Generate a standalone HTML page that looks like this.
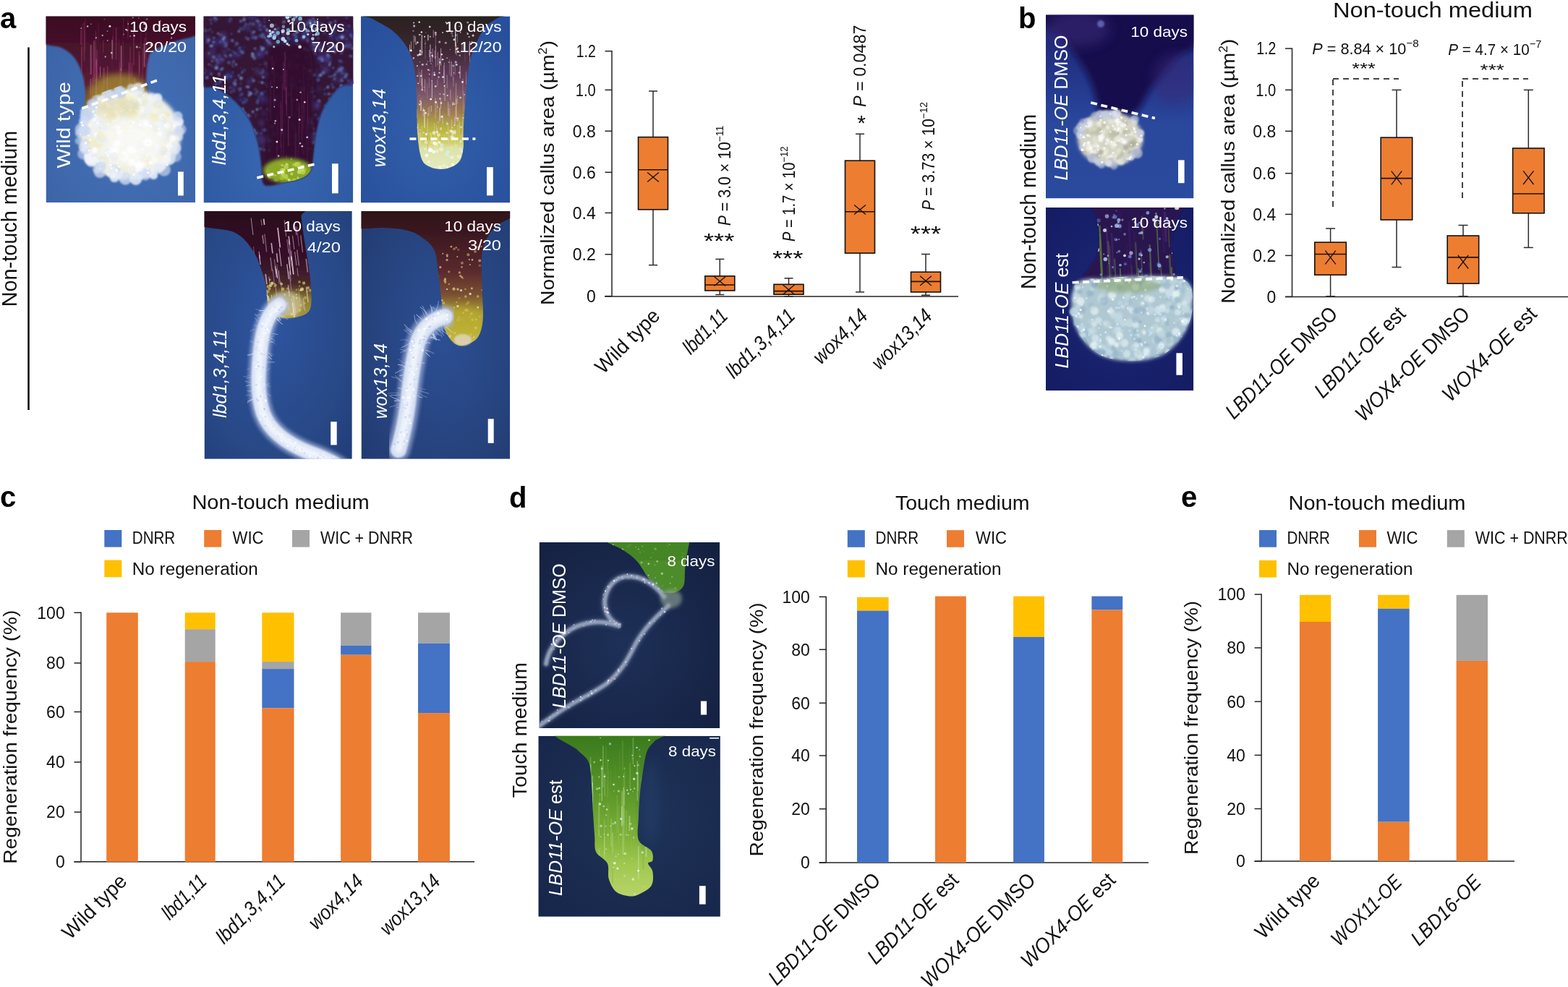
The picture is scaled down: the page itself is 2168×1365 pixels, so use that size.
<!DOCTYPE html><html><head><meta charset="utf-8"><title>Figure</title><style>html,body{margin:0;padding:0;background:#fff;overflow:hidden}svg{display:block}</style></head><body><svg width="2168" height="1365" viewBox="0 0 2168 1365" font-family='"Liberation Sans", Arial, sans-serif'><defs><filter id="b05" x="-20%" y="-20%" width="140%" height="140%"><feGaussianBlur stdDeviation="0.6"/></filter><filter id="b1" x="-20%" y="-20%" width="140%" height="140%"><feGaussianBlur stdDeviation="1.2"/></filter><filter id="b2" x="-20%" y="-20%" width="140%" height="140%"><feGaussianBlur stdDeviation="2.5"/></filter><filter id="b4" x="-30%" y="-30%" width="160%" height="160%"><feGaussianBlur stdDeviation="4"/></filter><filter id="b8" x="-40%" y="-40%" width="180%" height="180%"><feGaussianBlur stdDeviation="8"/></filter><radialGradient id="bgA" cx="55%" cy="60%" r="70%" ><stop offset="0" stop-color="#4672b8"/><stop offset="1" stop-color="#3c64a8"/></radialGradient><linearGradient id="stemA" x1="0" y1="22" x2="0" y2="160" gradientUnits="userSpaceOnUse"><stop offset="0" stop-color="#3a0e22"/><stop offset="0.45" stop-color="#4e1430"/><stop offset="0.7" stop-color="#5a2030"/><stop offset="0.85" stop-color="#7a5a28"/><stop offset="1" stop-color="#8a7a30"/></linearGradient><clipPath id="cpA"><path d="M55.0,15.0 C92.5,8.2 242.5,10.2 280.0,15.0 C317.5,19.8 286.7,36.8 280.0,44.0 C273.3,51.2 251.3,53.7 240.0,58.0 C228.7,62.3 217.8,66.0 212.0,70.0 C206.2,74.0 206.7,75.3 205.0,82.0 C203.3,88.7 202.5,98.7 202.0,110.0 C201.5,121.3 209.0,141.7 202.0,150.0 C195.0,158.3 173.5,158.7 160.0,160.0 C146.5,161.3 128.0,163.8 121.0,158.0 C114.0,152.2 119.2,134.2 118.0,125.0 C116.8,115.8 116.5,110.5 114.0,103.0 C111.5,95.5 107.8,86.2 103.0,80.0 C98.2,73.8 93.0,70.0 85.0,66.0 C77.0,62.0 60.0,64.5 55.0,56.0 C50.0,47.5 17.5,21.8 55.0,15.0 Z"/></clipPath><clipPath id="calA"><path d="M60,158 L280,76 L280,290 L60,290 Z"/></clipPath><clipPath id="cp1"><rect x="63.5" y="22.5" width="206.5" height="257.5"/></clipPath><radialGradient id="bgB" cx="50%" cy="75%" r="70%" ><stop offset="0" stop-color="#3a68b2"/><stop offset="1" stop-color="#2c56a0"/></radialGradient><clipPath id="cpB"><path d="M275.0,15.0 C311.7,-0.8 458.3,-0.2 495.0,15.0 C531.7,30.2 499.2,88.5 495.0,106.0 C490.8,123.5 476.8,114.5 470.0,120.0 C463.2,125.5 458.5,132.3 454.0,139.0 C449.5,145.7 446.0,151.5 443.0,160.0 C440.0,168.5 437.7,180.8 436.0,190.0 C434.3,199.2 434.0,207.5 433.0,215.0 C432.0,222.5 432.5,229.8 430.0,235.0 C427.5,240.2 423.8,243.2 418.0,246.0 C412.2,248.8 403.7,250.3 395.0,252.0 C386.3,253.7 371.5,259.2 366.0,256.0 C360.5,252.8 363.5,242.3 362.0,233.0 C360.5,223.7 359.7,210.8 357.0,200.0 C354.3,189.2 351.3,178.0 346.0,168.0 C340.7,158.0 332.7,147.7 325.0,140.0 C317.3,132.3 308.3,127.0 300.0,122.0 C291.7,117.0 279.2,127.8 275.0,110.0 C270.8,92.2 238.3,30.8 275.0,15.0 Z"/></clipPath><clipPath id="cp2"><rect x="281.5" y="22.5" width="206.8" height="258.0"/></clipPath><radialGradient id="bgC" cx="50%" cy="60%" r="70%" ><stop offset="0" stop-color="#3260aa"/><stop offset="1" stop-color="#284f9c"/></radialGradient><linearGradient id="stemC" x1="0" y1="22" x2="0" y2="235" gradientUnits="userSpaceOnUse"><stop offset="0" stop-color="#2a221e"/><stop offset="0.2" stop-color="#3a2630"/><stop offset="0.38" stop-color="#5e3a56"/><stop offset="0.52" stop-color="#7e5a6a"/><stop offset="0.62" stop-color="#9a7a50"/><stop offset="0.72" stop-color="#b8b040"/><stop offset="0.8" stop-color="#c8c848"/><stop offset="0.86" stop-color="#dde2a8"/><stop offset="1" stop-color="#e6ecc4"/></linearGradient><clipPath id="cpC"><path d="M506.0,20.0 C536.8,19.0 669.3,19.3 700.0,20.0 C730.7,20.7 694.8,21.1 690.0,24.0 C685.2,26.9 676.8,30.4 671.0,37.6 C665.2,44.8 659.3,57.1 655.4,66.9 C651.5,76.7 649.5,84.8 647.6,96.2 C645.7,107.6 644.9,121.4 643.7,135.4 C642.6,149.4 641.2,169.0 640.7,180.4 C640.2,191.8 641.5,196.9 640.7,203.8 C639.9,210.7 638.8,217.5 636.0,222.0 C633.2,226.5 628.3,229.0 624.0,231.0 C619.7,233.0 614.8,234.0 610.0,234.0 C605.2,234.0 599.5,233.3 595.0,231.0 C590.5,228.7 586.0,227.8 583.0,220.0 C580.0,212.2 578.3,198.4 577.2,184.3 C576.1,170.2 576.9,150.1 576.2,135.4 C575.5,120.7 575.3,107.6 573.2,96.2 C571.1,84.8 568.4,75.7 563.5,66.9 C558.6,58.1 552.0,50.2 543.9,43.4 C535.8,36.6 521.3,29.9 515.0,26.0 C508.7,22.1 475.2,21.0 506.0,20.0 Z"/></clipPath><clipPath id="cp3"><rect x="499" y="22.5" width="206.29999999999995" height="258.0"/></clipPath><radialGradient id="bgD" cx="45%" cy="45%" r="75%" ><stop offset="0" stop-color="#2e55a0"/><stop offset="0.7" stop-color="#284886"/><stop offset="1" stop-color="#213e7a"/></radialGradient><linearGradient id="stemD" x1="0" y1="292" x2="0" y2="440" gradientUnits="userSpaceOnUse"><stop offset="0" stop-color="#2a0c1c"/><stop offset="0.5" stop-color="#38122a"/><stop offset="0.68" stop-color="#4a2a2a"/><stop offset="0.82" stop-color="#8a7a30"/><stop offset="1" stop-color="#a89a48"/></linearGradient><clipPath id="cpD"><path d="M275.0,285.0 C298.2,280.7 390.4,282.5 414.0,285.0 C437.6,287.5 415.5,293.1 416.5,300.0 C417.5,306.9 418.4,315.8 420.0,326.7 C421.6,337.6 424.5,353.3 426.2,365.3 C427.9,377.3 429.7,388.6 430.1,398.9 C430.5,409.2 431.4,420.8 428.8,427.2 C426.2,433.6 421.1,435.4 414.6,437.5 C408.1,439.6 397.1,440.9 390.0,440.0 C382.9,439.1 375.6,438.9 372.0,432.0 C368.4,425.1 369.7,407.9 368.2,398.9 C366.7,389.9 366.1,386.8 363.1,378.2 C360.1,369.6 356.6,356.8 350.2,347.3 C343.8,337.9 336.9,327.6 324.4,321.5 C311.9,315.4 283.2,317.1 275.0,311.0 C266.8,304.9 251.8,289.3 275.0,285.0 Z"/></clipPath><clipPath id="cp4"><rect x="282.5" y="292" width="204.3" height="342.79999999999995"/></clipPath><radialGradient id="bgE" cx="55%" cy="50%" r="75%" ><stop offset="0" stop-color="#2c4f94"/><stop offset="0.7" stop-color="#26427c"/><stop offset="1" stop-color="#213a70"/></radialGradient><linearGradient id="stemE" x1="0" y1="292" x2="0" y2="478" gradientUnits="userSpaceOnUse"><stop offset="0" stop-color="#2e1418"/><stop offset="0.2" stop-color="#3e1a22"/><stop offset="0.45" stop-color="#5a2a2e"/><stop offset="0.62" stop-color="#7a5030"/><stop offset="0.75" stop-color="#a89a30"/><stop offset="0.88" stop-color="#b8b030"/><stop offset="1" stop-color="#c8b868"/></linearGradient><clipPath id="cpE"><path d="M490.0,285.0 C527.5,280.2 677.5,283.2 715.0,285.0 C752.5,286.8 719.2,291.8 715.0,296.0 C710.8,300.2 696.6,305.1 690.0,310.0 C683.4,314.9 679.4,318.6 675.5,325.5 C671.6,332.4 667.9,339.7 666.4,351.3 C664.9,362.9 666.2,380.1 666.4,395.1 C666.6,410.1 668.8,429.5 667.7,441.5 C666.6,453.5 664.6,461.2 660.0,467.3 C655.4,473.4 645.8,477.2 640.0,478.0 C634.2,478.8 629.5,476.7 625.0,472.0 C620.5,467.3 615.3,458.5 613.0,450.0 C610.7,441.5 612.2,433.0 611.0,420.9 C609.8,408.8 607.7,389.8 605.9,377.1 C604.1,364.5 604.3,353.5 600.0,345.0 C595.7,336.5 586.7,330.5 580.0,326.0 C573.3,321.5 568.3,319.8 560.0,318.0 C551.7,316.2 541.7,315.7 530.0,315.0 C518.3,314.3 496.7,319.0 490.0,314.0 C483.3,309.0 452.5,289.8 490.0,285.0 Z"/></clipPath><clipPath id="cp5"><rect x="499.5" y="292" width="205.70000000000005" height="342.79999999999995"/></clipPath><linearGradient id="bgF" x1="0" y1="0" x2="0" y2="1"><stop offset="0" stop-color="#1e2470"/><stop offset="0.35" stop-color="#23378a"/><stop offset="0.6" stop-color="#2a489c"/><stop offset="1" stop-color="#2a4a9e"/></linearGradient><clipPath id="cp6"><rect x="1446" y="20.6" width="204.5" height="253.79999999999998"/></clipPath><radialGradient id="bgG" cx="50%" cy="50%" r="70%" ><stop offset="0" stop-color="#1c2878"/><stop offset="1" stop-color="#141c62"/></radialGradient><clipPath id="cpG"><path d="M1516.0,280.0 C1534.7,276.7 1610.0,275.0 1628.0,280.0 C1646.0,285.0 1625.3,300.0 1624.0,310.0 C1622.7,320.0 1620.0,329.7 1620.0,340.0 C1620.0,350.3 1624.0,363.3 1624.0,372.0 C1624.0,380.7 1640.7,388.2 1620.0,392.0 C1599.3,395.8 1519.2,398.3 1500.0,395.0 C1480.8,391.7 1502.3,378.7 1505.0,372.0 C1507.7,365.3 1513.5,362.0 1516.0,355.0 C1518.5,348.0 1520.0,339.2 1520.0,330.0 C1520.0,320.8 1516.7,308.3 1516.0,300.0 C1515.3,291.7 1497.3,283.3 1516.0,280.0 Z"/></clipPath><clipPath id="eggG"><path d="M1484,402 C1484,388 1500,384 1520,386 C1550,382 1600,380 1630,384 C1646,388 1650,400 1649,415 C1650,440 1640,468 1612,488 C1588,503 1540,503 1516,488 C1490,470 1480,440 1482,420 C1480,412 1482,406 1484,402 Z"/></clipPath><clipPath id="cp7"><rect x="1446" y="287" width="204.29999999999995" height="253.29999999999995"/></clipPath><radialGradient id="bgH" cx="45%" cy="55%" r="75%" ><stop offset="0" stop-color="#1e3058"/><stop offset="1" stop-color="#142040"/></radialGradient><clipPath id="cpH"><path d="M828.0,740.0 C847.7,738.3 937.1,738.4 958.0,740.0 C978.9,741.6 955.0,742.5 953.2,749.9 C951.4,757.2 948.7,774.1 947.4,784.1 C946.1,794.1 947.7,803.7 945.4,809.6 C943.1,815.5 937.9,817.6 933.7,819.3 C929.5,821.0 923.6,820.3 920.0,820.0 C916.4,819.7 916.0,820.8 912.1,817.4 C908.2,814.0 901.7,806.6 896.5,799.8 C891.3,792.9 886.7,782.8 880.8,776.3 C874.9,769.8 868.1,765.0 861.3,760.6 C854.5,756.2 845.5,753.4 840.0,750.0 C834.5,746.6 808.3,741.7 828.0,740.0 Z"/></clipPath><clipPath id="cp8"><rect x="745.5" y="750" width="249.79999999999995" height="257"/></clipPath><radialGradient id="bgI" cx="55%" cy="45%" r="75%" ><stop offset="0" stop-color="#1f3358"/><stop offset="1" stop-color="#17264a"/></radialGradient><linearGradient id="stemI" x1="0" y1="1018" x2="0" y2="1240" gradientUnits="userSpaceOnUse"><stop offset="0" stop-color="#3a7a1e"/><stop offset="0.35" stop-color="#5a9628"/><stop offset="0.6" stop-color="#7aae36"/><stop offset="0.8" stop-color="#a0c850"/><stop offset="1" stop-color="#b8d468"/></linearGradient><clipPath id="cpI"><path d="M770.0,1010.0 C789.9,1005.4 895.5,1007.5 918.0,1010.0 C940.5,1012.5 908.9,1020.1 905.0,1025.0 C901.1,1029.9 897.2,1032.0 894.5,1039.3 C891.8,1046.6 890.3,1058.9 888.7,1068.7 C887.1,1078.5 885.8,1087.6 884.8,1098.0 C883.8,1108.4 883.1,1120.6 882.8,1131.3 C882.5,1142.0 880.1,1154.5 883.0,1162.0 C885.9,1169.5 897.2,1171.6 900.4,1176.3 C903.6,1181.0 903.1,1187.0 902.4,1190.0 C901.7,1193.0 896.0,1191.4 896.0,1194.0 C896.0,1196.6 901.7,1200.4 902.4,1205.6 C903.1,1210.8 904.0,1219.8 900.4,1225.2 C896.8,1230.6 886.3,1235.6 880.8,1237.9 C875.3,1240.2 872.1,1239.7 867.2,1238.9 C862.3,1238.1 855.8,1236.9 851.5,1233.0 C847.2,1229.1 843.7,1221.9 841.7,1215.4 C839.8,1208.9 842.7,1200.1 839.8,1193.9 C836.9,1187.7 827.0,1184.4 824.1,1178.2 C821.2,1172.0 822.9,1165.2 822.2,1156.7 C821.6,1148.2 820.9,1138.8 820.2,1127.4 C819.5,1116.0 819.2,1100.3 818.2,1088.2 C817.2,1076.1 817.5,1063.5 814.3,1055.0 C811.0,1046.5 806.1,1044.9 798.7,1037.4 C791.3,1029.9 750.1,1014.6 770.0,1010.0 Z"/></clipPath><clipPath id="cp9"><rect x="744.3" y="1017.8" width="251.60000000000002" height="250.0"/></clipPath></defs><g clip-path="url(#cp1)"><rect x="63.5" y="22.5" width="206.5" height="257.5" fill="url(#bgA)"/><path d="M55.0,15.0 C92.5,8.2 242.5,10.2 280.0,15.0 C317.5,19.8 286.7,36.8 280.0,44.0 C273.3,51.2 251.3,53.7 240.0,58.0 C228.7,62.3 217.8,66.0 212.0,70.0 C206.2,74.0 206.7,75.3 205.0,82.0 C203.3,88.7 202.5,98.7 202.0,110.0 C201.5,121.3 209.0,141.7 202.0,150.0 C195.0,158.3 173.5,158.7 160.0,160.0 C146.5,161.3 128.0,163.8 121.0,158.0 C114.0,152.2 119.2,134.2 118.0,125.0 C116.8,115.8 116.5,110.5 114.0,103.0 C111.5,95.5 107.8,86.2 103.0,80.0 C98.2,73.8 93.0,70.0 85.0,66.0 C77.0,62.0 60.0,64.5 55.0,56.0 C50.0,47.5 17.5,21.8 55.0,15.0 Z" fill="url(#stemA)" filter="url(#b1)"/><g clip-path="url(#cpA)" filter="url(#b05)"><line x1="170.7" y1="25.2" x2="170.7" y2="52.6" stroke="#8a2a5a" stroke-width="1.1" opacity="0.49"/><line x1="194.8" y1="33.1" x2="194.8" y2="67.1" stroke="#a04070" stroke-width="0.8" opacity="0.33"/><line x1="167.2" y1="93.8" x2="167.2" y2="141.1" stroke="#c080b0" stroke-width="1.8" opacity="0.33"/><line x1="166.0" y1="125.6" x2="166.0" y2="140.9" stroke="#c080b0" stroke-width="1.9" opacity="0.37"/><line x1="124.8" y1="144.5" x2="124.8" y2="174.7" stroke="#8a2a5a" stroke-width="0.9" opacity="0.38"/><line x1="142.7" y1="55.9" x2="142.7" y2="72.8" stroke="#8a2a5a" stroke-width="1.4" opacity="0.59"/><line x1="146.0" y1="92.7" x2="146.0" y2="145.0" stroke="#6a1a40" stroke-width="1.7" opacity="0.45"/><line x1="176.9" y1="27.9" x2="176.9" y2="53.1" stroke="#8a2a5a" stroke-width="1.2" opacity="0.55"/><line x1="192.3" y1="70.7" x2="192.3" y2="106.1" stroke="#a04070" stroke-width="2.0" opacity="0.38"/><line x1="129.9" y1="56.2" x2="129.9" y2="113.3" stroke="#a04070" stroke-width="1.7" opacity="0.44"/><line x1="133.3" y1="81.2" x2="133.3" y2="108.3" stroke="#a04070" stroke-width="2.1" opacity="0.49"/><line x1="190.1" y1="121.3" x2="190.1" y2="146.6" stroke="#6a1a40" stroke-width="0.8" opacity="0.39"/><line x1="116.3" y1="138.9" x2="116.3" y2="179.4" stroke="#a04070" stroke-width="1.8" opacity="0.48"/><line x1="147.6" y1="139.1" x2="147.6" y2="174.7" stroke="#a04070" stroke-width="1.2" opacity="0.51"/><line x1="161.2" y1="117.6" x2="161.2" y2="151.9" stroke="#6a1a40" stroke-width="1.6" opacity="0.33"/><line x1="204.8" y1="87.2" x2="204.8" y2="106.3" stroke="#8a2a5a" stroke-width="0.9" opacity="0.30"/><line x1="125.2" y1="109.1" x2="125.2" y2="150.9" stroke="#c080b0" stroke-width="1.3" opacity="0.44"/><line x1="202.3" y1="132.2" x2="202.3" y2="147.7" stroke="#6a1a40" stroke-width="1.8" opacity="0.52"/><line x1="142.3" y1="59.6" x2="142.3" y2="81.7" stroke="#6a1a40" stroke-width="0.8" opacity="0.59"/><line x1="182.4" y1="87.0" x2="182.4" y2="106.8" stroke="#a04070" stroke-width="1.7" opacity="0.30"/><line x1="182.4" y1="91.0" x2="182.4" y2="141.1" stroke="#8a2a5a" stroke-width="1.5" opacity="0.46"/><line x1="156.4" y1="36.3" x2="156.4" y2="67.7" stroke="#6a1a40" stroke-width="2.2" opacity="0.33"/><line x1="132.9" y1="94.6" x2="132.9" y2="113.2" stroke="#8a2a5a" stroke-width="1.8" opacity="0.59"/><line x1="160.6" y1="38.1" x2="160.6" y2="82.8" stroke="#a04070" stroke-width="2.1" opacity="0.34"/><line x1="192.9" y1="76.2" x2="192.9" y2="100.7" stroke="#a04070" stroke-width="1.6" opacity="0.50"/><line x1="147.9" y1="108.0" x2="147.9" y2="139.8" stroke="#c080b0" stroke-width="2.1" opacity="0.29"/><line x1="131.3" y1="65.3" x2="131.3" y2="106.7" stroke="#a04070" stroke-width="1.1" opacity="0.25"/><line x1="177.2" y1="29.5" x2="177.2" y2="47.6" stroke="#6a1a40" stroke-width="0.8" opacity="0.27"/><line x1="132.6" y1="107.6" x2="132.6" y2="132.3" stroke="#c080b0" stroke-width="1.0" opacity="0.34"/><line x1="154.9" y1="74.1" x2="154.9" y2="93.3" stroke="#6a1a40" stroke-width="1.7" opacity="0.40"/><line x1="154.4" y1="115.3" x2="154.4" y2="160.6" stroke="#8a2a5a" stroke-width="2.2" opacity="0.27"/><line x1="179.2" y1="124.5" x2="179.2" y2="144.4" stroke="#c080b0" stroke-width="1.1" opacity="0.30"/><line x1="127.4" y1="81.2" x2="127.4" y2="135.6" stroke="#8a2a5a" stroke-width="0.9" opacity="0.27"/><line x1="204.9" y1="129.0" x2="204.9" y2="187.6" stroke="#a04070" stroke-width="2.1" opacity="0.31"/><line x1="156.1" y1="49.4" x2="156.1" y2="82.4" stroke="#c080b0" stroke-width="0.9" opacity="0.25"/><line x1="147.1" y1="140.6" x2="147.1" y2="190.9" stroke="#c080b0" stroke-width="1.2" opacity="0.30"/><line x1="138.2" y1="146.0" x2="138.2" y2="187.1" stroke="#6a1a40" stroke-width="1.6" opacity="0.27"/><line x1="165.5" y1="86.4" x2="165.5" y2="139.7" stroke="#8a2a5a" stroke-width="1.0" opacity="0.55"/><line x1="116.5" y1="30.7" x2="116.5" y2="84.5" stroke="#a04070" stroke-width="1.4" opacity="0.45"/><line x1="113.8" y1="32.5" x2="113.8" y2="77.1" stroke="#6a1a40" stroke-width="1.6" opacity="0.58"/><line x1="129.4" y1="113.7" x2="129.4" y2="139.4" stroke="#6a1a40" stroke-width="1.4" opacity="0.41"/><line x1="198.3" y1="141.8" x2="198.3" y2="157.2" stroke="#8a2a5a" stroke-width="1.7" opacity="0.28"/><line x1="130.2" y1="55.9" x2="130.2" y2="112.9" stroke="#a04070" stroke-width="2.0" opacity="0.38"/><line x1="125.0" y1="128.7" x2="125.0" y2="175.4" stroke="#8a2a5a" stroke-width="1.7" opacity="0.48"/><line x1="162.7" y1="141.3" x2="162.7" y2="160.9" stroke="#6a1a40" stroke-width="2.0" opacity="0.29"/><line x1="120.2" y1="92.8" x2="120.2" y2="120.1" stroke="#6a1a40" stroke-width="1.6" opacity="0.32"/><line x1="170.3" y1="55.8" x2="170.3" y2="92.8" stroke="#8a2a5a" stroke-width="2.1" opacity="0.28"/><line x1="150.2" y1="57.4" x2="150.2" y2="72.6" stroke="#6a1a40" stroke-width="1.9" opacity="0.31"/><line x1="152.0" y1="112.3" x2="152.0" y2="152.6" stroke="#a04070" stroke-width="1.0" opacity="0.44"/><line x1="189.3" y1="96.6" x2="189.3" y2="118.2" stroke="#6a1a40" stroke-width="1.0" opacity="0.38"/><line x1="198.6" y1="146.4" x2="198.6" y2="163.2" stroke="#a04070" stroke-width="1.3" opacity="0.48"/><line x1="143.6" y1="93.7" x2="143.6" y2="148.0" stroke="#a04070" stroke-width="2.2" opacity="0.57"/><line x1="132.5" y1="42.8" x2="132.5" y2="93.8" stroke="#c080b0" stroke-width="1.0" opacity="0.26"/><line x1="180.0" y1="64.5" x2="180.0" y2="121.4" stroke="#a04070" stroke-width="1.9" opacity="0.34"/><line x1="184.8" y1="35.8" x2="184.8" y2="90.1" stroke="#a04070" stroke-width="2.0" opacity="0.32"/><line x1="197.3" y1="66.8" x2="197.3" y2="118.7" stroke="#a04070" stroke-width="2.0" opacity="0.26"/><line x1="128.3" y1="64.0" x2="128.3" y2="117.9" stroke="#6a1a40" stroke-width="2.2" opacity="0.37"/><line x1="158.4" y1="109.0" x2="158.4" y2="161.9" stroke="#8a2a5a" stroke-width="1.3" opacity="0.29"/><line x1="202.2" y1="44.9" x2="202.2" y2="103.2" stroke="#8a2a5a" stroke-width="1.2" opacity="0.46"/><line x1="142.8" y1="122.7" x2="142.8" y2="157.3" stroke="#8a2a5a" stroke-width="2.2" opacity="0.38"/><line x1="164.8" y1="54.6" x2="164.8" y2="101.5" stroke="#a04070" stroke-width="0.8" opacity="0.38"/><line x1="116.6" y1="107.0" x2="116.6" y2="136.9" stroke="#8a2a5a" stroke-width="1.2" opacity="0.50"/><line x1="138.5" y1="61.6" x2="138.5" y2="95.0" stroke="#6a1a40" stroke-width="1.4" opacity="0.44"/><line x1="128.2" y1="107.1" x2="128.2" y2="139.2" stroke="#a04070" stroke-width="1.8" opacity="0.47"/><line x1="138.6" y1="92.1" x2="138.6" y2="107.2" stroke="#c080b0" stroke-width="1.2" opacity="0.53"/><line x1="167.6" y1="63.2" x2="167.6" y2="98.1" stroke="#c080b0" stroke-width="1.7" opacity="0.53"/><line x1="201.2" y1="116.2" x2="201.2" y2="160.9" stroke="#6a1a40" stroke-width="1.2" opacity="0.28"/><line x1="200.4" y1="52.1" x2="200.4" y2="81.0" stroke="#a04070" stroke-width="1.9" opacity="0.26"/><line x1="133.3" y1="82.8" x2="133.3" y2="136.1" stroke="#c080b0" stroke-width="0.9" opacity="0.56"/><line x1="164.7" y1="113.9" x2="164.7" y2="146.2" stroke="#a04070" stroke-width="1.4" opacity="0.48"/><line x1="110.5" y1="118.1" x2="110.5" y2="167.8" stroke="#c080b0" stroke-width="0.9" opacity="0.33"/><line x1="186.4" y1="111.1" x2="186.4" y2="147.0" stroke="#8a2a5a" stroke-width="1.6" opacity="0.41"/><line x1="186.1" y1="107.4" x2="186.1" y2="166.9" stroke="#c080b0" stroke-width="1.6" opacity="0.46"/><line x1="178.3" y1="86.6" x2="178.3" y2="139.0" stroke="#a04070" stroke-width="1.6" opacity="0.51"/><line x1="155.1" y1="55.2" x2="155.1" y2="81.3" stroke="#c080b0" stroke-width="1.7" opacity="0.47"/><line x1="136.1" y1="31.9" x2="136.1" y2="59.8" stroke="#6a1a40" stroke-width="1.2" opacity="0.56"/><line x1="117.7" y1="41.3" x2="117.7" y2="73.5" stroke="#a04070" stroke-width="1.0" opacity="0.27"/><line x1="148.7" y1="91.5" x2="148.7" y2="125.2" stroke="#c080b0" stroke-width="1.1" opacity="0.39"/><line x1="183.1" y1="143.1" x2="183.1" y2="159.0" stroke="#c080b0" stroke-width="2.0" opacity="0.42"/><line x1="199.6" y1="60.2" x2="199.6" y2="92.8" stroke="#c080b0" stroke-width="2.0" opacity="0.44"/><line x1="179.8" y1="124.4" x2="179.8" y2="179.8" stroke="#6a1a40" stroke-width="1.5" opacity="0.40"/><line x1="112.8" y1="65.0" x2="112.8" y2="110.6" stroke="#a04070" stroke-width="1.4" opacity="0.54"/><line x1="197.4" y1="147.5" x2="197.4" y2="186.6" stroke="#8a2a5a" stroke-width="2.1" opacity="0.28"/><line x1="150.7" y1="133.0" x2="150.7" y2="156.1" stroke="#6a1a40" stroke-width="1.2" opacity="0.32"/><line x1="141.1" y1="119.4" x2="141.1" y2="151.5" stroke="#c080b0" stroke-width="1.9" opacity="0.34"/><line x1="117.8" y1="24.5" x2="117.8" y2="63.8" stroke="#6a1a40" stroke-width="2.2" opacity="0.33"/><line x1="116.5" y1="144.5" x2="116.5" y2="161.3" stroke="#a04070" stroke-width="0.8" opacity="0.32"/><line x1="111.9" y1="41.5" x2="111.9" y2="62.2" stroke="#a04070" stroke-width="1.7" opacity="0.41"/><line x1="134.3" y1="69.2" x2="134.3" y2="111.5" stroke="#8a2a5a" stroke-width="2.1" opacity="0.52"/><line x1="125.6" y1="61.8" x2="125.6" y2="102.9" stroke="#c080b0" stroke-width="2.1" opacity="0.39"/><circle cx="203.0" cy="26.4" r="1.3" fill="#a0a0e0" opacity="0.52"/><circle cx="200.6" cy="39.5" r="1.3" fill="#c8c8f0" opacity="0.80"/><circle cx="183.6" cy="24.4" r="1.2" fill="#a0a0e0" opacity="0.59"/><circle cx="175.8" cy="41.8" r="1.5" fill="#ffffff" opacity="0.45"/><circle cx="234.9" cy="58.9" r="1.4" fill="#a0a0e0" opacity="0.48"/><circle cx="132.9" cy="52.3" r="1.3" fill="#a0a0e0" opacity="0.80"/><circle cx="180.0" cy="50.0" r="1.1" fill="#a0a0e0" opacity="0.70"/><circle cx="151.9" cy="36.2" r="1.5" fill="#ffffff" opacity="0.84"/><circle cx="141.7" cy="49.0" r="1.2" fill="#ffffff" opacity="0.57"/><circle cx="174.3" cy="40.9" r="1.1" fill="#ffffff" opacity="0.80"/><circle cx="154.2" cy="73.1" r="1.3" fill="#ffffff" opacity="0.68"/><circle cx="177.2" cy="33.1" r="0.9" fill="#ffffff" opacity="0.64"/><circle cx="208.6" cy="62.1" r="1.3" fill="#ffffff" opacity="0.62"/><circle cx="112.2" cy="39.1" r="1.1" fill="#c8c8f0" opacity="0.55"/><circle cx="185.6" cy="49.4" r="1.2" fill="#ffffff" opacity="0.90"/><circle cx="181.6" cy="42.4" r="1.1" fill="#ffffff" opacity="0.53"/><circle cx="125.7" cy="33.2" r="0.8" fill="#a0a0e0" opacity="0.88"/><circle cx="199.7" cy="33.1" r="1.4" fill="#ffffff" opacity="0.76"/><circle cx="237.0" cy="52.4" r="1.0" fill="#c8c8f0" opacity="0.82"/><circle cx="148.5" cy="42.9" r="1.0" fill="#a0a0e0" opacity="0.67"/><circle cx="145.7" cy="78.5" r="1.2" fill="#a0a0e0" opacity="0.87"/><circle cx="192.9" cy="65.7" r="0.8" fill="#c8c8f0" opacity="0.69"/><circle cx="171.0" cy="47.5" r="0.9" fill="#c8c8f0" opacity="0.53"/><circle cx="222.0" cy="28.6" r="0.8" fill="#ffffff" opacity="0.44"/><circle cx="191.8" cy="25.1" r="0.8" fill="#a0a0e0" opacity="0.87"/><circle cx="121.1" cy="36.4" r="1.2" fill="#ffffff" opacity="0.70"/><circle cx="212.8" cy="35.1" r="1.2" fill="#ffffff" opacity="0.85"/><circle cx="148.7" cy="56.1" r="1.1" fill="#a0a0e0" opacity="0.71"/><circle cx="189.3" cy="64.9" r="1.6" fill="#c8c8f0" opacity="0.71"/><circle cx="144.4" cy="26.7" r="0.9" fill="#a0a0e0" opacity="0.44"/><ellipse cx="165" cy="128" rx="42" ry="26" fill="#a89030" opacity="0.75" filter="url(#b4)"/></g><g clip-path="url(#calA)"><ellipse cx="180" cy="186" rx="70" ry="62" fill="#eef0e6" filter="url(#b2)"/><g filter="url(#b1)"><circle cx="224.6" cy="186.7" r="5.4" fill="#eef2f8" opacity="0.51"/><circle cx="171.6" cy="216.4" r="6.4" fill="#ffffff" opacity="0.81"/><circle cx="232.4" cy="161.9" r="5.5" fill="#f6f4e0" opacity="0.69"/><circle cx="128.6" cy="172.9" r="6.6" fill="#f6f4e0" opacity="0.53"/><circle cx="198.6" cy="214.2" r="6.0" fill="#e4e8e0" opacity="0.91"/><circle cx="137.8" cy="201.0" r="4.2" fill="#f0ecc8" opacity="0.92"/><circle cx="133.3" cy="185.9" r="3.3" fill="#ffffff" opacity="0.90"/><circle cx="175.0" cy="140.5" r="3.1" fill="#f6f4e0" opacity="0.93"/><circle cx="205.9" cy="147.7" r="6.8" fill="#eef2f8" opacity="0.76"/><circle cx="182.3" cy="161.4" r="5.1" fill="#f0ecc8" opacity="0.91"/><circle cx="201.2" cy="227.0" r="5.5" fill="#f0ecc8" opacity="0.94"/><circle cx="138.3" cy="193.1" r="4.3" fill="#ffffff" opacity="0.89"/><circle cx="153.4" cy="229.0" r="4.2" fill="#f0ecc8" opacity="0.87"/><circle cx="137.4" cy="173.7" r="4.3" fill="#eef2f8" opacity="0.55"/><circle cx="188.7" cy="131.8" r="6.3" fill="#ffffff" opacity="0.80"/><circle cx="138.8" cy="176.0" r="3.8" fill="#eef2f8" opacity="0.78"/><circle cx="135.8" cy="186.4" r="3.2" fill="#eef2f8" opacity="0.75"/><circle cx="219.5" cy="168.9" r="5.8" fill="#ffffff" opacity="0.51"/><circle cx="139.3" cy="147.6" r="5.8" fill="#eef2f8" opacity="0.75"/><circle cx="160.8" cy="180.2" r="7.0" fill="#ffffff" opacity="0.71"/><circle cx="224.9" cy="222.2" r="5.0" fill="#eef2f8" opacity="0.73"/><circle cx="171.1" cy="239.2" r="6.9" fill="#f6f4e0" opacity="0.71"/><circle cx="197.8" cy="206.3" r="5.4" fill="#f6f4e0" opacity="0.89"/><circle cx="170.3" cy="237.6" r="4.7" fill="#e4e8e0" opacity="0.62"/><circle cx="236.7" cy="186.8" r="6.3" fill="#e4e8e0" opacity="0.95"/><circle cx="154.4" cy="187.5" r="5.2" fill="#eef2f8" opacity="0.65"/><circle cx="183.3" cy="149.9" r="6.7" fill="#f6f4e0" opacity="0.94"/><circle cx="182.9" cy="222.4" r="6.4" fill="#f0ecc8" opacity="0.52"/><circle cx="178.1" cy="136.6" r="6.2" fill="#f0ecc8" opacity="0.94"/><circle cx="194.1" cy="140.1" r="3.6" fill="#ffffff" opacity="0.56"/><circle cx="217.4" cy="178.7" r="3.4" fill="#f0ecc8" opacity="0.54"/><circle cx="187.0" cy="182.1" r="3.6" fill="#f6f4e0" opacity="0.53"/><circle cx="186.7" cy="156.3" r="5.5" fill="#f0ecc8" opacity="0.79"/><circle cx="216.6" cy="142.4" r="6.4" fill="#f0ecc8" opacity="0.93"/><circle cx="136.2" cy="146.3" r="5.0" fill="#e4e8e0" opacity="0.52"/><circle cx="228.0" cy="205.5" r="6.7" fill="#f6f4e0" opacity="0.84"/><circle cx="160.9" cy="193.4" r="5.5" fill="#ffffff" opacity="0.70"/><circle cx="158.2" cy="133.4" r="3.2" fill="#ffffff" opacity="0.63"/><circle cx="162.1" cy="201.9" r="5.1" fill="#e4e8e0" opacity="0.81"/><circle cx="191.8" cy="208.3" r="5.4" fill="#f0ecc8" opacity="0.78"/><circle cx="183.7" cy="242.2" r="3.6" fill="#f0ecc8" opacity="0.79"/><circle cx="127.4" cy="198.1" r="6.6" fill="#f0ecc8" opacity="0.91"/><circle cx="168.4" cy="165.0" r="4.8" fill="#eef2f8" opacity="0.94"/><circle cx="160.2" cy="241.0" r="5.8" fill="#f0ecc8" opacity="0.88"/><circle cx="192.9" cy="220.7" r="4.9" fill="#f6f4e0" opacity="0.67"/><circle cx="157.1" cy="210.8" r="5.8" fill="#ffffff" opacity="0.94"/><circle cx="161.0" cy="160.1" r="5.3" fill="#ffffff" opacity="0.91"/><circle cx="178.2" cy="132.3" r="6.6" fill="#f6f4e0" opacity="0.77"/><circle cx="148.2" cy="223.6" r="5.5" fill="#f6f4e0" opacity="0.78"/><circle cx="223.9" cy="159.0" r="4.2" fill="#f0ecc8" opacity="0.52"/><circle cx="164.1" cy="202.0" r="6.6" fill="#eef2f8" opacity="0.84"/><circle cx="190.9" cy="205.1" r="5.2" fill="#eef2f8" opacity="0.74"/><circle cx="231.9" cy="158.2" r="4.0" fill="#f0ecc8" opacity="0.94"/><circle cx="162.6" cy="238.8" r="6.2" fill="#f0ecc8" opacity="0.93"/><circle cx="221.4" cy="230.8" r="6.4" fill="#f0ecc8" opacity="0.94"/><circle cx="193.5" cy="152.5" r="6.2" fill="#ffffff" opacity="0.62"/><circle cx="208.8" cy="211.1" r="6.0" fill="#eef2f8" opacity="0.76"/><circle cx="208.3" cy="134.7" r="3.4" fill="#f6f4e0" opacity="0.71"/><circle cx="132.8" cy="147.0" r="4.3" fill="#e4e8e0" opacity="0.60"/><circle cx="235.7" cy="206.7" r="6.6" fill="#eef2f8" opacity="0.79"/><circle cx="190.5" cy="194.4" r="3.1" fill="#f0ecc8" opacity="0.55"/><circle cx="184.6" cy="229.0" r="4.6" fill="#eef2f8" opacity="0.80"/><circle cx="177.2" cy="128.8" r="4.7" fill="#f6f4e0" opacity="0.90"/><circle cx="145.8" cy="141.5" r="5.5" fill="#eef2f8" opacity="0.51"/><circle cx="149.6" cy="214.5" r="6.8" fill="#eef2f8" opacity="0.54"/><circle cx="160.7" cy="146.0" r="6.9" fill="#eef2f8" opacity="0.53"/><circle cx="169.4" cy="243.2" r="6.8" fill="#f0ecc8" opacity="0.54"/><circle cx="192.5" cy="231.8" r="6.9" fill="#ffffff" opacity="0.85"/><circle cx="181.0" cy="206.9" r="5.3" fill="#ffffff" opacity="0.87"/><circle cx="132.0" cy="170.9" r="6.3" fill="#f6f4e0" opacity="0.65"/><circle cx="217.9" cy="230.7" r="3.0" fill="#f6f4e0" opacity="0.94"/><circle cx="122.5" cy="172.8" r="3.4" fill="#ffffff" opacity="0.56"/><circle cx="142.9" cy="226.7" r="5.4" fill="#ffffff" opacity="0.58"/><circle cx="234.2" cy="202.4" r="5.1" fill="#ffffff" opacity="0.71"/><circle cx="188.3" cy="144.5" r="3.4" fill="#e4e8e0" opacity="0.60"/><circle cx="137.5" cy="152.8" r="6.6" fill="#e4e8e0" opacity="0.64"/><circle cx="172.7" cy="177.9" r="7.0" fill="#f0ecc8" opacity="0.69"/><circle cx="223.7" cy="217.2" r="4.8" fill="#ffffff" opacity="0.64"/><circle cx="194.1" cy="202.8" r="5.5" fill="#e4e8e0" opacity="0.75"/><circle cx="149.8" cy="238.3" r="5.1" fill="#f0ecc8" opacity="0.73"/><circle cx="126.4" cy="208.3" r="3.5" fill="#e4e8e0" opacity="0.82"/><circle cx="189.7" cy="224.6" r="3.9" fill="#eef2f8" opacity="0.87"/><circle cx="134.3" cy="215.9" r="4.3" fill="#eef2f8" opacity="0.80"/><circle cx="161.7" cy="202.3" r="6.7" fill="#ffffff" opacity="0.54"/><circle cx="217.6" cy="205.8" r="6.0" fill="#eef2f8" opacity="0.87"/><circle cx="132.2" cy="170.4" r="5.2" fill="#eef2f8" opacity="0.80"/><circle cx="127.4" cy="215.3" r="6.8" fill="#f0ecc8" opacity="0.89"/><circle cx="168.2" cy="129.0" r="5.4" fill="#eef2f8" opacity="0.55"/><circle cx="153.9" cy="184.9" r="4.9" fill="#ffffff" opacity="0.66"/><circle cx="158.9" cy="179.1" r="4.1" fill="#f6f4e0" opacity="0.86"/><circle cx="217.0" cy="137.9" r="6.3" fill="#e4e8e0" opacity="0.80"/><circle cx="131.4" cy="170.0" r="5.6" fill="#eef2f8" opacity="0.51"/><circle cx="171.5" cy="236.9" r="6.7" fill="#eef2f8" opacity="0.50"/><circle cx="214.2" cy="153.7" r="4.6" fill="#f6f4e0" opacity="0.83"/><circle cx="199.8" cy="182.9" r="5.1" fill="#f0ecc8" opacity="0.69"/><circle cx="158.1" cy="216.1" r="5.9" fill="#e4e8e0" opacity="0.77"/><circle cx="199.5" cy="170.5" r="6.0" fill="#ffffff" opacity="0.80"/><circle cx="172.5" cy="233.5" r="4.9" fill="#f0ecc8" opacity="0.69"/><circle cx="190.2" cy="227.2" r="4.4" fill="#ffffff" opacity="0.63"/><circle cx="159.8" cy="149.0" r="5.7" fill="#ffffff" opacity="0.60"/><circle cx="195.5" cy="184.7" r="3.8" fill="#f6f4e0" opacity="0.85"/><circle cx="183.2" cy="154.4" r="3.5" fill="#f0ecc8" opacity="0.84"/><circle cx="198.5" cy="218.4" r="5.8" fill="#e4e8e0" opacity="0.75"/><circle cx="160.5" cy="155.5" r="4.6" fill="#ffffff" opacity="0.70"/><circle cx="162.0" cy="190.1" r="4.3" fill="#f0ecc8" opacity="0.76"/><circle cx="169.2" cy="149.2" r="3.5" fill="#ffffff" opacity="0.93"/><circle cx="210.5" cy="236.6" r="4.8" fill="#eef2f8" opacity="0.54"/><circle cx="198.3" cy="161.9" r="5.4" fill="#e4e8e0" opacity="0.54"/><circle cx="219.5" cy="149.0" r="3.9" fill="#f6f4e0" opacity="0.53"/><circle cx="147.6" cy="154.1" r="3.8" fill="#eef2f8" opacity="0.66"/><circle cx="231.6" cy="173.7" r="3.6" fill="#ffffff" opacity="0.57"/><circle cx="196.8" cy="229.2" r="6.0" fill="#ffffff" opacity="0.58"/><circle cx="186.7" cy="145.0" r="6.0" fill="#e4e8e0" opacity="0.70"/><circle cx="224.4" cy="165.7" r="5.5" fill="#e4e8e0" opacity="0.65"/><circle cx="216.8" cy="180.0" r="4.8" fill="#f0ecc8" opacity="0.70"/><circle cx="168.6" cy="215.2" r="3.2" fill="#e4e8e0" opacity="0.53"/><circle cx="167.5" cy="188.7" r="4.5" fill="#eef2f8" opacity="0.53"/><circle cx="220.5" cy="145.0" r="5.5" fill="#e4e8e0" opacity="0.67"/><circle cx="123.1" cy="158.2" r="6.0" fill="#ffffff" opacity="0.70"/><circle cx="199.7" cy="141.8" r="4.3" fill="#f0ecc8" opacity="0.73"/><circle cx="223.1" cy="175.6" r="6.2" fill="#eef2f8" opacity="0.94"/><circle cx="226.1" cy="209.9" r="3.2" fill="#f0ecc8" opacity="0.95"/><circle cx="128.7" cy="179.1" r="4.5" fill="#eef2f8" opacity="0.67"/><circle cx="188.4" cy="138.0" r="3.2" fill="#eef2f8" opacity="0.53"/><circle cx="225.4" cy="213.1" r="4.1" fill="#e4e8e0" opacity="0.89"/><circle cx="154.6" cy="224.9" r="3.6" fill="#eef2f8" opacity="0.64"/><circle cx="149.9" cy="146.2" r="3.5" fill="#ffffff" opacity="0.64"/><circle cx="137.7" cy="222.7" r="6.3" fill="#e4e8e0" opacity="0.54"/><circle cx="157.3" cy="149.1" r="3.1" fill="#eef2f8" opacity="0.58"/><circle cx="194.4" cy="241.9" r="4.9" fill="#f6f4e0" opacity="0.95"/><circle cx="200.3" cy="212.5" r="6.2" fill="#e4e8e0" opacity="0.85"/><circle cx="211.9" cy="138.4" r="3.2" fill="#eef2f8" opacity="0.89"/><circle cx="142.1" cy="155.3" r="3.6" fill="#f6f4e0" opacity="0.87"/><circle cx="187.9" cy="133.5" r="3.7" fill="#f0ecc8" opacity="0.52"/><circle cx="142.9" cy="223.6" r="6.9" fill="#e4e8e0" opacity="0.63"/><circle cx="179.6" cy="146.5" r="5.1" fill="#eef2f8" opacity="0.93"/><circle cx="193.5" cy="131.3" r="3.8" fill="#e4e8e0" opacity="0.94"/><circle cx="145.7" cy="193.5" r="4.5" fill="#e4e8e0" opacity="0.69"/><circle cx="195.6" cy="208.4" r="5.4" fill="#eef2f8" opacity="0.52"/><circle cx="139.8" cy="190.4" r="6.7" fill="#e4e8e0" opacity="0.88"/><circle cx="167.3" cy="236.2" r="4.1" fill="#e4e8e0" opacity="0.57"/><circle cx="120.2" cy="207.9" r="3.9" fill="#f0ecc8" opacity="0.90"/><circle cx="218.8" cy="169.9" r="4.6" fill="#eef2f8" opacity="0.61"/><circle cx="220.7" cy="184.8" r="3.1" fill="#ffffff" opacity="0.88"/><circle cx="145.2" cy="143.6" r="3.6" fill="#eef2f8" opacity="0.91"/><circle cx="120.3" cy="195.2" r="6.0" fill="#f0ecc8" opacity="0.70"/><circle cx="198.7" cy="186.5" r="4.0" fill="#f6f4e0" opacity="0.75"/><circle cx="173.1" cy="143.6" r="3.4" fill="#eef2f8" opacity="0.61"/><circle cx="203.4" cy="205.9" r="5.6" fill="#e4e8e0" opacity="0.71"/><circle cx="228.5" cy="222.0" r="5.4" fill="#ffffff" opacity="0.78"/><circle cx="129.8" cy="163.3" r="4.2" fill="#ffffff" opacity="0.78"/><circle cx="182.5" cy="223.9" r="5.7" fill="#ffffff" opacity="0.74"/><circle cx="138.4" cy="230.2" r="5.2" fill="#e4e8e0" opacity="0.75"/><circle cx="144.8" cy="211.7" r="5.5" fill="#eef2f8" opacity="0.61"/><circle cx="238.7" cy="191.3" r="4.4" fill="#ffffff" opacity="0.85"/><circle cx="176.4" cy="152.2" r="3.2" fill="#e4e8e0" opacity="0.65"/><circle cx="142.2" cy="144.0" r="5.7" fill="#f0ecc8" opacity="0.78"/><circle cx="186.3" cy="172.3" r="6.1" fill="#f0ecc8" opacity="0.52"/><circle cx="197.7" cy="236.0" r="6.5" fill="#eef2f8" opacity="0.92"/><circle cx="114.2" cy="180.3" r="5.2" fill="#eef2f8" opacity="0.52"/><circle cx="158.5" cy="160.9" r="6.4" fill="#ffffff" opacity="0.89"/><circle cx="168.4" cy="204.1" r="4.5" fill="#f0ecc8" opacity="0.83"/><circle cx="212.6" cy="163.5" r="6.9" fill="#f0ecc8" opacity="0.81"/><circle cx="140.1" cy="224.9" r="4.1" fill="#ffffff" opacity="0.83"/><circle cx="225.4" cy="207.8" r="6.3" fill="#e4e8e0" opacity="0.63"/><circle cx="210.4" cy="206.3" r="4.2" fill="#f0ecc8" opacity="0.77"/><circle cx="130.6" cy="207.9" r="4.4" fill="#ffffff" opacity="0.83"/><circle cx="224.3" cy="161.6" r="4.7" fill="#ffffff" opacity="0.53"/><circle cx="154.0" cy="159.0" r="6.2" fill="#f6f4e0" opacity="0.93"/><circle cx="212.3" cy="221.9" r="6.1" fill="#ffffff" opacity="0.56"/><circle cx="184.7" cy="233.1" r="4.4" fill="#e4e8e0" opacity="0.51"/><circle cx="205.4" cy="218.5" r="4.5" fill="#f0ecc8" opacity="0.84"/><circle cx="136.7" cy="166.8" r="4.6" fill="#eef2f8" opacity="0.61"/><circle cx="223.2" cy="219.0" r="5.0" fill="#f0ecc8" opacity="0.91"/><circle cx="223.2" cy="221.0" r="5.8" fill="#f6f4e0" opacity="0.95"/><circle cx="165.9" cy="241.0" r="5.0" fill="#ffffff" opacity="0.56"/><circle cx="204.7" cy="197.0" r="5.9" fill="#ffffff" opacity="0.86"/><circle cx="244.7" cy="174.2" r="5.7" fill="#ffffff" opacity="0.75"/><circle cx="170.9" cy="217.2" r="3.6" fill="#f6f4e0" opacity="0.86"/><circle cx="156.9" cy="184.9" r="3.8" fill="#f6f4e0" opacity="0.61"/><circle cx="140.1" cy="187.3" r="5.3" fill="#f0ecc8" opacity="0.86"/><circle cx="130.7" cy="171.3" r="3.3" fill="#eef2f8" opacity="0.68"/><circle cx="170.5" cy="146.1" r="4.6" fill="#f0ecc8" opacity="0.87"/><circle cx="238.7" cy="212.0" r="5.6" fill="#f0ecc8" opacity="0.71"/><circle cx="156.3" cy="183.7" r="6.3" fill="#e4e8e0" opacity="0.79"/><circle cx="207.1" cy="238.7" r="4.7" fill="#ffffff" opacity="0.87"/><circle cx="143.6" cy="182.3" r="3.6" fill="#f6f4e0" opacity="0.66"/><circle cx="238.6" cy="165.8" r="6.4" fill="#eef2f8" opacity="0.59"/><circle cx="213.5" cy="177.6" r="5.5" fill="#e4e8e0" opacity="0.74"/><circle cx="152.7" cy="185.6" r="6.8" fill="#f6f4e0" opacity="0.58"/><circle cx="135.2" cy="146.6" r="4.4" fill="#e4e8e0" opacity="0.52"/><circle cx="192.4" cy="173.3" r="6.8" fill="#e4e8e0" opacity="0.62"/><circle cx="192.3" cy="229.2" r="5.5" fill="#ffffff" opacity="0.72"/><circle cx="155.0" cy="163.3" r="6.8" fill="#f0ecc8" opacity="0.61"/><circle cx="194.9" cy="150.9" r="4.8" fill="#ffffff" opacity="0.57"/><circle cx="140.9" cy="206.3" r="4.4" fill="#f6f4e0" opacity="0.64"/><circle cx="168.7" cy="136.5" r="6.4" fill="#f0ecc8" opacity="0.56"/><circle cx="145.8" cy="218.1" r="4.3" fill="#f0ecc8" opacity="0.56"/><circle cx="156.3" cy="192.9" r="3.2" fill="#f0ecc8" opacity="0.89"/><circle cx="123.2" cy="214.4" r="6.6" fill="#eef2f8" opacity="0.92"/></g><g filter="url(#b1)"><circle cx="168.5" cy="130.5" r="5.6" fill="#c4d4ee" opacity="0.70"/><circle cx="157.8" cy="237.1" r="8.8" fill="#c4d4ee" opacity="0.89"/><circle cx="194.2" cy="242.7" r="5.2" fill="#c4d4ee" opacity="0.74"/><circle cx="218.1" cy="134.9" r="6.1" fill="#e4ecf8" opacity="0.84"/><circle cx="115.1" cy="212.6" r="7.9" fill="#c4d4ee" opacity="0.65"/><circle cx="124.9" cy="221.2" r="5.8" fill="#f2f4fa" opacity="0.53"/><circle cx="109.9" cy="184.3" r="6.1" fill="#e4ecf8" opacity="0.55"/><circle cx="234.0" cy="219.3" r="8.9" fill="#f2f4fa" opacity="0.80"/><circle cx="201.2" cy="242.6" r="7.0" fill="#e4ecf8" opacity="0.52"/><circle cx="164.0" cy="125.1" r="7.1" fill="#d0dcf2" opacity="0.74"/><circle cx="115.0" cy="180.4" r="7.5" fill="#d0dcf2" opacity="0.66"/><circle cx="127.2" cy="143.9" r="7.4" fill="#c4d4ee" opacity="0.78"/><circle cx="158.2" cy="245.6" r="6.5" fill="#e4ecf8" opacity="0.89"/><circle cx="119.0" cy="154.6" r="7.9" fill="#e4ecf8" opacity="0.74"/><circle cx="173.3" cy="246.8" r="8.9" fill="#d0dcf2" opacity="0.79"/><circle cx="125.0" cy="157.8" r="7.5" fill="#c4d4ee" opacity="0.56"/><circle cx="153.9" cy="136.2" r="8.8" fill="#e4ecf8" opacity="0.58"/><circle cx="118.2" cy="207.3" r="6.7" fill="#d0dcf2" opacity="0.66"/><circle cx="191.2" cy="123.1" r="8.5" fill="#e4ecf8" opacity="0.78"/><circle cx="112.6" cy="179.0" r="9.0" fill="#c4d4ee" opacity="0.71"/><circle cx="155.2" cy="237.8" r="8.6" fill="#f2f4fa" opacity="0.72"/><circle cx="148.0" cy="129.6" r="7.7" fill="#f2f4fa" opacity="0.74"/><circle cx="202.8" cy="239.3" r="7.2" fill="#d0dcf2" opacity="0.88"/><circle cx="249.8" cy="179.1" r="7.8" fill="#c4d4ee" opacity="0.63"/><circle cx="138.1" cy="237.9" r="8.2" fill="#f2f4fa" opacity="0.62"/><circle cx="119.4" cy="159.3" r="8.6" fill="#c4d4ee" opacity="0.83"/><circle cx="247.8" cy="168.4" r="6.2" fill="#f2f4fa" opacity="0.88"/><circle cx="243.3" cy="216.4" r="7.6" fill="#c4d4ee" opacity="0.59"/><circle cx="210.4" cy="135.5" r="7.2" fill="#f2f4fa" opacity="0.55"/><circle cx="129.1" cy="145.9" r="6.0" fill="#d0dcf2" opacity="0.76"/><circle cx="242.7" cy="205.0" r="7.9" fill="#e4ecf8" opacity="0.77"/><circle cx="227.0" cy="234.8" r="8.9" fill="#d0dcf2" opacity="0.66"/><circle cx="245.6" cy="160.9" r="6.9" fill="#d0dcf2" opacity="0.80"/><circle cx="165.0" cy="241.8" r="5.2" fill="#e4ecf8" opacity="0.76"/><circle cx="187.8" cy="247.5" r="8.4" fill="#e4ecf8" opacity="0.87"/><circle cx="212.4" cy="242.4" r="5.7" fill="#e4ecf8" opacity="0.90"/><circle cx="126.4" cy="221.9" r="8.7" fill="#f2f4fa" opacity="0.85"/><circle cx="247.8" cy="189.5" r="5.4" fill="#f2f4fa" opacity="0.61"/><circle cx="247.5" cy="181.9" r="7.0" fill="#d0dcf2" opacity="0.84"/><circle cx="117.5" cy="197.3" r="5.5" fill="#d0dcf2" opacity="0.79"/><circle cx="138.5" cy="136.5" r="5.1" fill="#f2f4fa" opacity="0.82"/><circle cx="116.2" cy="160.4" r="5.7" fill="#c4d4ee" opacity="0.83"/><circle cx="117.7" cy="180.7" r="7.7" fill="#d0dcf2" opacity="0.89"/><circle cx="108.6" cy="195.0" r="5.0" fill="#c4d4ee" opacity="0.59"/><circle cx="181.7" cy="122.0" r="6.2" fill="#e4ecf8" opacity="0.60"/><circle cx="139.2" cy="229.9" r="7.7" fill="#c4d4ee" opacity="0.62"/><circle cx="124.3" cy="219.3" r="8.6" fill="#f2f4fa" opacity="0.78"/><circle cx="133.6" cy="137.1" r="6.5" fill="#d0dcf2" opacity="0.59"/><circle cx="222.3" cy="227.7" r="8.0" fill="#f2f4fa" opacity="0.67"/><circle cx="116.3" cy="168.0" r="7.2" fill="#d0dcf2" opacity="0.80"/><circle cx="151.1" cy="131.2" r="8.1" fill="#c4d4ee" opacity="0.71"/><circle cx="133.6" cy="234.6" r="5.4" fill="#d0dcf2" opacity="0.73"/><circle cx="218.4" cy="232.7" r="7.1" fill="#e4ecf8" opacity="0.77"/><circle cx="166.2" cy="127.9" r="8.6" fill="#c4d4ee" opacity="0.82"/><circle cx="115.5" cy="203.2" r="6.8" fill="#e4ecf8" opacity="0.72"/></g><g filter="url(#b05)"><circle cx="161.9" cy="155.6" r="0.8" fill="#ffffff" opacity="0.93"/><circle cx="178.6" cy="138.9" r="0.9" fill="#ffffff" opacity="0.88"/><circle cx="163.4" cy="182.1" r="1.9" fill="#ffffff" opacity="0.61"/><circle cx="128.4" cy="215.5" r="1.7" fill="#dfe8ff" opacity="0.86"/><circle cx="118.8" cy="215.6" r="1.3" fill="#ffffff" opacity="0.75"/><circle cx="156.6" cy="140.0" r="1.4" fill="#dfe8ff" opacity="0.94"/><circle cx="231.3" cy="227.9" r="1.3" fill="#ffffff" opacity="0.89"/><circle cx="180.7" cy="189.6" r="0.8" fill="#ffffff" opacity="0.79"/><circle cx="171.2" cy="146.4" r="1.3" fill="#ffffff" opacity="0.70"/><circle cx="159.1" cy="212.8" r="1.9" fill="#dfe8ff" opacity="0.91"/><circle cx="235.7" cy="196.1" r="1.5" fill="#ffffff" opacity="0.70"/><circle cx="229.2" cy="205.6" r="1.3" fill="#dfe8ff" opacity="0.88"/><circle cx="237.4" cy="202.1" r="1.3" fill="#ffffff" opacity="0.82"/><circle cx="181.7" cy="131.4" r="1.0" fill="#ffffff" opacity="0.69"/><circle cx="226.0" cy="162.4" r="1.5" fill="#dfe8ff" opacity="0.93"/><circle cx="185.4" cy="243.8" r="2.0" fill="#dfe8ff" opacity="0.69"/><circle cx="174.6" cy="200.5" r="1.9" fill="#dfe8ff" opacity="0.96"/><circle cx="147.9" cy="157.2" r="1.4" fill="#ffffff" opacity="0.98"/><circle cx="150.6" cy="137.6" r="1.2" fill="#ffffff" opacity="0.76"/><circle cx="170.7" cy="211.3" r="1.4" fill="#ffffff" opacity="0.94"/><circle cx="161.5" cy="235.5" r="1.8" fill="#ffffff" opacity="0.82"/><circle cx="231.2" cy="176.7" r="1.0" fill="#ffffff" opacity="0.70"/><circle cx="170.5" cy="201.3" r="1.3" fill="#ffffff" opacity="0.64"/><circle cx="175.1" cy="159.3" r="1.1" fill="#dfe8ff" opacity="0.84"/><circle cx="198.3" cy="190.1" r="1.8" fill="#dfe8ff" opacity="0.89"/><circle cx="134.8" cy="170.5" r="1.8" fill="#ffffff" opacity="0.72"/><circle cx="207.1" cy="170.6" r="1.0" fill="#dfe8ff" opacity="0.65"/><circle cx="228.4" cy="185.9" r="1.1" fill="#dfe8ff" opacity="0.88"/><circle cx="152.7" cy="204.3" r="1.2" fill="#ffffff" opacity="0.75"/><circle cx="139.0" cy="178.2" r="1.1" fill="#dfe8ff" opacity="0.95"/><circle cx="118.7" cy="197.8" r="1.7" fill="#ffffff" opacity="0.97"/><circle cx="149.0" cy="215.0" r="1.5" fill="#ffffff" opacity="0.90"/><circle cx="231.8" cy="190.7" r="1.5" fill="#dfe8ff" opacity="0.77"/><circle cx="203.1" cy="215.1" r="1.3" fill="#ffffff" opacity="0.80"/><circle cx="147.3" cy="143.6" r="1.1" fill="#ffffff" opacity="0.99"/><circle cx="149.2" cy="152.2" r="1.0" fill="#ffffff" opacity="0.67"/><circle cx="170.9" cy="143.4" r="1.9" fill="#dfe8ff" opacity="1.00"/><circle cx="228.9" cy="174.1" r="1.8" fill="#ffffff" opacity="0.98"/><circle cx="149.9" cy="138.8" r="1.3" fill="#dfe8ff" opacity="0.69"/><circle cx="178.2" cy="180.3" r="1.4" fill="#ffffff" opacity="0.62"/><circle cx="136.1" cy="140.4" r="1.9" fill="#dfe8ff" opacity="0.80"/><circle cx="231.9" cy="187.9" r="0.8" fill="#dfe8ff" opacity="0.89"/><circle cx="143.5" cy="178.6" r="1.4" fill="#dfe8ff" opacity="0.87"/><circle cx="203.1" cy="130.5" r="0.9" fill="#ffffff" opacity="0.81"/><circle cx="183.1" cy="234.7" r="1.1" fill="#ffffff" opacity="0.71"/><circle cx="145.9" cy="208.9" r="1.3" fill="#dfe8ff" opacity="0.70"/><circle cx="167.5" cy="153.9" r="1.8" fill="#ffffff" opacity="0.86"/><circle cx="218.4" cy="144.0" r="0.9" fill="#ffffff" opacity="0.75"/><circle cx="124.8" cy="193.4" r="1.6" fill="#ffffff" opacity="0.80"/><circle cx="123.3" cy="208.2" r="1.5" fill="#ffffff" opacity="0.96"/><circle cx="209.3" cy="171.5" r="1.9" fill="#dfe8ff" opacity="0.96"/><circle cx="165.1" cy="188.1" r="0.9" fill="#ffffff" opacity="0.96"/><circle cx="168.3" cy="181.6" r="1.9" fill="#ffffff" opacity="0.61"/><circle cx="187.1" cy="208.7" r="1.8" fill="#ffffff" opacity="0.97"/><circle cx="164.0" cy="230.3" r="1.5" fill="#ffffff" opacity="0.87"/><circle cx="138.0" cy="176.3" r="1.7" fill="#dfe8ff" opacity="0.89"/><circle cx="110.9" cy="185.7" r="0.9" fill="#ffffff" opacity="0.69"/><circle cx="228.4" cy="208.2" r="1.5" fill="#dfe8ff" opacity="0.76"/><circle cx="181.8" cy="175.4" r="1.1" fill="#ffffff" opacity="0.80"/><circle cx="138.1" cy="233.3" r="1.3" fill="#dfe8ff" opacity="0.83"/><circle cx="135.1" cy="223.3" r="1.2" fill="#ffffff" opacity="0.89"/><circle cx="203.9" cy="198.0" r="1.7" fill="#dfe8ff" opacity="0.66"/><circle cx="147.7" cy="209.8" r="0.9" fill="#ffffff" opacity="0.78"/><circle cx="181.6" cy="166.2" r="0.9" fill="#ffffff" opacity="0.78"/><circle cx="137.9" cy="172.6" r="0.8" fill="#ffffff" opacity="0.82"/><circle cx="129.1" cy="154.6" r="1.8" fill="#ffffff" opacity="0.72"/><circle cx="164.5" cy="197.7" r="1.9" fill="#ffffff" opacity="0.83"/><circle cx="200.9" cy="219.5" r="1.0" fill="#ffffff" opacity="0.71"/><circle cx="197.4" cy="206.1" r="1.1" fill="#ffffff" opacity="0.79"/><circle cx="211.1" cy="200.5" r="1.1" fill="#dfe8ff" opacity="0.80"/><circle cx="144.8" cy="157.9" r="1.0" fill="#ffffff" opacity="0.98"/><circle cx="152.8" cy="228.5" r="1.8" fill="#ffffff" opacity="0.78"/><circle cx="122.4" cy="209.8" r="1.6" fill="#dfe8ff" opacity="0.65"/><circle cx="150.7" cy="240.5" r="1.0" fill="#ffffff" opacity="0.67"/><circle cx="148.3" cy="206.9" r="1.7" fill="#dfe8ff" opacity="0.80"/><circle cx="149.4" cy="172.0" r="1.3" fill="#ffffff" opacity="0.75"/><circle cx="208.5" cy="174.5" r="2.0" fill="#ffffff" opacity="0.87"/><circle cx="115.0" cy="167.3" r="1.4" fill="#dfe8ff" opacity="0.68"/><circle cx="198.8" cy="132.0" r="0.9" fill="#ffffff" opacity="0.87"/><circle cx="204.7" cy="212.2" r="1.1" fill="#ffffff" opacity="0.89"/><circle cx="184.6" cy="169.6" r="2.0" fill="#ffffff" opacity="0.83"/><circle cx="114.3" cy="173.2" r="1.8" fill="#ffffff" opacity="0.82"/><circle cx="190.6" cy="150.0" r="1.9" fill="#dfe8ff" opacity="0.84"/><circle cx="199.9" cy="175.5" r="1.1" fill="#dfe8ff" opacity="0.74"/><circle cx="171.1" cy="175.6" r="2.0" fill="#dfe8ff" opacity="0.86"/><circle cx="219.4" cy="178.6" r="1.8" fill="#ffffff" opacity="0.60"/><circle cx="177.3" cy="230.2" r="1.4" fill="#dfe8ff" opacity="0.88"/><circle cx="187.8" cy="223.3" r="1.4" fill="#dfe8ff" opacity="0.84"/><circle cx="138.9" cy="185.9" r="0.8" fill="#ffffff" opacity="0.72"/><circle cx="198.0" cy="177.3" r="1.8" fill="#dfe8ff" opacity="0.66"/><circle cx="162.1" cy="224.7" r="1.0" fill="#ffffff" opacity="0.74"/><circle cx="228.6" cy="216.3" r="1.3" fill="#ffffff" opacity="0.72"/><circle cx="188.8" cy="166.5" r="1.8" fill="#dfe8ff" opacity="0.64"/><circle cx="200.9" cy="129.1" r="1.7" fill="#dfe8ff" opacity="0.67"/><circle cx="208.0" cy="225.2" r="2.0" fill="#ffffff" opacity="0.92"/><circle cx="159.3" cy="166.5" r="1.6" fill="#ffffff" opacity="0.61"/><circle cx="156.6" cy="167.9" r="1.5" fill="#ffffff" opacity="0.60"/><circle cx="188.1" cy="217.9" r="1.6" fill="#ffffff" opacity="0.83"/><circle cx="195.7" cy="142.8" r="1.2" fill="#ffffff" opacity="0.78"/><circle cx="175.0" cy="243.4" r="1.4" fill="#dfe8ff" opacity="0.73"/><circle cx="146.4" cy="211.0" r="0.9" fill="#ffffff" opacity="0.94"/><circle cx="133.3" cy="148.4" r="1.6" fill="#ffffff" opacity="0.97"/><circle cx="131.6" cy="158.7" r="1.2" fill="#ffffff" opacity="0.72"/><circle cx="203.8" cy="233.1" r="1.4" fill="#ffffff" opacity="0.84"/><circle cx="139.4" cy="167.7" r="1.4" fill="#dfe8ff" opacity="0.88"/><circle cx="137.2" cy="137.0" r="1.5" fill="#ffffff" opacity="0.72"/><circle cx="204.7" cy="238.5" r="1.5" fill="#ffffff" opacity="0.98"/><circle cx="149.2" cy="188.6" r="1.3" fill="#dfe8ff" opacity="0.80"/><circle cx="122.1" cy="187.6" r="1.3" fill="#ffffff" opacity="0.80"/><circle cx="190.7" cy="191.4" r="1.7" fill="#ffffff" opacity="0.61"/><circle cx="185.9" cy="218.9" r="1.7" fill="#dfe8ff" opacity="0.90"/><circle cx="185.2" cy="140.3" r="0.9" fill="#ffffff" opacity="0.71"/><circle cx="112.9" cy="169.5" r="1.5" fill="#ffffff" opacity="0.90"/><circle cx="149.5" cy="196.4" r="1.3" fill="#dfe8ff" opacity="0.93"/><circle cx="180.3" cy="152.2" r="2.0" fill="#ffffff" opacity="0.71"/><circle cx="193.4" cy="172.1" r="1.8" fill="#ffffff" opacity="0.91"/><circle cx="185.2" cy="241.6" r="1.5" fill="#ffffff" opacity="0.94"/><circle cx="144.8" cy="160.1" r="1.5" fill="#ffffff" opacity="0.93"/><circle cx="198.0" cy="142.0" r="1.4" fill="#dfe8ff" opacity="0.82"/><circle cx="153.8" cy="232.6" r="1.1" fill="#ffffff" opacity="0.98"/></g></g><ellipse cx="165" cy="150" rx="30" ry="14" fill="#d8cc88" opacity="0.45" filter="url(#b4)"/><ellipse cx="185" cy="195" rx="40" ry="34" fill="#ffffff" opacity="0.6" filter="url(#b8)"/><line x1="113.4" y1="150" x2="219.3" y2="110.3" stroke="#fff" stroke-width="3.6" stroke-dasharray="9,5.5"/><rect x="246" y="237.5" width="7.800000000000011" height="33.0" fill="#fff"/><text x="258" y="44.3" font-size="21" fill="#fff" text-anchor="end" textLength="78.7" lengthAdjust="spacingAndGlyphs">10 days</text><text x="258" y="72.4" font-size="21" fill="#fff" text-anchor="end" textLength="58" lengthAdjust="spacingAndGlyphs">20/20</text><text transform="translate(97,172.9) rotate(-90)" x="0" y="0" font-size="25" fill="#fff" text-anchor="middle" textLength="119.5" lengthAdjust="spacingAndGlyphs">Wild type</text></g><g clip-path="url(#cp2)"><rect x="281.5" y="22.5" width="206.8" height="258.0" fill="url(#bgB)"/><path d="M275.0,15.0 C311.7,-0.8 458.3,-0.2 495.0,15.0 C531.7,30.2 499.2,88.5 495.0,106.0 C490.8,123.5 476.8,114.5 470.0,120.0 C463.2,125.5 458.5,132.3 454.0,139.0 C449.5,145.7 446.0,151.5 443.0,160.0 C440.0,168.5 437.7,180.8 436.0,190.0 C434.3,199.2 434.0,207.5 433.0,215.0 C432.0,222.5 432.5,229.8 430.0,235.0 C427.5,240.2 423.8,243.2 418.0,246.0 C412.2,248.8 403.7,250.3 395.0,252.0 C386.3,253.7 371.5,259.2 366.0,256.0 C360.5,252.8 363.5,242.3 362.0,233.0 C360.5,223.7 359.7,210.8 357.0,200.0 C354.3,189.2 351.3,178.0 346.0,168.0 C340.7,158.0 332.7,147.7 325.0,140.0 C317.3,132.3 308.3,127.0 300.0,122.0 C291.7,117.0 279.2,127.8 275.0,110.0 C270.8,92.2 238.3,30.8 275.0,15.0 Z" fill="#341434" filter="url(#b1)"/><g clip-path="url(#cpB)"><g filter="url(#b2)"><circle cx="387.5" cy="182.2" r="6.3" fill="#44408e" opacity="0.69"/><circle cx="443.6" cy="185.5" r="7.0" fill="#44408e" opacity="0.61"/><circle cx="308.5" cy="48.0" r="4.3" fill="#44408e" opacity="0.63"/><circle cx="421.0" cy="109.1" r="5.3" fill="#2e2e78" opacity="0.59"/><circle cx="358.7" cy="35.4" r="6.2" fill="#3a3a88" opacity="0.52"/><circle cx="436.2" cy="145.7" r="6.5" fill="#4a4aa0" opacity="0.69"/><circle cx="348.7" cy="22.4" r="6.1" fill="#3a3a88" opacity="0.62"/><circle cx="375.9" cy="140.2" r="4.4" fill="#3a3a88" opacity="0.64"/><circle cx="363.3" cy="194.3" r="6.3" fill="#4a4aa0" opacity="0.48"/><circle cx="452.5" cy="82.1" r="5.3" fill="#4a4aa0" opacity="0.64"/><circle cx="466.1" cy="157.7" r="3.2" fill="#4a4aa0" opacity="0.40"/><circle cx="473.4" cy="50.1" r="4.8" fill="#4a4aa0" opacity="0.46"/><circle cx="423.5" cy="45.5" r="5.6" fill="#44408e" opacity="0.66"/><circle cx="462.5" cy="38.6" r="4.4" fill="#3a3a88" opacity="0.51"/><circle cx="468.1" cy="51.5" r="4.6" fill="#2e2e78" opacity="0.62"/><circle cx="437.3" cy="98.4" r="3.4" fill="#3a3a88" opacity="0.40"/><circle cx="379.7" cy="45.6" r="3.9" fill="#4a4aa0" opacity="0.40"/><circle cx="425.0" cy="167.4" r="7.0" fill="#4a4aa0" opacity="0.61"/><circle cx="379.9" cy="62.8" r="3.4" fill="#3a3a88" opacity="0.43"/><circle cx="357.1" cy="75.3" r="4.5" fill="#44408e" opacity="0.59"/><circle cx="421.2" cy="34.2" r="5.3" fill="#44408e" opacity="0.53"/><circle cx="430.5" cy="133.8" r="3.6" fill="#4a4aa0" opacity="0.58"/><circle cx="372.6" cy="60.7" r="6.6" fill="#44408e" opacity="0.63"/><circle cx="403.0" cy="90.4" r="6.9" fill="#2e2e78" opacity="0.64"/><circle cx="332.3" cy="136.7" r="4.0" fill="#2e2e78" opacity="0.63"/><circle cx="423.9" cy="172.9" r="5.6" fill="#2e2e78" opacity="0.46"/><circle cx="406.6" cy="55.6" r="4.6" fill="#3a3a88" opacity="0.64"/><circle cx="445.3" cy="64.6" r="4.5" fill="#44408e" opacity="0.55"/><circle cx="403.9" cy="116.0" r="6.9" fill="#2e2e78" opacity="0.68"/><circle cx="308.3" cy="175.2" r="5.3" fill="#2e2e78" opacity="0.56"/><circle cx="316.8" cy="105.8" r="6.9" fill="#3a3a88" opacity="0.41"/><circle cx="295.0" cy="68.7" r="3.2" fill="#3a3a88" opacity="0.68"/><circle cx="363.4" cy="73.0" r="5.9" fill="#4a4aa0" opacity="0.53"/><circle cx="364.3" cy="136.0" r="5.2" fill="#44408e" opacity="0.48"/><circle cx="345.2" cy="113.0" r="3.8" fill="#44408e" opacity="0.56"/><circle cx="361.9" cy="134.9" r="6.3" fill="#3a3a88" opacity="0.49"/><circle cx="371.6" cy="191.7" r="4.0" fill="#44408e" opacity="0.43"/><circle cx="370.9" cy="102.7" r="5.4" fill="#2e2e78" opacity="0.60"/><circle cx="417.2" cy="53.3" r="3.1" fill="#44408e" opacity="0.61"/><circle cx="314.9" cy="191.6" r="5.1" fill="#2e2e78" opacity="0.45"/><circle cx="307.3" cy="161.0" r="4.1" fill="#3a3a88" opacity="0.63"/><circle cx="287.1" cy="165.7" r="4.1" fill="#3a3a88" opacity="0.48"/><circle cx="482.8" cy="133.7" r="5.0" fill="#2e2e78" opacity="0.42"/><circle cx="458.9" cy="51.7" r="3.6" fill="#3a3a88" opacity="0.67"/><circle cx="420.5" cy="42.5" r="6.0" fill="#3a3a88" opacity="0.41"/><circle cx="459.6" cy="65.5" r="4.9" fill="#4a4aa0" opacity="0.68"/><circle cx="318.0" cy="192.9" r="3.1" fill="#4a4aa0" opacity="0.47"/><circle cx="332.4" cy="185.0" r="4.3" fill="#3a3a88" opacity="0.57"/><circle cx="305.7" cy="141.9" r="3.2" fill="#44408e" opacity="0.64"/><circle cx="484.2" cy="191.8" r="3.3" fill="#4a4aa0" opacity="0.66"/><circle cx="441.1" cy="77.3" r="3.3" fill="#4a4aa0" opacity="0.40"/><circle cx="322.5" cy="122.4" r="4.2" fill="#44408e" opacity="0.54"/><circle cx="403.5" cy="109.8" r="6.1" fill="#44408e" opacity="0.62"/><circle cx="394.1" cy="163.7" r="3.6" fill="#4a4aa0" opacity="0.41"/><circle cx="393.1" cy="135.2" r="5.8" fill="#3a3a88" opacity="0.69"/><circle cx="281.3" cy="139.0" r="6.4" fill="#2e2e78" opacity="0.43"/><circle cx="390.7" cy="64.4" r="5.0" fill="#3a3a88" opacity="0.69"/><circle cx="310.5" cy="71.8" r="3.2" fill="#44408e" opacity="0.67"/><circle cx="388.6" cy="146.8" r="4.5" fill="#3a3a88" opacity="0.57"/><circle cx="385.6" cy="135.4" r="4.6" fill="#3a3a88" opacity="0.53"/><circle cx="480.6" cy="64.1" r="4.0" fill="#2e2e78" opacity="0.68"/><circle cx="362.3" cy="170.1" r="4.3" fill="#4a4aa0" opacity="0.48"/><circle cx="296.5" cy="58.1" r="6.1" fill="#3a3a88" opacity="0.45"/><circle cx="315.0" cy="105.0" r="4.6" fill="#2e2e78" opacity="0.69"/><circle cx="324.0" cy="76.9" r="4.1" fill="#3a3a88" opacity="0.43"/><circle cx="448.2" cy="76.2" r="5.8" fill="#3a3a88" opacity="0.46"/><circle cx="458.3" cy="48.4" r="5.8" fill="#2e2e78" opacity="0.52"/><circle cx="291.1" cy="75.2" r="6.3" fill="#44408e" opacity="0.41"/><circle cx="364.7" cy="102.5" r="6.0" fill="#44408e" opacity="0.43"/><circle cx="302.1" cy="163.3" r="3.5" fill="#3a3a88" opacity="0.65"/><circle cx="484.4" cy="45.3" r="6.3" fill="#2e2e78" opacity="0.61"/><circle cx="475.1" cy="37.0" r="5.3" fill="#3a3a88" opacity="0.41"/><circle cx="294.3" cy="182.6" r="4.8" fill="#44408e" opacity="0.43"/><circle cx="456.4" cy="166.0" r="3.5" fill="#4a4aa0" opacity="0.42"/><circle cx="472.3" cy="99.1" r="5.9" fill="#4a4aa0" opacity="0.41"/><circle cx="422.4" cy="52.8" r="3.9" fill="#44408e" opacity="0.48"/><circle cx="373.3" cy="48.5" r="5.5" fill="#44408e" opacity="0.59"/><circle cx="384.3" cy="179.1" r="4.9" fill="#3a3a88" opacity="0.48"/><circle cx="309.4" cy="57.5" r="6.5" fill="#44408e" opacity="0.59"/><circle cx="447.0" cy="163.5" r="7.0" fill="#2e2e78" opacity="0.54"/><circle cx="442.8" cy="83.2" r="5.3" fill="#2e2e78" opacity="0.52"/><circle cx="318.2" cy="78.8" r="3.9" fill="#2e2e78" opacity="0.42"/><circle cx="486.2" cy="116.2" r="6.1" fill="#44408e" opacity="0.69"/><circle cx="301.7" cy="138.9" r="4.1" fill="#3a3a88" opacity="0.63"/><circle cx="477.2" cy="124.5" r="6.9" fill="#4a4aa0" opacity="0.51"/><circle cx="454.7" cy="172.4" r="3.7" fill="#2e2e78" opacity="0.64"/><circle cx="425.4" cy="184.7" r="3.1" fill="#2e2e78" opacity="0.68"/><circle cx="397.7" cy="122.2" r="3.8" fill="#4a4aa0" opacity="0.56"/><circle cx="317.3" cy="28.8" r="3.2" fill="#44408e" opacity="0.41"/><circle cx="379.9" cy="81.0" r="5.5" fill="#44408e" opacity="0.50"/><circle cx="317.7" cy="164.8" r="6.5" fill="#3a3a88" opacity="0.41"/><circle cx="402.4" cy="185.3" r="6.1" fill="#2e2e78" opacity="0.69"/><circle cx="358.3" cy="189.7" r="4.6" fill="#3a3a88" opacity="0.50"/><circle cx="347.8" cy="195.7" r="5.9" fill="#4a4aa0" opacity="0.64"/><circle cx="479.9" cy="137.6" r="3.7" fill="#2e2e78" opacity="0.47"/><circle cx="402.9" cy="53.2" r="4.2" fill="#2e2e78" opacity="0.44"/><circle cx="431.9" cy="190.9" r="6.8" fill="#4a4aa0" opacity="0.66"/><circle cx="440.6" cy="123.0" r="3.7" fill="#2e2e78" opacity="0.68"/><circle cx="481.3" cy="61.3" r="5.3" fill="#4a4aa0" opacity="0.44"/><circle cx="435.3" cy="64.4" r="6.9" fill="#44408e" opacity="0.59"/><circle cx="480.4" cy="168.3" r="5.7" fill="#2e2e78" opacity="0.53"/><circle cx="335.9" cy="66.4" r="3.3" fill="#2e2e78" opacity="0.64"/><circle cx="430.1" cy="30.6" r="4.8" fill="#4a4aa0" opacity="0.69"/><circle cx="464.1" cy="109.8" r="4.5" fill="#4a4aa0" opacity="0.43"/><circle cx="380.3" cy="175.8" r="5.6" fill="#44408e" opacity="0.45"/><circle cx="296.3" cy="172.5" r="4.2" fill="#2e2e78" opacity="0.48"/><circle cx="302.7" cy="82.8" r="6.6" fill="#44408e" opacity="0.62"/><circle cx="394.2" cy="181.9" r="3.4" fill="#4a4aa0" opacity="0.61"/><circle cx="370.3" cy="138.3" r="5.4" fill="#4a4aa0" opacity="0.45"/><circle cx="302.0" cy="58.6" r="3.8" fill="#2e2e78" opacity="0.60"/><circle cx="342.6" cy="39.1" r="4.6" fill="#4a4aa0" opacity="0.45"/><circle cx="355.7" cy="98.1" r="4.2" fill="#4a4aa0" opacity="0.46"/><circle cx="286.3" cy="52.4" r="4.2" fill="#3a3a88" opacity="0.54"/><circle cx="304.9" cy="161.7" r="4.9" fill="#2e2e78" opacity="0.43"/><circle cx="393.6" cy="54.9" r="6.5" fill="#2e2e78" opacity="0.46"/><circle cx="290.2" cy="100.3" r="4.1" fill="#2e2e78" opacity="0.57"/><circle cx="312.3" cy="146.0" r="3.4" fill="#2e2e78" opacity="0.64"/><circle cx="366.7" cy="156.6" r="3.9" fill="#3a3a88" opacity="0.65"/><circle cx="450.4" cy="96.5" r="5.1" fill="#4a4aa0" opacity="0.57"/><circle cx="329.8" cy="75.2" r="4.6" fill="#3a3a88" opacity="0.55"/></g><g filter="url(#b1)"><circle cx="467.4" cy="172.5" r="2.1" fill="#8ab0f0" opacity="0.37"/><circle cx="477.5" cy="106.4" r="2.5" fill="#4a6ac0" opacity="0.74"/><circle cx="448.4" cy="45.7" r="1.7" fill="#6a60b0" opacity="0.50"/><circle cx="487.4" cy="139.9" r="2.3" fill="#7a9ae0" opacity="0.44"/><circle cx="431.5" cy="173.8" r="1.1" fill="#8ab0f0" opacity="0.48"/><circle cx="348.5" cy="73.9" r="1.7" fill="#5a7ed0" opacity="0.65"/><circle cx="410.0" cy="120.2" r="1.7" fill="#3a58a8" opacity="0.37"/><circle cx="398.3" cy="131.5" r="2.5" fill="#5a7ed0" opacity="0.72"/><circle cx="397.5" cy="41.0" r="1.5" fill="#8ab0f0" opacity="0.70"/><circle cx="462.7" cy="71.7" r="2.0" fill="#8ab0f0" opacity="0.57"/><circle cx="288.8" cy="73.8" r="1.2" fill="#8ab0f0" opacity="0.61"/><circle cx="364.2" cy="96.4" r="2.4" fill="#6a60b0" opacity="0.41"/><circle cx="435.4" cy="195.1" r="2.4" fill="#5a7ed0" opacity="0.45"/><circle cx="445.3" cy="80.5" r="2.3" fill="#6a60b0" opacity="0.61"/><circle cx="482.3" cy="64.9" r="1.5" fill="#6a60b0" opacity="0.50"/><circle cx="451.9" cy="72.7" r="1.7" fill="#6a60b0" opacity="0.34"/><circle cx="372.4" cy="193.7" r="1.7" fill="#3a58a8" opacity="0.64"/><circle cx="460.5" cy="176.4" r="1.8" fill="#4a6ac0" opacity="0.33"/><circle cx="427.9" cy="97.8" r="2.2" fill="#8ab0f0" opacity="0.70"/><circle cx="287.0" cy="58.2" r="2.3" fill="#5a7ed0" opacity="0.41"/><circle cx="375.5" cy="194.6" r="2.1" fill="#7a9ae0" opacity="0.47"/><circle cx="377.1" cy="96.6" r="2.5" fill="#6a60b0" opacity="0.31"/><circle cx="358.1" cy="133.7" r="1.3" fill="#3a58a8" opacity="0.56"/><circle cx="353.4" cy="52.7" r="2.4" fill="#6a60b0" opacity="0.67"/><circle cx="299.7" cy="27.2" r="1.1" fill="#8ab0f0" opacity="0.65"/><circle cx="325.4" cy="63.6" r="1.4" fill="#4a6ac0" opacity="0.42"/><circle cx="365.8" cy="25.8" r="2.2" fill="#6a60b0" opacity="0.30"/><circle cx="469.7" cy="143.7" r="2.0" fill="#5a7ed0" opacity="0.40"/><circle cx="406.9" cy="199.3" r="2.1" fill="#6a60b0" opacity="0.59"/><circle cx="368.7" cy="92.8" r="1.6" fill="#7a9ae0" opacity="0.40"/><circle cx="343.5" cy="119.9" r="2.0" fill="#8ab0f0" opacity="0.35"/><circle cx="386.9" cy="146.5" r="2.3" fill="#7a9ae0" opacity="0.55"/><circle cx="403.9" cy="75.1" r="2.1" fill="#3a58a8" opacity="0.33"/><circle cx="485.6" cy="142.4" r="2.4" fill="#7a9ae0" opacity="0.60"/><circle cx="478.1" cy="144.5" r="1.3" fill="#8ab0f0" opacity="0.64"/><circle cx="467.2" cy="173.4" r="2.3" fill="#8ab0f0" opacity="0.48"/><circle cx="347.2" cy="48.3" r="1.0" fill="#3a58a8" opacity="0.75"/><circle cx="334.7" cy="100.7" r="1.6" fill="#5a7ed0" opacity="0.56"/><circle cx="486.9" cy="175.4" r="1.5" fill="#6a60b0" opacity="0.40"/><circle cx="391.7" cy="169.6" r="2.5" fill="#6a60b0" opacity="0.46"/><circle cx="343.1" cy="54.0" r="2.1" fill="#8ab0f0" opacity="0.38"/><circle cx="301.2" cy="46.1" r="1.4" fill="#8ab0f0" opacity="0.64"/><circle cx="318.9" cy="149.8" r="1.5" fill="#5a7ed0" opacity="0.40"/><circle cx="327.2" cy="185.8" r="1.7" fill="#7a9ae0" opacity="0.47"/><circle cx="402.2" cy="109.2" r="1.2" fill="#5a7ed0" opacity="0.69"/><circle cx="401.8" cy="199.5" r="1.1" fill="#4a6ac0" opacity="0.53"/><circle cx="460.6" cy="93.8" r="1.5" fill="#5a7ed0" opacity="0.69"/><circle cx="312.2" cy="208.6" r="1.5" fill="#8ab0f0" opacity="0.70"/><circle cx="485.2" cy="48.9" r="2.4" fill="#4a6ac0" opacity="0.65"/><circle cx="381.9" cy="140.6" r="1.3" fill="#6a60b0" opacity="0.33"/><circle cx="374.6" cy="61.4" r="2.2" fill="#8ab0f0" opacity="0.64"/><circle cx="382.3" cy="165.6" r="1.1" fill="#8ab0f0" opacity="0.50"/><circle cx="369.9" cy="102.7" r="1.8" fill="#5a7ed0" opacity="0.32"/><circle cx="322.3" cy="92.1" r="1.0" fill="#7a9ae0" opacity="0.64"/><circle cx="390.9" cy="25.4" r="1.0" fill="#6a60b0" opacity="0.41"/><circle cx="424.6" cy="86.7" r="1.2" fill="#3a58a8" opacity="0.53"/><circle cx="344.4" cy="34.3" r="1.1" fill="#7a9ae0" opacity="0.51"/><circle cx="388.7" cy="120.5" r="1.7" fill="#6a60b0" opacity="0.75"/><circle cx="351.9" cy="191.5" r="1.6" fill="#4a6ac0" opacity="0.37"/><circle cx="468.7" cy="174.7" r="1.0" fill="#4a6ac0" opacity="0.63"/><circle cx="308.2" cy="160.0" r="1.9" fill="#4a6ac0" opacity="0.36"/><circle cx="428.2" cy="170.9" r="1.6" fill="#6a60b0" opacity="0.42"/><circle cx="391.7" cy="31.1" r="2.6" fill="#6a60b0" opacity="0.35"/><circle cx="454.1" cy="31.1" r="1.2" fill="#3a58a8" opacity="0.47"/><circle cx="394.3" cy="111.2" r="1.2" fill="#6a60b0" opacity="0.61"/><circle cx="282.9" cy="101.1" r="1.2" fill="#8ab0f0" opacity="0.42"/><circle cx="406.4" cy="47.8" r="2.3" fill="#5a7ed0" opacity="0.53"/><circle cx="408.9" cy="75.1" r="2.3" fill="#3a58a8" opacity="0.39"/><circle cx="322.3" cy="71.4" r="1.8" fill="#4a6ac0" opacity="0.46"/><circle cx="365.8" cy="52.2" r="1.9" fill="#4a6ac0" opacity="0.61"/><circle cx="380.5" cy="66.1" r="1.0" fill="#5a7ed0" opacity="0.71"/><circle cx="453.9" cy="147.8" r="1.2" fill="#5a7ed0" opacity="0.65"/><circle cx="296.5" cy="158.0" r="2.4" fill="#6a60b0" opacity="0.40"/><circle cx="485.7" cy="77.7" r="1.7" fill="#5a7ed0" opacity="0.67"/><circle cx="461.9" cy="182.2" r="1.6" fill="#6a60b0" opacity="0.44"/><circle cx="433.9" cy="39.9" r="2.2" fill="#5a7ed0" opacity="0.30"/><circle cx="309.6" cy="143.7" r="1.5" fill="#3a58a8" opacity="0.73"/><circle cx="336.5" cy="159.8" r="1.6" fill="#7a9ae0" opacity="0.38"/><circle cx="364.0" cy="202.9" r="1.4" fill="#3a58a8" opacity="0.61"/><circle cx="380.0" cy="101.3" r="2.4" fill="#4a6ac0" opacity="0.35"/><circle cx="425.1" cy="33.0" r="2.5" fill="#4a6ac0" opacity="0.35"/><circle cx="469.6" cy="112.7" r="1.9" fill="#3a58a8" opacity="0.38"/><circle cx="359.6" cy="89.4" r="1.0" fill="#6a60b0" opacity="0.70"/><circle cx="431.5" cy="189.7" r="1.8" fill="#3a58a8" opacity="0.35"/><circle cx="366.1" cy="30.6" r="1.4" fill="#7a9ae0" opacity="0.31"/><circle cx="460.7" cy="120.7" r="2.2" fill="#6a60b0" opacity="0.55"/><circle cx="483.4" cy="147.9" r="1.5" fill="#8ab0f0" opacity="0.61"/><circle cx="409.0" cy="103.4" r="2.2" fill="#3a58a8" opacity="0.46"/><circle cx="421.0" cy="94.4" r="2.3" fill="#8ab0f0" opacity="0.70"/><circle cx="407.9" cy="24.2" r="2.5" fill="#8ab0f0" opacity="0.68"/><circle cx="457.3" cy="185.5" r="1.1" fill="#3a58a8" opacity="0.44"/><circle cx="349.5" cy="74.3" r="1.8" fill="#8ab0f0" opacity="0.59"/><circle cx="364.5" cy="66.2" r="1.7" fill="#8ab0f0" opacity="0.50"/><circle cx="458.3" cy="106.0" r="1.2" fill="#3a58a8" opacity="0.64"/><circle cx="284.7" cy="97.8" r="1.1" fill="#8ab0f0" opacity="0.30"/><circle cx="299.8" cy="135.6" r="2.0" fill="#7a9ae0" opacity="0.70"/><circle cx="397.4" cy="145.1" r="1.7" fill="#7a9ae0" opacity="0.46"/><circle cx="292.2" cy="63.9" r="1.7" fill="#8ab0f0" opacity="0.65"/><circle cx="405.2" cy="156.7" r="1.6" fill="#3a58a8" opacity="0.35"/><circle cx="438.2" cy="63.7" r="1.5" fill="#6a60b0" opacity="0.73"/><circle cx="341.4" cy="120.1" r="2.1" fill="#5a7ed0" opacity="0.70"/><circle cx="382.9" cy="176.5" r="2.2" fill="#3a58a8" opacity="0.35"/><circle cx="407.4" cy="57.3" r="2.5" fill="#3a58a8" opacity="0.40"/><circle cx="451.7" cy="57.8" r="1.5" fill="#3a58a8" opacity="0.32"/><circle cx="412.1" cy="148.4" r="1.2" fill="#3a58a8" opacity="0.51"/><circle cx="403.0" cy="116.8" r="2.5" fill="#5a7ed0" opacity="0.54"/><circle cx="291.1" cy="197.8" r="2.3" fill="#3a58a8" opacity="0.72"/><circle cx="442.7" cy="193.1" r="2.1" fill="#4a6ac0" opacity="0.63"/><circle cx="307.6" cy="94.8" r="2.0" fill="#7a9ae0" opacity="0.53"/><circle cx="360.6" cy="206.1" r="2.5" fill="#4a6ac0" opacity="0.42"/><circle cx="480.5" cy="204.5" r="1.7" fill="#4a6ac0" opacity="0.36"/><circle cx="405.7" cy="188.7" r="1.8" fill="#6a60b0" opacity="0.55"/><circle cx="346.0" cy="160.5" r="1.9" fill="#4a6ac0" opacity="0.39"/><circle cx="410.2" cy="76.6" r="1.6" fill="#6a60b0" opacity="0.36"/><circle cx="428.1" cy="205.3" r="1.3" fill="#8ab0f0" opacity="0.61"/><circle cx="347.7" cy="43.7" r="1.6" fill="#3a58a8" opacity="0.56"/><circle cx="476.1" cy="155.5" r="2.1" fill="#8ab0f0" opacity="0.43"/><circle cx="456.4" cy="174.0" r="1.8" fill="#5a7ed0" opacity="0.47"/><circle cx="292.0" cy="32.6" r="1.4" fill="#4a6ac0" opacity="0.74"/><circle cx="422.5" cy="49.5" r="1.1" fill="#7a9ae0" opacity="0.39"/><circle cx="393.0" cy="89.4" r="1.7" fill="#8ab0f0" opacity="0.69"/><circle cx="434.1" cy="184.6" r="2.2" fill="#8ab0f0" opacity="0.47"/><circle cx="386.8" cy="171.8" r="2.1" fill="#6a60b0" opacity="0.60"/><circle cx="472.8" cy="94.9" r="2.5" fill="#6a60b0" opacity="0.44"/><circle cx="395.3" cy="24.4" r="1.4" fill="#8ab0f0" opacity="0.69"/><circle cx="459.1" cy="105.3" r="1.4" fill="#6a60b0" opacity="0.62"/><circle cx="415.1" cy="164.0" r="1.9" fill="#8ab0f0" opacity="0.39"/><circle cx="431.1" cy="58.4" r="1.7" fill="#6a60b0" opacity="0.33"/><circle cx="480.2" cy="160.2" r="1.2" fill="#5a7ed0" opacity="0.49"/><circle cx="396.2" cy="46.5" r="1.9" fill="#7a9ae0" opacity="0.30"/><circle cx="377.5" cy="198.2" r="1.1" fill="#7a9ae0" opacity="0.57"/><circle cx="441.1" cy="139.6" r="2.3" fill="#7a9ae0" opacity="0.52"/><circle cx="399.5" cy="89.3" r="2.3" fill="#7a9ae0" opacity="0.54"/><circle cx="479.1" cy="119.9" r="2.3" fill="#4a6ac0" opacity="0.49"/><circle cx="392.2" cy="39.3" r="1.4" fill="#4a6ac0" opacity="0.60"/><circle cx="349.5" cy="77.2" r="2.5" fill="#8ab0f0" opacity="0.54"/><circle cx="487.3" cy="176.9" r="2.6" fill="#5a7ed0" opacity="0.35"/><circle cx="352.6" cy="67.2" r="2.0" fill="#8ab0f0" opacity="0.41"/><circle cx="289.3" cy="188.5" r="1.6" fill="#5a7ed0" opacity="0.47"/><circle cx="392.8" cy="75.2" r="2.5" fill="#7a9ae0" opacity="0.53"/><circle cx="386.3" cy="113.5" r="1.5" fill="#6a60b0" opacity="0.39"/><circle cx="387.4" cy="200.3" r="1.3" fill="#8ab0f0" opacity="0.54"/><circle cx="410.8" cy="61.6" r="2.0" fill="#4a6ac0" opacity="0.69"/><circle cx="368.8" cy="41.5" r="1.9" fill="#6a60b0" opacity="0.70"/><circle cx="434.5" cy="103.8" r="2.3" fill="#5a7ed0" opacity="0.64"/><circle cx="312.8" cy="108.3" r="1.5" fill="#5a7ed0" opacity="0.33"/><circle cx="317.8" cy="69.4" r="1.1" fill="#4a6ac0" opacity="0.71"/><circle cx="365.4" cy="106.8" r="1.6" fill="#7a9ae0" opacity="0.31"/><circle cx="420.4" cy="122.5" r="2.0" fill="#8ab0f0" opacity="0.33"/><circle cx="435.4" cy="30.6" r="2.4" fill="#7a9ae0" opacity="0.72"/><circle cx="303.0" cy="169.9" r="1.5" fill="#5a7ed0" opacity="0.43"/><circle cx="472.8" cy="93.7" r="2.3" fill="#5a7ed0" opacity="0.51"/><circle cx="391.4" cy="47.6" r="1.6" fill="#8ab0f0" opacity="0.43"/><circle cx="412.2" cy="78.0" r="2.4" fill="#6a60b0" opacity="0.59"/><circle cx="479.2" cy="24.1" r="2.4" fill="#4a6ac0" opacity="0.36"/><circle cx="282.0" cy="134.2" r="1.9" fill="#5a7ed0" opacity="0.44"/><circle cx="435.9" cy="191.9" r="1.6" fill="#3a58a8" opacity="0.71"/><circle cx="457.3" cy="48.8" r="1.3" fill="#8ab0f0" opacity="0.68"/><circle cx="321.2" cy="56.1" r="2.3" fill="#5a7ed0" opacity="0.68"/><circle cx="474.0" cy="208.9" r="1.7" fill="#8ab0f0" opacity="0.33"/><circle cx="420.0" cy="69.1" r="1.3" fill="#8ab0f0" opacity="0.52"/><circle cx="349.5" cy="46.1" r="2.0" fill="#5a7ed0" opacity="0.43"/><circle cx="295.5" cy="58.4" r="1.8" fill="#7a9ae0" opacity="0.58"/><circle cx="344.3" cy="131.8" r="1.9" fill="#7a9ae0" opacity="0.66"/><circle cx="479.4" cy="53.7" r="1.5" fill="#4a6ac0" opacity="0.62"/><circle cx="413.7" cy="74.0" r="1.6" fill="#6a60b0" opacity="0.63"/><circle cx="462.7" cy="109.0" r="1.6" fill="#7a9ae0" opacity="0.52"/><circle cx="303.5" cy="143.4" r="1.1" fill="#7a9ae0" opacity="0.69"/><circle cx="310.0" cy="123.3" r="1.4" fill="#6a60b0" opacity="0.33"/><circle cx="296.6" cy="25.5" r="1.8" fill="#5a7ed0" opacity="0.67"/><circle cx="400.8" cy="166.6" r="1.3" fill="#5a7ed0" opacity="0.55"/><circle cx="393.5" cy="209.8" r="1.8" fill="#4a6ac0" opacity="0.46"/><circle cx="327.2" cy="167.2" r="2.2" fill="#7a9ae0" opacity="0.36"/><circle cx="384.7" cy="39.0" r="1.6" fill="#5a7ed0" opacity="0.60"/><circle cx="456.5" cy="173.6" r="2.0" fill="#4a6ac0" opacity="0.64"/><circle cx="310.1" cy="51.9" r="1.9" fill="#8ab0f0" opacity="0.60"/><circle cx="481.3" cy="160.4" r="1.8" fill="#7a9ae0" opacity="0.32"/><circle cx="438.6" cy="65.6" r="1.4" fill="#4a6ac0" opacity="0.32"/><circle cx="323.8" cy="192.7" r="1.6" fill="#3a58a8" opacity="0.71"/><circle cx="463.5" cy="29.5" r="2.0" fill="#5a7ed0" opacity="0.62"/><circle cx="388.9" cy="178.0" r="2.3" fill="#7a9ae0" opacity="0.56"/><circle cx="399.0" cy="92.8" r="1.6" fill="#8ab0f0" opacity="0.59"/><circle cx="453.9" cy="119.1" r="1.6" fill="#4a6ac0" opacity="0.53"/><circle cx="354.0" cy="185.1" r="1.8" fill="#3a58a8" opacity="0.70"/><circle cx="282.4" cy="187.8" r="1.7" fill="#4a6ac0" opacity="0.33"/><circle cx="414.2" cy="61.8" r="1.3" fill="#7a9ae0" opacity="0.57"/><circle cx="450.1" cy="146.3" r="1.7" fill="#7a9ae0" opacity="0.62"/><circle cx="380.7" cy="112.0" r="1.3" fill="#4a6ac0" opacity="0.59"/><circle cx="366.1" cy="67.8" r="1.2" fill="#8ab0f0" opacity="0.37"/><circle cx="411.3" cy="29.4" r="1.9" fill="#5a7ed0" opacity="0.37"/><circle cx="471.9" cy="119.1" r="1.6" fill="#8ab0f0" opacity="0.59"/><circle cx="462.9" cy="158.9" r="2.3" fill="#5a7ed0" opacity="0.40"/><circle cx="406.6" cy="110.6" r="1.8" fill="#4a6ac0" opacity="0.67"/><circle cx="405.4" cy="171.4" r="2.3" fill="#4a6ac0" opacity="0.58"/><circle cx="386.7" cy="53.5" r="2.1" fill="#3a58a8" opacity="0.57"/><circle cx="295.3" cy="93.1" r="1.2" fill="#5a7ed0" opacity="0.39"/><circle cx="458.9" cy="116.8" r="1.7" fill="#4a6ac0" opacity="0.57"/><circle cx="317.7" cy="191.5" r="2.0" fill="#8ab0f0" opacity="0.53"/><circle cx="305.3" cy="112.7" r="1.2" fill="#8ab0f0" opacity="0.54"/><circle cx="281.2" cy="198.3" r="2.1" fill="#3a58a8" opacity="0.53"/><circle cx="357.7" cy="30.2" r="1.8" fill="#4a6ac0" opacity="0.72"/><circle cx="380.8" cy="166.5" r="1.6" fill="#6a60b0" opacity="0.71"/><circle cx="454.3" cy="130.3" r="1.7" fill="#7a9ae0" opacity="0.51"/><circle cx="329.1" cy="183.5" r="1.5" fill="#8ab0f0" opacity="0.48"/><circle cx="320.1" cy="155.3" r="2.3" fill="#8ab0f0" opacity="0.54"/><circle cx="388.6" cy="92.5" r="1.3" fill="#7a9ae0" opacity="0.48"/><circle cx="303.1" cy="102.1" r="1.9" fill="#7a9ae0" opacity="0.68"/><circle cx="368.7" cy="90.7" r="1.4" fill="#6a60b0" opacity="0.48"/><circle cx="323.2" cy="125.8" r="1.9" fill="#4a6ac0" opacity="0.47"/><circle cx="395.9" cy="69.7" r="1.5" fill="#7a9ae0" opacity="0.65"/><circle cx="363.4" cy="48.0" r="2.4" fill="#5a7ed0" opacity="0.64"/><circle cx="373.4" cy="153.5" r="1.3" fill="#4a6ac0" opacity="0.53"/><circle cx="443.7" cy="172.6" r="2.0" fill="#6a60b0" opacity="0.62"/><circle cx="314.3" cy="203.3" r="1.0" fill="#5a7ed0" opacity="0.67"/><circle cx="378.6" cy="134.8" r="1.1" fill="#7a9ae0" opacity="0.40"/><circle cx="297.6" cy="29.1" r="1.6" fill="#3a58a8" opacity="0.58"/><circle cx="388.8" cy="155.8" r="2.0" fill="#4a6ac0" opacity="0.59"/><circle cx="371.9" cy="59.9" r="2.1" fill="#8ab0f0" opacity="0.43"/><circle cx="288.0" cy="134.7" r="1.8" fill="#4a6ac0" opacity="0.58"/><circle cx="420.5" cy="89.6" r="2.0" fill="#4a6ac0" opacity="0.34"/><circle cx="338.1" cy="97.1" r="2.1" fill="#3a58a8" opacity="0.56"/><circle cx="388.2" cy="160.5" r="1.1" fill="#5a7ed0" opacity="0.55"/><circle cx="431.3" cy="127.1" r="1.9" fill="#7a9ae0" opacity="0.73"/><circle cx="338.2" cy="136.0" r="1.3" fill="#3a58a8" opacity="0.56"/><circle cx="335.0" cy="98.5" r="1.2" fill="#5a7ed0" opacity="0.53"/><circle cx="351.4" cy="44.0" r="1.8" fill="#7a9ae0" opacity="0.69"/><circle cx="449.3" cy="130.1" r="2.1" fill="#3a58a8" opacity="0.55"/><circle cx="440.4" cy="164.4" r="2.5" fill="#3a58a8" opacity="0.61"/><circle cx="466.6" cy="184.1" r="1.8" fill="#7a9ae0" opacity="0.33"/><circle cx="412.2" cy="208.9" r="2.1" fill="#4a6ac0" opacity="0.66"/><circle cx="366.4" cy="88.4" r="1.9" fill="#6a60b0" opacity="0.67"/><circle cx="332.4" cy="39.5" r="2.1" fill="#7a9ae0" opacity="0.33"/><circle cx="473.8" cy="111.6" r="1.6" fill="#8ab0f0" opacity="0.42"/><circle cx="477.1" cy="150.4" r="2.5" fill="#3a58a8" opacity="0.63"/><circle cx="329.6" cy="67.5" r="1.4" fill="#4a6ac0" opacity="0.39"/><circle cx="332.7" cy="138.3" r="1.2" fill="#5a7ed0" opacity="0.35"/><circle cx="297.2" cy="201.7" r="1.8" fill="#5a7ed0" opacity="0.64"/><circle cx="393.1" cy="29.9" r="1.8" fill="#8ab0f0" opacity="0.44"/><circle cx="466.9" cy="187.6" r="1.9" fill="#7a9ae0" opacity="0.52"/><circle cx="484.8" cy="194.2" r="1.4" fill="#4a6ac0" opacity="0.64"/><circle cx="307.5" cy="120.8" r="1.7" fill="#8ab0f0" opacity="0.31"/><circle cx="352.9" cy="183.8" r="2.2" fill="#3a58a8" opacity="0.74"/><circle cx="425.5" cy="108.5" r="2.1" fill="#5a7ed0" opacity="0.60"/><circle cx="359.5" cy="40.9" r="1.6" fill="#7a9ae0" opacity="0.38"/><circle cx="335.4" cy="72.6" r="2.5" fill="#7a9ae0" opacity="0.46"/><circle cx="384.2" cy="61.6" r="2.1" fill="#7a9ae0" opacity="0.46"/><circle cx="363.9" cy="106.7" r="1.9" fill="#8ab0f0" opacity="0.61"/><circle cx="449.5" cy="157.5" r="2.3" fill="#8ab0f0" opacity="0.49"/><circle cx="359.8" cy="49.4" r="2.5" fill="#4a6ac0" opacity="0.51"/><circle cx="283.0" cy="101.2" r="1.2" fill="#6a60b0" opacity="0.53"/><circle cx="430.2" cy="169.6" r="1.5" fill="#8ab0f0" opacity="0.69"/><circle cx="290.9" cy="40.6" r="1.3" fill="#4a6ac0" opacity="0.67"/><circle cx="379.6" cy="140.4" r="1.7" fill="#7a9ae0" opacity="0.42"/><circle cx="355.6" cy="126.8" r="2.3" fill="#7a9ae0" opacity="0.31"/><circle cx="306.1" cy="185.1" r="2.5" fill="#4a6ac0" opacity="0.56"/><circle cx="415.5" cy="123.2" r="2.6" fill="#7a9ae0" opacity="0.46"/><circle cx="420.4" cy="113.6" r="2.2" fill="#5a7ed0" opacity="0.47"/><circle cx="340.3" cy="140.8" r="1.2" fill="#4a6ac0" opacity="0.59"/><circle cx="473.2" cy="101.3" r="2.0" fill="#3a58a8" opacity="0.68"/><circle cx="295.8" cy="52.5" r="1.4" fill="#7a9ae0" opacity="0.59"/><circle cx="428.1" cy="135.8" r="1.6" fill="#3a58a8" opacity="0.65"/><circle cx="475.3" cy="162.6" r="1.8" fill="#3a58a8" opacity="0.49"/><circle cx="319.1" cy="26.3" r="2.2" fill="#6a60b0" opacity="0.41"/><circle cx="435.0" cy="163.0" r="1.3" fill="#3a58a8" opacity="0.35"/><circle cx="294.2" cy="187.2" r="1.9" fill="#5a7ed0" opacity="0.65"/><circle cx="389.5" cy="209.3" r="1.2" fill="#8ab0f0" opacity="0.37"/><circle cx="416.6" cy="188.5" r="1.5" fill="#4a6ac0" opacity="0.63"/><circle cx="372.7" cy="45.8" r="1.8" fill="#4a6ac0" opacity="0.31"/><circle cx="418.4" cy="183.7" r="1.5" fill="#3a58a8" opacity="0.51"/><circle cx="461.3" cy="197.8" r="1.9" fill="#4a6ac0" opacity="0.74"/><circle cx="425.4" cy="55.3" r="2.0" fill="#6a60b0" opacity="0.64"/><circle cx="462.6" cy="103.8" r="2.0" fill="#8ab0f0" opacity="0.44"/><circle cx="352.9" cy="123.5" r="2.3" fill="#3a58a8" opacity="0.44"/><circle cx="366.3" cy="51.3" r="1.0" fill="#8ab0f0" opacity="0.67"/><circle cx="456.5" cy="86.7" r="1.8" fill="#5a7ed0" opacity="0.61"/><circle cx="382.8" cy="164.0" r="1.5" fill="#3a58a8" opacity="0.66"/><circle cx="404.6" cy="171.8" r="1.9" fill="#4a6ac0" opacity="0.49"/><circle cx="397.0" cy="96.2" r="1.3" fill="#6a60b0" opacity="0.59"/><circle cx="452.5" cy="63.5" r="1.1" fill="#6a60b0" opacity="0.41"/><circle cx="439.3" cy="193.1" r="2.3" fill="#6a60b0" opacity="0.42"/><circle cx="415.2" cy="122.0" r="1.4" fill="#4a6ac0" opacity="0.68"/><circle cx="318.8" cy="76.4" r="2.0" fill="#8ab0f0" opacity="0.50"/><circle cx="426.0" cy="114.5" r="1.5" fill="#4a6ac0" opacity="0.32"/><circle cx="391.7" cy="57.0" r="1.2" fill="#7a9ae0" opacity="0.36"/><circle cx="371.8" cy="23.5" r="1.1" fill="#5a7ed0" opacity="0.52"/><circle cx="351.8" cy="80.6" r="2.3" fill="#7a9ae0" opacity="0.51"/><circle cx="444.8" cy="84.1" r="2.3" fill="#4a6ac0" opacity="0.33"/><circle cx="441.6" cy="35.4" r="1.8" fill="#4a6ac0" opacity="0.70"/><circle cx="332.8" cy="93.7" r="1.0" fill="#6a60b0" opacity="0.41"/><circle cx="440.6" cy="105.3" r="2.2" fill="#5a7ed0" opacity="0.39"/><circle cx="433.2" cy="39.7" r="2.1" fill="#4a6ac0" opacity="0.51"/><circle cx="422.1" cy="80.7" r="1.5" fill="#6a60b0" opacity="0.63"/><circle cx="435.2" cy="125.3" r="1.2" fill="#3a58a8" opacity="0.59"/><circle cx="322.1" cy="188.9" r="2.4" fill="#4a6ac0" opacity="0.74"/><circle cx="329.8" cy="103.6" r="1.0" fill="#7a9ae0" opacity="0.56"/><circle cx="362.9" cy="67.7" r="2.6" fill="#8ab0f0" opacity="0.65"/><circle cx="379.4" cy="134.1" r="1.6" fill="#5a7ed0" opacity="0.41"/><circle cx="384.5" cy="151.0" r="1.5" fill="#6a60b0" opacity="0.33"/><circle cx="354.6" cy="50.9" r="1.9" fill="#5a7ed0" opacity="0.36"/><circle cx="329.2" cy="206.6" r="2.3" fill="#7a9ae0" opacity="0.66"/><circle cx="371.8" cy="58.3" r="2.1" fill="#7a9ae0" opacity="0.63"/><circle cx="332.9" cy="29.4" r="2.1" fill="#8ab0f0" opacity="0.43"/><circle cx="425.3" cy="57.7" r="1.3" fill="#7a9ae0" opacity="0.45"/><circle cx="378.0" cy="185.1" r="2.0" fill="#8ab0f0" opacity="0.37"/><circle cx="390.9" cy="106.5" r="2.3" fill="#8ab0f0" opacity="0.47"/><circle cx="281.1" cy="141.9" r="1.6" fill="#4a6ac0" opacity="0.70"/><circle cx="409.3" cy="90.4" r="2.0" fill="#7a9ae0" opacity="0.62"/><circle cx="417.3" cy="123.3" r="1.6" fill="#8ab0f0" opacity="0.61"/><circle cx="439.5" cy="51.0" r="1.5" fill="#3a58a8" opacity="0.59"/><circle cx="303.9" cy="120.4" r="1.1" fill="#4a6ac0" opacity="0.38"/><circle cx="287.5" cy="42.1" r="1.3" fill="#5a7ed0" opacity="0.56"/><circle cx="454.1" cy="145.7" r="1.8" fill="#6a60b0" opacity="0.57"/><circle cx="291.2" cy="63.5" r="2.1" fill="#5a7ed0" opacity="0.72"/><circle cx="324.2" cy="114.4" r="2.4" fill="#5a7ed0" opacity="0.51"/><circle cx="413.3" cy="89.9" r="2.2" fill="#3a58a8" opacity="0.67"/><circle cx="445.4" cy="33.0" r="2.0" fill="#8ab0f0" opacity="0.32"/><circle cx="295.6" cy="79.1" r="2.5" fill="#8ab0f0" opacity="0.34"/><circle cx="431.1" cy="122.0" r="1.3" fill="#8ab0f0" opacity="0.60"/><circle cx="399.0" cy="200.1" r="1.9" fill="#8ab0f0" opacity="0.49"/><circle cx="302.8" cy="142.1" r="1.6" fill="#3a58a8" opacity="0.62"/><circle cx="369.4" cy="41.6" r="2.3" fill="#8ab0f0" opacity="0.48"/><circle cx="350.9" cy="51.7" r="2.6" fill="#3a58a8" opacity="0.72"/><circle cx="467.8" cy="125.4" r="2.6" fill="#7a9ae0" opacity="0.49"/><circle cx="412.1" cy="177.3" r="1.5" fill="#4a6ac0" opacity="0.55"/><circle cx="325.3" cy="166.0" r="2.5" fill="#7a9ae0" opacity="0.46"/><circle cx="374.6" cy="202.4" r="1.0" fill="#5a7ed0" opacity="0.74"/><circle cx="404.3" cy="119.3" r="2.6" fill="#7a9ae0" opacity="0.30"/><circle cx="484.8" cy="62.4" r="1.5" fill="#6a60b0" opacity="0.67"/><circle cx="471.3" cy="118.1" r="1.9" fill="#8ab0f0" opacity="0.37"/><circle cx="288.8" cy="88.9" r="1.2" fill="#7a9ae0" opacity="0.70"/><circle cx="332.7" cy="70.2" r="1.5" fill="#8ab0f0" opacity="0.48"/><circle cx="471.0" cy="160.0" r="2.2" fill="#3a58a8" opacity="0.38"/><circle cx="451.9" cy="151.6" r="1.9" fill="#5a7ed0" opacity="0.57"/><circle cx="343.2" cy="159.4" r="1.9" fill="#5a7ed0" opacity="0.65"/><circle cx="471.8" cy="84.9" r="2.4" fill="#3a58a8" opacity="0.49"/><circle cx="460.6" cy="185.5" r="1.4" fill="#6a60b0" opacity="0.68"/><circle cx="473.2" cy="141.2" r="2.0" fill="#5a7ed0" opacity="0.44"/><circle cx="289.5" cy="123.5" r="1.2" fill="#8ab0f0" opacity="0.61"/><circle cx="312.7" cy="148.6" r="2.6" fill="#3a58a8" opacity="0.64"/><circle cx="400.1" cy="38.9" r="1.7" fill="#3a58a8" opacity="0.37"/><circle cx="350.6" cy="111.5" r="2.2" fill="#8ab0f0" opacity="0.48"/><circle cx="298.6" cy="116.3" r="2.2" fill="#4a6ac0" opacity="0.64"/><circle cx="380.6" cy="59.2" r="1.6" fill="#8ab0f0" opacity="0.39"/><circle cx="408.5" cy="160.3" r="1.4" fill="#5a7ed0" opacity="0.42"/><circle cx="370.0" cy="150.7" r="1.9" fill="#5a7ed0" opacity="0.60"/><circle cx="368.7" cy="87.5" r="1.5" fill="#8ab0f0" opacity="0.59"/><circle cx="440.3" cy="53.8" r="1.6" fill="#3a58a8" opacity="0.58"/><circle cx="372.2" cy="195.8" r="1.4" fill="#6a60b0" opacity="0.47"/><circle cx="437.9" cy="182.3" r="1.2" fill="#5a7ed0" opacity="0.41"/><circle cx="409.5" cy="49.8" r="2.3" fill="#7a9ae0" opacity="0.31"/><circle cx="424.6" cy="42.9" r="1.7" fill="#5a7ed0" opacity="0.45"/><circle cx="434.2" cy="61.8" r="1.9" fill="#7a9ae0" opacity="0.55"/><circle cx="410.0" cy="208.6" r="2.1" fill="#6a60b0" opacity="0.31"/><circle cx="401.7" cy="146.7" r="1.1" fill="#4a6ac0" opacity="0.33"/><circle cx="322.5" cy="152.9" r="1.4" fill="#3a58a8" opacity="0.59"/><circle cx="282.7" cy="95.1" r="1.4" fill="#6a60b0" opacity="0.46"/><circle cx="303.3" cy="77.0" r="2.4" fill="#3a58a8" opacity="0.40"/><circle cx="359.8" cy="205.6" r="1.2" fill="#7a9ae0" opacity="0.52"/><circle cx="404.6" cy="38.5" r="1.3" fill="#3a58a8" opacity="0.55"/><circle cx="428.5" cy="29.5" r="2.5" fill="#7a9ae0" opacity="0.45"/><circle cx="362.4" cy="51.5" r="1.6" fill="#7a9ae0" opacity="0.46"/><circle cx="343.6" cy="209.2" r="2.6" fill="#7a9ae0" opacity="0.67"/><circle cx="410.5" cy="187.2" r="2.4" fill="#5a7ed0" opacity="0.72"/><circle cx="477.5" cy="64.4" r="1.5" fill="#3a58a8" opacity="0.60"/><circle cx="299.2" cy="93.9" r="2.5" fill="#8ab0f0" opacity="0.69"/><circle cx="423.1" cy="100.5" r="1.9" fill="#3a58a8" opacity="0.74"/><circle cx="469.3" cy="83.9" r="1.9" fill="#4a6ac0" opacity="0.59"/><circle cx="401.3" cy="150.6" r="1.3" fill="#4a6ac0" opacity="0.44"/><circle cx="427.0" cy="120.5" r="1.2" fill="#4a6ac0" opacity="0.60"/><circle cx="397.9" cy="51.7" r="1.1" fill="#8ab0f0" opacity="0.73"/><circle cx="305.5" cy="81.7" r="2.4" fill="#6a60b0" opacity="0.31"/><circle cx="347.0" cy="204.9" r="2.5" fill="#7a9ae0" opacity="0.50"/><circle cx="474.3" cy="190.1" r="2.5" fill="#7a9ae0" opacity="0.37"/><circle cx="319.9" cy="46.7" r="1.0" fill="#8ab0f0" opacity="0.58"/><circle cx="406.4" cy="137.1" r="2.0" fill="#4a6ac0" opacity="0.61"/><circle cx="355.4" cy="151.4" r="1.8" fill="#8ab0f0" opacity="0.68"/><circle cx="378.0" cy="144.1" r="1.3" fill="#3a58a8" opacity="0.52"/><circle cx="309.5" cy="58.3" r="1.1" fill="#5a7ed0" opacity="0.72"/><circle cx="477.7" cy="63.8" r="2.1" fill="#4a6ac0" opacity="0.64"/><circle cx="294.7" cy="196.3" r="2.6" fill="#8ab0f0" opacity="0.52"/><circle cx="348.3" cy="108.0" r="1.4" fill="#3a58a8" opacity="0.65"/><circle cx="406.8" cy="177.0" r="2.2" fill="#3a58a8" opacity="0.58"/><circle cx="434.7" cy="133.6" r="1.8" fill="#6a60b0" opacity="0.65"/><circle cx="388.8" cy="106.9" r="2.3" fill="#5a7ed0" opacity="0.70"/><circle cx="331.9" cy="123.1" r="2.6" fill="#5a7ed0" opacity="0.55"/><circle cx="387.8" cy="140.6" r="1.1" fill="#7a9ae0" opacity="0.50"/><circle cx="464.1" cy="167.5" r="1.5" fill="#4a6ac0" opacity="0.49"/><circle cx="407.9" cy="32.3" r="1.8" fill="#4a6ac0" opacity="0.51"/><circle cx="414.7" cy="39.0" r="1.8" fill="#4a6ac0" opacity="0.65"/><circle cx="475.1" cy="152.9" r="1.2" fill="#3a58a8" opacity="0.45"/><circle cx="286.2" cy="107.3" r="2.4" fill="#4a6ac0" opacity="0.70"/><circle cx="299.7" cy="82.9" r="2.0" fill="#6a60b0" opacity="0.66"/><circle cx="429.7" cy="45.2" r="1.2" fill="#3a58a8" opacity="0.59"/><circle cx="298.7" cy="155.0" r="2.2" fill="#8ab0f0" opacity="0.58"/><circle cx="314.1" cy="125.5" r="1.1" fill="#4a6ac0" opacity="0.71"/><circle cx="398.1" cy="146.0" r="1.2" fill="#4a6ac0" opacity="0.38"/><circle cx="428.4" cy="100.9" r="1.5" fill="#3a58a8" opacity="0.43"/><circle cx="318.4" cy="190.9" r="2.5" fill="#5a7ed0" opacity="0.58"/><circle cx="333.4" cy="108.2" r="2.4" fill="#8ab0f0" opacity="0.66"/><circle cx="406.9" cy="114.8" r="1.3" fill="#6a60b0" opacity="0.51"/><circle cx="365.9" cy="36.9" r="2.0" fill="#4a6ac0" opacity="0.70"/><circle cx="338.6" cy="140.2" r="2.3" fill="#4a6ac0" opacity="0.32"/><circle cx="311.7" cy="144.8" r="1.1" fill="#5a7ed0" opacity="0.60"/><circle cx="454.5" cy="78.1" r="2.5" fill="#5a7ed0" opacity="0.35"/><circle cx="486.7" cy="52.3" r="1.5" fill="#6a60b0" opacity="0.61"/><circle cx="404.2" cy="170.0" r="1.3" fill="#3a58a8" opacity="0.64"/><circle cx="355.6" cy="28.7" r="2.2" fill="#7a9ae0" opacity="0.47"/><circle cx="359.4" cy="34.7" r="1.7" fill="#8ab0f0" opacity="0.33"/><circle cx="378.5" cy="44.9" r="2.4" fill="#7a9ae0" opacity="0.54"/><circle cx="389.6" cy="152.8" r="2.0" fill="#5a7ed0" opacity="0.56"/><circle cx="483.7" cy="121.4" r="1.1" fill="#6a60b0" opacity="0.61"/><circle cx="474.3" cy="207.4" r="1.5" fill="#8ab0f0" opacity="0.68"/><circle cx="334.7" cy="130.1" r="2.0" fill="#4a6ac0" opacity="0.58"/><circle cx="383.8" cy="159.1" r="1.8" fill="#4a6ac0" opacity="0.70"/><circle cx="329.2" cy="76.6" r="1.3" fill="#5a7ed0" opacity="0.31"/><circle cx="410.5" cy="44.2" r="2.4" fill="#8ab0f0" opacity="0.75"/><circle cx="366.7" cy="84.8" r="1.9" fill="#6a60b0" opacity="0.40"/><circle cx="413.6" cy="151.7" r="1.4" fill="#5a7ed0" opacity="0.44"/><circle cx="385.9" cy="82.9" r="1.0" fill="#6a60b0" opacity="0.45"/><circle cx="363.0" cy="129.0" r="2.5" fill="#4a6ac0" opacity="0.39"/><circle cx="453.6" cy="195.4" r="1.8" fill="#3a58a8" opacity="0.66"/><circle cx="414.7" cy="112.5" r="2.0" fill="#8ab0f0" opacity="0.70"/><circle cx="376.7" cy="175.1" r="2.5" fill="#5a7ed0" opacity="0.68"/><circle cx="343.0" cy="158.3" r="1.5" fill="#8ab0f0" opacity="0.31"/><circle cx="400.5" cy="84.4" r="2.5" fill="#7a9ae0" opacity="0.33"/><circle cx="311.9" cy="180.1" r="1.5" fill="#3a58a8" opacity="0.58"/><circle cx="455.4" cy="129.3" r="1.6" fill="#8ab0f0" opacity="0.35"/><circle cx="442.9" cy="80.0" r="2.4" fill="#6a60b0" opacity="0.31"/><circle cx="366.7" cy="115.4" r="1.4" fill="#3a58a8" opacity="0.67"/><circle cx="343.6" cy="120.7" r="1.3" fill="#7a9ae0" opacity="0.65"/><circle cx="442.0" cy="193.7" r="1.7" fill="#5a7ed0" opacity="0.66"/><circle cx="468.3" cy="51.0" r="1.5" fill="#3a58a8" opacity="0.63"/><circle cx="389.4" cy="167.8" r="1.2" fill="#5a7ed0" opacity="0.67"/><circle cx="475.2" cy="149.2" r="1.2" fill="#6a60b0" opacity="0.32"/><circle cx="361.2" cy="184.6" r="1.2" fill="#7a9ae0" opacity="0.72"/><circle cx="423.2" cy="133.7" r="1.1" fill="#3a58a8" opacity="0.70"/><circle cx="302.3" cy="166.0" r="2.2" fill="#5a7ed0" opacity="0.56"/><circle cx="345.6" cy="189.7" r="1.5" fill="#4a6ac0" opacity="0.43"/><circle cx="391.2" cy="167.3" r="2.1" fill="#7a9ae0" opacity="0.37"/><circle cx="337.6" cy="24.9" r="2.0" fill="#8ab0f0" opacity="0.35"/><circle cx="393.3" cy="125.3" r="1.4" fill="#6a60b0" opacity="0.66"/><circle cx="399.8" cy="54.2" r="1.5" fill="#7a9ae0" opacity="0.54"/><circle cx="291.5" cy="27.5" r="2.4" fill="#5a7ed0" opacity="0.35"/><circle cx="292.1" cy="102.2" r="1.3" fill="#8ab0f0" opacity="0.70"/><circle cx="411.3" cy="151.7" r="1.7" fill="#7a9ae0" opacity="0.44"/><circle cx="450.2" cy="156.0" r="2.1" fill="#8ab0f0" opacity="0.34"/><circle cx="472.0" cy="165.7" r="1.9" fill="#5a7ed0" opacity="0.67"/><circle cx="471.4" cy="110.0" r="1.7" fill="#6a60b0" opacity="0.59"/><circle cx="439.7" cy="110.5" r="2.5" fill="#4a6ac0" opacity="0.69"/><circle cx="408.7" cy="193.6" r="1.6" fill="#6a60b0" opacity="0.71"/><circle cx="349.4" cy="183.8" r="1.5" fill="#3a58a8" opacity="0.31"/><circle cx="379.4" cy="88.1" r="1.7" fill="#4a6ac0" opacity="0.43"/><circle cx="353.2" cy="130.0" r="1.8" fill="#3a58a8" opacity="0.67"/><circle cx="445.9" cy="83.3" r="2.0" fill="#7a9ae0" opacity="0.54"/><circle cx="364.0" cy="99.7" r="2.0" fill="#8ab0f0" opacity="0.37"/><circle cx="380.9" cy="34.4" r="1.3" fill="#6a60b0" opacity="0.57"/><circle cx="443.4" cy="103.8" r="2.3" fill="#8ab0f0" opacity="0.61"/><circle cx="316.8" cy="147.9" r="2.2" fill="#6a60b0" opacity="0.56"/><circle cx="381.7" cy="133.3" r="1.7" fill="#8ab0f0" opacity="0.34"/><circle cx="373.2" cy="79.9" r="1.6" fill="#8ab0f0" opacity="0.35"/><circle cx="449.5" cy="167.0" r="1.6" fill="#3a58a8" opacity="0.59"/><circle cx="293.7" cy="62.9" r="1.2" fill="#8ab0f0" opacity="0.71"/><circle cx="412.7" cy="22.0" r="1.2" fill="#4a6ac0" opacity="0.50"/><circle cx="341.3" cy="137.7" r="1.7" fill="#4a6ac0" opacity="0.61"/><circle cx="346.5" cy="129.2" r="2.5" fill="#7a9ae0" opacity="0.71"/><circle cx="474.9" cy="156.9" r="2.5" fill="#5a7ed0" opacity="0.56"/><circle cx="407.6" cy="118.0" r="2.4" fill="#7a9ae0" opacity="0.33"/><circle cx="467.5" cy="204.0" r="1.0" fill="#8ab0f0" opacity="0.67"/><circle cx="355.4" cy="183.9" r="2.4" fill="#4a6ac0" opacity="0.49"/><circle cx="403.2" cy="139.5" r="2.1" fill="#3a58a8" opacity="0.47"/><circle cx="393.8" cy="146.5" r="1.8" fill="#4a6ac0" opacity="0.55"/><circle cx="455.6" cy="89.7" r="1.7" fill="#7a9ae0" opacity="0.75"/><circle cx="419.7" cy="47.2" r="1.1" fill="#5a7ed0" opacity="0.36"/><circle cx="464.2" cy="145.7" r="2.6" fill="#4a6ac0" opacity="0.34"/><circle cx="413.9" cy="100.2" r="1.7" fill="#6a60b0" opacity="0.57"/><circle cx="369.1" cy="55.8" r="1.8" fill="#8ab0f0" opacity="0.67"/><circle cx="360.6" cy="64.4" r="1.7" fill="#5a7ed0" opacity="0.56"/><circle cx="456.3" cy="66.5" r="1.8" fill="#3a58a8" opacity="0.72"/><circle cx="400.3" cy="28.3" r="1.1" fill="#3a58a8" opacity="0.62"/><circle cx="304.4" cy="112.5" r="2.1" fill="#4a6ac0" opacity="0.63"/><circle cx="390.0" cy="183.6" r="2.2" fill="#7a9ae0" opacity="0.51"/><circle cx="297.2" cy="189.3" r="1.1" fill="#3a58a8" opacity="0.58"/><circle cx="418.4" cy="147.7" r="2.1" fill="#8ab0f0" opacity="0.66"/><circle cx="345.7" cy="31.9" r="1.5" fill="#5a7ed0" opacity="0.51"/><circle cx="387.1" cy="110.2" r="2.2" fill="#3a58a8" opacity="0.46"/><circle cx="483.4" cy="77.4" r="1.3" fill="#6a60b0" opacity="0.72"/><circle cx="436.1" cy="158.7" r="1.9" fill="#5a7ed0" opacity="0.58"/><circle cx="400.7" cy="129.7" r="2.1" fill="#7a9ae0" opacity="0.66"/><circle cx="410.2" cy="75.9" r="1.1" fill="#8ab0f0" opacity="0.33"/><circle cx="443.2" cy="69.4" r="2.0" fill="#7a9ae0" opacity="0.69"/><circle cx="283.9" cy="43.0" r="1.3" fill="#8ab0f0" opacity="0.63"/><circle cx="417.4" cy="91.5" r="1.3" fill="#6a60b0" opacity="0.41"/><circle cx="318.4" cy="121.1" r="1.1" fill="#5a7ed0" opacity="0.74"/><circle cx="404.3" cy="176.5" r="2.3" fill="#3a58a8" opacity="0.65"/><circle cx="330.3" cy="104.8" r="2.0" fill="#4a6ac0" opacity="0.56"/><circle cx="455.3" cy="32.2" r="1.4" fill="#5a7ed0" opacity="0.32"/><circle cx="377.1" cy="111.5" r="1.8" fill="#8ab0f0" opacity="0.41"/><circle cx="422.5" cy="95.3" r="1.4" fill="#8ab0f0" opacity="0.69"/><circle cx="283.5" cy="196.3" r="1.7" fill="#6a60b0" opacity="0.44"/><circle cx="390.8" cy="201.7" r="1.2" fill="#8ab0f0" opacity="0.59"/><circle cx="478.9" cy="103.2" r="2.5" fill="#7a9ae0" opacity="0.45"/><circle cx="336.3" cy="40.5" r="2.0" fill="#3a58a8" opacity="0.51"/><circle cx="420.8" cy="67.5" r="2.1" fill="#4a6ac0" opacity="0.53"/><circle cx="421.3" cy="208.7" r="1.5" fill="#5a7ed0" opacity="0.60"/><circle cx="453.2" cy="24.2" r="1.2" fill="#5a7ed0" opacity="0.61"/><circle cx="353.8" cy="158.3" r="1.4" fill="#5a7ed0" opacity="0.31"/><circle cx="300.0" cy="198.4" r="2.1" fill="#4a6ac0" opacity="0.73"/><circle cx="413.1" cy="155.1" r="1.2" fill="#8ab0f0" opacity="0.36"/><circle cx="416.9" cy="191.2" r="1.9" fill="#4a6ac0" opacity="0.70"/><circle cx="425.0" cy="69.6" r="1.7" fill="#5a7ed0" opacity="0.59"/><circle cx="472.0" cy="74.0" r="1.7" fill="#6a60b0" opacity="0.65"/><circle cx="347.9" cy="52.4" r="1.1" fill="#5a7ed0" opacity="0.47"/><circle cx="349.9" cy="33.3" r="2.5" fill="#7a9ae0" opacity="0.38"/><circle cx="295.4" cy="206.1" r="1.3" fill="#3a58a8" opacity="0.38"/><circle cx="382.9" cy="49.0" r="2.2" fill="#4a6ac0" opacity="0.58"/><circle cx="303.0" cy="105.0" r="1.4" fill="#5a7ed0" opacity="0.33"/><circle cx="399.3" cy="69.1" r="1.7" fill="#3a58a8" opacity="0.37"/><circle cx="413.5" cy="197.4" r="2.1" fill="#7a9ae0" opacity="0.37"/><circle cx="349.3" cy="95.6" r="1.0" fill="#6a60b0" opacity="0.72"/><circle cx="382.6" cy="104.0" r="2.4" fill="#5a7ed0" opacity="0.54"/><circle cx="281.7" cy="201.4" r="2.3" fill="#3a58a8" opacity="0.35"/><circle cx="391.8" cy="208.4" r="1.5" fill="#7a9ae0" opacity="0.48"/><circle cx="411.9" cy="202.3" r="1.1" fill="#8ab0f0" opacity="0.68"/><circle cx="351.4" cy="180.1" r="2.2" fill="#7a9ae0" opacity="0.59"/><circle cx="317.6" cy="29.4" r="1.6" fill="#4a6ac0" opacity="0.43"/><circle cx="361.8" cy="42.1" r="2.1" fill="#3a58a8" opacity="0.34"/><circle cx="412.0" cy="160.2" r="1.2" fill="#4a6ac0" opacity="0.31"/><circle cx="487.3" cy="66.8" r="1.6" fill="#8ab0f0" opacity="0.59"/><circle cx="384.4" cy="203.4" r="2.3" fill="#5a7ed0" opacity="0.32"/><circle cx="292.6" cy="170.1" r="1.1" fill="#5a7ed0" opacity="0.40"/><circle cx="416.3" cy="120.3" r="2.5" fill="#8ab0f0" opacity="0.37"/><circle cx="400.9" cy="195.9" r="1.1" fill="#4a6ac0" opacity="0.52"/><circle cx="284.9" cy="192.5" r="2.0" fill="#4a6ac0" opacity="0.62"/><circle cx="308.0" cy="54.4" r="1.1" fill="#7a9ae0" opacity="0.67"/><circle cx="301.1" cy="136.9" r="2.3" fill="#5a7ed0" opacity="0.67"/><circle cx="303.0" cy="115.5" r="2.3" fill="#4a6ac0" opacity="0.33"/><circle cx="322.9" cy="85.4" r="2.3" fill="#6a60b0" opacity="0.61"/><circle cx="348.1" cy="205.5" r="1.9" fill="#4a6ac0" opacity="0.44"/><circle cx="480.7" cy="62.1" r="1.1" fill="#4a6ac0" opacity="0.45"/><circle cx="306.0" cy="48.6" r="1.7" fill="#6a60b0" opacity="0.47"/><circle cx="315.2" cy="67.8" r="1.9" fill="#4a6ac0" opacity="0.34"/><circle cx="456.4" cy="137.1" r="2.2" fill="#5a7ed0" opacity="0.70"/><circle cx="297.7" cy="23.4" r="2.5" fill="#6a60b0" opacity="0.59"/><circle cx="464.6" cy="100.2" r="2.3" fill="#3a58a8" opacity="0.61"/><circle cx="323.7" cy="142.3" r="1.8" fill="#3a58a8" opacity="0.41"/><circle cx="317.1" cy="152.0" r="2.0" fill="#6a60b0" opacity="0.52"/><circle cx="477.7" cy="139.9" r="2.3" fill="#7a9ae0" opacity="0.49"/><circle cx="396.4" cy="58.1" r="2.6" fill="#5a7ed0" opacity="0.58"/><circle cx="459.6" cy="207.5" r="1.8" fill="#3a58a8" opacity="0.65"/><circle cx="417.5" cy="74.0" r="1.3" fill="#4a6ac0" opacity="0.61"/><circle cx="481.5" cy="111.2" r="1.3" fill="#6a60b0" opacity="0.72"/><circle cx="292.2" cy="90.5" r="1.3" fill="#7a9ae0" opacity="0.45"/><circle cx="447.7" cy="164.6" r="1.1" fill="#6a60b0" opacity="0.32"/><circle cx="392.2" cy="51.7" r="1.0" fill="#8ab0f0" opacity="0.35"/><circle cx="466.3" cy="157.6" r="1.9" fill="#7a9ae0" opacity="0.49"/><circle cx="435.6" cy="190.9" r="1.4" fill="#5a7ed0" opacity="0.45"/><circle cx="301.3" cy="160.7" r="2.4" fill="#3a58a8" opacity="0.70"/><circle cx="296.2" cy="132.0" r="1.1" fill="#3a58a8" opacity="0.37"/><circle cx="473.1" cy="107.5" r="1.6" fill="#4a6ac0" opacity="0.51"/><circle cx="321.2" cy="89.4" r="1.4" fill="#7a9ae0" opacity="0.36"/><circle cx="424.3" cy="33.2" r="1.2" fill="#3a58a8" opacity="0.51"/><circle cx="316.4" cy="86.6" r="2.4" fill="#8ab0f0" opacity="0.37"/><circle cx="445.5" cy="201.1" r="2.4" fill="#8ab0f0" opacity="0.74"/><circle cx="458.0" cy="38.3" r="2.4" fill="#3a58a8" opacity="0.69"/><circle cx="325.8" cy="111.0" r="1.7" fill="#5a7ed0" opacity="0.63"/><circle cx="433.4" cy="68.4" r="1.5" fill="#8ab0f0" opacity="0.40"/><circle cx="473.0" cy="199.9" r="2.5" fill="#5a7ed0" opacity="0.49"/><circle cx="290.2" cy="208.4" r="2.2" fill="#8ab0f0" opacity="0.32"/><circle cx="390.9" cy="112.1" r="2.3" fill="#5a7ed0" opacity="0.50"/><circle cx="330.8" cy="127.0" r="1.0" fill="#6a60b0" opacity="0.48"/><circle cx="326.1" cy="89.4" r="1.4" fill="#5a7ed0" opacity="0.31"/><circle cx="419.5" cy="52.4" r="1.7" fill="#8ab0f0" opacity="0.64"/><circle cx="286.1" cy="107.5" r="2.2" fill="#6a60b0" opacity="0.48"/><circle cx="444.5" cy="91.6" r="1.7" fill="#6a60b0" opacity="0.30"/><circle cx="410.9" cy="94.4" r="2.1" fill="#8ab0f0" opacity="0.31"/><circle cx="369.2" cy="72.7" r="2.5" fill="#8ab0f0" opacity="0.56"/><circle cx="323.9" cy="150.7" r="2.0" fill="#7a9ae0" opacity="0.63"/><circle cx="292.3" cy="199.7" r="2.1" fill="#5a7ed0" opacity="0.35"/><circle cx="356.7" cy="138.4" r="1.6" fill="#4a6ac0" opacity="0.59"/><circle cx="426.9" cy="127.4" r="2.2" fill="#4a6ac0" opacity="0.74"/><circle cx="330.4" cy="43.3" r="1.8" fill="#8ab0f0" opacity="0.69"/><circle cx="426.5" cy="163.6" r="2.2" fill="#7a9ae0" opacity="0.46"/><circle cx="336.3" cy="149.9" r="1.4" fill="#5a7ed0" opacity="0.47"/><circle cx="374.6" cy="116.3" r="2.3" fill="#3a58a8" opacity="0.62"/><circle cx="421.4" cy="122.2" r="1.5" fill="#8ab0f0" opacity="0.47"/><circle cx="420.4" cy="152.3" r="2.6" fill="#5a7ed0" opacity="0.38"/><circle cx="464.0" cy="38.4" r="1.6" fill="#4a6ac0" opacity="0.43"/><circle cx="479.0" cy="42.6" r="1.4" fill="#6a60b0" opacity="0.37"/><circle cx="312.2" cy="60.4" r="2.5" fill="#5a7ed0" opacity="0.43"/><circle cx="481.7" cy="123.8" r="1.2" fill="#7a9ae0" opacity="0.49"/><circle cx="433.7" cy="26.0" r="1.3" fill="#5a7ed0" opacity="0.69"/><circle cx="329.1" cy="200.1" r="2.0" fill="#3a58a8" opacity="0.56"/><circle cx="416.7" cy="169.9" r="1.8" fill="#6a60b0" opacity="0.61"/><circle cx="455.3" cy="105.7" r="1.5" fill="#4a6ac0" opacity="0.70"/><circle cx="344.4" cy="170.4" r="1.4" fill="#7a9ae0" opacity="0.74"/><circle cx="440.3" cy="30.9" r="1.6" fill="#3a58a8" opacity="0.73"/><circle cx="409.1" cy="52.2" r="1.9" fill="#4a6ac0" opacity="0.74"/><circle cx="454.7" cy="152.3" r="2.1" fill="#4a6ac0" opacity="0.37"/><circle cx="305.2" cy="208.8" r="1.9" fill="#3a58a8" opacity="0.42"/><circle cx="319.2" cy="127.7" r="1.1" fill="#7a9ae0" opacity="0.74"/><circle cx="311.6" cy="106.3" r="2.6" fill="#8ab0f0" opacity="0.44"/><circle cx="471.5" cy="98.1" r="1.8" fill="#4a6ac0" opacity="0.73"/><circle cx="473.1" cy="51.3" r="2.6" fill="#8ab0f0" opacity="0.74"/><circle cx="349.6" cy="154.6" r="1.8" fill="#7a9ae0" opacity="0.74"/><circle cx="437.1" cy="208.9" r="2.1" fill="#8ab0f0" opacity="0.63"/><circle cx="471.9" cy="85.7" r="1.2" fill="#3a58a8" opacity="0.71"/><circle cx="309.9" cy="125.6" r="1.5" fill="#3a58a8" opacity="0.58"/><circle cx="326.6" cy="89.2" r="1.5" fill="#8ab0f0" opacity="0.59"/><circle cx="401.8" cy="63.8" r="2.5" fill="#7a9ae0" opacity="0.39"/><circle cx="298.3" cy="181.7" r="2.1" fill="#5a7ed0" opacity="0.74"/><circle cx="362.6" cy="114.2" r="2.0" fill="#8ab0f0" opacity="0.72"/><circle cx="469.0" cy="89.9" r="1.2" fill="#3a58a8" opacity="0.47"/><circle cx="358.2" cy="75.5" r="1.6" fill="#3a58a8" opacity="0.69"/><circle cx="299.1" cy="158.8" r="1.7" fill="#3a58a8" opacity="0.66"/><circle cx="340.7" cy="173.5" r="2.6" fill="#3a58a8" opacity="0.63"/><circle cx="366.7" cy="179.1" r="2.0" fill="#4a6ac0" opacity="0.39"/><circle cx="379.2" cy="185.1" r="2.6" fill="#5a7ed0" opacity="0.72"/><circle cx="403.3" cy="92.6" r="1.0" fill="#6a60b0" opacity="0.71"/><circle cx="366.8" cy="126.5" r="2.1" fill="#4a6ac0" opacity="0.39"/><circle cx="453.3" cy="76.4" r="1.8" fill="#7a9ae0" opacity="0.68"/><circle cx="343.9" cy="127.1" r="1.7" fill="#5a7ed0" opacity="0.66"/><circle cx="312.9" cy="78.4" r="2.0" fill="#6a60b0" opacity="0.51"/><circle cx="416.3" cy="189.8" r="1.7" fill="#3a58a8" opacity="0.71"/><circle cx="414.5" cy="27.3" r="2.2" fill="#3a58a8" opacity="0.75"/><circle cx="294.8" cy="162.2" r="1.9" fill="#8ab0f0" opacity="0.50"/><circle cx="334.4" cy="151.0" r="2.6" fill="#5a7ed0" opacity="0.47"/><circle cx="432.7" cy="25.3" r="1.4" fill="#8ab0f0" opacity="0.33"/><circle cx="347.2" cy="187.1" r="1.2" fill="#4a6ac0" opacity="0.32"/><circle cx="355.8" cy="141.6" r="2.5" fill="#5a7ed0" opacity="0.43"/><circle cx="390.6" cy="198.0" r="1.8" fill="#6a60b0" opacity="0.38"/><circle cx="300.6" cy="163.5" r="1.9" fill="#7a9ae0" opacity="0.67"/><circle cx="422.8" cy="78.6" r="2.1" fill="#6a60b0" opacity="0.46"/><circle cx="391.6" cy="88.1" r="1.2" fill="#4a6ac0" opacity="0.53"/><circle cx="358.2" cy="113.2" r="1.5" fill="#4a6ac0" opacity="0.35"/><circle cx="313.0" cy="63.6" r="1.3" fill="#8ab0f0" opacity="0.58"/><circle cx="453.1" cy="120.8" r="1.9" fill="#8ab0f0" opacity="0.62"/><circle cx="447.1" cy="100.5" r="2.5" fill="#5a7ed0" opacity="0.67"/><circle cx="472.1" cy="112.1" r="1.5" fill="#7a9ae0" opacity="0.36"/><circle cx="372.5" cy="207.7" r="1.8" fill="#7a9ae0" opacity="0.38"/><circle cx="344.1" cy="162.0" r="1.2" fill="#4a6ac0" opacity="0.69"/><circle cx="310.5" cy="64.6" r="1.2" fill="#4a6ac0" opacity="0.74"/><circle cx="368.9" cy="165.4" r="1.2" fill="#5a7ed0" opacity="0.65"/><circle cx="437.8" cy="30.0" r="1.2" fill="#6a60b0" opacity="0.53"/><circle cx="293.3" cy="44.4" r="1.4" fill="#5a7ed0" opacity="0.44"/><circle cx="283.1" cy="40.1" r="1.2" fill="#8ab0f0" opacity="0.39"/><circle cx="467.5" cy="56.7" r="1.6" fill="#5a7ed0" opacity="0.37"/><circle cx="435.5" cy="74.1" r="1.9" fill="#7a9ae0" opacity="0.37"/><circle cx="384.6" cy="159.0" r="1.4" fill="#8ab0f0" opacity="0.33"/><circle cx="450.7" cy="165.5" r="1.8" fill="#6a60b0" opacity="0.39"/><circle cx="339.3" cy="191.5" r="1.9" fill="#6a60b0" opacity="0.34"/><circle cx="325.3" cy="116.8" r="2.1" fill="#7a9ae0" opacity="0.61"/><circle cx="319.3" cy="148.6" r="1.2" fill="#7a9ae0" opacity="0.74"/><circle cx="368.8" cy="118.7" r="1.7" fill="#7a9ae0" opacity="0.36"/><circle cx="303.8" cy="47.6" r="2.2" fill="#6a60b0" opacity="0.43"/><circle cx="430.5" cy="37.5" r="1.8" fill="#3a58a8" opacity="0.43"/><circle cx="405.3" cy="80.7" r="2.6" fill="#3a58a8" opacity="0.40"/><circle cx="365.3" cy="207.2" r="1.7" fill="#5a7ed0" opacity="0.70"/><circle cx="447.1" cy="198.5" r="1.6" fill="#5a7ed0" opacity="0.75"/><circle cx="382.8" cy="41.8" r="1.7" fill="#6a60b0" opacity="0.60"/><circle cx="305.7" cy="96.2" r="2.1" fill="#5a7ed0" opacity="0.63"/><circle cx="465.7" cy="53.7" r="1.6" fill="#4a6ac0" opacity="0.45"/><circle cx="404.2" cy="208.2" r="1.2" fill="#3a58a8" opacity="0.63"/><circle cx="338.7" cy="156.1" r="1.9" fill="#7a9ae0" opacity="0.64"/><circle cx="446.8" cy="199.3" r="1.6" fill="#6a60b0" opacity="0.57"/><circle cx="364.7" cy="113.1" r="1.4" fill="#3a58a8" opacity="0.35"/><circle cx="332.9" cy="115.5" r="2.0" fill="#4a6ac0" opacity="0.31"/><circle cx="433.7" cy="178.1" r="1.8" fill="#5a7ed0" opacity="0.74"/><circle cx="360.2" cy="149.7" r="1.2" fill="#8ab0f0" opacity="0.58"/><circle cx="438.4" cy="146.3" r="1.8" fill="#3a58a8" opacity="0.66"/><circle cx="322.8" cy="146.5" r="1.8" fill="#7a9ae0" opacity="0.54"/><circle cx="448.6" cy="123.6" r="1.0" fill="#5a7ed0" opacity="0.75"/><circle cx="463.2" cy="44.4" r="1.7" fill="#3a58a8" opacity="0.50"/><circle cx="288.4" cy="55.3" r="2.1" fill="#7a9ae0" opacity="0.70"/><circle cx="315.0" cy="103.0" r="1.5" fill="#3a58a8" opacity="0.52"/><circle cx="303.6" cy="148.9" r="2.1" fill="#6a60b0" opacity="0.54"/><circle cx="378.3" cy="127.7" r="1.3" fill="#5a7ed0" opacity="0.48"/><circle cx="383.4" cy="204.5" r="2.0" fill="#7a9ae0" opacity="0.64"/><circle cx="339.9" cy="33.5" r="1.9" fill="#4a6ac0" opacity="0.68"/><circle cx="353.2" cy="161.5" r="1.0" fill="#6a60b0" opacity="0.45"/><circle cx="301.2" cy="86.9" r="1.6" fill="#7a9ae0" opacity="0.33"/><circle cx="331.6" cy="66.1" r="1.5" fill="#5a7ed0" opacity="0.71"/><circle cx="294.6" cy="79.3" r="1.5" fill="#5a7ed0" opacity="0.54"/><circle cx="288.7" cy="145.7" r="1.7" fill="#8ab0f0" opacity="0.71"/><circle cx="336.2" cy="152.8" r="1.9" fill="#7a9ae0" opacity="0.47"/><circle cx="361.8" cy="129.6" r="2.3" fill="#5a7ed0" opacity="0.61"/><circle cx="323.6" cy="115.4" r="2.3" fill="#6a60b0" opacity="0.45"/><circle cx="408.3" cy="90.3" r="1.7" fill="#3a58a8" opacity="0.59"/><circle cx="482.6" cy="36.2" r="2.4" fill="#4a6ac0" opacity="0.43"/><circle cx="290.8" cy="209.3" r="1.6" fill="#4a6ac0" opacity="0.58"/><circle cx="479.3" cy="156.9" r="1.9" fill="#8ab0f0" opacity="0.45"/><circle cx="294.9" cy="172.6" r="1.8" fill="#4a6ac0" opacity="0.46"/><circle cx="296.9" cy="176.9" r="1.8" fill="#7a9ae0" opacity="0.49"/><circle cx="392.8" cy="59.6" r="1.6" fill="#8ab0f0" opacity="0.53"/><circle cx="420.0" cy="124.9" r="2.4" fill="#6a60b0" opacity="0.62"/><circle cx="459.6" cy="130.4" r="1.3" fill="#6a60b0" opacity="0.72"/><circle cx="336.5" cy="141.9" r="2.3" fill="#3a58a8" opacity="0.72"/><circle cx="431.4" cy="33.3" r="1.3" fill="#3a58a8" opacity="0.37"/><circle cx="312.1" cy="150.8" r="1.5" fill="#3a58a8" opacity="0.48"/><circle cx="459.1" cy="193.3" r="2.0" fill="#3a58a8" opacity="0.42"/><circle cx="340.4" cy="52.2" r="2.1" fill="#4a6ac0" opacity="0.48"/><circle cx="304.5" cy="58.1" r="1.4" fill="#7a9ae0" opacity="0.51"/><circle cx="396.9" cy="104.0" r="2.0" fill="#5a7ed0" opacity="0.39"/><circle cx="337.5" cy="27.5" r="2.3" fill="#7a9ae0" opacity="0.60"/><circle cx="317.4" cy="182.3" r="2.5" fill="#3a58a8" opacity="0.65"/><circle cx="292.5" cy="190.5" r="1.5" fill="#7a9ae0" opacity="0.69"/><circle cx="467.4" cy="98.5" r="1.6" fill="#6a60b0" opacity="0.70"/><circle cx="363.2" cy="179.9" r="2.3" fill="#4a6ac0" opacity="0.35"/><circle cx="433.0" cy="197.4" r="1.8" fill="#8ab0f0" opacity="0.73"/><circle cx="473.8" cy="69.3" r="2.4" fill="#4a6ac0" opacity="0.57"/><circle cx="441.1" cy="80.9" r="2.3" fill="#6a60b0" opacity="0.48"/><circle cx="435.9" cy="66.4" r="1.7" fill="#4a6ac0" opacity="0.35"/><circle cx="325.3" cy="73.6" r="1.7" fill="#8ab0f0" opacity="0.33"/><circle cx="391.4" cy="153.5" r="1.2" fill="#8ab0f0" opacity="0.49"/><circle cx="422.3" cy="203.1" r="2.4" fill="#4a6ac0" opacity="0.46"/><circle cx="429.1" cy="176.4" r="1.0" fill="#8ab0f0" opacity="0.32"/><circle cx="434.1" cy="172.2" r="1.1" fill="#6a60b0" opacity="0.41"/><circle cx="395.4" cy="80.1" r="2.5" fill="#7a9ae0" opacity="0.71"/><circle cx="422.8" cy="122.6" r="1.4" fill="#3a58a8" opacity="0.47"/><circle cx="469.3" cy="95.9" r="2.6" fill="#7a9ae0" opacity="0.44"/><circle cx="474.8" cy="164.3" r="1.5" fill="#4a6ac0" opacity="0.71"/><circle cx="411.7" cy="187.3" r="2.2" fill="#3a58a8" opacity="0.66"/><circle cx="337.7" cy="37.1" r="2.2" fill="#3a58a8" opacity="0.51"/><circle cx="366.5" cy="180.1" r="2.1" fill="#5a7ed0" opacity="0.67"/><circle cx="425.6" cy="117.2" r="1.6" fill="#8ab0f0" opacity="0.63"/><circle cx="394.4" cy="83.4" r="2.1" fill="#5a7ed0" opacity="0.59"/><circle cx="319.0" cy="105.4" r="2.0" fill="#5a7ed0" opacity="0.48"/><circle cx="411.1" cy="81.0" r="1.1" fill="#4a6ac0" opacity="0.41"/><circle cx="428.7" cy="166.3" r="2.0" fill="#4a6ac0" opacity="0.68"/><circle cx="423.0" cy="171.0" r="1.5" fill="#3a58a8" opacity="0.69"/><circle cx="308.6" cy="54.6" r="1.9" fill="#7a9ae0" opacity="0.66"/><circle cx="322.1" cy="99.9" r="1.3" fill="#3a58a8" opacity="0.73"/><circle cx="464.1" cy="64.2" r="2.5" fill="#8ab0f0" opacity="0.59"/><circle cx="410.7" cy="192.5" r="2.6" fill="#4a6ac0" opacity="0.42"/><circle cx="457.3" cy="31.4" r="2.0" fill="#8ab0f0" opacity="0.42"/><circle cx="299.4" cy="91.2" r="2.5" fill="#5a7ed0" opacity="0.31"/><circle cx="389.8" cy="167.4" r="2.5" fill="#6a60b0" opacity="0.52"/><circle cx="327.5" cy="60.2" r="2.5" fill="#7a9ae0" opacity="0.43"/><circle cx="383.3" cy="46.5" r="2.4" fill="#8ab0f0" opacity="0.40"/><circle cx="451.6" cy="158.6" r="1.3" fill="#4a6ac0" opacity="0.48"/><circle cx="311.2" cy="76.6" r="1.4" fill="#8ab0f0" opacity="0.50"/><circle cx="332.4" cy="131.6" r="2.0" fill="#5a7ed0" opacity="0.30"/><circle cx="308.6" cy="82.8" r="2.1" fill="#6a60b0" opacity="0.40"/><circle cx="360.4" cy="101.6" r="2.0" fill="#5a7ed0" opacity="0.34"/><circle cx="293.2" cy="84.6" r="1.4" fill="#7a9ae0" opacity="0.75"/><circle cx="475.4" cy="203.8" r="2.0" fill="#6a60b0" opacity="0.66"/><circle cx="282.1" cy="116.9" r="1.6" fill="#3a58a8" opacity="0.60"/><circle cx="308.4" cy="189.7" r="1.1" fill="#4a6ac0" opacity="0.42"/><circle cx="385.3" cy="196.9" r="2.4" fill="#4a6ac0" opacity="0.34"/><circle cx="428.0" cy="103.4" r="1.4" fill="#7a9ae0" opacity="0.32"/><circle cx="307.5" cy="185.9" r="2.3" fill="#6a60b0" opacity="0.46"/></g><path d="M368,62 C385,55 415,55 430,70 C436,110 436,170 432,230 L372,240 C368,180 366,110 368,62 Z" fill="#330a2e" opacity="0.92" filter="url(#b4)"/><line x1="396.1" y1="214.4" x2="396.1" y2="247.6" stroke="#80306a" stroke-width="1.6" opacity="0.46"/><line x1="396.4" y1="96.4" x2="396.4" y2="153.2" stroke="#6a2050" stroke-width="1.3" opacity="0.47"/><line x1="423.7" y1="171.9" x2="423.7" y2="213.9" stroke="#6a2050" stroke-width="1.0" opacity="0.37"/><line x1="374.0" y1="111.6" x2="374.0" y2="166.9" stroke="#80306a" stroke-width="1.2" opacity="0.31"/><line x1="392.0" y1="183.4" x2="392.0" y2="227.7" stroke="#502048" stroke-width="1.3" opacity="0.56"/><line x1="378.9" y1="85.0" x2="378.9" y2="148.4" stroke="#6a2050" stroke-width="1.0" opacity="0.52"/><line x1="418.1" y1="160.1" x2="418.1" y2="213.3" stroke="#6a2050" stroke-width="1.0" opacity="0.46"/><line x1="404.0" y1="136.6" x2="404.0" y2="160.5" stroke="#502048" stroke-width="1.6" opacity="0.33"/><line x1="390.4" y1="115.5" x2="390.4" y2="184.6" stroke="#80306a" stroke-width="0.9" opacity="0.48"/><line x1="425.3" y1="203.9" x2="425.3" y2="231.6" stroke="#502048" stroke-width="0.9" opacity="0.50"/><line x1="397.4" y1="222.8" x2="397.4" y2="272.5" stroke="#6a2050" stroke-width="0.8" opacity="0.50"/><line x1="425.3" y1="122.0" x2="425.3" y2="178.6" stroke="#502048" stroke-width="1.5" opacity="0.34"/><line x1="420.3" y1="198.2" x2="420.3" y2="232.4" stroke="#502048" stroke-width="1.6" opacity="0.32"/><line x1="425.3" y1="131.0" x2="425.3" y2="171.0" stroke="#80306a" stroke-width="1.0" opacity="0.33"/><line x1="419.7" y1="96.1" x2="419.7" y2="155.0" stroke="#502048" stroke-width="1.1" opacity="0.35"/><line x1="388.7" y1="198.2" x2="388.7" y2="255.0" stroke="#502048" stroke-width="1.7" opacity="0.48"/><line x1="392.1" y1="85.4" x2="392.1" y2="123.8" stroke="#80306a" stroke-width="1.0" opacity="0.57"/><line x1="398.7" y1="160.1" x2="398.7" y2="201.2" stroke="#80306a" stroke-width="1.6" opacity="0.48"/><line x1="396.3" y1="138.2" x2="396.3" y2="160.2" stroke="#80306a" stroke-width="1.1" opacity="0.50"/><line x1="408.3" y1="184.2" x2="408.3" y2="250.7" stroke="#502048" stroke-width="1.3" opacity="0.46"/><line x1="388.3" y1="140.0" x2="388.3" y2="205.3" stroke="#6a2050" stroke-width="1.3" opacity="0.60"/><line x1="410.3" y1="118.1" x2="410.3" y2="150.5" stroke="#502048" stroke-width="1.2" opacity="0.31"/><line x1="376.3" y1="77.2" x2="376.3" y2="102.6" stroke="#6a2050" stroke-width="1.2" opacity="0.44"/><line x1="412.3" y1="200.1" x2="412.3" y2="237.8" stroke="#502048" stroke-width="1.4" opacity="0.30"/><line x1="413.5" y1="144.1" x2="413.5" y2="203.4" stroke="#6a2050" stroke-width="1.6" opacity="0.32"/><line x1="421.1" y1="117.6" x2="421.1" y2="167.0" stroke="#502048" stroke-width="1.3" opacity="0.43"/><line x1="417.2" y1="124.6" x2="417.2" y2="190.5" stroke="#6a2050" stroke-width="1.6" opacity="0.36"/><line x1="413.8" y1="166.6" x2="413.8" y2="230.2" stroke="#502048" stroke-width="0.9" opacity="0.31"/><line x1="394.1" y1="72.1" x2="394.1" y2="124.9" stroke="#80306a" stroke-width="1.3" opacity="0.56"/><line x1="426.1" y1="166.3" x2="426.1" y2="210.6" stroke="#502048" stroke-width="1.4" opacity="0.41"/><line x1="409.7" y1="180.4" x2="409.7" y2="220.2" stroke="#6a2050" stroke-width="1.1" opacity="0.34"/><line x1="382.7" y1="200.6" x2="382.7" y2="255.4" stroke="#6a2050" stroke-width="1.0" opacity="0.36"/><line x1="408.3" y1="174.0" x2="408.3" y2="215.7" stroke="#502048" stroke-width="1.4" opacity="0.36"/><line x1="388.9" y1="144.1" x2="388.9" y2="187.8" stroke="#6a2050" stroke-width="0.8" opacity="0.57"/><line x1="413.4" y1="141.2" x2="413.4" y2="185.5" stroke="#80306a" stroke-width="0.8" opacity="0.48"/><line x1="383.3" y1="161.1" x2="383.3" y2="222.8" stroke="#6a2050" stroke-width="0.9" opacity="0.33"/><line x1="419.5" y1="139.1" x2="419.5" y2="179.9" stroke="#502048" stroke-width="1.3" opacity="0.48"/><line x1="403.0" y1="116.5" x2="403.0" y2="160.9" stroke="#502048" stroke-width="1.3" opacity="0.52"/><line x1="424.4" y1="214.8" x2="424.4" y2="278.2" stroke="#6a2050" stroke-width="1.0" opacity="0.46"/><line x1="395.6" y1="120.5" x2="395.6" y2="143.7" stroke="#80306a" stroke-width="1.7" opacity="0.57"/><circle cx="380.8" cy="167.2" r="1.3" fill="#d0d8ff" opacity="0.78"/><circle cx="376.0" cy="120.3" r="1.0" fill="#d0d8ff" opacity="0.68"/><circle cx="400.4" cy="162.3" r="1.3" fill="#d0d8ff" opacity="0.55"/><circle cx="389.7" cy="179.6" r="1.6" fill="#d0d8ff" opacity="0.82"/><circle cx="415.0" cy="198.2" r="1.3" fill="#d0d8ff" opacity="0.78"/><circle cx="379.3" cy="147.6" r="0.9" fill="#ffffff" opacity="0.74"/><circle cx="380.0" cy="138.2" r="1.6" fill="#d0d8ff" opacity="0.59"/><circle cx="402.8" cy="219.9" r="1.1" fill="#d0d8ff" opacity="0.64"/><circle cx="382.9" cy="195.9" r="1.5" fill="#ffffff" opacity="0.82"/><circle cx="391.9" cy="96.0" r="1.0" fill="#ffffff" opacity="0.69"/><circle cx="424.7" cy="189.9" r="1.4" fill="#d0d8ff" opacity="0.86"/><circle cx="417.7" cy="202.3" r="1.3" fill="#ffffff" opacity="0.78"/><circle cx="421.3" cy="141.3" r="1.2" fill="#ffffff" opacity="0.89"/><circle cx="414.1" cy="165.4" r="1.5" fill="#ffffff" opacity="0.83"/><circle cx="377.1" cy="94.8" r="1.3" fill="#ffffff" opacity="0.86"/><circle cx="382.9" cy="120.9" r="1.2" fill="#d0d8ff" opacity="0.79"/><circle cx="380.0" cy="170.6" r="1.1" fill="#ffffff" opacity="0.55"/><circle cx="385.1" cy="215.7" r="1.4" fill="#ffffff" opacity="0.60"/><circle cx="415.5" cy="127.8" r="1.2" fill="#ffffff" opacity="0.61"/><circle cx="410.8" cy="138.1" r="1.3" fill="#ffffff" opacity="0.56"/><g filter="url(#b05)"><circle cx="422.7" cy="40.1" r="1.5" fill="#ffffff" opacity="0.69"/><circle cx="398.7" cy="41.7" r="2.7" fill="#90d0f0" opacity="0.66"/><circle cx="372.1" cy="28.3" r="1.0" fill="#90d0f0" opacity="0.92"/><circle cx="375.9" cy="35.5" r="3.0" fill="#c8f0ff" opacity="0.70"/><circle cx="397.5" cy="23.6" r="2.8" fill="#c8f0ff" opacity="0.91"/><circle cx="374.0" cy="49.2" r="2.4" fill="#90d0f0" opacity="0.89"/><circle cx="438.1" cy="40.0" r="2.8" fill="#90d0f0" opacity="0.75"/><circle cx="391.3" cy="53.9" r="2.8" fill="#c8f0ff" opacity="0.87"/><circle cx="433.0" cy="48.2" r="1.3" fill="#ffffff" opacity="0.70"/><circle cx="384.4" cy="45.4" r="2.6" fill="#90d0f0" opacity="0.70"/><circle cx="394.2" cy="56.9" r="2.3" fill="#c8f0ff" opacity="0.90"/><circle cx="375.9" cy="45.1" r="1.8" fill="#90d0f0" opacity="0.83"/><circle cx="378.8" cy="64.7" r="1.6" fill="#c8f0ff" opacity="0.73"/><circle cx="391.9" cy="36.7" r="2.3" fill="#c8f0ff" opacity="0.51"/><circle cx="425.8" cy="47.5" r="1.5" fill="#ffffff" opacity="0.83"/><circle cx="439.1" cy="26.7" r="1.1" fill="#ffffff" opacity="0.62"/><circle cx="405.5" cy="27.3" r="2.5" fill="#c8f0ff" opacity="0.70"/><circle cx="410.1" cy="22.2" r="1.7" fill="#c8f0ff" opacity="0.86"/><circle cx="439.2" cy="46.3" r="2.8" fill="#90d0f0" opacity="0.80"/><circle cx="429.1" cy="32.1" r="1.6" fill="#90d0f0" opacity="0.85"/><circle cx="420.0" cy="50.9" r="2.4" fill="#90d0f0" opacity="0.83"/><circle cx="377.4" cy="44.2" r="1.4" fill="#ffffff" opacity="0.70"/><circle cx="380.3" cy="40.3" r="1.8" fill="#c8f0ff" opacity="0.53"/><circle cx="432.2" cy="42.5" r="1.9" fill="#ffffff" opacity="0.80"/><circle cx="398.2" cy="46.0" r="2.6" fill="#ffffff" opacity="0.76"/><circle cx="414.6" cy="64.9" r="2.4" fill="#ffffff" opacity="0.83"/><circle cx="399.2" cy="29.0" r="2.0" fill="#ffffff" opacity="0.82"/><circle cx="379.1" cy="52.3" r="2.7" fill="#c8f0ff" opacity="0.81"/><circle cx="401.9" cy="23.4" r="1.3" fill="#90d0f0" opacity="0.67"/><circle cx="436.6" cy="47.9" r="1.8" fill="#c8f0ff" opacity="0.67"/><circle cx="390.3" cy="44.5" r="1.2" fill="#ffffff" opacity="0.95"/><circle cx="391.2" cy="42.9" r="2.6" fill="#c8f0ff" opacity="0.85"/><circle cx="399.5" cy="62.3" r="1.6" fill="#ffffff" opacity="0.60"/><circle cx="427.3" cy="43.0" r="1.2" fill="#ffffff" opacity="0.53"/><circle cx="373.1" cy="42.7" r="1.6" fill="#ffffff" opacity="0.91"/><circle cx="424.7" cy="42.4" r="2.4" fill="#90d0f0" opacity="0.56"/><circle cx="379.7" cy="49.4" r="2.5" fill="#90d0f0" opacity="0.70"/><circle cx="430.6" cy="36.0" r="2.6" fill="#90d0f0" opacity="0.78"/><circle cx="397.1" cy="60.7" r="1.7" fill="#c8f0ff" opacity="0.93"/><circle cx="432.3" cy="53.6" r="2.3" fill="#c8f0ff" opacity="0.82"/><circle cx="410.0" cy="56.2" r="2.4" fill="#90d0f0" opacity="0.79"/><circle cx="415.1" cy="25.7" r="2.9" fill="#90d0f0" opacity="0.76"/><circle cx="373.7" cy="46.5" r="1.4" fill="#ffffff" opacity="0.73"/><circle cx="371.3" cy="50.3" r="2.1" fill="#c8f0ff" opacity="0.62"/><circle cx="384.4" cy="57.7" r="2.7" fill="#90d0f0" opacity="0.70"/></g><ellipse cx="398" cy="236" rx="34" ry="17" fill="#8aa828" filter="url(#b2)"/><g filter="url(#b05)"><circle cx="406.2" cy="227.8" r="2.3" fill="#b8d040" opacity="0.70"/><circle cx="414.0" cy="234.7" r="1.9" fill="#b8d040" opacity="0.84"/><circle cx="391.7" cy="244.5" r="1.7" fill="#b8d040" opacity="0.72"/><circle cx="395.2" cy="243.8" r="3.0" fill="#c8e060" opacity="0.62"/><circle cx="387.7" cy="241.2" r="2.7" fill="#90b030" opacity="0.57"/><circle cx="394.3" cy="230.6" r="1.7" fill="#c8e060" opacity="0.67"/><circle cx="389.7" cy="245.7" r="3.2" fill="#b8d040" opacity="0.52"/><circle cx="399.5" cy="248.8" r="2.0" fill="#d8e880" opacity="0.88"/><circle cx="396.0" cy="245.8" r="2.6" fill="#b8d040" opacity="0.69"/><circle cx="385.9" cy="241.7" r="3.3" fill="#90b030" opacity="0.72"/><circle cx="389.8" cy="235.7" r="3.0" fill="#c8e060" opacity="0.62"/><circle cx="390.8" cy="240.2" r="2.8" fill="#c8e060" opacity="0.81"/><circle cx="411.8" cy="246.0" r="1.8" fill="#c8e060" opacity="0.72"/><circle cx="372.6" cy="244.2" r="2.4" fill="#b8d040" opacity="0.83"/><circle cx="420.9" cy="235.3" r="2.8" fill="#c8e060" opacity="0.50"/><circle cx="417.0" cy="234.1" r="2.7" fill="#d8e880" opacity="0.90"/><circle cx="405.6" cy="232.6" r="3.2" fill="#90b030" opacity="0.52"/><circle cx="396.5" cy="227.5" r="2.1" fill="#d8e880" opacity="0.78"/><circle cx="410.4" cy="227.6" r="3.5" fill="#d8e880" opacity="0.58"/><circle cx="371.1" cy="237.6" r="3.3" fill="#90b030" opacity="0.75"/><circle cx="423.0" cy="236.5" r="2.0" fill="#90b030" opacity="0.64"/><circle cx="375.5" cy="240.7" r="1.5" fill="#c8e060" opacity="0.76"/><circle cx="418.7" cy="238.1" r="3.3" fill="#c8e060" opacity="0.67"/><circle cx="417.9" cy="230.8" r="3.0" fill="#b8d040" opacity="0.81"/><circle cx="393.1" cy="234.9" r="1.6" fill="#d8e880" opacity="0.77"/><circle cx="381.7" cy="248.1" r="3.2" fill="#90b030" opacity="0.65"/><circle cx="412.4" cy="227.3" r="3.5" fill="#b8d040" opacity="0.69"/><circle cx="416.4" cy="234.4" r="1.9" fill="#b8d040" opacity="0.80"/><circle cx="387.3" cy="227.3" r="1.9" fill="#90b030" opacity="0.82"/><circle cx="403.4" cy="251.6" r="3.4" fill="#b8d040" opacity="0.61"/><circle cx="418.8" cy="231.4" r="1.9" fill="#c8e060" opacity="0.89"/><circle cx="391.6" cy="234.4" r="2.1" fill="#d8e880" opacity="0.57"/><circle cx="406.9" cy="249.3" r="2.8" fill="#c8e060" opacity="0.53"/><circle cx="403.3" cy="240.6" r="2.0" fill="#c8e060" opacity="0.85"/><circle cx="395.9" cy="230.7" r="3.2" fill="#b8d040" opacity="0.90"/><circle cx="390.3" cy="228.4" r="2.0" fill="#d8e880" opacity="0.50"/><circle cx="375.9" cy="243.1" r="2.8" fill="#90b030" opacity="0.67"/><circle cx="413.7" cy="237.8" r="2.9" fill="#d8e880" opacity="0.70"/><circle cx="391.8" cy="237.7" r="2.9" fill="#b8d040" opacity="0.61"/><circle cx="380.4" cy="242.5" r="1.5" fill="#c8e060" opacity="0.63"/></g></g><line x1="355.3" y1="245.9" x2="434.5" y2="227.3" stroke="#fff" stroke-width="3.6" stroke-dasharray="9,5.5"/><rect x="459" y="226.3" width="8.699999999999989" height="41.099999999999966" fill="#fff"/><text x="476.6" y="44.4" font-size="21" fill="#fff" text-anchor="end" textLength="78.7" lengthAdjust="spacingAndGlyphs">10 days</text><text x="476.6" y="71.8" font-size="21" fill="#fff" text-anchor="end" textLength="46" lengthAdjust="spacingAndGlyphs">7/20</text><text transform="translate(312,165.6) rotate(-90)" x="0" y="0" font-size="25" fill="#fff" text-anchor="middle" textLength="125.3" lengthAdjust="spacingAndGlyphs" style="font-style:italic">lbd1,3,4,11</text></g><g clip-path="url(#cp3)"><rect x="499" y="22.5" width="206.29999999999995" height="258.0" fill="url(#bgC)"/><path d="M506.0,20.0 C536.8,19.0 669.3,19.3 700.0,20.0 C730.7,20.7 694.8,21.1 690.0,24.0 C685.2,26.9 676.8,30.4 671.0,37.6 C665.2,44.8 659.3,57.1 655.4,66.9 C651.5,76.7 649.5,84.8 647.6,96.2 C645.7,107.6 644.9,121.4 643.7,135.4 C642.6,149.4 641.2,169.0 640.7,180.4 C640.2,191.8 641.5,196.9 640.7,203.8 C639.9,210.7 638.8,217.5 636.0,222.0 C633.2,226.5 628.3,229.0 624.0,231.0 C619.7,233.0 614.8,234.0 610.0,234.0 C605.2,234.0 599.5,233.3 595.0,231.0 C590.5,228.7 586.0,227.8 583.0,220.0 C580.0,212.2 578.3,198.4 577.2,184.3 C576.1,170.2 576.9,150.1 576.2,135.4 C575.5,120.7 575.3,107.6 573.2,96.2 C571.1,84.8 568.4,75.7 563.5,66.9 C558.6,58.1 552.0,50.2 543.9,43.4 C535.8,36.6 521.3,29.9 515.0,26.0 C508.7,22.1 475.2,21.0 506.0,20.0 Z" fill="url(#stemC)" filter="url(#b05)"/><g clip-path="url(#cpC)"><line x1="639.9" y1="161.2" x2="639.9" y2="190.9" stroke="#e0d0f0" stroke-width="0.8" opacity="0.68"/><line x1="643.0" y1="69.5" x2="643.0" y2="84.8" stroke="#f0c0e0" stroke-width="0.7" opacity="0.26"/><line x1="602.3" y1="43.6" x2="602.3" y2="69.1" stroke="#c080b0" stroke-width="1.4" opacity="0.36"/><line x1="605.8" y1="183.8" x2="605.8" y2="210.1" stroke="#ffe0a0" stroke-width="1.3" opacity="0.61"/><line x1="645.3" y1="156.4" x2="645.3" y2="178.0" stroke="#e0d0f0" stroke-width="1.3" opacity="0.51"/><line x1="573.2" y1="49.1" x2="573.2" y2="57.8" stroke="#f0c0e0" stroke-width="0.9" opacity="0.60"/><line x1="571.2" y1="160.4" x2="571.2" y2="169.6" stroke="#e0d0f0" stroke-width="1.1" opacity="0.28"/><line x1="622.9" y1="123.9" x2="622.9" y2="138.4" stroke="#f0c0e0" stroke-width="0.9" opacity="0.53"/><line x1="600.5" y1="169.7" x2="600.5" y2="195.0" stroke="#e0d0f0" stroke-width="1.2" opacity="0.42"/><line x1="632.8" y1="172.0" x2="632.8" y2="193.6" stroke="#f0c0e0" stroke-width="0.9" opacity="0.45"/><line x1="593.6" y1="68.9" x2="593.6" y2="79.1" stroke="#f0c0e0" stroke-width="1.1" opacity="0.52"/><line x1="636.6" y1="175.7" x2="636.6" y2="186.4" stroke="#c080b0" stroke-width="1.1" opacity="0.44"/><line x1="626.9" y1="106.7" x2="626.9" y2="120.0" stroke="#f0c0e0" stroke-width="1.3" opacity="0.31"/><line x1="615.1" y1="117.0" x2="615.1" y2="139.3" stroke="#ffe0a0" stroke-width="0.9" opacity="0.65"/><line x1="631.1" y1="62.1" x2="631.1" y2="76.9" stroke="#c080b0" stroke-width="0.9" opacity="0.69"/><line x1="609.5" y1="138.7" x2="609.5" y2="149.8" stroke="#ffe0a0" stroke-width="0.8" opacity="0.64"/><line x1="601.5" y1="69.3" x2="601.5" y2="81.7" stroke="#f0c0e0" stroke-width="1.4" opacity="0.40"/><line x1="622.1" y1="144.2" x2="622.1" y2="173.8" stroke="#c080b0" stroke-width="1.1" opacity="0.63"/><line x1="613.6" y1="90.3" x2="613.6" y2="104.9" stroke="#f0c0e0" stroke-width="0.9" opacity="0.45"/><line x1="632.3" y1="46.3" x2="632.3" y2="59.2" stroke="#ffffff" stroke-width="0.6" opacity="0.56"/><line x1="605.2" y1="72.0" x2="605.2" y2="90.5" stroke="#c080b0" stroke-width="1.3" opacity="0.61"/><line x1="597.6" y1="100.0" x2="597.6" y2="126.2" stroke="#f0c0e0" stroke-width="0.6" opacity="0.28"/><line x1="568.5" y1="57.3" x2="568.5" y2="71.7" stroke="#ffe0a0" stroke-width="0.8" opacity="0.66"/><line x1="596.2" y1="186.3" x2="596.2" y2="198.7" stroke="#ffffff" stroke-width="0.9" opacity="0.65"/><line x1="626.4" y1="91.0" x2="626.4" y2="111.2" stroke="#f0c0e0" stroke-width="0.8" opacity="0.33"/><line x1="588.0" y1="55.2" x2="588.0" y2="81.5" stroke="#f0c0e0" stroke-width="0.7" opacity="0.40"/><line x1="583.7" y1="108.4" x2="583.7" y2="124.6" stroke="#ffffff" stroke-width="0.9" opacity="0.67"/><line x1="648.1" y1="189.7" x2="648.1" y2="217.1" stroke="#f0c0e0" stroke-width="1.4" opacity="0.30"/><line x1="640.1" y1="59.6" x2="640.1" y2="71.8" stroke="#c080b0" stroke-width="1.1" opacity="0.39"/><line x1="602.1" y1="135.4" x2="602.1" y2="163.7" stroke="#ffe0a0" stroke-width="1.3" opacity="0.34"/><line x1="611.0" y1="158.4" x2="611.0" y2="173.6" stroke="#c080b0" stroke-width="0.6" opacity="0.64"/><line x1="637.5" y1="185.3" x2="637.5" y2="212.7" stroke="#f0c0e0" stroke-width="0.8" opacity="0.60"/><line x1="632.4" y1="132.2" x2="632.4" y2="143.9" stroke="#ffe0a0" stroke-width="0.9" opacity="0.42"/><line x1="609.6" y1="66.8" x2="609.6" y2="90.5" stroke="#e0d0f0" stroke-width="1.1" opacity="0.57"/><line x1="607.6" y1="80.3" x2="607.6" y2="97.1" stroke="#ffe0a0" stroke-width="1.4" opacity="0.54"/><line x1="583.4" y1="174.2" x2="583.4" y2="192.2" stroke="#ffffff" stroke-width="0.8" opacity="0.39"/><line x1="640.7" y1="125.7" x2="640.7" y2="154.3" stroke="#ffe0a0" stroke-width="0.9" opacity="0.29"/><line x1="629.1" y1="84.3" x2="629.1" y2="103.7" stroke="#f0c0e0" stroke-width="0.8" opacity="0.46"/><line x1="618.2" y1="103.9" x2="618.2" y2="122.2" stroke="#e0d0f0" stroke-width="1.0" opacity="0.39"/><line x1="598.1" y1="66.9" x2="598.1" y2="80.1" stroke="#c080b0" stroke-width="1.2" opacity="0.66"/><line x1="590.7" y1="115.3" x2="590.7" y2="135.3" stroke="#c080b0" stroke-width="0.7" opacity="0.67"/><line x1="574.3" y1="50.7" x2="574.3" y2="59.5" stroke="#ffffff" stroke-width="0.8" opacity="0.55"/><line x1="587.0" y1="151.8" x2="587.0" y2="176.7" stroke="#ffffff" stroke-width="1.4" opacity="0.57"/><line x1="649.8" y1="189.8" x2="649.8" y2="214.3" stroke="#c080b0" stroke-width="1.3" opacity="0.25"/><line x1="591.2" y1="163.3" x2="591.2" y2="188.6" stroke="#e0d0f0" stroke-width="1.0" opacity="0.62"/><line x1="629.7" y1="41.8" x2="629.7" y2="64.2" stroke="#ffffff" stroke-width="1.5" opacity="0.64"/><line x1="585.1" y1="148.5" x2="585.1" y2="161.1" stroke="#ffe0a0" stroke-width="0.8" opacity="0.60"/><line x1="629.6" y1="148.4" x2="629.6" y2="166.5" stroke="#c080b0" stroke-width="1.3" opacity="0.63"/><line x1="602.0" y1="181.3" x2="602.0" y2="198.5" stroke="#ffe0a0" stroke-width="1.0" opacity="0.26"/><line x1="577.7" y1="171.1" x2="577.7" y2="185.8" stroke="#e0d0f0" stroke-width="1.3" opacity="0.61"/><line x1="636.1" y1="91.0" x2="636.1" y2="108.2" stroke="#e0d0f0" stroke-width="1.2" opacity="0.59"/><line x1="624.0" y1="84.9" x2="624.0" y2="105.9" stroke="#f0c0e0" stroke-width="1.1" opacity="0.66"/><line x1="578.9" y1="182.9" x2="578.9" y2="198.2" stroke="#ffe0a0" stroke-width="1.2" opacity="0.66"/><line x1="614.2" y1="98.6" x2="614.2" y2="115.0" stroke="#f0c0e0" stroke-width="1.5" opacity="0.49"/><line x1="581.8" y1="56.3" x2="581.8" y2="76.8" stroke="#c080b0" stroke-width="1.0" opacity="0.29"/><line x1="574.8" y1="122.9" x2="574.8" y2="131.6" stroke="#e0d0f0" stroke-width="1.2" opacity="0.26"/><line x1="582.7" y1="176.7" x2="582.7" y2="193.2" stroke="#c080b0" stroke-width="0.8" opacity="0.55"/><line x1="571.9" y1="48.6" x2="571.9" y2="68.0" stroke="#e0d0f0" stroke-width="0.8" opacity="0.43"/><line x1="649.1" y1="59.4" x2="649.1" y2="76.6" stroke="#e0d0f0" stroke-width="1.3" opacity="0.68"/><line x1="638.7" y1="59.5" x2="638.7" y2="72.0" stroke="#e0d0f0" stroke-width="1.0" opacity="0.32"/><line x1="614.3" y1="86.5" x2="614.3" y2="99.0" stroke="#e0d0f0" stroke-width="1.2" opacity="0.37"/><line x1="566.6" y1="61.4" x2="566.6" y2="70.8" stroke="#ffffff" stroke-width="1.0" opacity="0.49"/><line x1="642.5" y1="171.9" x2="642.5" y2="190.0" stroke="#f0c0e0" stroke-width="1.1" opacity="0.38"/><line x1="640.0" y1="108.4" x2="640.0" y2="131.9" stroke="#c080b0" stroke-width="1.2" opacity="0.43"/><line x1="635.2" y1="167.5" x2="635.2" y2="184.6" stroke="#ffe0a0" stroke-width="0.8" opacity="0.58"/><line x1="604.5" y1="176.6" x2="604.5" y2="188.7" stroke="#e0d0f0" stroke-width="1.1" opacity="0.56"/><line x1="569.7" y1="172.8" x2="569.7" y2="184.3" stroke="#ffe0a0" stroke-width="1.4" opacity="0.38"/><line x1="643.0" y1="144.7" x2="643.0" y2="168.6" stroke="#e0d0f0" stroke-width="0.8" opacity="0.44"/><line x1="630.0" y1="58.2" x2="630.0" y2="74.3" stroke="#ffe0a0" stroke-width="1.3" opacity="0.59"/><line x1="593.4" y1="107.6" x2="593.4" y2="121.2" stroke="#e0d0f0" stroke-width="1.1" opacity="0.26"/><line x1="619.7" y1="141.3" x2="619.7" y2="159.5" stroke="#e0d0f0" stroke-width="0.9" opacity="0.64"/><line x1="599.3" y1="41.6" x2="599.3" y2="52.1" stroke="#c080b0" stroke-width="1.4" opacity="0.55"/><line x1="605.0" y1="109.2" x2="605.0" y2="119.0" stroke="#e0d0f0" stroke-width="1.2" opacity="0.31"/><line x1="634.9" y1="166.2" x2="634.9" y2="178.0" stroke="#f0c0e0" stroke-width="0.6" opacity="0.33"/><line x1="576.4" y1="151.2" x2="576.4" y2="162.9" stroke="#f0c0e0" stroke-width="1.2" opacity="0.55"/><line x1="578.9" y1="93.7" x2="578.9" y2="106.5" stroke="#ffe0a0" stroke-width="0.6" opacity="0.35"/><line x1="624.5" y1="165.5" x2="624.5" y2="191.3" stroke="#f0c0e0" stroke-width="1.2" opacity="0.43"/><line x1="591.9" y1="47.9" x2="591.9" y2="56.0" stroke="#ffffff" stroke-width="1.3" opacity="0.67"/><line x1="597.5" y1="75.8" x2="597.5" y2="85.8" stroke="#f0c0e0" stroke-width="1.0" opacity="0.40"/><line x1="582.1" y1="140.3" x2="582.1" y2="153.2" stroke="#ffffff" stroke-width="1.4" opacity="0.58"/><line x1="569.7" y1="116.9" x2="569.7" y2="142.8" stroke="#ffffff" stroke-width="0.9" opacity="0.53"/><line x1="644.5" y1="99.3" x2="644.5" y2="116.7" stroke="#f0c0e0" stroke-width="0.8" opacity="0.41"/><line x1="580.6" y1="100.3" x2="580.6" y2="115.3" stroke="#e0d0f0" stroke-width="1.0" opacity="0.35"/><line x1="621.3" y1="81.8" x2="621.3" y2="103.5" stroke="#ffffff" stroke-width="0.6" opacity="0.43"/><line x1="630.5" y1="114.9" x2="630.5" y2="144.7" stroke="#ffe0a0" stroke-width="1.2" opacity="0.33"/><line x1="646.6" y1="130.0" x2="646.6" y2="159.6" stroke="#ffffff" stroke-width="1.2" opacity="0.40"/><line x1="619.4" y1="172.6" x2="619.4" y2="187.6" stroke="#e0d0f0" stroke-width="1.4" opacity="0.28"/><line x1="567.5" y1="176.8" x2="567.5" y2="194.7" stroke="#ffffff" stroke-width="1.1" opacity="0.48"/><line x1="625.2" y1="42.0" x2="625.2" y2="50.5" stroke="#f0c0e0" stroke-width="1.3" opacity="0.39"/><line x1="628.0" y1="153.6" x2="628.0" y2="175.2" stroke="#c080b0" stroke-width="0.7" opacity="0.47"/><line x1="583.0" y1="96.4" x2="583.0" y2="118.5" stroke="#ffe0a0" stroke-width="0.8" opacity="0.69"/><line x1="603.3" y1="171.6" x2="603.3" y2="182.6" stroke="#f0c0e0" stroke-width="0.9" opacity="0.48"/><line x1="648.1" y1="137.2" x2="648.1" y2="151.6" stroke="#c080b0" stroke-width="0.6" opacity="0.40"/><line x1="583.3" y1="48.1" x2="583.3" y2="76.3" stroke="#ffffff" stroke-width="1.5" opacity="0.52"/><line x1="598.0" y1="88.2" x2="598.0" y2="106.0" stroke="#e0d0f0" stroke-width="0.6" opacity="0.28"/><line x1="582.2" y1="135.2" x2="582.2" y2="146.3" stroke="#f0c0e0" stroke-width="0.8" opacity="0.33"/><line x1="612.1" y1="159.3" x2="612.1" y2="171.8" stroke="#e0d0f0" stroke-width="1.1" opacity="0.58"/><line x1="592.2" y1="148.3" x2="592.2" y2="161.6" stroke="#ffffff" stroke-width="0.8" opacity="0.39"/><line x1="614.4" y1="185.2" x2="614.4" y2="197.6" stroke="#e0d0f0" stroke-width="1.4" opacity="0.29"/><line x1="647.7" y1="99.7" x2="647.7" y2="111.4" stroke="#ffe0a0" stroke-width="1.0" opacity="0.52"/><line x1="602.4" y1="63.4" x2="602.4" y2="92.4" stroke="#e0d0f0" stroke-width="1.0" opacity="0.44"/><line x1="573.0" y1="176.0" x2="573.0" y2="190.6" stroke="#ffe0a0" stroke-width="1.1" opacity="0.58"/><line x1="587.6" y1="109.5" x2="587.6" y2="127.5" stroke="#ffe0a0" stroke-width="0.9" opacity="0.47"/><line x1="594.0" y1="147.2" x2="594.0" y2="159.5" stroke="#f0c0e0" stroke-width="1.4" opacity="0.26"/><line x1="608.1" y1="148.8" x2="608.1" y2="167.6" stroke="#e0d0f0" stroke-width="1.4" opacity="0.69"/><line x1="597.3" y1="113.4" x2="597.3" y2="135.5" stroke="#e0d0f0" stroke-width="1.1" opacity="0.65"/><line x1="649.4" y1="58.7" x2="649.4" y2="87.2" stroke="#e0d0f0" stroke-width="0.7" opacity="0.68"/><line x1="630.8" y1="152.7" x2="630.8" y2="168.4" stroke="#c080b0" stroke-width="1.2" opacity="0.56"/><line x1="620.7" y1="179.0" x2="620.7" y2="203.2" stroke="#f0c0e0" stroke-width="0.8" opacity="0.66"/><line x1="596.4" y1="146.0" x2="596.4" y2="154.6" stroke="#ffffff" stroke-width="1.2" opacity="0.37"/><line x1="604.3" y1="142.2" x2="604.3" y2="155.8" stroke="#ffffff" stroke-width="1.1" opacity="0.26"/><line x1="630.8" y1="136.7" x2="630.8" y2="164.8" stroke="#ffe0a0" stroke-width="1.0" opacity="0.69"/><line x1="572.7" y1="176.5" x2="572.7" y2="203.8" stroke="#e0d0f0" stroke-width="0.7" opacity="0.36"/><line x1="591.4" y1="185.2" x2="591.4" y2="207.6" stroke="#c080b0" stroke-width="0.9" opacity="0.58"/><line x1="629.2" y1="178.6" x2="629.2" y2="205.8" stroke="#ffe0a0" stroke-width="0.7" opacity="0.60"/><line x1="594.9" y1="61.4" x2="594.9" y2="85.9" stroke="#e0d0f0" stroke-width="1.4" opacity="0.56"/><line x1="566.5" y1="65.3" x2="566.5" y2="84.1" stroke="#e0d0f0" stroke-width="0.7" opacity="0.49"/><line x1="621.0" y1="150.0" x2="621.0" y2="161.7" stroke="#ffffff" stroke-width="0.9" opacity="0.34"/><line x1="581.3" y1="182.3" x2="581.3" y2="200.2" stroke="#ffffff" stroke-width="1.3" opacity="0.34"/><line x1="629.0" y1="161.4" x2="629.0" y2="173.6" stroke="#e0d0f0" stroke-width="1.5" opacity="0.45"/><circle cx="646.7" cy="46.9" r="1.2" fill="#ffffff" opacity="0.65"/><circle cx="595.9" cy="72.9" r="0.9" fill="#f0d0ff" opacity="0.74"/><circle cx="623.9" cy="45.6" r="0.7" fill="#ffffff" opacity="0.83"/><circle cx="635.0" cy="36.5" r="0.8" fill="#ffffff" opacity="0.69"/><circle cx="609.4" cy="179.1" r="0.9" fill="#d0f0ff" opacity="0.74"/><circle cx="592.0" cy="96.6" r="1.0" fill="#ffe0f0" opacity="1.00"/><circle cx="637.6" cy="175.9" r="1.3" fill="#d0f0ff" opacity="0.81"/><circle cx="652.7" cy="165.3" r="1.4" fill="#ffffff" opacity="0.73"/><circle cx="626.3" cy="142.4" r="1.5" fill="#f0d0ff" opacity="0.51"/><circle cx="571.7" cy="112.2" r="1.6" fill="#f0d0ff" opacity="0.68"/><circle cx="618.7" cy="132.1" r="1.1" fill="#d0f0ff" opacity="0.83"/><circle cx="560.3" cy="128.9" r="1.5" fill="#ffe0f0" opacity="0.51"/><circle cx="594.2" cy="37.1" r="1.4" fill="#ffe0f0" opacity="0.84"/><circle cx="582.2" cy="105.1" r="1.3" fill="#ffffff" opacity="0.67"/><circle cx="649.2" cy="175.9" r="1.1" fill="#ffffff" opacity="0.87"/><circle cx="587.9" cy="60.2" r="0.7" fill="#ffffff" opacity="0.56"/><circle cx="635.7" cy="76.7" r="1.3" fill="#d0f0ff" opacity="0.58"/><circle cx="602.4" cy="47.9" r="1.3" fill="#f0d0ff" opacity="0.62"/><circle cx="576.2" cy="176.4" r="1.3" fill="#ffffff" opacity="0.72"/><circle cx="628.0" cy="54.8" r="1.5" fill="#d0f0ff" opacity="0.88"/><circle cx="580.9" cy="69.9" r="1.1" fill="#ffffff" opacity="0.83"/><circle cx="647.7" cy="128.2" r="1.1" fill="#ffe0f0" opacity="0.94"/><circle cx="648.5" cy="148.8" r="1.2" fill="#ffe0f0" opacity="0.69"/><circle cx="628.2" cy="144.1" r="1.0" fill="#d0f0ff" opacity="0.90"/><circle cx="581.2" cy="47.9" r="0.7" fill="#ffffff" opacity="0.67"/><circle cx="616.3" cy="59.2" r="1.5" fill="#ffe0f0" opacity="0.56"/><circle cx="589.8" cy="88.9" r="1.3" fill="#ffe0f0" opacity="0.53"/><circle cx="610.9" cy="161.3" r="1.6" fill="#ffe0f0" opacity="0.89"/><circle cx="635.8" cy="174.8" r="0.7" fill="#f0d0ff" opacity="0.55"/><circle cx="560.9" cy="162.1" r="0.9" fill="#ffe0f0" opacity="0.92"/><circle cx="607.5" cy="100.6" r="1.2" fill="#f0d0ff" opacity="0.87"/><circle cx="640.7" cy="158.3" r="0.6" fill="#ffe0f0" opacity="0.65"/><circle cx="654.1" cy="49.1" r="1.6" fill="#d0f0ff" opacity="0.82"/><circle cx="580.5" cy="75.2" r="1.6" fill="#ffffff" opacity="0.99"/><circle cx="591.6" cy="158.3" r="0.8" fill="#f0d0ff" opacity="0.85"/><circle cx="565.0" cy="164.1" r="0.8" fill="#d0f0ff" opacity="0.86"/><circle cx="588.4" cy="156.3" r="1.5" fill="#f0d0ff" opacity="1.00"/><circle cx="612.1" cy="82.3" r="1.3" fill="#ffe0f0" opacity="0.88"/><circle cx="597.2" cy="111.8" r="0.9" fill="#f0d0ff" opacity="0.85"/><circle cx="612.1" cy="45.1" r="0.9" fill="#ffffff" opacity="0.92"/><circle cx="627.4" cy="100.9" r="0.8" fill="#f0d0ff" opacity="0.72"/><circle cx="605.8" cy="169.1" r="0.8" fill="#f0d0ff" opacity="0.87"/><circle cx="560.9" cy="142.5" r="1.2" fill="#f0d0ff" opacity="0.69"/><circle cx="653.4" cy="135.3" r="0.8" fill="#ffffff" opacity="0.55"/><circle cx="652.5" cy="57.8" r="0.7" fill="#ffe0f0" opacity="0.80"/><circle cx="652.1" cy="127.2" r="1.0" fill="#ffffff" opacity="0.56"/><circle cx="597.7" cy="76.9" r="1.2" fill="#f0d0ff" opacity="0.83"/><circle cx="595.7" cy="137.2" r="1.4" fill="#ffffff" opacity="0.89"/><circle cx="642.2" cy="130.8" r="0.9" fill="#d0f0ff" opacity="0.68"/><circle cx="571.4" cy="42.8" r="1.1" fill="#f0d0ff" opacity="0.51"/><circle cx="614.4" cy="118.8" r="0.9" fill="#ffffff" opacity="0.90"/><circle cx="577.2" cy="105.0" r="1.2" fill="#d0f0ff" opacity="0.65"/><circle cx="571.9" cy="80.4" r="1.3" fill="#f0d0ff" opacity="0.70"/><circle cx="626.6" cy="91.0" r="1.4" fill="#d0f0ff" opacity="0.53"/><circle cx="639.5" cy="113.5" r="1.4" fill="#ffffff" opacity="0.88"/><circle cx="579.7" cy="132.1" r="0.7" fill="#f0d0ff" opacity="0.50"/><circle cx="602.5" cy="78.7" r="0.6" fill="#f0d0ff" opacity="0.83"/><circle cx="568.3" cy="69.8" r="1.4" fill="#ffffff" opacity="0.99"/><circle cx="608.1" cy="86.4" r="1.1" fill="#d0f0ff" opacity="0.99"/><circle cx="622.5" cy="68.5" r="0.6" fill="#ffe0f0" opacity="0.83"/><circle cx="602.3" cy="119.4" r="1.3" fill="#ffe0f0" opacity="0.80"/><circle cx="608.5" cy="136.6" r="1.3" fill="#ffffff" opacity="0.62"/><circle cx="577.9" cy="76.5" r="1.4" fill="#f0d0ff" opacity="0.80"/><circle cx="580.5" cy="85.7" r="0.7" fill="#d0f0ff" opacity="0.54"/><circle cx="584.2" cy="89.2" r="1.5" fill="#d0f0ff" opacity="0.73"/><circle cx="649.8" cy="134.9" r="1.5" fill="#f0d0ff" opacity="0.77"/><circle cx="566.7" cy="143.6" r="1.6" fill="#f0d0ff" opacity="0.86"/><circle cx="613.5" cy="130.4" r="1.1" fill="#f0d0ff" opacity="0.71"/><circle cx="574.6" cy="183.8" r="1.0" fill="#ffffff" opacity="0.98"/><circle cx="583.5" cy="71.9" r="1.1" fill="#d0f0ff" opacity="0.53"/><circle cx="620.8" cy="86.2" r="0.9" fill="#ffe0f0" opacity="0.57"/><circle cx="635.8" cy="72.4" r="0.7" fill="#f0d0ff" opacity="0.69"/><circle cx="570.0" cy="173.5" r="0.8" fill="#ffe0f0" opacity="0.79"/><circle cx="636.6" cy="44.8" r="0.9" fill="#ffe0f0" opacity="0.78"/><circle cx="617.7" cy="169.0" r="0.8" fill="#d0f0ff" opacity="0.59"/><circle cx="636.6" cy="135.1" r="1.4" fill="#d0f0ff" opacity="0.74"/><circle cx="572.1" cy="31.5" r="1.1" fill="#f0d0ff" opacity="0.83"/><circle cx="573.6" cy="118.0" r="0.9" fill="#ffe0f0" opacity="0.85"/><circle cx="583.7" cy="124.3" r="1.3" fill="#f0d0ff" opacity="0.72"/><circle cx="593.6" cy="102.6" r="0.9" fill="#d0f0ff" opacity="0.76"/><circle cx="628.3" cy="173.2" r="0.8" fill="#ffffff" opacity="0.97"/><circle cx="598.6" cy="78.5" r="0.7" fill="#ffffff" opacity="0.54"/><circle cx="582.8" cy="44.5" r="1.2" fill="#ffffff" opacity="0.87"/><circle cx="612.6" cy="106.4" r="1.5" fill="#d0f0ff" opacity="0.84"/><circle cx="648.6" cy="51.1" r="1.1" fill="#ffffff" opacity="0.70"/><circle cx="618.5" cy="171.2" r="1.3" fill="#d0f0ff" opacity="0.85"/><circle cx="631.2" cy="67.9" r="1.3" fill="#ffffff" opacity="0.80"/><circle cx="651.6" cy="134.6" r="1.5" fill="#f0d0ff" opacity="0.59"/><circle cx="594.9" cy="50.7" r="1.0" fill="#ffffff" opacity="0.71"/><circle cx="596.0" cy="87.9" r="0.7" fill="#f0d0ff" opacity="0.92"/><circle cx="640.8" cy="163.0" r="0.9" fill="#d0f0ff" opacity="0.65"/><circle cx="580.2" cy="144.4" r="1.2" fill="#f0d0ff" opacity="0.96"/><circle cx="648.3" cy="178.7" r="1.1" fill="#ffffff" opacity="0.97"/><circle cx="644.8" cy="161.5" r="0.7" fill="#ffffff" opacity="0.81"/><circle cx="591.2" cy="84.9" r="0.6" fill="#f0d0ff" opacity="0.70"/><circle cx="560.8" cy="96.8" r="0.8" fill="#f0d0ff" opacity="0.71"/><circle cx="646.7" cy="31.1" r="1.4" fill="#ffe0f0" opacity="0.61"/><circle cx="597.6" cy="76.4" r="1.0" fill="#f0d0ff" opacity="0.77"/><circle cx="585.6" cy="183.4" r="1.3" fill="#d0f0ff" opacity="0.58"/><circle cx="593.6" cy="97.3" r="1.0" fill="#f0d0ff" opacity="0.56"/><circle cx="587.1" cy="50.7" r="1.0" fill="#ffe0f0" opacity="0.95"/><circle cx="575.2" cy="60.8" r="1.1" fill="#ffe0f0" opacity="0.56"/><circle cx="606.5" cy="106.8" r="1.3" fill="#f0d0ff" opacity="0.66"/><circle cx="632.6" cy="166.7" r="1.1" fill="#d0f0ff" opacity="0.57"/><circle cx="651.0" cy="152.9" r="0.7" fill="#ffe0f0" opacity="0.75"/><circle cx="632.9" cy="66.7" r="1.3" fill="#ffe0f0" opacity="0.71"/><circle cx="616.7" cy="31.2" r="1.1" fill="#ffe0f0" opacity="0.74"/><circle cx="632.3" cy="68.4" r="0.8" fill="#f0d0ff" opacity="0.62"/><circle cx="632.8" cy="163.9" r="1.6" fill="#f0d0ff" opacity="0.83"/><circle cx="600.8" cy="103.5" r="1.4" fill="#ffffff" opacity="0.85"/><circle cx="607.7" cy="58.1" r="1.6" fill="#f0d0ff" opacity="0.61"/><circle cx="572.6" cy="35.9" r="1.6" fill="#f0d0ff" opacity="0.71"/><circle cx="618.6" cy="44.1" r="0.7" fill="#d0f0ff" opacity="0.76"/><circle cx="626.5" cy="181.9" r="0.8" fill="#d0f0ff" opacity="0.74"/><circle cx="608.4" cy="129.8" r="0.9" fill="#ffe0f0" opacity="0.68"/><circle cx="649.6" cy="140.3" r="0.8" fill="#ffffff" opacity="0.59"/><circle cx="560.1" cy="132.4" r="0.9" fill="#ffe0f0" opacity="0.74"/><circle cx="646.3" cy="45.6" r="0.8" fill="#d0f0ff" opacity="0.68"/><circle cx="588.9" cy="45.0" r="0.6" fill="#f0d0ff" opacity="0.67"/><circle cx="630.4" cy="86.0" r="1.4" fill="#ffe0f0" opacity="0.62"/><circle cx="586.2" cy="120.6" r="0.7" fill="#ffffff" opacity="0.57"/><circle cx="630.5" cy="48.7" r="1.2" fill="#f0d0ff" opacity="0.60"/><circle cx="602.3" cy="45.3" r="1.5" fill="#ffe0f0" opacity="0.65"/><circle cx="605.0" cy="148.0" r="1.1" fill="#f0d0ff" opacity="0.52"/><circle cx="578.2" cy="115.3" r="0.9" fill="#ffe0f0" opacity="0.95"/><circle cx="602.6" cy="141.2" r="1.5" fill="#ffffff" opacity="0.74"/><circle cx="609.8" cy="177.6" r="1.4" fill="#f0d0ff" opacity="0.80"/><circle cx="626.2" cy="50.0" r="0.6" fill="#ffffff" opacity="0.90"/><circle cx="625.9" cy="144.8" r="1.0" fill="#ffffff" opacity="0.58"/><circle cx="631.3" cy="89.5" r="1.4" fill="#d0f0ff" opacity="0.80"/><circle cx="579.7" cy="30.6" r="1.2" fill="#ffffff" opacity="0.94"/><circle cx="635.1" cy="100.6" r="1.3" fill="#ffe0f0" opacity="0.65"/><circle cx="580.9" cy="139.8" r="1.2" fill="#f0d0ff" opacity="0.61"/><circle cx="610.7" cy="75.2" r="1.2" fill="#ffe0f0" opacity="0.96"/><circle cx="585.7" cy="152.5" r="1.2" fill="#f0d0ff" opacity="0.99"/><circle cx="579.9" cy="48.0" r="1.2" fill="#ffe0f0" opacity="0.66"/><circle cx="649.9" cy="167.0" r="0.9" fill="#f0d0ff" opacity="0.70"/><circle cx="618.1" cy="80.3" r="0.7" fill="#ffffff" opacity="0.91"/><circle cx="580.8" cy="179.6" r="0.8" fill="#ffffff" opacity="0.77"/><circle cx="653.0" cy="150.6" r="1.4" fill="#ffffff" opacity="0.86"/><circle cx="625.4" cy="176.6" r="0.9" fill="#f0d0ff" opacity="0.91"/><circle cx="581.0" cy="71.7" r="1.2" fill="#d0f0ff" opacity="0.58"/><circle cx="582.0" cy="142.6" r="1.0" fill="#d0f0ff" opacity="0.55"/><circle cx="577.2" cy="58.7" r="1.5" fill="#f0d0ff" opacity="0.78"/><circle cx="649.6" cy="58.0" r="0.9" fill="#ffe0f0" opacity="0.58"/><circle cx="576.9" cy="91.1" r="1.2" fill="#ffffff" opacity="0.57"/><circle cx="600.5" cy="100.5" r="1.2" fill="#d0f0ff" opacity="0.55"/><circle cx="610.0" cy="142.6" r="1.4" fill="#ffffff" opacity="0.69"/><circle cx="562.0" cy="158.1" r="1.4" fill="#ffffff" opacity="0.57"/><circle cx="633.2" cy="71.5" r="1.5" fill="#ffffff" opacity="0.90"/><g filter="url(#b05)"><circle cx="636.6" cy="206.5" r="2.2" fill="#e0e8a0" opacity="0.84"/><circle cx="619.6" cy="210.3" r="2.6" fill="#d0f0f0" opacity="0.83"/><circle cx="602.7" cy="223.1" r="1.6" fill="#e0e8a0" opacity="0.75"/><circle cx="629.5" cy="222.8" r="1.4" fill="#e0e8a0" opacity="0.54"/><circle cx="624.6" cy="193.2" r="1.2" fill="#ffffff" opacity="0.51"/><circle cx="599.7" cy="209.8" r="2.4" fill="#ffffff" opacity="0.87"/><circle cx="600.0" cy="183.7" r="2.5" fill="#f4f8d8" opacity="0.70"/><circle cx="624.2" cy="204.2" r="2.9" fill="#e0e8a0" opacity="0.64"/><circle cx="602.3" cy="198.6" r="2.9" fill="#f4f8d8" opacity="0.86"/><circle cx="600.0" cy="197.8" r="2.2" fill="#ffffff" opacity="0.77"/><circle cx="624.4" cy="223.5" r="1.7" fill="#e0e8a0" opacity="0.64"/><circle cx="632.8" cy="221.3" r="2.4" fill="#e0e8a0" opacity="0.82"/><circle cx="608.0" cy="197.5" r="1.2" fill="#ffffff" opacity="0.81"/><circle cx="617.0" cy="213.6" r="2.0" fill="#d0f0f0" opacity="0.83"/><circle cx="624.9" cy="216.9" r="2.5" fill="#ffffff" opacity="0.54"/><circle cx="622.8" cy="204.6" r="1.9" fill="#e0e8a0" opacity="0.70"/><circle cx="580.6" cy="208.2" r="2.3" fill="#e0e8a0" opacity="0.56"/><circle cx="637.0" cy="195.7" r="1.9" fill="#d0f0f0" opacity="0.72"/><circle cx="588.1" cy="206.0" r="1.6" fill="#f4f8d8" opacity="0.73"/><circle cx="589.9" cy="215.0" r="2.4" fill="#ffffff" opacity="0.78"/><circle cx="610.1" cy="206.5" r="3.0" fill="#f4f8d8" opacity="0.64"/><circle cx="599.2" cy="206.7" r="1.4" fill="#e0e8a0" opacity="0.64"/><circle cx="625.5" cy="185.0" r="1.5" fill="#d0f0f0" opacity="0.56"/><circle cx="627.9" cy="183.0" r="2.8" fill="#ffffff" opacity="0.58"/><circle cx="614.1" cy="228.9" r="1.4" fill="#ffffff" opacity="0.65"/><circle cx="639.1" cy="209.5" r="1.9" fill="#f4f8d8" opacity="0.77"/><circle cx="634.6" cy="216.5" r="2.8" fill="#f4f8d8" opacity="0.56"/><circle cx="619.4" cy="215.8" r="1.2" fill="#d0f0f0" opacity="0.56"/><circle cx="620.7" cy="227.0" r="2.5" fill="#e0e8a0" opacity="0.69"/><circle cx="606.6" cy="186.6" r="2.4" fill="#f4f8d8" opacity="0.61"/><circle cx="625.7" cy="226.8" r="1.3" fill="#ffffff" opacity="0.70"/><circle cx="637.3" cy="206.7" r="2.4" fill="#d0f0f0" opacity="0.72"/><circle cx="623.8" cy="181.4" r="2.1" fill="#ffffff" opacity="0.67"/><circle cx="626.4" cy="228.0" r="2.1" fill="#ffffff" opacity="0.80"/><circle cx="604.2" cy="208.9" r="1.9" fill="#f4f8d8" opacity="0.83"/><circle cx="593.5" cy="208.1" r="2.4" fill="#d0f0f0" opacity="0.57"/><circle cx="617.9" cy="183.7" r="1.6" fill="#f4f8d8" opacity="0.54"/><circle cx="592.8" cy="223.8" r="1.8" fill="#ffffff" opacity="0.61"/><circle cx="602.6" cy="203.2" r="2.3" fill="#e0e8a0" opacity="0.58"/><circle cx="618.6" cy="230.8" r="1.6" fill="#f4f8d8" opacity="0.89"/><circle cx="589.3" cy="196.7" r="2.6" fill="#f4f8d8" opacity="0.52"/><circle cx="623.9" cy="213.6" r="3.0" fill="#e0e8a0" opacity="0.88"/><circle cx="593.2" cy="205.0" r="1.9" fill="#e0e8a0" opacity="0.89"/><circle cx="607.3" cy="196.6" r="1.9" fill="#f4f8d8" opacity="0.70"/><circle cx="610.7" cy="200.7" r="2.6" fill="#d0f0f0" opacity="0.73"/><circle cx="619.7" cy="192.9" r="1.5" fill="#d0f0f0" opacity="0.53"/><circle cx="589.4" cy="185.6" r="1.6" fill="#ffffff" opacity="0.82"/><circle cx="595.1" cy="184.8" r="1.5" fill="#e0e8a0" opacity="0.68"/><circle cx="621.0" cy="216.1" r="2.3" fill="#d0f0f0" opacity="0.52"/><circle cx="604.3" cy="182.5" r="1.6" fill="#f4f8d8" opacity="0.88"/><circle cx="582.7" cy="193.6" r="1.4" fill="#f4f8d8" opacity="0.56"/><circle cx="625.2" cy="189.9" r="2.9" fill="#f4f8d8" opacity="0.70"/><circle cx="598.1" cy="208.2" r="1.7" fill="#f4f8d8" opacity="0.61"/><circle cx="604.1" cy="211.3" r="1.5" fill="#d0f0f0" opacity="0.60"/><circle cx="595.0" cy="207.4" r="2.8" fill="#ffffff" opacity="0.88"/><circle cx="630.6" cy="201.5" r="1.9" fill="#e0e8a0" opacity="0.66"/><circle cx="627.9" cy="184.0" r="1.4" fill="#e0e8a0" opacity="0.70"/><circle cx="598.1" cy="193.9" r="1.4" fill="#d0f0f0" opacity="0.70"/><circle cx="607.7" cy="231.1" r="2.4" fill="#f4f8d8" opacity="0.80"/><circle cx="610.9" cy="230.4" r="1.2" fill="#f4f8d8" opacity="0.62"/></g></g><line x1="566.4" y1="192" x2="657.4" y2="192" stroke="#fff" stroke-width="3.6" stroke-dasharray="9,5.5"/><rect x="673" y="231.2" width="8.799999999999955" height="39.19999999999999" fill="#fff"/><text x="693.6" y="44.4" font-size="21" fill="#fff" text-anchor="end" textLength="78.7" lengthAdjust="spacingAndGlyphs">10 days</text><text x="693.6" y="71.8" font-size="21" fill="#fff" text-anchor="end" textLength="58" lengthAdjust="spacingAndGlyphs">12/20</text><text transform="translate(533,177) rotate(-90)" x="0" y="0" font-size="25" fill="#fff" text-anchor="middle" textLength="108.5" lengthAdjust="spacingAndGlyphs" style="font-style:italic">wox13,14</text></g><g clip-path="url(#cp4)"><rect x="282.5" y="292" width="204.3" height="342.79999999999995" fill="url(#bgD)"/><path d="M275.0,285.0 C298.2,280.7 390.4,282.5 414.0,285.0 C437.6,287.5 415.5,293.1 416.5,300.0 C417.5,306.9 418.4,315.8 420.0,326.7 C421.6,337.6 424.5,353.3 426.2,365.3 C427.9,377.3 429.7,388.6 430.1,398.9 C430.5,409.2 431.4,420.8 428.8,427.2 C426.2,433.6 421.1,435.4 414.6,437.5 C408.1,439.6 397.1,440.9 390.0,440.0 C382.9,439.1 375.6,438.9 372.0,432.0 C368.4,425.1 369.7,407.9 368.2,398.9 C366.7,389.9 366.1,386.8 363.1,378.2 C360.1,369.6 356.6,356.8 350.2,347.3 C343.8,337.9 336.9,327.6 324.4,321.5 C311.9,315.4 283.2,317.1 275.0,311.0 C266.8,304.9 251.8,289.3 275.0,285.0 Z" fill="url(#stemD)" filter="url(#b05)"/><g clip-path="url(#cpD)"><line x1="358.1" y1="347.9" x2="359.3" y2="357.4" stroke="#ffe0f0" stroke-width="1.1" opacity="0.63"/><line x1="374.0" y1="356.2" x2="376.2" y2="374.9" stroke="#ffffff" stroke-width="1.6" opacity="0.34"/><line x1="405.7" y1="410.1" x2="408.9" y2="436.5" stroke="#f0c0f0" stroke-width="1.5" opacity="0.50"/><line x1="350.4" y1="341.1" x2="352.8" y2="361.2" stroke="#ffe0f0" stroke-width="0.9" opacity="0.36"/><line x1="382.7" y1="365.4" x2="386.0" y2="392.4" stroke="#f0c0f0" stroke-width="0.9" opacity="0.46"/><line x1="347.6" y1="372.1" x2="349.5" y2="387.7" stroke="#d0a0e0" stroke-width="1.7" opacity="0.69"/><line x1="426.2" y1="325.6" x2="427.7" y2="337.8" stroke="#ffe0f0" stroke-width="0.7" opacity="0.43"/><line x1="397.8" y1="310.0" x2="398.9" y2="319.4" stroke="#d0a0e0" stroke-width="1.1" opacity="0.74"/><line x1="382.5" y1="350.4" x2="383.9" y2="362.6" stroke="#f0c0f0" stroke-width="1.7" opacity="0.72"/><line x1="352.7" y1="408.2" x2="354.5" y2="423.0" stroke="#f0c0f0" stroke-width="1.5" opacity="0.40"/><line x1="423.2" y1="357.8" x2="425.4" y2="376.5" stroke="#ffe0f0" stroke-width="1.6" opacity="0.48"/><line x1="402.5" y1="346.7" x2="403.5" y2="354.9" stroke="#f0c0f0" stroke-width="1.6" opacity="0.34"/><line x1="400.4" y1="374.0" x2="402.2" y2="388.5" stroke="#d0a0e0" stroke-width="1.8" opacity="0.31"/><line x1="419.4" y1="412.1" x2="421.6" y2="430.0" stroke="#ffe0f0" stroke-width="1.0" opacity="0.43"/><line x1="404.9" y1="418.6" x2="408.2" y2="445.5" stroke="#ffe0f0" stroke-width="1.6" opacity="0.62"/><line x1="393.0" y1="304.4" x2="395.8" y2="327.3" stroke="#f0c0f0" stroke-width="0.9" opacity="0.60"/><line x1="362.9" y1="325.2" x2="364.4" y2="337.0" stroke="#ffffff" stroke-width="1.4" opacity="0.49"/><line x1="375.2" y1="336.2" x2="376.9" y2="350.4" stroke="#ffffff" stroke-width="1.6" opacity="0.65"/><line x1="398.9" y1="354.7" x2="400.8" y2="370.9" stroke="#ffe0f0" stroke-width="1.1" opacity="0.56"/><line x1="408.5" y1="313.6" x2="409.9" y2="325.1" stroke="#f0c0f0" stroke-width="1.2" opacity="0.58"/><line x1="358.5" y1="352.3" x2="360.1" y2="366.0" stroke="#ffe0f0" stroke-width="1.4" opacity="0.62"/><line x1="403.3" y1="412.5" x2="406.4" y2="438.7" stroke="#ffffff" stroke-width="0.8" opacity="0.70"/><line x1="353.6" y1="378.0" x2="356.1" y2="398.3" stroke="#ffe0f0" stroke-width="1.2" opacity="0.67"/><line x1="396.8" y1="365.4" x2="399.3" y2="386.0" stroke="#ffffff" stroke-width="1.3" opacity="0.63"/><line x1="415.7" y1="325.4" x2="418.5" y2="349.0" stroke="#ffffff" stroke-width="1.3" opacity="0.40"/><line x1="384.0" y1="314.9" x2="387.3" y2="342.3" stroke="#ffe0f0" stroke-width="1.7" opacity="0.75"/><line x1="398.5" y1="394.2" x2="400.4" y2="410.1" stroke="#f0c0f0" stroke-width="1.7" opacity="0.55"/><line x1="367.2" y1="379.0" x2="368.9" y2="393.2" stroke="#ffe0f0" stroke-width="1.7" opacity="0.64"/><line x1="345.3" y1="409.1" x2="346.4" y2="417.7" stroke="#d0a0e0" stroke-width="0.7" opacity="0.72"/><line x1="388.1" y1="388.9" x2="389.8" y2="403.3" stroke="#ffe0f0" stroke-width="0.9" opacity="0.42"/><line x1="425.8" y1="323.1" x2="428.3" y2="344.0" stroke="#ffe0f0" stroke-width="1.6" opacity="0.36"/><line x1="397.8" y1="417.3" x2="399.2" y2="428.8" stroke="#f0c0f0" stroke-width="1.7" opacity="0.52"/><line x1="353.3" y1="396.1" x2="355.4" y2="414.2" stroke="#ffe0f0" stroke-width="1.4" opacity="0.72"/><line x1="397.1" y1="331.2" x2="399.4" y2="350.3" stroke="#f0c0f0" stroke-width="1.7" opacity="0.35"/><line x1="347.1" y1="301.4" x2="349.9" y2="324.8" stroke="#ffffff" stroke-width="0.9" opacity="0.59"/><line x1="347.1" y1="388.1" x2="350.4" y2="415.8" stroke="#d0a0e0" stroke-width="1.4" opacity="0.39"/><line x1="399.2" y1="326.6" x2="400.6" y2="338.5" stroke="#ffe0f0" stroke-width="1.6" opacity="0.69"/><line x1="399.7" y1="333.0" x2="402.9" y2="359.7" stroke="#ffffff" stroke-width="1.4" opacity="0.36"/><line x1="422.0" y1="314.7" x2="423.3" y2="325.6" stroke="#f0c0f0" stroke-width="1.0" opacity="0.35"/><line x1="386.0" y1="343.4" x2="389.0" y2="368.1" stroke="#ffe0f0" stroke-width="1.1" opacity="0.70"/><line x1="379.3" y1="358.4" x2="381.8" y2="378.9" stroke="#ffe0f0" stroke-width="0.9" opacity="0.49"/><line x1="371.0" y1="409.0" x2="373.9" y2="433.2" stroke="#ffffff" stroke-width="0.9" opacity="0.75"/><line x1="399.8" y1="375.7" x2="402.8" y2="400.8" stroke="#d0a0e0" stroke-width="0.8" opacity="0.80"/><line x1="385.2" y1="373.7" x2="387.4" y2="392.6" stroke="#d0a0e0" stroke-width="0.9" opacity="0.76"/><line x1="361.0" y1="303.5" x2="362.0" y2="312.0" stroke="#f0c0f0" stroke-width="1.3" opacity="0.41"/><line x1="375.3" y1="407.8" x2="376.3" y2="416.4" stroke="#ffffff" stroke-width="0.9" opacity="0.66"/><line x1="423.0" y1="332.1" x2="425.1" y2="349.7" stroke="#d0a0e0" stroke-width="1.7" opacity="0.65"/><line x1="399.1" y1="356.0" x2="402.0" y2="380.2" stroke="#ffe0f0" stroke-width="1.2" opacity="0.76"/><line x1="365.8" y1="323.7" x2="368.7" y2="348.7" stroke="#ffe0f0" stroke-width="1.5" opacity="0.35"/><line x1="410.8" y1="370.5" x2="412.2" y2="381.8" stroke="#ffe0f0" stroke-width="0.9" opacity="0.52"/><line x1="382.0" y1="371.6" x2="383.6" y2="385.0" stroke="#ffffff" stroke-width="1.1" opacity="0.60"/><line x1="380.6" y1="368.1" x2="382.5" y2="383.5" stroke="#ffffff" stroke-width="1.4" opacity="0.52"/><line x1="418.8" y1="415.0" x2="420.4" y2="428.0" stroke="#d0a0e0" stroke-width="1.2" opacity="0.50"/><line x1="354.5" y1="397.1" x2="356.5" y2="413.7" stroke="#f0c0f0" stroke-width="0.9" opacity="0.34"/><line x1="399.5" y1="344.6" x2="402.4" y2="368.2" stroke="#d0a0e0" stroke-width="0.8" opacity="0.64"/><line x1="404.5" y1="325.7" x2="406.8" y2="345.0" stroke="#f0c0f0" stroke-width="1.1" opacity="0.58"/><line x1="377.0" y1="372.2" x2="379.2" y2="390.8" stroke="#d0a0e0" stroke-width="0.8" opacity="0.66"/><line x1="423.5" y1="396.9" x2="426.1" y2="418.3" stroke="#ffe0f0" stroke-width="1.3" opacity="0.64"/><line x1="381.1" y1="397.6" x2="382.6" y2="409.6" stroke="#ffe0f0" stroke-width="0.8" opacity="0.55"/><line x1="427.2" y1="350.5" x2="428.4" y2="361.0" stroke="#d0a0e0" stroke-width="0.9" opacity="0.60"/><line x1="364.6" y1="302.6" x2="365.6" y2="310.9" stroke="#ffffff" stroke-width="1.6" opacity="0.76"/><line x1="368.6" y1="401.0" x2="370.5" y2="417.1" stroke="#ffffff" stroke-width="1.7" opacity="0.47"/><line x1="346.4" y1="356.4" x2="349.3" y2="381.0" stroke="#d0a0e0" stroke-width="1.2" opacity="0.44"/><line x1="407.6" y1="348.0" x2="409.9" y2="367.2" stroke="#ffffff" stroke-width="1.0" opacity="0.50"/><line x1="402.8" y1="354.5" x2="405.8" y2="379.5" stroke="#ffffff" stroke-width="1.8" opacity="0.72"/><line x1="422.8" y1="312.3" x2="424.3" y2="324.8" stroke="#f0c0f0" stroke-width="1.6" opacity="0.35"/><line x1="371.8" y1="382.5" x2="373.8" y2="399.2" stroke="#f0c0f0" stroke-width="0.9" opacity="0.66"/><line x1="412.4" y1="397.9" x2="414.7" y2="416.7" stroke="#ffffff" stroke-width="0.7" opacity="0.43"/><line x1="410.2" y1="313.3" x2="413.4" y2="340.2" stroke="#d0a0e0" stroke-width="0.8" opacity="0.64"/><line x1="410.7" y1="345.5" x2="413.3" y2="367.5" stroke="#ffe0f0" stroke-width="1.7" opacity="0.36"/><g filter="url(#b05)"><circle cx="389.2" cy="392.7" r="1.9" fill="#f0e090" opacity="0.65"/><circle cx="410.1" cy="412.1" r="1.4" fill="#f0e090" opacity="0.66"/><circle cx="428.6" cy="401.7" r="2.1" fill="#e0d070" opacity="0.44"/><circle cx="416.0" cy="422.0" r="1.5" fill="#e0d070" opacity="0.66"/><circle cx="414.1" cy="395.7" r="1.1" fill="#f0e090" opacity="0.42"/><circle cx="370.8" cy="396.2" r="2.2" fill="#e0d070" opacity="0.60"/><circle cx="390.4" cy="427.3" r="2.1" fill="#c8b850" opacity="0.74"/><circle cx="415.6" cy="401.2" r="1.7" fill="#e0d070" opacity="0.74"/><circle cx="376.3" cy="391.8" r="2.4" fill="#f0e090" opacity="0.79"/><circle cx="422.1" cy="411.7" r="2.2" fill="#e0d070" opacity="0.43"/><circle cx="395.4" cy="420.7" r="2.4" fill="#c8b850" opacity="0.66"/><circle cx="378.8" cy="430.6" r="2.1" fill="#e0d070" opacity="0.41"/><circle cx="397.7" cy="398.9" r="1.7" fill="#c8b850" opacity="0.58"/><circle cx="385.9" cy="433.2" r="1.1" fill="#f0e090" opacity="0.48"/><circle cx="393.8" cy="407.4" r="1.5" fill="#f0e090" opacity="0.51"/><circle cx="375.9" cy="418.7" r="2.1" fill="#f0e090" opacity="0.48"/><circle cx="381.4" cy="394.2" r="1.4" fill="#c8b850" opacity="0.60"/><circle cx="396.0" cy="420.4" r="2.0" fill="#e0d070" opacity="0.49"/><circle cx="373.2" cy="386.9" r="1.4" fill="#e0d070" opacity="0.61"/><circle cx="386.5" cy="430.9" r="2.0" fill="#f0e090" opacity="0.56"/><circle cx="376.1" cy="423.2" r="2.3" fill="#f0e090" opacity="0.60"/><circle cx="380.3" cy="395.6" r="2.0" fill="#c8b850" opacity="0.64"/><circle cx="414.0" cy="389.9" r="1.8" fill="#c8b850" opacity="0.65"/><circle cx="414.3" cy="429.3" r="2.0" fill="#e0d070" opacity="0.53"/><circle cx="374.2" cy="394.7" r="2.3" fill="#e0d070" opacity="0.78"/><circle cx="410.0" cy="407.3" r="1.0" fill="#f0e090" opacity="0.75"/><circle cx="380.2" cy="424.5" r="1.0" fill="#f0e090" opacity="0.79"/><circle cx="405.0" cy="410.4" r="1.4" fill="#e0d070" opacity="0.42"/><circle cx="371.0" cy="420.4" r="1.4" fill="#e0d070" opacity="0.61"/><circle cx="380.0" cy="392.6" r="1.1" fill="#f0e090" opacity="0.72"/><circle cx="390.1" cy="410.5" r="1.5" fill="#c8b850" opacity="0.50"/><circle cx="399.2" cy="403.9" r="1.0" fill="#f0e090" opacity="0.52"/><circle cx="390.0" cy="411.9" r="2.0" fill="#c8b850" opacity="0.59"/><circle cx="386.2" cy="412.0" r="2.0" fill="#e0d070" opacity="0.79"/><circle cx="421.4" cy="419.3" r="1.2" fill="#f0e090" opacity="0.41"/><circle cx="404.7" cy="421.2" r="1.6" fill="#e0d070" opacity="0.70"/><circle cx="381.6" cy="434.7" r="2.0" fill="#f0e090" opacity="0.75"/><circle cx="410.7" cy="431.8" r="1.7" fill="#c8b850" opacity="0.47"/><circle cx="424.6" cy="403.1" r="1.5" fill="#c8b850" opacity="0.57"/><circle cx="429.6" cy="401.1" r="1.1" fill="#c8b850" opacity="0.68"/><circle cx="420.1" cy="391.4" r="2.2" fill="#c8b850" opacity="0.79"/><circle cx="417.5" cy="400.0" r="2.5" fill="#f0e090" opacity="0.77"/><circle cx="378.8" cy="420.4" r="1.8" fill="#f0e090" opacity="0.65"/><circle cx="409.9" cy="400.8" r="1.4" fill="#f0e090" opacity="0.41"/><circle cx="372.5" cy="399.7" r="1.9" fill="#e0d070" opacity="0.60"/><circle cx="370.3" cy="403.3" r="2.3" fill="#e0d070" opacity="0.50"/><circle cx="391.0" cy="399.7" r="2.3" fill="#c8b850" opacity="0.78"/><circle cx="403.6" cy="434.6" r="2.1" fill="#e0d070" opacity="0.80"/><circle cx="381.8" cy="415.4" r="1.1" fill="#e0d070" opacity="0.41"/><circle cx="426.0" cy="397.9" r="2.0" fill="#f0e090" opacity="0.57"/></g></g><ellipse cx="396" cy="420" rx="22" ry="18" fill="#e0dcb8" opacity="0.55" filter="url(#b2)"/><path d="M386,422 C370,432 363,455 360,485 C357,515 355,545 364,572 C374,598 400,615 428,626 C445,632 458,638 470,646" stroke="#aebce0" stroke-width="28" fill="none" stroke-linecap="round" opacity="0.7" filter="url(#b2)"/><path d="M386,422 C370,432 363,455 360,485 C357,515 355,545 364,572 C374,598 400,615 428,626 C445,632 458,638 470,646" stroke="#d8e2f4" stroke-width="20" fill="none" stroke-linecap="round" filter="url(#b1)"/><path d="M386,422 C370,432 363,455 360,485 C357,515 355,545 364,572 C374,598 400,615 428,626 C445,632 458,638 470,646" stroke="#f2f6fc" stroke-width="9" fill="none" stroke-linecap="round" filter="url(#b2)"/><g filter="url(#b05)"><path d="M363.1,432.1 Q359.3,428.3 353.2,427.3" stroke="#c8d8f8" stroke-width="0.6" fill="none" opacity="0.59"/><path d="M356.2,450.5 Q354.7,451.3 350.9,449.3" stroke="#c8d8f8" stroke-width="0.6" fill="none" opacity="0.60"/><path d="M360.0,485.0 Q358.1,487.1 355.8,485.5" stroke="#e8eeff" stroke-width="0.5" fill="none" opacity="0.46"/><path d="M370.1,484.3 Q372.7,489.1 378.8,491.1" stroke="#c8d8f8" stroke-width="0.7" fill="none" opacity="0.40"/><path d="M349.4,542.7 Q347.8,542.6 345.4,539.9" stroke="#a8c0f0" stroke-width="0.7" fill="none" opacity="0.55"/><path d="M386.3,436.7 Q387.7,437.9 391.9,437.3" stroke="#e8eeff" stroke-width="0.6" fill="none" opacity="0.80"/><path d="M358.0,440.2 Q353.8,435.2 351.9,433.6" stroke="#c8d8f8" stroke-width="0.8" fill="none" opacity="0.45"/><path d="M382.5,441.0 Q383.0,441.6 386.5,443.0" stroke="#c8d8f8" stroke-width="0.9" fill="none" opacity="0.78"/><path d="M347.3,547.4 Q344.1,545.9 339.9,547.0" stroke="#a8c0f0" stroke-width="0.8" fill="none" opacity="0.48"/><path d="M367.9,543.6 Q372.0,545.2 374.7,547.7" stroke="#a8c0f0" stroke-width="0.9" fill="none" opacity="0.61"/><path d="M368.1,512.5 Q371.3,512.2 373.3,508.7" stroke="#a8c0f0" stroke-width="0.7" fill="none" opacity="0.81"/><path d="M370.8,492.5 Q374.6,494.9 375.7,497.3" stroke="#e8eeff" stroke-width="1.0" fill="none" opacity="0.64"/><path d="M366.7,534.2 Q372.0,532.9 374.4,534.5" stroke="#a8c0f0" stroke-width="0.7" fill="none" opacity="0.58"/><path d="M346.6,529.5 Q343.3,527.4 338.8,527.3" stroke="#a8c0f0" stroke-width="0.7" fill="none" opacity="0.83"/><path d="M351.0,488.7 Q346.6,490.8 342.1,491.3" stroke="#e8eeff" stroke-width="0.9" fill="none" opacity="0.84"/><path d="M371.4,469.8 Q372.8,472.1 377.7,473.6" stroke="#c8d8f8" stroke-width="0.5" fill="none" opacity="0.74"/><path d="M345.6,518.7 Q340.5,521.7 336.3,520.8" stroke="#a8c0f0" stroke-width="0.8" fill="none" opacity="0.49"/><path d="M348.2,532.9 Q345.3,531.8 340.1,533.9" stroke="#c8d8f8" stroke-width="0.8" fill="none" opacity="0.70"/><path d="M375.9,461.7 Q378.3,460.9 384.2,462.7" stroke="#a8c0f0" stroke-width="1.0" fill="none" opacity="0.73"/><path d="M348.7,540.1 Q346.8,541.7 341.8,540.6" stroke="#c8d8f8" stroke-width="0.7" fill="none" opacity="0.68"/><path d="M385.5,435.3 Q387.4,434.7 389.0,438.0" stroke="#e8eeff" stroke-width="1.0" fill="none" opacity="0.51"/><path d="M368.2,494.3 Q371.2,495.2 374.1,495.1" stroke="#e8eeff" stroke-width="0.7" fill="none" opacity="0.43"/><path d="M359.8,434.5 Q355.0,436.7 352.5,435.7" stroke="#c8d8f8" stroke-width="0.6" fill="none" opacity="0.65"/><path d="M368.6,487.3 Q373.4,488.4 376.1,493.2" stroke="#c8d8f8" stroke-width="1.0" fill="none" opacity="0.67"/><path d="M366.1,429.4 Q362.7,429.3 358.1,429.8" stroke="#e8eeff" stroke-width="0.9" fill="none" opacity="0.79"/><path d="M371.5,466.1 Q375.3,465.9 380.1,464.3" stroke="#c8d8f8" stroke-width="0.8" fill="none" opacity="0.42"/><path d="M368.8,501.1 Q376.3,500.5 379.9,501.0" stroke="#c8d8f8" stroke-width="0.7" fill="none" opacity="0.81"/><path d="M371.3,466.2 Q375.9,467.0 380.3,471.6" stroke="#c8d8f8" stroke-width="0.9" fill="none" opacity="0.51"/><path d="M386.9,433.9 Q392.4,437.9 394.7,438.0" stroke="#c8d8f8" stroke-width="0.8" fill="none" opacity="0.62"/><path d="M383.1,441.6 Q388.5,446.7 390.6,448.9" stroke="#e8eeff" stroke-width="0.9" fill="none" opacity="0.82"/><path d="M349.7,552.2 Q344.3,553.2 342.0,555.4" stroke="#e8eeff" stroke-width="0.9" fill="none" opacity="0.68"/><path d="M370.4,474.6 Q374.1,473.0 380.1,472.3" stroke="#c8d8f8" stroke-width="0.5" fill="none" opacity="0.51"/><path d="M349.0,520.3 Q344.1,523.4 340.7,522.8" stroke="#c8d8f8" stroke-width="0.6" fill="none" opacity="0.67"/><path d="M367.6,533.2 Q369.8,530.2 372.6,530.8" stroke="#e8eeff" stroke-width="0.5" fill="none" opacity="0.74"/><path d="M373.9,416.1 Q370.7,413.1 368.6,407.5" stroke="#e8eeff" stroke-width="0.9" fill="none" opacity="0.75"/><path d="M387.5,436.8 Q393.0,439.0 398.3,441.9" stroke="#a8c0f0" stroke-width="0.8" fill="none" opacity="0.63"/><path d="M355.7,444.4 Q354.6,441.0 351.9,439.4" stroke="#c8d8f8" stroke-width="0.9" fill="none" opacity="0.53"/><path d="M349.8,552.9 Q346.8,553.2 341.7,557.4" stroke="#e8eeff" stroke-width="0.8" fill="none" opacity="0.54"/><path d="M370.4,471.1 Q374.0,469.7 376.5,467.9" stroke="#e8eeff" stroke-width="0.5" fill="none" opacity="0.82"/><path d="M350.9,474.7 Q348.3,472.0 345.7,471.5" stroke="#c8d8f8" stroke-width="0.6" fill="none" opacity="0.68"/><path d="M385.5,435.2 Q385.1,440.1 388.3,443.3" stroke="#c8d8f8" stroke-width="1.0" fill="none" opacity="0.85"/><path d="M373.7,472.3 Q377.0,472.6 381.5,476.3" stroke="#e8eeff" stroke-width="0.6" fill="none" opacity="0.43"/><path d="M352.8,455.8 Q348.4,455.1 345.8,458.3" stroke="#a8c0f0" stroke-width="0.9" fill="none" opacity="0.55"/><path d="M345.5,508.9 Q345.2,511.5 341.5,510.7" stroke="#c8d8f8" stroke-width="0.6" fill="none" opacity="0.50"/><path d="M360.0,485.0 Q358.5,485.0 354.9,483.9" stroke="#c8d8f8" stroke-width="1.0" fill="none" opacity="0.85"/></g><g filter="url(#b05)"><circle cx="442.0" cy="634.1" r="1.1" fill="#e8f0ff" opacity="0.77"/><circle cx="366.8" cy="458.6" r="0.7" fill="#e8f0ff" opacity="0.83"/><circle cx="431.0" cy="630.4" r="1.4" fill="#e8f0ff" opacity="0.96"/><circle cx="364.3" cy="579.9" r="1.0" fill="#e8f0ff" opacity="0.66"/><circle cx="361.8" cy="454.4" r="1.6" fill="#e8f0ff" opacity="0.68"/><circle cx="367.2" cy="582.2" r="1.0" fill="#e8f0ff" opacity="0.80"/><circle cx="408.6" cy="612.4" r="1.4" fill="#ffffff" opacity="0.96"/><circle cx="358.5" cy="524.0" r="1.2" fill="#ffffff" opacity="0.80"/><circle cx="357.5" cy="553.8" r="1.0" fill="#c0d0f0" opacity="0.99"/><circle cx="442.4" cy="635.6" r="0.8" fill="#ffffff" opacity="0.94"/><circle cx="386.6" cy="428.6" r="1.4" fill="#c0d0f0" opacity="0.97"/><circle cx="367.0" cy="453.9" r="1.0" fill="#c0d0f0" opacity="0.58"/><circle cx="375.1" cy="449.0" r="1.5" fill="#e8f0ff" opacity="0.68"/><circle cx="384.5" cy="597.7" r="0.9" fill="#e8f0ff" opacity="0.95"/><circle cx="359.7" cy="572.0" r="1.6" fill="#ffffff" opacity="0.54"/><circle cx="377.7" cy="580.4" r="1.2" fill="#c0d0f0" opacity="0.92"/><circle cx="360.2" cy="547.9" r="1.3" fill="#c0d0f0" opacity="0.88"/><circle cx="440.3" cy="632.1" r="1.2" fill="#e8f0ff" opacity="0.84"/><circle cx="407.2" cy="622.8" r="1.1" fill="#c0d0f0" opacity="0.64"/><circle cx="366.5" cy="459.0" r="0.6" fill="#c0d0f0" opacity="0.95"/><circle cx="444.3" cy="635.8" r="0.9" fill="#e8f0ff" opacity="0.66"/><circle cx="361.3" cy="489.0" r="1.5" fill="#c0d0f0" opacity="0.61"/><circle cx="433.9" cy="637.0" r="0.9" fill="#e8f0ff" opacity="0.64"/><circle cx="361.6" cy="470.0" r="0.8" fill="#ffffff" opacity="0.64"/><circle cx="365.6" cy="537.8" r="1.5" fill="#c0d0f0" opacity="0.64"/><circle cx="368.0" cy="460.7" r="1.4" fill="#ffffff" opacity="0.80"/><circle cx="382.0" cy="430.2" r="1.4" fill="#ffffff" opacity="0.74"/><circle cx="376.1" cy="430.8" r="1.5" fill="#e8f0ff" opacity="0.87"/><circle cx="439.6" cy="633.0" r="1.5" fill="#c0d0f0" opacity="0.85"/><circle cx="357.5" cy="465.9" r="0.9" fill="#ffffff" opacity="1.00"/><circle cx="371.8" cy="458.5" r="1.3" fill="#ffffff" opacity="0.86"/><circle cx="366.9" cy="576.3" r="1.1" fill="#c0d0f0" opacity="0.76"/><circle cx="368.1" cy="438.0" r="1.5" fill="#e8f0ff" opacity="0.55"/><circle cx="432.0" cy="636.2" r="1.3" fill="#c0d0f0" opacity="0.52"/><circle cx="463.3" cy="640.5" r="1.2" fill="#ffffff" opacity="0.84"/><circle cx="351.7" cy="539.5" r="0.8" fill="#e8f0ff" opacity="0.64"/><circle cx="356.6" cy="501.0" r="1.1" fill="#c0d0f0" opacity="0.87"/><circle cx="380.2" cy="424.5" r="1.2" fill="#c0d0f0" opacity="0.59"/><circle cx="390.0" cy="600.7" r="1.2" fill="#ffffff" opacity="0.82"/><circle cx="415.2" cy="622.6" r="1.5" fill="#ffffff" opacity="0.94"/><circle cx="420.9" cy="626.4" r="1.2" fill="#c0d0f0" opacity="0.74"/><circle cx="367.6" cy="461.4" r="1.5" fill="#e8f0ff" opacity="0.71"/><circle cx="404.3" cy="623.1" r="0.7" fill="#e8f0ff" opacity="0.98"/><circle cx="360.6" cy="464.7" r="0.7" fill="#e8f0ff" opacity="0.92"/><circle cx="422.0" cy="621.6" r="0.6" fill="#e8f0ff" opacity="0.75"/><circle cx="396.6" cy="607.6" r="0.9" fill="#e8f0ff" opacity="0.71"/><circle cx="399.6" cy="616.5" r="0.7" fill="#e8f0ff" opacity="0.86"/><circle cx="364.4" cy="574.4" r="1.0" fill="#ffffff" opacity="0.79"/><circle cx="352.3" cy="483.2" r="0.7" fill="#c0d0f0" opacity="0.81"/><circle cx="361.3" cy="467.1" r="1.3" fill="#e8f0ff" opacity="0.55"/><circle cx="370.7" cy="567.9" r="1.2" fill="#c0d0f0" opacity="0.52"/><circle cx="355.5" cy="510.5" r="0.8" fill="#c0d0f0" opacity="0.70"/><circle cx="356.6" cy="524.3" r="1.0" fill="#e8f0ff" opacity="0.61"/><circle cx="359.1" cy="529.0" r="0.6" fill="#c0d0f0" opacity="0.55"/><circle cx="383.3" cy="597.3" r="0.9" fill="#ffffff" opacity="0.62"/><circle cx="365.1" cy="531.3" r="1.4" fill="#e8f0ff" opacity="0.83"/><circle cx="365.8" cy="460.2" r="1.5" fill="#ffffff" opacity="0.54"/><circle cx="400.4" cy="608.2" r="1.1" fill="#ffffff" opacity="0.55"/><circle cx="456.0" cy="633.4" r="1.2" fill="#e8f0ff" opacity="0.89"/><circle cx="394.9" cy="609.6" r="0.9" fill="#ffffff" opacity="0.55"/><circle cx="465.1" cy="643.5" r="1.0" fill="#ffffff" opacity="0.98"/><circle cx="445.8" cy="638.1" r="1.3" fill="#c0d0f0" opacity="0.62"/><circle cx="389.1" cy="425.1" r="1.6" fill="#c0d0f0" opacity="0.86"/><circle cx="409.0" cy="625.3" r="1.0" fill="#ffffff" opacity="0.72"/><circle cx="417.2" cy="621.5" r="0.9" fill="#c0d0f0" opacity="0.99"/><circle cx="362.0" cy="451.2" r="1.5" fill="#c0d0f0" opacity="0.62"/><circle cx="354.3" cy="480.9" r="1.1" fill="#c0d0f0" opacity="0.88"/><circle cx="372.8" cy="432.5" r="0.9" fill="#e8f0ff" opacity="0.92"/><circle cx="374.5" cy="435.6" r="1.0" fill="#ffffff" opacity="0.63"/><circle cx="358.3" cy="499.4" r="1.1" fill="#e8f0ff" opacity="0.98"/><circle cx="354.2" cy="532.0" r="1.1" fill="#c0d0f0" opacity="1.00"/><circle cx="373.3" cy="443.2" r="0.7" fill="#ffffff" opacity="0.88"/><circle cx="356.9" cy="484.6" r="0.8" fill="#ffffff" opacity="0.52"/><circle cx="389.1" cy="609.9" r="1.1" fill="#ffffff" opacity="0.87"/><circle cx="443.8" cy="632.8" r="0.7" fill="#e8f0ff" opacity="0.86"/><circle cx="351.2" cy="541.7" r="1.0" fill="#c0d0f0" opacity="0.58"/><circle cx="355.8" cy="554.9" r="1.2" fill="#c0d0f0" opacity="0.69"/><circle cx="458.8" cy="645.4" r="1.5" fill="#c0d0f0" opacity="0.86"/><circle cx="365.5" cy="478.5" r="1.1" fill="#e8f0ff" opacity="0.71"/><circle cx="351.7" cy="482.2" r="0.6" fill="#c0d0f0" opacity="0.59"/><circle cx="360.8" cy="451.5" r="0.7" fill="#e8f0ff" opacity="0.80"/><circle cx="366.8" cy="445.3" r="0.8" fill="#c0d0f0" opacity="0.51"/><circle cx="357.5" cy="506.5" r="1.5" fill="#c0d0f0" opacity="0.86"/><circle cx="370.2" cy="585.8" r="0.9" fill="#c0d0f0" opacity="0.82"/><circle cx="361.5" cy="504.6" r="1.3" fill="#e8f0ff" opacity="0.59"/><circle cx="455.2" cy="639.1" r="1.2" fill="#e8f0ff" opacity="0.67"/><circle cx="447.9" cy="631.8" r="1.3" fill="#c0d0f0" opacity="0.83"/><circle cx="419.8" cy="623.0" r="0.8" fill="#ffffff" opacity="0.55"/><circle cx="463.0" cy="643.3" r="1.5" fill="#e8f0ff" opacity="0.54"/><circle cx="379.2" cy="440.5" r="1.0" fill="#e8f0ff" opacity="0.66"/><circle cx="430.8" cy="622.5" r="1.0" fill="#e8f0ff" opacity="0.85"/><circle cx="367.1" cy="589.1" r="1.1" fill="#c0d0f0" opacity="0.92"/><circle cx="367.7" cy="482.2" r="1.3" fill="#e8f0ff" opacity="0.78"/><circle cx="426.5" cy="621.8" r="0.7" fill="#e8f0ff" opacity="0.83"/><circle cx="364.9" cy="490.4" r="1.1" fill="#c0d0f0" opacity="0.67"/><circle cx="397.8" cy="616.3" r="1.6" fill="#ffffff" opacity="0.69"/><circle cx="367.8" cy="485.8" r="0.8" fill="#e8f0ff" opacity="0.76"/><circle cx="381.6" cy="419.3" r="1.5" fill="#e8f0ff" opacity="0.75"/><circle cx="382.4" cy="422.6" r="0.9" fill="#e8f0ff" opacity="0.70"/><circle cx="357.3" cy="536.1" r="1.2" fill="#ffffff" opacity="0.93"/><circle cx="426.8" cy="622.4" r="1.1" fill="#e8f0ff" opacity="0.87"/><circle cx="468.2" cy="636.7" r="0.6" fill="#ffffff" opacity="0.81"/><circle cx="359.4" cy="476.9" r="1.5" fill="#ffffff" opacity="0.71"/><circle cx="369.8" cy="466.4" r="0.7" fill="#ffffff" opacity="0.93"/><circle cx="362.5" cy="546.6" r="1.2" fill="#ffffff" opacity="0.67"/><circle cx="365.7" cy="565.7" r="1.6" fill="#c0d0f0" opacity="0.97"/><circle cx="442.7" cy="629.4" r="1.0" fill="#c0d0f0" opacity="0.83"/><circle cx="373.6" cy="447.2" r="0.7" fill="#e8f0ff" opacity="0.54"/><circle cx="410.5" cy="616.3" r="1.3" fill="#e8f0ff" opacity="0.59"/><circle cx="383.5" cy="428.2" r="0.7" fill="#e8f0ff" opacity="0.78"/><circle cx="361.3" cy="446.8" r="0.7" fill="#ffffff" opacity="0.59"/><circle cx="369.7" cy="455.7" r="1.6" fill="#ffffff" opacity="0.89"/><circle cx="353.9" cy="507.3" r="1.5" fill="#ffffff" opacity="0.65"/><circle cx="476.0" cy="641.9" r="1.3" fill="#c0d0f0" opacity="0.57"/><circle cx="370.4" cy="437.7" r="0.9" fill="#c0d0f0" opacity="0.66"/><circle cx="360.0" cy="512.3" r="0.8" fill="#e8f0ff" opacity="0.63"/><circle cx="403.1" cy="620.7" r="1.2" fill="#e8f0ff" opacity="0.89"/><circle cx="428.6" cy="630.9" r="1.4" fill="#ffffff" opacity="0.97"/><circle cx="447.9" cy="640.6" r="0.8" fill="#c0d0f0" opacity="0.72"/><circle cx="471.2" cy="637.4" r="0.8" fill="#c0d0f0" opacity="0.98"/><circle cx="448.4" cy="625.4" r="0.7" fill="#ffffff" opacity="0.63"/><circle cx="415.0" cy="629.3" r="1.1" fill="#c0d0f0" opacity="0.59"/><circle cx="356.6" cy="473.0" r="1.2" fill="#c0d0f0" opacity="0.79"/><circle cx="376.2" cy="432.1" r="1.0" fill="#ffffff" opacity="0.58"/><circle cx="416.0" cy="628.8" r="0.7" fill="#e8f0ff" opacity="0.65"/><circle cx="408.1" cy="618.4" r="1.0" fill="#c0d0f0" opacity="0.73"/><circle cx="448.2" cy="628.0" r="1.1" fill="#ffffff" opacity="0.63"/><circle cx="369.2" cy="586.2" r="1.0" fill="#ffffff" opacity="0.99"/><circle cx="358.2" cy="512.3" r="1.1" fill="#e8f0ff" opacity="0.71"/><circle cx="363.6" cy="541.1" r="0.6" fill="#c0d0f0" opacity="0.58"/><circle cx="367.3" cy="553.9" r="1.5" fill="#ffffff" opacity="0.98"/><circle cx="448.8" cy="631.0" r="0.9" fill="#ffffff" opacity="0.99"/><circle cx="362.5" cy="560.6" r="0.9" fill="#e8f0ff" opacity="0.58"/><circle cx="383.8" cy="418.6" r="0.8" fill="#e8f0ff" opacity="0.54"/><circle cx="361.2" cy="520.6" r="1.3" fill="#ffffff" opacity="0.84"/><circle cx="377.9" cy="590.0" r="0.7" fill="#c0d0f0" opacity="0.84"/><circle cx="364.1" cy="508.1" r="1.4" fill="#c0d0f0" opacity="0.62"/><circle cx="362.0" cy="456.0" r="1.5" fill="#e8f0ff" opacity="0.89"/><circle cx="362.4" cy="544.3" r="1.0" fill="#e8f0ff" opacity="0.77"/><circle cx="359.7" cy="580.1" r="1.2" fill="#ffffff" opacity="0.94"/><circle cx="360.2" cy="484.1" r="0.9" fill="#ffffff" opacity="0.81"/><circle cx="389.0" cy="595.4" r="0.7" fill="#ffffff" opacity="0.52"/><circle cx="355.8" cy="561.7" r="1.3" fill="#e8f0ff" opacity="0.58"/><circle cx="355.4" cy="569.1" r="0.6" fill="#e8f0ff" opacity="0.59"/><circle cx="379.4" cy="591.6" r="1.1" fill="#ffffff" opacity="0.67"/><circle cx="362.6" cy="448.0" r="1.4" fill="#ffffff" opacity="0.66"/><circle cx="443.4" cy="634.9" r="0.6" fill="#c0d0f0" opacity="0.98"/><circle cx="384.1" cy="602.9" r="1.0" fill="#c0d0f0" opacity="0.82"/><circle cx="461.9" cy="631.3" r="1.1" fill="#e8f0ff" opacity="0.86"/><circle cx="443.0" cy="630.0" r="0.8" fill="#e8f0ff" opacity="0.77"/><circle cx="381.5" cy="594.3" r="0.6" fill="#c0d0f0" opacity="0.80"/><circle cx="351.4" cy="502.3" r="1.5" fill="#e8f0ff" opacity="0.52"/><circle cx="367.3" cy="553.3" r="1.1" fill="#ffffff" opacity="0.94"/><circle cx="374.2" cy="595.1" r="0.9" fill="#ffffff" opacity="0.77"/><circle cx="358.0" cy="495.1" r="1.0" fill="#e8f0ff" opacity="0.82"/><circle cx="462.8" cy="643.2" r="1.1" fill="#e8f0ff" opacity="0.62"/><circle cx="365.0" cy="445.3" r="0.7" fill="#e8f0ff" opacity="0.72"/><circle cx="355.2" cy="552.0" r="1.2" fill="#c0d0f0" opacity="0.91"/><circle cx="446.4" cy="634.9" r="1.0" fill="#ffffff" opacity="0.80"/><circle cx="467.5" cy="641.0" r="1.1" fill="#c0d0f0" opacity="0.54"/></g><rect x="457.2" y="583.2" width="8.5" height="32.19999999999993" fill="#fff"/><text x="470.8" y="320.2" font-size="21" fill="#fff" text-anchor="end" textLength="78.7" lengthAdjust="spacingAndGlyphs">10 days</text><text x="470.8" y="348.6" font-size="21" fill="#fff" text-anchor="end" textLength="46" lengthAdjust="spacingAndGlyphs">4/20</text><text transform="translate(313,516.8) rotate(-90)" x="0" y="0" font-size="25" fill="#fff" text-anchor="middle" textLength="122.4" lengthAdjust="spacingAndGlyphs" style="font-style:italic">lbd1,3,4,11</text></g><g clip-path="url(#cp5)"><rect x="499.5" y="292" width="205.70000000000005" height="342.79999999999995" fill="url(#bgE)"/><path d="M490.0,285.0 C527.5,280.2 677.5,283.2 715.0,285.0 C752.5,286.8 719.2,291.8 715.0,296.0 C710.8,300.2 696.6,305.1 690.0,310.0 C683.4,314.9 679.4,318.6 675.5,325.5 C671.6,332.4 667.9,339.7 666.4,351.3 C664.9,362.9 666.2,380.1 666.4,395.1 C666.6,410.1 668.8,429.5 667.7,441.5 C666.6,453.5 664.6,461.2 660.0,467.3 C655.4,473.4 645.8,477.2 640.0,478.0 C634.2,478.8 629.5,476.7 625.0,472.0 C620.5,467.3 615.3,458.5 613.0,450.0 C610.7,441.5 612.2,433.0 611.0,420.9 C609.8,408.8 607.7,389.8 605.9,377.1 C604.1,364.5 604.3,353.5 600.0,345.0 C595.7,336.5 586.7,330.5 580.0,326.0 C573.3,321.5 568.3,319.8 560.0,318.0 C551.7,316.2 541.7,315.7 530.0,315.0 C518.3,314.3 496.7,319.0 490.0,314.0 C483.3,309.0 452.5,289.8 490.0,285.0 Z" fill="url(#stemE)" filter="url(#b05)"/><g clip-path="url(#cpE)"><g filter="url(#b05)"><circle cx="663.4" cy="437.4" r="1.4" fill="#f0d080" opacity="0.39"/><circle cx="652.0" cy="433.8" r="1.8" fill="#f0d080" opacity="0.72"/><circle cx="632.3" cy="355.1" r="1.1" fill="#e0b060" opacity="0.80"/><circle cx="643.8" cy="410.1" r="1.9" fill="#f0d080" opacity="0.49"/><circle cx="634.8" cy="438.9" r="1.4" fill="#ffe8a0" opacity="0.44"/><circle cx="647.3" cy="418.6" r="2.1" fill="#e0b060" opacity="0.44"/><circle cx="630.7" cy="342.4" r="1.4" fill="#ffe8a0" opacity="0.44"/><circle cx="634.1" cy="442.7" r="1.7" fill="#f0d080" opacity="0.41"/><circle cx="606.1" cy="382.2" r="0.9" fill="#e0b060" opacity="0.66"/><circle cx="643.4" cy="399.9" r="1.4" fill="#e0b060" opacity="0.57"/><circle cx="635.0" cy="412.5" r="1.3" fill="#e0b060" opacity="0.47"/><circle cx="633.0" cy="400.1" r="1.8" fill="#ffe8a0" opacity="0.57"/><circle cx="615.7" cy="390.7" r="1.4" fill="#f0d080" opacity="0.62"/><circle cx="640.4" cy="384.9" r="1.1" fill="#e0b060" opacity="0.45"/><circle cx="652.3" cy="398.7" r="1.5" fill="#ffe8a0" opacity="0.61"/><circle cx="615.5" cy="385.7" r="1.4" fill="#f0d080" opacity="0.68"/><circle cx="622.9" cy="436.7" r="2.2" fill="#ffffff" opacity="0.76"/><circle cx="613.3" cy="418.9" r="2.0" fill="#f0d080" opacity="0.50"/><circle cx="618.3" cy="354.4" r="1.2" fill="#ffe8a0" opacity="0.68"/><circle cx="667.0" cy="467.3" r="1.6" fill="#e0b060" opacity="0.68"/><circle cx="631.3" cy="417.9" r="1.2" fill="#e0b060" opacity="0.62"/><circle cx="646.8" cy="429.3" r="1.7" fill="#e0b060" opacity="0.55"/><circle cx="638.5" cy="369.3" r="1.4" fill="#ffffff" opacity="0.44"/><circle cx="663.2" cy="360.4" r="2.0" fill="#ffffff" opacity="0.44"/><circle cx="638.6" cy="383.4" r="1.4" fill="#ffe8a0" opacity="0.64"/><circle cx="611.2" cy="415.4" r="1.4" fill="#ffffff" opacity="0.51"/><circle cx="645.1" cy="420.5" r="1.0" fill="#f0d080" opacity="0.60"/><circle cx="651.1" cy="462.9" r="1.3" fill="#ffe8a0" opacity="0.38"/><circle cx="644.4" cy="429.0" r="2.1" fill="#f0d080" opacity="0.67"/><circle cx="660.7" cy="425.0" r="1.6" fill="#ffe8a0" opacity="0.73"/><circle cx="615.2" cy="388.0" r="2.0" fill="#ffe8a0" opacity="0.54"/><circle cx="649.9" cy="366.0" r="1.0" fill="#f0d080" opacity="0.75"/><circle cx="618.0" cy="400.0" r="1.1" fill="#ffffff" opacity="0.79"/><circle cx="655.2" cy="466.5" r="1.5" fill="#f0d080" opacity="0.70"/><circle cx="657.8" cy="453.4" r="2.1" fill="#ffe8a0" opacity="0.53"/><circle cx="665.6" cy="340.9" r="0.8" fill="#ffffff" opacity="0.73"/><circle cx="667.7" cy="452.1" r="0.9" fill="#ffffff" opacity="0.78"/><circle cx="660.7" cy="409.9" r="1.8" fill="#f0d080" opacity="0.52"/><circle cx="657.1" cy="347.8" r="1.9" fill="#f0d080" opacity="0.48"/><circle cx="650.1" cy="406.5" r="1.7" fill="#ffffff" opacity="0.69"/><circle cx="611.5" cy="450.1" r="1.9" fill="#f0d080" opacity="0.66"/><circle cx="628.1" cy="425.3" r="1.0" fill="#ffe8a0" opacity="0.70"/><circle cx="618.2" cy="352.6" r="1.7" fill="#f0d080" opacity="0.53"/><circle cx="649.7" cy="437.8" r="1.9" fill="#e0b060" opacity="0.45"/><circle cx="633.0" cy="442.4" r="1.8" fill="#e0b060" opacity="0.60"/><circle cx="653.0" cy="359.2" r="1.2" fill="#ffe8a0" opacity="0.74"/><circle cx="640.5" cy="432.8" r="1.2" fill="#ffe8a0" opacity="0.58"/><circle cx="624.2" cy="432.7" r="1.7" fill="#ffe8a0" opacity="0.67"/><circle cx="648.8" cy="359.0" r="1.2" fill="#ffffff" opacity="0.43"/><circle cx="619.4" cy="450.6" r="1.6" fill="#ffe8a0" opacity="0.59"/><circle cx="621.3" cy="433.7" r="1.8" fill="#ffffff" opacity="0.54"/><circle cx="661.7" cy="466.4" r="1.7" fill="#e0b060" opacity="0.56"/><circle cx="628.8" cy="460.4" r="1.7" fill="#ffffff" opacity="0.39"/><circle cx="661.5" cy="341.9" r="2.1" fill="#e0b060" opacity="0.41"/><circle cx="618.0" cy="359.5" r="1.7" fill="#f0d080" opacity="0.62"/><circle cx="627.5" cy="399.7" r="2.1" fill="#f0d080" opacity="0.72"/><circle cx="658.3" cy="441.8" r="1.5" fill="#ffe8a0" opacity="0.67"/><circle cx="627.9" cy="344.3" r="1.7" fill="#e0b060" opacity="0.55"/><circle cx="622.1" cy="465.0" r="2.0" fill="#f0d080" opacity="0.79"/><circle cx="608.5" cy="413.7" r="1.1" fill="#e0b060" opacity="0.70"/><circle cx="616.5" cy="461.7" r="2.0" fill="#ffe8a0" opacity="0.64"/><circle cx="633.7" cy="345.2" r="1.7" fill="#e0b060" opacity="0.35"/><circle cx="617.0" cy="448.0" r="0.9" fill="#ffe8a0" opacity="0.56"/><circle cx="608.8" cy="369.6" r="1.6" fill="#ffffff" opacity="0.53"/><circle cx="638.8" cy="441.6" r="1.2" fill="#f0d080" opacity="0.40"/><circle cx="612.3" cy="350.8" r="1.1" fill="#ffe8a0" opacity="0.60"/><circle cx="623.9" cy="341.2" r="1.4" fill="#f0d080" opacity="0.66"/><circle cx="632.9" cy="423.5" r="1.6" fill="#ffffff" opacity="0.80"/><circle cx="620.9" cy="392.9" r="1.2" fill="#ffe8a0" opacity="0.46"/><circle cx="635.4" cy="376.9" r="1.7" fill="#e0b060" opacity="0.73"/><circle cx="620.7" cy="375.8" r="1.6" fill="#e0b060" opacity="0.61"/><circle cx="612.0" cy="438.4" r="1.1" fill="#f0d080" opacity="0.46"/><circle cx="666.4" cy="401.2" r="1.0" fill="#f0d080" opacity="0.68"/><circle cx="647.4" cy="352.3" r="2.0" fill="#e0b060" opacity="0.62"/><circle cx="638.9" cy="363.7" r="1.9" fill="#ffe8a0" opacity="0.41"/><circle cx="636.6" cy="381.6" r="1.5" fill="#f0d080" opacity="0.64"/><circle cx="663.4" cy="367.3" r="1.7" fill="#e0b060" opacity="0.38"/><circle cx="653.3" cy="442.2" r="2.0" fill="#ffe8a0" opacity="0.46"/><circle cx="637.5" cy="401.6" r="1.6" fill="#ffffff" opacity="0.69"/><circle cx="622.0" cy="461.3" r="1.5" fill="#e0b060" opacity="0.49"/></g><ellipse cx="640" cy="445" rx="28" ry="22" fill="#c0b030" opacity="0.5" filter="url(#b4)"/></g><path d="M615,438 C597,442 583,455 577,475 C571,500 567,530 564,558 C561,582 556,604 551,622" stroke="#a8b8e0" stroke-width="32" fill="none" stroke-linecap="round" opacity="0.65" filter="url(#b2)"/><path d="M615,438 C597,442 583,455 577,475 C571,500 567,530 564,558 C561,582 556,604 551,622" stroke="#d4def2" stroke-width="22" fill="none" stroke-linecap="round" filter="url(#b1)"/><path d="M615,438 C597,442 583,455 577,475 C571,500 567,530 564,558 C561,582 556,604 551,622" stroke="#f0f4fb" stroke-width="10" fill="none" stroke-linecap="round" filter="url(#b2)"/><ellipse cx="640" cy="470" rx="12" ry="8" fill="#e0d8c0" opacity="0.8" filter="url(#b1)"/><g filter="url(#b05)"><path d="M565.0,470.9 Q560.5,468.7 553.8,470.4" stroke="#e8eeff" stroke-width="0.5" fill="none" opacity="0.58"/><path d="M564.0,558.0 Q568.4,558.2 571.0,560.1" stroke="#e8eeff" stroke-width="0.5" fill="none" opacity="0.59"/><path d="M561.8,486.3 Q556.3,482.8 552.6,482.8" stroke="#c8d8f8" stroke-width="0.7" fill="none" opacity="0.62"/><path d="M552.1,543.6 Q545.2,542.9 536.6,544.1" stroke="#a8c0f0" stroke-width="0.9" fill="none" opacity="0.43"/><path d="M602.2,428.5 Q600.6,425.9 597.0,424.7" stroke="#a8c0f0" stroke-width="0.7" fill="none" opacity="0.47"/><path d="M584.5,441.5 Q580.6,438.7 575.4,435.4" stroke="#e8eeff" stroke-width="0.9" fill="none" opacity="0.46"/><path d="M597.6,431.3 Q596.5,426.6 596.8,424.0" stroke="#e8eeff" stroke-width="0.7" fill="none" opacity="0.70"/><path d="M568.8,461.1 Q566.2,459.3 561.1,455.2" stroke="#a8c0f0" stroke-width="0.5" fill="none" opacity="0.85"/><path d="M588.1,487.6 Q591.5,489.6 594.5,493.4" stroke="#e8eeff" stroke-width="0.9" fill="none" opacity="0.73"/><path d="M578.5,542.3 Q583.0,547.7 590.8,549.7" stroke="#a8c0f0" stroke-width="0.9" fill="none" opacity="0.49"/><path d="M597.8,430.7 Q597.8,426.1 599.3,424.2" stroke="#a8c0f0" stroke-width="0.7" fill="none" opacity="0.64"/><path d="M582.1,502.4 Q583.9,501.0 587.2,502.5" stroke="#c8d8f8" stroke-width="0.9" fill="none" opacity="0.75"/><path d="M557.3,529.3 Q552.6,524.7 546.2,519.4" stroke="#c8d8f8" stroke-width="1.0" fill="none" opacity="0.49"/><path d="M598.4,461.1 Q602.7,465.3 603.2,470.9" stroke="#e8eeff" stroke-width="1.1" fill="none" opacity="0.70"/><path d="M576.8,448.5 Q572.9,443.6 572.7,435.7" stroke="#e8eeff" stroke-width="0.6" fill="none" opacity="0.83"/><path d="M606.3,429.8 Q601.1,427.9 598.4,423.9" stroke="#a8c0f0" stroke-width="1.0" fill="none" opacity="0.44"/><path d="M596.8,461.6 Q601.0,465.2 601.2,469.4" stroke="#c8d8f8" stroke-width="1.1" fill="none" opacity="0.76"/><path d="M565.6,481.3 Q559.1,486.0 553.4,487.7" stroke="#e8eeff" stroke-width="0.7" fill="none" opacity="0.54"/><path d="M597.1,433.5 Q597.2,429.0 594.9,421.5" stroke="#c8d8f8" stroke-width="1.1" fill="none" opacity="0.52"/><path d="M564.0,558.0 Q558.4,561.3 555.7,564.8" stroke="#c8d8f8" stroke-width="0.5" fill="none" opacity="0.76"/><path d="M552.9,558.1 Q547.6,561.5 538.5,563.0" stroke="#a8c0f0" stroke-width="0.6" fill="none" opacity="0.80"/><path d="M603.6,454.3 Q609.2,457.4 613.8,464.2" stroke="#c8d8f8" stroke-width="0.7" fill="none" opacity="0.80"/><path d="M610.6,450.5 Q610.4,453.8 612.9,461.0" stroke="#c8d8f8" stroke-width="0.6" fill="none" opacity="0.84"/><path d="M590.3,435.5 Q586.8,428.0 580.9,424.5" stroke="#e8eeff" stroke-width="0.8" fill="none" opacity="0.81"/><path d="M587.4,438.9 Q586.5,435.5 583.6,429.4" stroke="#c8d8f8" stroke-width="0.6" fill="none" opacity="0.63"/><path d="M600.6,459.0 Q604.7,461.0 610.7,465.0" stroke="#a8c0f0" stroke-width="0.9" fill="none" opacity="0.55"/><path d="M560.6,508.4 Q557.1,504.4 550.1,504.1" stroke="#e8eeff" stroke-width="0.9" fill="none" opacity="0.76"/><path d="M596.3,461.1 Q600.7,462.1 604.6,463.3" stroke="#e8eeff" stroke-width="0.6" fill="none" opacity="0.79"/><path d="M556.2,537.2 Q552.2,537.7 550.0,536.1" stroke="#e8eeff" stroke-width="0.7" fill="none" opacity="0.80"/><path d="M570.3,460.8 Q564.9,457.0 560.8,453.0" stroke="#c8d8f8" stroke-width="1.0" fill="none" opacity="0.59"/><path d="M616.1,451.1 Q619.3,454.8 625.5,459.7" stroke="#e8eeff" stroke-width="0.8" fill="none" opacity="0.84"/><path d="M608.0,455.0 Q612.6,457.3 619.5,463.4" stroke="#a8c0f0" stroke-width="0.9" fill="none" opacity="0.64"/><path d="M599.1,457.6 Q599.2,461.4 600.3,468.4" stroke="#c8d8f8" stroke-width="0.9" fill="none" opacity="0.79"/><path d="M595.0,466.1 Q599.6,466.1 600.5,466.9" stroke="#e8eeff" stroke-width="1.0" fill="none" opacity="0.84"/><path d="M557.6,510.9 Q552.5,512.5 546.0,516.4" stroke="#a8c0f0" stroke-width="0.9" fill="none" opacity="0.83"/><path d="M602.4,431.5 Q606.3,423.5 606.3,416.3" stroke="#c8d8f8" stroke-width="0.9" fill="none" opacity="0.58"/><path d="M593.7,464.7 Q599.2,468.2 607.6,469.8" stroke="#a8c0f0" stroke-width="0.6" fill="none" opacity="0.60"/><path d="M554.1,563.0 Q551.6,563.2 548.0,563.7" stroke="#a8c0f0" stroke-width="0.8" fill="none" opacity="0.77"/><path d="M554.5,527.2 Q549.7,522.2 541.2,521.0" stroke="#e8eeff" stroke-width="0.6" fill="none" opacity="0.61"/><path d="M577.6,546.3 Q579.4,550.0 584.3,549.7" stroke="#a8c0f0" stroke-width="1.1" fill="none" opacity="0.79"/><path d="M570.0,458.1 Q563.6,454.2 558.9,448.7" stroke="#e8eeff" stroke-width="1.0" fill="none" opacity="0.69"/><path d="M566.4,475.1 Q560.6,478.2 554.9,480.7" stroke="#c8d8f8" stroke-width="0.9" fill="none" opacity="0.70"/><path d="M591.7,435.7 Q587.3,429.6 583.9,422.7" stroke="#a8c0f0" stroke-width="1.0" fill="none" opacity="0.69"/><path d="M606.5,453.2 Q608.6,459.8 611.4,467.3" stroke="#a8c0f0" stroke-width="0.5" fill="none" opacity="0.69"/><path d="M559.7,503.0 Q555.9,500.3 549.9,496.2" stroke="#c8d8f8" stroke-width="0.6" fill="none" opacity="0.48"/><path d="M551.2,552.8 Q543.7,551.1 538.2,546.9" stroke="#e8eeff" stroke-width="0.7" fill="none" opacity="0.83"/><path d="M569.6,463.7 Q562.7,460.2 558.5,456.1" stroke="#a8c0f0" stroke-width="0.9" fill="none" opacity="0.73"/><path d="M588.1,484.3 Q595.5,485.7 600.3,489.2" stroke="#e8eeff" stroke-width="0.6" fill="none" opacity="0.72"/><path d="M553.0,554.0 Q549.9,553.7 545.1,554.5" stroke="#e8eeff" stroke-width="1.0" fill="none" opacity="0.74"/><path d="M584.4,443.2 Q579.3,439.1 575.8,434.6" stroke="#c8d8f8" stroke-width="0.7" fill="none" opacity="0.71"/><path d="M596.9,462.8 Q601.2,464.9 603.7,466.8" stroke="#e8eeff" stroke-width="0.6" fill="none" opacity="0.57"/><path d="M588.2,474.7 Q593.5,472.8 594.9,474.7" stroke="#c8d8f8" stroke-width="1.0" fill="none" opacity="0.84"/><path d="M593.5,467.2 Q602.5,468.9 608.7,470.7" stroke="#e8eeff" stroke-width="0.7" fill="none" opacity="0.65"/><path d="M579.1,539.9 Q588.1,543.1 593.2,544.3" stroke="#a8c0f0" stroke-width="1.0" fill="none" opacity="0.56"/><path d="M569.2,458.9 Q566.7,456.5 560.5,457.0" stroke="#a8c0f0" stroke-width="0.6" fill="none" opacity="0.64"/><path d="M601.5,457.5 Q605.5,461.1 607.1,463.9" stroke="#a8c0f0" stroke-width="0.7" fill="none" opacity="0.72"/><path d="M578.4,535.6 Q583.1,538.9 588.4,538.6" stroke="#c8d8f8" stroke-width="0.5" fill="none" opacity="0.60"/><path d="M564.0,558.0 Q569.5,554.6 571.3,552.9" stroke="#e8eeff" stroke-width="1.1" fill="none" opacity="0.73"/><path d="M552.7,546.0 Q545.8,547.0 540.4,546.4" stroke="#e8eeff" stroke-width="0.7" fill="none" opacity="0.66"/><path d="M557.2,518.5 Q555.1,519.7 552.2,519.1" stroke="#e8eeff" stroke-width="0.9" fill="none" opacity="0.75"/></g><g filter="url(#b05)"><circle cx="599.2" cy="436.7" r="1.3" fill="#c0d0f0" opacity="0.60"/><circle cx="544.0" cy="616.8" r="0.8" fill="#ffffff" opacity="0.51"/><circle cx="549.8" cy="613.7" r="0.7" fill="#e8f0ff" opacity="0.79"/><circle cx="549.0" cy="608.2" r="1.0" fill="#e8f0ff" opacity="0.57"/><circle cx="579.3" cy="480.1" r="0.8" fill="#e8f0ff" opacity="0.94"/><circle cx="573.7" cy="518.1" r="0.8" fill="#e8f0ff" opacity="0.99"/><circle cx="570.3" cy="557.1" r="0.7" fill="#e8f0ff" opacity="0.51"/><circle cx="572.3" cy="548.1" r="1.3" fill="#ffffff" opacity="0.58"/><circle cx="552.9" cy="619.2" r="0.9" fill="#e8f0ff" opacity="0.51"/><circle cx="549.1" cy="605.2" r="0.7" fill="#ffffff" opacity="0.59"/><circle cx="557.6" cy="549.6" r="1.6" fill="#ffffff" opacity="0.94"/><circle cx="557.4" cy="615.8" r="0.8" fill="#e8f0ff" opacity="0.85"/><circle cx="556.4" cy="597.7" r="1.4" fill="#e8f0ff" opacity="0.52"/><circle cx="618.4" cy="435.7" r="1.4" fill="#ffffff" opacity="0.90"/><circle cx="581.0" cy="470.7" r="1.3" fill="#c0d0f0" opacity="0.76"/><circle cx="558.3" cy="610.4" r="0.8" fill="#c0d0f0" opacity="0.96"/><circle cx="544.7" cy="618.8" r="1.4" fill="#e8f0ff" opacity="0.97"/><circle cx="558.5" cy="556.0" r="1.0" fill="#ffffff" opacity="0.98"/><circle cx="571.8" cy="521.3" r="1.0" fill="#e8f0ff" opacity="0.91"/><circle cx="549.3" cy="603.4" r="1.2" fill="#c0d0f0" opacity="0.55"/><circle cx="560.9" cy="564.6" r="1.2" fill="#c0d0f0" opacity="0.76"/><circle cx="556.5" cy="577.7" r="0.9" fill="#e8f0ff" opacity="0.88"/><circle cx="585.2" cy="467.0" r="1.0" fill="#ffffff" opacity="0.75"/><circle cx="575.3" cy="519.9" r="1.2" fill="#e8f0ff" opacity="0.75"/><circle cx="560.7" cy="577.0" r="1.3" fill="#c0d0f0" opacity="0.92"/><circle cx="593.0" cy="452.7" r="1.2" fill="#c0d0f0" opacity="0.77"/><circle cx="563.1" cy="560.0" r="0.6" fill="#e8f0ff" opacity="0.69"/><circle cx="578.3" cy="478.3" r="1.4" fill="#e8f0ff" opacity="0.87"/><circle cx="572.3" cy="518.1" r="1.3" fill="#ffffff" opacity="0.96"/><circle cx="595.8" cy="445.1" r="0.8" fill="#e8f0ff" opacity="0.54"/><circle cx="578.5" cy="456.9" r="1.2" fill="#ffffff" opacity="0.96"/><circle cx="588.8" cy="454.7" r="0.9" fill="#ffffff" opacity="0.83"/><circle cx="558.8" cy="602.1" r="1.6" fill="#ffffff" opacity="0.69"/><circle cx="554.3" cy="597.7" r="1.2" fill="#c0d0f0" opacity="0.83"/><circle cx="562.7" cy="600.9" r="1.3" fill="#c0d0f0" opacity="0.65"/><circle cx="558.7" cy="610.6" r="0.9" fill="#c0d0f0" opacity="0.51"/><circle cx="553.7" cy="595.0" r="1.5" fill="#e8f0ff" opacity="0.63"/><circle cx="610.6" cy="433.5" r="1.3" fill="#e8f0ff" opacity="0.56"/><circle cx="564.4" cy="573.0" r="0.7" fill="#e8f0ff" opacity="0.53"/><circle cx="563.0" cy="536.8" r="0.9" fill="#c0d0f0" opacity="0.86"/><circle cx="557.2" cy="569.5" r="0.9" fill="#c0d0f0" opacity="0.63"/><circle cx="567.4" cy="585.2" r="1.5" fill="#ffffff" opacity="0.78"/><circle cx="571.6" cy="522.2" r="0.6" fill="#e8f0ff" opacity="0.55"/><circle cx="590.5" cy="460.4" r="0.7" fill="#c0d0f0" opacity="0.90"/><circle cx="577.3" cy="463.7" r="1.3" fill="#e8f0ff" opacity="0.80"/><circle cx="606.0" cy="433.4" r="1.6" fill="#ffffff" opacity="0.86"/><circle cx="600.9" cy="435.4" r="0.9" fill="#e8f0ff" opacity="0.96"/><circle cx="566.9" cy="481.0" r="0.7" fill="#e8f0ff" opacity="0.58"/><circle cx="574.3" cy="469.0" r="1.2" fill="#e8f0ff" opacity="0.83"/><circle cx="577.9" cy="503.8" r="1.4" fill="#c0d0f0" opacity="0.76"/><circle cx="570.9" cy="538.7" r="0.9" fill="#ffffff" opacity="0.84"/><circle cx="571.5" cy="494.4" r="1.3" fill="#c0d0f0" opacity="0.97"/><circle cx="584.5" cy="484.9" r="1.3" fill="#ffffff" opacity="0.69"/><circle cx="572.3" cy="539.0" r="1.2" fill="#ffffff" opacity="0.88"/><circle cx="607.2" cy="438.4" r="1.2" fill="#e8f0ff" opacity="0.97"/><circle cx="557.8" cy="563.4" r="1.0" fill="#c0d0f0" opacity="0.62"/><circle cx="564.9" cy="511.6" r="1.6" fill="#e8f0ff" opacity="0.74"/><circle cx="558.9" cy="613.8" r="1.0" fill="#ffffff" opacity="0.64"/><circle cx="566.5" cy="580.9" r="1.6" fill="#ffffff" opacity="0.68"/><circle cx="607.4" cy="440.9" r="0.6" fill="#e8f0ff" opacity="0.86"/><circle cx="573.5" cy="520.2" r="0.7" fill="#c0d0f0" opacity="0.68"/><circle cx="544.7" cy="621.7" r="1.1" fill="#e8f0ff" opacity="0.72"/><circle cx="568.8" cy="487.9" r="1.3" fill="#ffffff" opacity="0.86"/><circle cx="586.3" cy="465.1" r="1.2" fill="#c0d0f0" opacity="0.83"/><circle cx="560.5" cy="554.7" r="1.5" fill="#e8f0ff" opacity="0.69"/><circle cx="578.8" cy="475.7" r="0.7" fill="#c0d0f0" opacity="0.73"/><circle cx="559.1" cy="600.1" r="1.2" fill="#ffffff" opacity="0.60"/><circle cx="573.2" cy="473.7" r="1.0" fill="#c0d0f0" opacity="0.72"/><circle cx="544.7" cy="619.4" r="1.0" fill="#c0d0f0" opacity="0.59"/><circle cx="550.8" cy="614.5" r="0.8" fill="#e8f0ff" opacity="0.79"/><circle cx="561.0" cy="595.1" r="1.1" fill="#c0d0f0" opacity="0.57"/><circle cx="545.5" cy="614.3" r="1.4" fill="#c0d0f0" opacity="0.87"/><circle cx="558.5" cy="605.5" r="0.7" fill="#ffffff" opacity="0.50"/><circle cx="560.1" cy="597.5" r="0.7" fill="#e8f0ff" opacity="0.60"/><circle cx="598.8" cy="447.2" r="0.7" fill="#c0d0f0" opacity="0.95"/><circle cx="571.4" cy="537.2" r="0.9" fill="#ffffff" opacity="0.64"/><circle cx="601.3" cy="440.2" r="1.5" fill="#ffffff" opacity="0.71"/><circle cx="573.0" cy="524.7" r="1.2" fill="#c0d0f0" opacity="0.73"/><circle cx="549.2" cy="631.0" r="0.8" fill="#ffffff" opacity="0.83"/><circle cx="596.1" cy="447.0" r="0.6" fill="#e8f0ff" opacity="0.74"/><circle cx="570.7" cy="512.4" r="1.3" fill="#e8f0ff" opacity="0.97"/><circle cx="559.9" cy="538.1" r="0.6" fill="#e8f0ff" opacity="0.97"/><circle cx="563.2" cy="541.6" r="0.7" fill="#e8f0ff" opacity="0.53"/><circle cx="589.7" cy="441.2" r="1.5" fill="#ffffff" opacity="1.00"/><circle cx="563.9" cy="584.6" r="1.2" fill="#e8f0ff" opacity="0.86"/><circle cx="553.9" cy="610.7" r="1.6" fill="#e8f0ff" opacity="0.51"/><circle cx="546.3" cy="602.4" r="1.0" fill="#e8f0ff" opacity="0.60"/><circle cx="589.7" cy="465.4" r="0.6" fill="#e8f0ff" opacity="0.95"/><circle cx="602.2" cy="433.6" r="0.9" fill="#e8f0ff" opacity="0.67"/><circle cx="580.2" cy="457.8" r="1.1" fill="#ffffff" opacity="0.67"/><circle cx="616.5" cy="446.7" r="1.2" fill="#c0d0f0" opacity="0.79"/><circle cx="571.0" cy="478.5" r="1.0" fill="#ffffff" opacity="0.85"/><circle cx="578.3" cy="461.0" r="1.4" fill="#e8f0ff" opacity="0.70"/><circle cx="581.0" cy="479.3" r="0.9" fill="#ffffff" opacity="0.74"/><circle cx="586.0" cy="469.8" r="1.3" fill="#c0d0f0" opacity="0.96"/><circle cx="552.8" cy="601.5" r="1.4" fill="#ffffff" opacity="0.62"/><circle cx="586.8" cy="455.2" r="1.4" fill="#ffffff" opacity="0.93"/><circle cx="613.6" cy="429.5" r="0.9" fill="#c0d0f0" opacity="0.54"/><circle cx="559.4" cy="534.4" r="1.1" fill="#e8f0ff" opacity="0.89"/><circle cx="598.2" cy="442.4" r="0.7" fill="#c0d0f0" opacity="0.96"/><circle cx="597.8" cy="457.7" r="0.6" fill="#c0d0f0" opacity="0.62"/><circle cx="605.9" cy="434.3" r="1.2" fill="#ffffff" opacity="0.74"/><circle cx="586.0" cy="447.7" r="1.3" fill="#e8f0ff" opacity="0.64"/><circle cx="555.8" cy="556.5" r="1.0" fill="#c0d0f0" opacity="0.50"/><circle cx="594.7" cy="451.6" r="1.5" fill="#c0d0f0" opacity="0.99"/><circle cx="569.3" cy="571.3" r="0.8" fill="#e8f0ff" opacity="0.88"/><circle cx="588.6" cy="465.7" r="1.2" fill="#c0d0f0" opacity="0.71"/><circle cx="563.0" cy="560.2" r="1.4" fill="#c0d0f0" opacity="0.62"/><circle cx="609.5" cy="429.9" r="0.9" fill="#ffffff" opacity="0.53"/><circle cx="595.2" cy="441.8" r="0.7" fill="#e8f0ff" opacity="0.54"/><circle cx="566.2" cy="575.0" r="1.6" fill="#c0d0f0" opacity="0.54"/><circle cx="567.2" cy="531.5" r="1.3" fill="#c0d0f0" opacity="0.84"/><circle cx="597.0" cy="437.9" r="0.9" fill="#e8f0ff" opacity="0.87"/><circle cx="566.3" cy="515.1" r="1.1" fill="#c0d0f0" opacity="1.00"/><circle cx="588.4" cy="458.6" r="1.3" fill="#e8f0ff" opacity="0.73"/><circle cx="566.7" cy="514.9" r="1.5" fill="#e8f0ff" opacity="0.73"/><circle cx="550.9" cy="608.6" r="1.3" fill="#e8f0ff" opacity="0.71"/><circle cx="618.5" cy="432.3" r="1.0" fill="#c0d0f0" opacity="0.57"/><circle cx="584.1" cy="483.4" r="1.3" fill="#ffffff" opacity="0.58"/><circle cx="553.7" cy="619.3" r="1.0" fill="#ffffff" opacity="0.64"/><circle cx="594.0" cy="455.3" r="0.9" fill="#c0d0f0" opacity="0.64"/><circle cx="579.3" cy="455.2" r="1.0" fill="#ffffff" opacity="0.74"/><circle cx="573.1" cy="561.6" r="0.7" fill="#e8f0ff" opacity="0.85"/><circle cx="564.2" cy="550.0" r="1.5" fill="#ffffff" opacity="0.71"/><circle cx="622.7" cy="435.9" r="0.9" fill="#e8f0ff" opacity="0.84"/><circle cx="566.2" cy="493.7" r="1.1" fill="#e8f0ff" opacity="0.86"/><circle cx="557.6" cy="585.7" r="1.2" fill="#e8f0ff" opacity="0.53"/><circle cx="568.0" cy="506.4" r="1.5" fill="#c0d0f0" opacity="0.62"/><circle cx="562.7" cy="597.1" r="1.5" fill="#e8f0ff" opacity="0.89"/><circle cx="562.2" cy="539.9" r="1.3" fill="#ffffff" opacity="0.98"/><circle cx="552.9" cy="578.4" r="0.8" fill="#c0d0f0" opacity="0.80"/><circle cx="561.2" cy="585.9" r="1.1" fill="#ffffff" opacity="0.66"/><circle cx="562.6" cy="609.7" r="1.2" fill="#ffffff" opacity="0.76"/><circle cx="563.2" cy="501.3" r="1.6" fill="#e8f0ff" opacity="0.53"/><circle cx="576.0" cy="477.8" r="0.9" fill="#ffffff" opacity="0.68"/><circle cx="564.8" cy="584.2" r="1.2" fill="#e8f0ff" opacity="0.68"/><circle cx="561.1" cy="550.0" r="0.9" fill="#e8f0ff" opacity="0.74"/><circle cx="571.2" cy="470.5" r="1.4" fill="#c0d0f0" opacity="0.59"/><circle cx="550.4" cy="611.6" r="1.3" fill="#c0d0f0" opacity="0.94"/><circle cx="569.7" cy="518.8" r="1.4" fill="#e8f0ff" opacity="0.85"/><circle cx="562.0" cy="599.0" r="0.7" fill="#ffffff" opacity="0.51"/><circle cx="564.2" cy="555.2" r="1.1" fill="#ffffff" opacity="0.72"/><circle cx="567.2" cy="483.9" r="1.4" fill="#ffffff" opacity="0.97"/><circle cx="569.3" cy="515.2" r="1.1" fill="#ffffff" opacity="0.79"/><circle cx="580.4" cy="474.0" r="1.5" fill="#c0d0f0" opacity="0.74"/><circle cx="590.1" cy="456.5" r="1.2" fill="#c0d0f0" opacity="0.72"/><circle cx="572.5" cy="478.5" r="1.4" fill="#ffffff" opacity="0.82"/><circle cx="570.1" cy="472.0" r="1.5" fill="#ffffff" opacity="0.86"/><circle cx="564.2" cy="570.5" r="0.7" fill="#ffffff" opacity="0.55"/><circle cx="596.0" cy="448.7" r="1.4" fill="#e8f0ff" opacity="0.67"/><circle cx="571.4" cy="496.8" r="1.0" fill="#ffffff" opacity="0.76"/><circle cx="566.1" cy="549.9" r="1.1" fill="#ffffff" opacity="0.91"/><circle cx="576.1" cy="510.1" r="1.5" fill="#ffffff" opacity="0.62"/><circle cx="563.4" cy="556.6" r="1.2" fill="#c0d0f0" opacity="0.61"/><circle cx="618.1" cy="441.7" r="1.5" fill="#ffffff" opacity="0.75"/><circle cx="570.9" cy="480.2" r="1.0" fill="#c0d0f0" opacity="0.88"/><circle cx="577.7" cy="516.6" r="1.0" fill="#ffffff" opacity="0.52"/><circle cx="570.6" cy="542.1" r="1.1" fill="#e8f0ff" opacity="0.85"/><circle cx="571.2" cy="536.2" r="1.4" fill="#e8f0ff" opacity="0.61"/><circle cx="575.5" cy="528.5" r="1.2" fill="#e8f0ff" opacity="0.78"/></g><rect x="674.7" y="579.3" width="8.0" height="33.5" fill="#fff"/><text x="693" y="320.2" font-size="21" fill="#fff" text-anchor="end" textLength="78.7" lengthAdjust="spacingAndGlyphs">10 days</text><text x="693" y="346" font-size="21" fill="#fff" text-anchor="end" textLength="46" lengthAdjust="spacingAndGlyphs">3/20</text><text transform="translate(535,527) rotate(-90)" x="0" y="0" font-size="25" fill="#fff" text-anchor="middle" textLength="104.3" lengthAdjust="spacingAndGlyphs" style="font-style:italic">wox13,14</text></g><g clip-path="url(#cp6)"><rect x="1446" y="20.6" width="204.5" height="253.79999999999998" fill="url(#bgF)"/><path d="M1440.0,15.0 C1475.8,11.7 1619.2,7.5 1655.0,15.0 C1690.8,22.5 1659.2,49.5 1655.0,60.0 C1650.8,70.5 1637.8,70.5 1630.0,78.0 C1622.2,85.5 1614.7,96.9 1608.0,104.7 C1601.3,112.5 1595.3,117.5 1590.0,125.0 C1584.7,132.6 1581.0,144.2 1576.0,150.0 C1571.0,155.8 1567.7,158.3 1560.0,160.0 C1552.3,161.7 1537.0,161.7 1530.0,160.0 C1523.0,158.3 1520.8,155.3 1518.0,150.0 C1515.2,144.7 1515.8,136.5 1513.0,128.0 C1510.2,119.5 1506.5,109.3 1501.0,99.0 C1495.5,88.7 1486.8,75.0 1480.0,66.0 C1473.2,57.0 1466.7,50.2 1460.0,45.0 C1453.3,39.8 1443.3,40.0 1440.0,35.0 C1436.7,30.0 1404.2,18.3 1440.0,15.0 Z" fill="#18104e" filter="url(#b4)"/><ellipse cx="1490" cy="40" rx="45" ry="25" fill="#3a2c78" opacity="0.6" filter="url(#b8)"/><ellipse cx="1625" cy="110" rx="30" ry="35" fill="#3a2c78" opacity="0.55" filter="url(#b8)"/><circle cx="1522" cy="33" r="5" fill="#6a70c0" opacity="0.8" filter="url(#b1)"/><ellipse cx="1535" cy="192" rx="45" ry="37" fill="#d4d4c4" filter="url(#b2)"/><g filter="url(#b1)"><circle cx="1517.9" cy="191.0" r="2.6" fill="#b0b0a0" opacity="0.62"/><circle cx="1548.5" cy="223.4" r="3.2" fill="#ffffff" opacity="0.63"/><circle cx="1567.7" cy="196.9" r="4.0" fill="#b0b0a0" opacity="0.85"/><circle cx="1539.0" cy="203.3" r="3.2" fill="#e8e8d8" opacity="0.83"/><circle cx="1548.5" cy="180.8" r="3.7" fill="#ffffff" opacity="0.63"/><circle cx="1527.7" cy="176.9" r="3.8" fill="#c0c0a8" opacity="0.66"/><circle cx="1566.9" cy="201.3" r="3.7" fill="#c0c0a8" opacity="0.60"/><circle cx="1539.7" cy="192.6" r="4.5" fill="#c0c0a8" opacity="0.59"/><circle cx="1560.2" cy="184.8" r="3.0" fill="#e0e0d0" opacity="0.77"/><circle cx="1550.2" cy="213.2" r="3.7" fill="#c0c0a8" opacity="0.86"/><circle cx="1514.4" cy="162.5" r="2.2" fill="#e8e8d8" opacity="0.90"/><circle cx="1555.2" cy="169.9" r="4.6" fill="#c0c0a8" opacity="0.92"/><circle cx="1526.3" cy="212.5" r="3.7" fill="#f4f4e8" opacity="0.54"/><circle cx="1511.8" cy="212.8" r="4.9" fill="#ffffff" opacity="0.89"/><circle cx="1559.5" cy="202.5" r="2.1" fill="#e8e8d8" opacity="0.90"/><circle cx="1528.0" cy="209.1" r="4.8" fill="#f4f4e8" opacity="0.55"/><circle cx="1507.7" cy="166.0" r="4.4" fill="#e0e0d0" opacity="0.58"/><circle cx="1562.7" cy="211.4" r="3.4" fill="#b0b0a0" opacity="0.81"/><circle cx="1534.1" cy="197.2" r="3.7" fill="#e8e8d8" opacity="0.83"/><circle cx="1541.2" cy="199.4" r="4.0" fill="#e8e8d8" opacity="0.52"/><circle cx="1508.4" cy="201.9" r="2.5" fill="#e8e8d8" opacity="0.76"/><circle cx="1545.3" cy="194.4" r="4.3" fill="#c0c0a8" opacity="0.82"/><circle cx="1531.3" cy="176.5" r="2.8" fill="#ffffff" opacity="0.62"/><circle cx="1549.4" cy="179.7" r="3.3" fill="#e8e8d8" opacity="0.95"/><circle cx="1565.9" cy="199.2" r="4.6" fill="#b0b0a0" opacity="0.93"/><circle cx="1514.5" cy="193.2" r="4.5" fill="#e8e8d8" opacity="0.63"/><circle cx="1557.0" cy="203.2" r="4.5" fill="#b0b0a0" opacity="0.57"/><circle cx="1520.8" cy="174.0" r="3.7" fill="#f4f4e8" opacity="0.64"/><circle cx="1517.5" cy="174.8" r="3.7" fill="#c0c0a8" opacity="0.71"/><circle cx="1521.7" cy="207.6" r="4.4" fill="#e0e0d0" opacity="0.80"/><circle cx="1499.9" cy="210.9" r="2.3" fill="#c0c0a8" opacity="0.90"/><circle cx="1522.3" cy="210.3" r="3.4" fill="#b0b0a0" opacity="0.89"/><circle cx="1539.5" cy="198.2" r="3.5" fill="#ffffff" opacity="0.57"/><circle cx="1516.5" cy="215.5" r="4.2" fill="#b0b0a0" opacity="0.56"/><circle cx="1542.8" cy="177.4" r="4.1" fill="#e8e8d8" opacity="0.87"/><circle cx="1566.1" cy="168.2" r="3.6" fill="#b0b0a0" opacity="0.55"/><circle cx="1576.3" cy="192.9" r="4.0" fill="#f4f4e8" opacity="0.83"/><circle cx="1519.7" cy="163.4" r="3.5" fill="#c0c0a8" opacity="0.83"/><circle cx="1544.2" cy="167.1" r="3.2" fill="#ffffff" opacity="0.87"/><circle cx="1539.9" cy="212.4" r="3.2" fill="#e8e8d8" opacity="0.60"/><circle cx="1524.6" cy="181.1" r="4.1" fill="#f4f4e8" opacity="0.82"/><circle cx="1568.0" cy="170.5" r="4.4" fill="#e0e0d0" opacity="0.56"/><circle cx="1572.5" cy="207.0" r="2.7" fill="#e0e0d0" opacity="0.64"/><circle cx="1543.7" cy="219.2" r="4.9" fill="#f4f4e8" opacity="0.51"/><circle cx="1549.6" cy="194.4" r="2.6" fill="#ffffff" opacity="0.53"/><circle cx="1534.1" cy="226.3" r="3.3" fill="#c0c0a8" opacity="0.80"/><circle cx="1568.0" cy="193.8" r="3.0" fill="#c0c0a8" opacity="0.59"/><circle cx="1505.4" cy="203.7" r="3.4" fill="#b0b0a0" opacity="0.77"/><circle cx="1516.8" cy="160.6" r="3.5" fill="#c0c0a8" opacity="0.51"/><circle cx="1522.9" cy="160.9" r="3.2" fill="#b0b0a0" opacity="0.85"/><circle cx="1506.0" cy="204.6" r="4.6" fill="#ffffff" opacity="0.72"/><circle cx="1543.3" cy="193.2" r="3.5" fill="#e8e8d8" opacity="0.71"/><circle cx="1523.1" cy="189.3" r="4.2" fill="#ffffff" opacity="0.78"/><circle cx="1556.9" cy="204.1" r="3.0" fill="#b0b0a0" opacity="0.94"/><circle cx="1558.2" cy="196.2" r="4.3" fill="#e0e0d0" opacity="0.60"/><circle cx="1531.3" cy="193.9" r="2.4" fill="#ffffff" opacity="0.85"/><circle cx="1561.2" cy="182.8" r="3.5" fill="#e0e0d0" opacity="0.62"/><circle cx="1499.9" cy="179.5" r="3.6" fill="#ffffff" opacity="0.52"/><circle cx="1504.3" cy="176.9" r="3.5" fill="#e0e0d0" opacity="0.63"/><circle cx="1547.0" cy="208.2" r="3.0" fill="#e8e8d8" opacity="0.81"/><circle cx="1546.6" cy="190.1" r="3.4" fill="#f4f4e8" opacity="0.50"/><circle cx="1541.2" cy="160.8" r="4.7" fill="#e0e0d0" opacity="0.52"/><circle cx="1545.2" cy="210.7" r="4.0" fill="#e0e0d0" opacity="0.60"/><circle cx="1501.4" cy="202.0" r="4.7" fill="#e8e8d8" opacity="0.57"/><circle cx="1563.6" cy="217.6" r="3.8" fill="#e8e8d8" opacity="0.70"/><circle cx="1511.1" cy="213.8" r="2.1" fill="#b0b0a0" opacity="0.90"/><circle cx="1513.7" cy="211.1" r="3.3" fill="#e8e8d8" opacity="0.63"/><circle cx="1509.0" cy="184.0" r="2.2" fill="#c0c0a8" opacity="0.90"/><circle cx="1520.0" cy="171.2" r="3.5" fill="#f4f4e8" opacity="0.91"/><circle cx="1545.6" cy="183.4" r="2.5" fill="#b0b0a0" opacity="0.58"/><circle cx="1546.5" cy="219.0" r="3.6" fill="#b0b0a0" opacity="0.62"/><circle cx="1569.7" cy="204.7" r="2.6" fill="#e0e0d0" opacity="0.55"/><circle cx="1553.6" cy="195.9" r="2.9" fill="#ffffff" opacity="0.82"/><circle cx="1545.4" cy="192.6" r="4.4" fill="#e8e8d8" opacity="0.74"/><circle cx="1531.9" cy="217.5" r="2.9" fill="#f4f4e8" opacity="0.64"/><circle cx="1536.2" cy="216.3" r="2.6" fill="#ffffff" opacity="0.71"/><circle cx="1521.7" cy="193.5" r="3.2" fill="#ffffff" opacity="0.78"/><circle cx="1542.2" cy="184.7" r="4.0" fill="#b0b0a0" opacity="0.57"/><circle cx="1537.0" cy="167.8" r="5.0" fill="#e8e8d8" opacity="0.75"/><circle cx="1535.7" cy="222.5" r="4.5" fill="#c0c0a8" opacity="0.92"/><circle cx="1547.8" cy="172.2" r="4.3" fill="#e8e8d8" opacity="0.89"/><circle cx="1536.4" cy="186.3" r="4.0" fill="#c0c0a8" opacity="0.68"/><circle cx="1503.8" cy="171.7" r="4.2" fill="#f4f4e8" opacity="0.72"/><circle cx="1564.0" cy="184.2" r="3.2" fill="#ffffff" opacity="0.57"/><circle cx="1516.4" cy="181.0" r="4.3" fill="#e0e0d0" opacity="0.77"/><circle cx="1507.2" cy="205.1" r="4.1" fill="#f4f4e8" opacity="0.85"/><circle cx="1556.8" cy="196.6" r="2.8" fill="#ffffff" opacity="0.86"/><circle cx="1555.4" cy="182.4" r="3.6" fill="#c0c0a8" opacity="0.91"/><circle cx="1553.0" cy="173.0" r="3.5" fill="#ffffff" opacity="0.77"/><circle cx="1502.2" cy="181.3" r="3.8" fill="#b0b0a0" opacity="0.56"/><circle cx="1516.5" cy="217.0" r="4.9" fill="#b0b0a0" opacity="0.73"/><circle cx="1520.5" cy="179.0" r="2.8" fill="#c0c0a8" opacity="0.89"/><circle cx="1518.1" cy="182.6" r="4.8" fill="#c0c0a8" opacity="0.91"/><circle cx="1511.9" cy="183.6" r="2.9" fill="#c0c0a8" opacity="0.73"/><circle cx="1516.3" cy="201.5" r="3.3" fill="#ffffff" opacity="0.58"/><circle cx="1506.2" cy="171.7" r="4.4" fill="#ffffff" opacity="0.63"/><circle cx="1525.1" cy="172.5" r="3.6" fill="#c0c0a8" opacity="0.59"/><circle cx="1505.0" cy="197.9" r="2.4" fill="#ffffff" opacity="0.89"/><circle cx="1522.5" cy="179.8" r="4.4" fill="#c0c0a8" opacity="0.58"/><circle cx="1516.9" cy="172.2" r="2.7" fill="#e0e0d0" opacity="0.82"/><circle cx="1561.4" cy="182.2" r="3.0" fill="#c0c0a8" opacity="0.77"/><circle cx="1534.3" cy="226.6" r="4.4" fill="#e0e0d0" opacity="0.50"/><circle cx="1550.5" cy="223.5" r="4.8" fill="#e0e0d0" opacity="0.92"/><circle cx="1498.2" cy="182.0" r="3.5" fill="#e0e0d0" opacity="0.59"/><circle cx="1561.5" cy="199.2" r="4.9" fill="#b0b0a0" opacity="0.55"/><circle cx="1512.9" cy="199.6" r="2.4" fill="#e8e8d8" opacity="0.66"/><circle cx="1538.2" cy="184.2" r="4.5" fill="#c0c0a8" opacity="0.55"/><circle cx="1520.1" cy="189.2" r="2.3" fill="#ffffff" opacity="0.81"/><circle cx="1546.3" cy="223.9" r="3.7" fill="#e8e8d8" opacity="0.55"/><circle cx="1570.9" cy="187.7" r="2.9" fill="#f4f4e8" opacity="0.60"/></g><g filter="url(#b1)"><circle cx="1502.8" cy="167.7" r="4.8" fill="#e0e4f0" opacity="0.64"/><circle cx="1538.4" cy="224.6" r="5.8" fill="#c8d0e0" opacity="0.57"/><circle cx="1576.4" cy="184.7" r="5.6" fill="#c8d0e0" opacity="0.88"/><circle cx="1572.8" cy="212.0" r="6.9" fill="#b0b8d0" opacity="0.82"/><circle cx="1564.3" cy="216.0" r="5.2" fill="#c8d0e0" opacity="0.68"/><circle cx="1555.7" cy="221.0" r="4.7" fill="#c8d0e0" opacity="0.50"/><circle cx="1514.7" cy="161.1" r="6.6" fill="#b0b8d0" opacity="0.68"/><circle cx="1540.1" cy="229.3" r="5.2" fill="#b0b8d0" opacity="0.68"/><circle cx="1532.1" cy="157.2" r="5.8" fill="#b0b8d0" opacity="0.51"/><circle cx="1538.9" cy="158.4" r="6.0" fill="#b0b8d0" opacity="0.82"/><circle cx="1493.6" cy="186.8" r="5.5" fill="#e0e4f0" opacity="0.66"/><circle cx="1496.6" cy="204.0" r="4.4" fill="#c8d0e0" opacity="0.74"/><circle cx="1521.7" cy="159.0" r="6.4" fill="#c8d0e0" opacity="0.59"/><circle cx="1509.9" cy="219.2" r="6.1" fill="#c8d0e0" opacity="0.65"/><circle cx="1568.5" cy="165.4" r="6.1" fill="#e0e4f0" opacity="0.60"/><circle cx="1521.1" cy="158.7" r="6.4" fill="#b0b8d0" opacity="0.73"/><circle cx="1509.8" cy="217.2" r="5.3" fill="#b0b8d0" opacity="0.86"/><circle cx="1570.1" cy="210.2" r="4.7" fill="#b0b8d0" opacity="0.86"/><circle cx="1532.5" cy="225.4" r="4.7" fill="#e0e4f0" opacity="0.76"/><circle cx="1498.1" cy="170.2" r="6.5" fill="#b0b8d0" opacity="0.65"/><circle cx="1537.7" cy="159.0" r="6.7" fill="#c8d0e0" opacity="0.75"/><circle cx="1495.9" cy="180.9" r="5.6" fill="#b0b8d0" opacity="0.68"/><circle cx="1522.7" cy="228.3" r="4.8" fill="#c8d0e0" opacity="0.59"/><circle cx="1518.6" cy="225.0" r="4.7" fill="#c8d0e0" opacity="0.75"/><circle cx="1494.4" cy="175.6" r="6.6" fill="#e0e4f0" opacity="0.57"/><circle cx="1490.7" cy="180.7" r="6.7" fill="#c8d0e0" opacity="0.51"/><circle cx="1577.6" cy="183.3" r="4.2" fill="#c8d0e0" opacity="0.61"/><circle cx="1544.0" cy="157.1" r="6.3" fill="#e0e4f0" opacity="0.80"/><circle cx="1528.2" cy="159.0" r="6.8" fill="#c8d0e0" opacity="0.81"/><circle cx="1516.4" cy="221.9" r="4.8" fill="#c8d0e0" opacity="0.70"/></g><g filter="url(#b05)"><circle cx="1557.3" cy="177.8" r="1.0" fill="#f8f8ff" opacity="0.66"/><circle cx="1563.2" cy="217.4" r="1.8" fill="#f8f8ff" opacity="0.78"/><circle cx="1498.6" cy="200.7" r="1.7" fill="#ffffff" opacity="0.86"/><circle cx="1535.3" cy="182.4" r="1.3" fill="#ffffff" opacity="0.71"/><circle cx="1504.0" cy="187.3" r="1.7" fill="#f8f8ff" opacity="0.96"/><circle cx="1499.6" cy="198.2" r="1.4" fill="#f8f8ff" opacity="0.90"/><circle cx="1506.6" cy="188.5" r="1.4" fill="#f8f8ff" opacity="0.65"/><circle cx="1546.9" cy="194.3" r="2.0" fill="#f8f8ff" opacity="0.65"/><circle cx="1557.9" cy="179.0" r="1.2" fill="#ffffff" opacity="0.73"/><circle cx="1536.8" cy="196.4" r="1.3" fill="#ffffff" opacity="0.78"/><circle cx="1502.0" cy="174.7" r="1.0" fill="#f8f8ff" opacity="0.76"/><circle cx="1561.7" cy="219.4" r="1.9" fill="#f8f8ff" opacity="0.79"/><circle cx="1505.0" cy="197.3" r="1.9" fill="#f8f8ff" opacity="0.65"/><circle cx="1556.6" cy="187.4" r="1.0" fill="#ffffff" opacity="0.72"/><circle cx="1564.0" cy="200.3" r="1.3" fill="#f8f8ff" opacity="0.63"/><circle cx="1523.9" cy="224.3" r="1.5" fill="#ffffff" opacity="0.97"/><circle cx="1556.1" cy="173.2" r="1.2" fill="#ffffff" opacity="0.72"/><circle cx="1530.3" cy="191.8" r="0.9" fill="#f8f8ff" opacity="0.62"/><circle cx="1499.3" cy="190.2" r="1.2" fill="#f8f8ff" opacity="0.76"/><circle cx="1544.2" cy="168.1" r="1.5" fill="#f8f8ff" opacity="0.75"/><circle cx="1545.9" cy="165.1" r="1.9" fill="#f8f8ff" opacity="0.77"/><circle cx="1498.4" cy="189.4" r="1.5" fill="#ffffff" opacity="1.00"/><circle cx="1558.3" cy="219.6" r="1.2" fill="#f8f8ff" opacity="0.89"/><circle cx="1523.7" cy="181.5" r="1.7" fill="#ffffff" opacity="0.64"/><circle cx="1513.9" cy="207.5" r="0.9" fill="#f8f8ff" opacity="0.60"/><circle cx="1554.5" cy="209.7" r="1.0" fill="#ffffff" opacity="0.77"/><circle cx="1494.3" cy="176.7" r="1.1" fill="#ffffff" opacity="0.67"/><circle cx="1572.3" cy="199.4" r="1.7" fill="#ffffff" opacity="0.79"/><circle cx="1578.0" cy="187.8" r="1.4" fill="#ffffff" opacity="0.87"/><circle cx="1545.0" cy="171.9" r="1.7" fill="#f8f8ff" opacity="0.94"/><circle cx="1557.0" cy="186.8" r="1.5" fill="#f8f8ff" opacity="0.85"/><circle cx="1526.8" cy="204.9" r="1.6" fill="#f8f8ff" opacity="0.92"/><circle cx="1538.9" cy="174.0" r="1.8" fill="#f8f8ff" opacity="0.79"/><circle cx="1519.9" cy="215.3" r="1.4" fill="#f8f8ff" opacity="0.62"/><circle cx="1501.2" cy="174.0" r="1.1" fill="#ffffff" opacity="0.82"/><circle cx="1546.8" cy="177.6" r="1.9" fill="#f8f8ff" opacity="0.96"/><circle cx="1568.6" cy="178.2" r="1.4" fill="#f8f8ff" opacity="0.90"/><circle cx="1512.4" cy="202.3" r="0.9" fill="#ffffff" opacity="0.85"/><circle cx="1569.7" cy="182.4" r="1.7" fill="#ffffff" opacity="0.77"/><circle cx="1542.0" cy="178.7" r="1.4" fill="#ffffff" opacity="0.73"/><circle cx="1517.9" cy="206.9" r="1.4" fill="#f8f8ff" opacity="0.97"/><circle cx="1518.4" cy="202.4" r="1.3" fill="#ffffff" opacity="0.71"/><circle cx="1521.0" cy="182.4" r="1.0" fill="#f8f8ff" opacity="0.84"/><circle cx="1543.6" cy="182.6" r="0.9" fill="#ffffff" opacity="0.66"/><circle cx="1496.6" cy="207.2" r="1.9" fill="#ffffff" opacity="1.00"/><circle cx="1554.0" cy="192.2" r="1.0" fill="#f8f8ff" opacity="0.87"/><circle cx="1567.8" cy="176.8" r="1.6" fill="#ffffff" opacity="0.62"/><circle cx="1555.2" cy="178.7" r="0.8" fill="#ffffff" opacity="1.00"/><circle cx="1504.3" cy="169.9" r="1.0" fill="#ffffff" opacity="0.96"/><circle cx="1549.2" cy="168.9" r="1.1" fill="#f8f8ff" opacity="0.85"/><circle cx="1494.5" cy="186.5" r="1.1" fill="#ffffff" opacity="0.78"/><circle cx="1545.7" cy="180.3" r="1.7" fill="#ffffff" opacity="0.80"/><circle cx="1538.9" cy="211.4" r="1.3" fill="#f8f8ff" opacity="0.87"/><circle cx="1521.3" cy="160.7" r="1.2" fill="#f8f8ff" opacity="0.72"/><circle cx="1527.2" cy="169.5" r="1.8" fill="#ffffff" opacity="0.92"/><circle cx="1556.0" cy="167.2" r="1.1" fill="#f8f8ff" opacity="0.66"/><circle cx="1542.1" cy="200.6" r="1.5" fill="#ffffff" opacity="0.66"/><circle cx="1551.0" cy="191.9" r="1.7" fill="#f8f8ff" opacity="0.91"/><circle cx="1521.9" cy="166.0" r="1.7" fill="#f8f8ff" opacity="0.76"/><circle cx="1568.3" cy="179.1" r="1.6" fill="#f8f8ff" opacity="0.97"/><circle cx="1542.7" cy="216.6" r="0.8" fill="#ffffff" opacity="0.76"/><circle cx="1529.4" cy="198.8" r="1.8" fill="#f8f8ff" opacity="0.76"/><circle cx="1546.7" cy="168.7" r="2.0" fill="#f8f8ff" opacity="0.78"/><circle cx="1550.6" cy="162.7" r="1.6" fill="#f8f8ff" opacity="0.98"/><circle cx="1535.4" cy="157.5" r="1.0" fill="#ffffff" opacity="0.98"/><circle cx="1507.9" cy="205.0" r="2.0" fill="#ffffff" opacity="0.62"/></g><line x1="1508.2" y1="142" x2="1596.9" y2="163.5" stroke="#fff" stroke-width="3.6" stroke-dasharray="9,5.5"/><rect x="1629" y="221.4" width="8.599999999999909" height="31.799999999999983" fill="#fff"/><text x="1642" y="51.4" font-size="21" fill="#fff" text-anchor="end" textLength="78.7" lengthAdjust="spacingAndGlyphs">10 days</text><text transform="translate(1476,149) rotate(-90)" x="0" y="0" font-size="25" fill="#fff" text-anchor="middle" textLength="200.9" lengthAdjust="spacingAndGlyphs"><tspan style="font-style:italic">LBD11-OE</tspan> DMSO</text></g><g clip-path="url(#cp7)"><rect x="1446" y="287" width="204.29999999999995" height="253.29999999999995" fill="url(#bgG)"/><path d="M1516.0,280.0 C1534.7,276.7 1610.0,275.0 1628.0,280.0 C1646.0,285.0 1625.3,300.0 1624.0,310.0 C1622.7,320.0 1620.0,329.7 1620.0,340.0 C1620.0,350.3 1624.0,363.3 1624.0,372.0 C1624.0,380.7 1640.7,388.2 1620.0,392.0 C1599.3,395.8 1519.2,398.3 1500.0,395.0 C1480.8,391.7 1502.3,378.7 1505.0,372.0 C1507.7,365.3 1513.5,362.0 1516.0,355.0 C1518.5,348.0 1520.0,339.2 1520.0,330.0 C1520.0,320.8 1516.7,308.3 1516.0,300.0 C1515.3,291.7 1497.3,283.3 1516.0,280.0 Z" fill="#2a1250" filter="url(#b1)"/><g clip-path="url(#cpG)"><line x1="1534.7" y1="339.8" x2="1537.3" y2="392.1" stroke="#4a2a70" stroke-width="1.7" opacity="0.69"/><line x1="1563.9" y1="366.4" x2="1566.9" y2="426.1" stroke="#5a7a40" stroke-width="2.5" opacity="0.53"/><line x1="1531.0" y1="366.5" x2="1534.9" y2="444.8" stroke="#4a2a70" stroke-width="1.6" opacity="0.53"/><line x1="1589.2" y1="362.9" x2="1591.8" y2="415.6" stroke="#4a2a70" stroke-width="2.2" opacity="0.57"/><line x1="1619.7" y1="369.4" x2="1622.2" y2="419.5" stroke="#5a7a40" stroke-width="2.5" opacity="0.62"/><line x1="1599.4" y1="291.6" x2="1601.5" y2="334.9" stroke="#3a1a60" stroke-width="1.9" opacity="0.59"/><line x1="1612.2" y1="382.7" x2="1616.0" y2="458.0" stroke="#4a2a70" stroke-width="2.3" opacity="0.77"/><line x1="1607.7" y1="310.0" x2="1609.6" y2="349.5" stroke="#3a1a60" stroke-width="2.8" opacity="0.73"/><line x1="1590.2" y1="346.7" x2="1592.5" y2="393.4" stroke="#4a2a70" stroke-width="1.2" opacity="0.42"/><line x1="1620.0" y1="333.3" x2="1622.3" y2="380.1" stroke="#3a1a60" stroke-width="2.0" opacity="0.72"/><line x1="1548.7" y1="370.9" x2="1551.5" y2="425.9" stroke="#5a7a40" stroke-width="2.0" opacity="0.71"/><line x1="1589.6" y1="338.2" x2="1592.5" y2="395.1" stroke="#5a7a40" stroke-width="2.2" opacity="0.71"/><line x1="1609.8" y1="382.3" x2="1612.1" y2="428.7" stroke="#4a2a70" stroke-width="2.5" opacity="0.62"/><line x1="1541.0" y1="357.6" x2="1542.5" y2="386.9" stroke="#6a8a48" stroke-width="2.4" opacity="0.41"/><line x1="1533.6" y1="364.2" x2="1535.6" y2="403.4" stroke="#5a7a40" stroke-width="2.4" opacity="0.57"/><line x1="1615.1" y1="308.0" x2="1616.8" y2="342.0" stroke="#5a7a40" stroke-width="1.4" opacity="0.52"/><line x1="1576.9" y1="343.5" x2="1578.4" y2="372.3" stroke="#3a1a60" stroke-width="3.0" opacity="0.74"/><line x1="1520.3" y1="311.7" x2="1523.7" y2="379.5" stroke="#5a7a40" stroke-width="2.6" opacity="0.79"/><line x1="1531.9" y1="333.5" x2="1533.5" y2="365.2" stroke="#6a8a48" stroke-width="2.6" opacity="0.60"/><line x1="1570.5" y1="350.3" x2="1573.9" y2="418.5" stroke="#3a1a60" stroke-width="1.8" opacity="0.54"/><line x1="1560.7" y1="306.5" x2="1564.6" y2="383.5" stroke="#3a1a60" stroke-width="2.5" opacity="0.80"/><line x1="1537.0" y1="322.2" x2="1539.7" y2="376.0" stroke="#4a2a70" stroke-width="2.4" opacity="0.59"/><line x1="1617.1" y1="352.1" x2="1618.4" y2="378.7" stroke="#6a8a48" stroke-width="2.7" opacity="0.44"/><line x1="1573.8" y1="370.6" x2="1575.6" y2="407.3" stroke="#6a8a48" stroke-width="1.5" opacity="0.71"/><line x1="1598.5" y1="293.9" x2="1602.5" y2="373.5" stroke="#6a8a48" stroke-width="1.6" opacity="0.62"/><line x1="1568.1" y1="320.2" x2="1570.3" y2="365.5" stroke="#3a1a60" stroke-width="2.8" opacity="0.58"/><line x1="1520.4" y1="323.6" x2="1524.4" y2="402.9" stroke="#5a7a40" stroke-width="2.9" opacity="0.57"/><line x1="1607.9" y1="386.9" x2="1611.6" y2="459.3" stroke="#3a1a60" stroke-width="1.4" opacity="0.64"/><line x1="1578.9" y1="299.0" x2="1580.6" y2="331.5" stroke="#5a7a40" stroke-width="2.1" opacity="0.45"/><line x1="1605.1" y1="368.0" x2="1608.1" y2="428.1" stroke="#6a8a48" stroke-width="1.6" opacity="0.52"/><line x1="1610.2" y1="292.7" x2="1612.2" y2="334.2" stroke="#4a2a70" stroke-width="2.9" opacity="0.68"/><line x1="1605.6" y1="389.9" x2="1607.7" y2="430.4" stroke="#3a1a60" stroke-width="2.7" opacity="0.79"/><line x1="1558.2" y1="338.3" x2="1561.5" y2="403.9" stroke="#3a1a60" stroke-width="1.9" opacity="0.79"/><line x1="1554.4" y1="360.3" x2="1558.1" y2="433.1" stroke="#3a1a60" stroke-width="2.9" opacity="0.55"/><line x1="1530.0" y1="314.2" x2="1532.2" y2="357.6" stroke="#4a2a70" stroke-width="2.8" opacity="0.63"/><line x1="1581.1" y1="295.1" x2="1582.5" y2="322.8" stroke="#3a1a60" stroke-width="1.8" opacity="0.72"/><line x1="1577.6" y1="346.5" x2="1580.8" y2="409.4" stroke="#5a7a40" stroke-width="1.7" opacity="0.44"/><line x1="1562.4" y1="382.9" x2="1564.5" y2="425.0" stroke="#3a1a60" stroke-width="2.8" opacity="0.66"/><line x1="1548.3" y1="292.4" x2="1549.7" y2="321.1" stroke="#3a1a60" stroke-width="2.9" opacity="0.44"/><line x1="1570.1" y1="335.3" x2="1572.3" y2="380.2" stroke="#5a7a40" stroke-width="2.2" opacity="0.46"/><g filter="url(#b05)"><circle cx="1623.1" cy="379.2" r="1.5" fill="#ffffff" opacity="0.48"/><circle cx="1589.6" cy="345.6" r="2.7" fill="#8ab0f0" opacity="0.64"/><circle cx="1598.8" cy="300.0" r="2.5" fill="#c0e0ff" opacity="0.89"/><circle cx="1515.6" cy="340.9" r="1.5" fill="#c0e0ff" opacity="0.65"/><circle cx="1542.4" cy="331.3" r="2.2" fill="#6a90e0" opacity="0.50"/><circle cx="1575.7" cy="322.5" r="1.8" fill="#6a90e0" opacity="0.86"/><circle cx="1548.1" cy="312.7" r="2.7" fill="#8ab0f0" opacity="0.75"/><circle cx="1544.3" cy="349.3" r="1.0" fill="#8ab0f0" opacity="0.60"/><circle cx="1537.0" cy="313.1" r="1.3" fill="#c0e0ff" opacity="0.81"/><circle cx="1581.7" cy="386.6" r="1.5" fill="#8ab0f0" opacity="0.52"/><circle cx="1543.7" cy="291.8" r="1.1" fill="#6a90e0" opacity="0.47"/><circle cx="1540.1" cy="385.8" r="2.1" fill="#c0e0ff" opacity="0.76"/><circle cx="1610.4" cy="288.4" r="1.2" fill="#c0e0ff" opacity="0.62"/><circle cx="1531.9" cy="353.7" r="1.2" fill="#ffffff" opacity="0.56"/><circle cx="1562.3" cy="354.9" r="2.4" fill="#6a90e0" opacity="0.73"/><circle cx="1613.6" cy="302.0" r="1.8" fill="#c0e0ff" opacity="0.83"/><circle cx="1613.7" cy="355.2" r="2.0" fill="#ffffff" opacity="0.62"/><circle cx="1544.0" cy="331.6" r="1.3" fill="#8ab0f0" opacity="0.77"/><circle cx="1575.3" cy="308.0" r="1.2" fill="#ffffff" opacity="0.47"/><circle cx="1547.1" cy="330.9" r="1.0" fill="#8ab0f0" opacity="0.69"/><circle cx="1555.0" cy="353.4" r="1.9" fill="#ffffff" opacity="0.82"/><circle cx="1625.8" cy="314.8" r="2.0" fill="#6a90e0" opacity="0.85"/><circle cx="1517.0" cy="311.1" r="2.0" fill="#c0e0ff" opacity="0.89"/><circle cx="1578.5" cy="353.1" r="1.3" fill="#ffffff" opacity="0.76"/><circle cx="1575.0" cy="358.1" r="1.5" fill="#ffffff" opacity="0.77"/><circle cx="1517.3" cy="345.4" r="2.8" fill="#c0e0ff" opacity="0.85"/><circle cx="1544.0" cy="312.2" r="2.9" fill="#c0e0ff" opacity="0.71"/><circle cx="1627.4" cy="287.3" r="2.9" fill="#ffffff" opacity="0.78"/><circle cx="1603.5" cy="330.2" r="1.7" fill="#6a90e0" opacity="0.50"/><circle cx="1527.5" cy="318.6" r="2.5" fill="#ffffff" opacity="0.75"/><circle cx="1546.3" cy="307.5" r="1.8" fill="#ffffff" opacity="0.45"/><circle cx="1569.3" cy="307.2" r="1.5" fill="#8ab0f0" opacity="0.83"/><circle cx="1556.0" cy="365.2" r="2.1" fill="#6a90e0" opacity="0.51"/><circle cx="1625.1" cy="288.7" r="1.2" fill="#c0e0ff" opacity="0.52"/><circle cx="1614.7" cy="308.1" r="1.8" fill="#8ab0f0" opacity="0.45"/><circle cx="1628.8" cy="343.5" r="2.4" fill="#c0e0ff" opacity="0.77"/><circle cx="1540.1" cy="297.0" r="1.5" fill="#6a90e0" opacity="0.46"/><circle cx="1547.2" cy="347.6" r="1.9" fill="#c0e0ff" opacity="0.45"/><circle cx="1621.2" cy="350.0" r="1.2" fill="#ffffff" opacity="0.80"/><circle cx="1576.7" cy="351.8" r="2.5" fill="#8ab0f0" opacity="0.64"/><circle cx="1546.9" cy="304.2" r="2.5" fill="#8ab0f0" opacity="0.86"/><circle cx="1571.3" cy="389.2" r="2.6" fill="#ffffff" opacity="0.45"/><circle cx="1572.9" cy="310.6" r="2.2" fill="#8ab0f0" opacity="0.61"/><circle cx="1555.1" cy="323.8" r="1.9" fill="#c0e0ff" opacity="0.41"/><circle cx="1526.2" cy="351.6" r="1.0" fill="#ffffff" opacity="0.50"/><circle cx="1609.6" cy="311.1" r="1.1" fill="#c0e0ff" opacity="0.50"/><circle cx="1539.0" cy="300.7" r="1.9" fill="#6a90e0" opacity="0.51"/><circle cx="1530.5" cy="299.1" r="2.8" fill="#c0e0ff" opacity="0.58"/><circle cx="1602.0" cy="365.4" r="2.7" fill="#6a90e0" opacity="0.48"/><circle cx="1522.3" cy="379.8" r="1.9" fill="#8ab0f0" opacity="0.49"/><circle cx="1519.0" cy="305.0" r="2.7" fill="#6a90e0" opacity="0.45"/><circle cx="1602.9" cy="308.8" r="1.3" fill="#8ab0f0" opacity="0.62"/><circle cx="1595.5" cy="304.1" r="2.4" fill="#ffffff" opacity="0.84"/><circle cx="1533.1" cy="389.7" r="2.1" fill="#c0e0ff" opacity="0.88"/><circle cx="1563.9" cy="349.9" r="2.6" fill="#ffffff" opacity="0.56"/><circle cx="1584.7" cy="382.4" r="2.6" fill="#8ab0f0" opacity="0.50"/><circle cx="1549.0" cy="366.6" r="1.9" fill="#8ab0f0" opacity="0.84"/><circle cx="1528.3" cy="358.5" r="2.8" fill="#c0e0ff" opacity="0.77"/><circle cx="1576.4" cy="375.3" r="2.1" fill="#6a90e0" opacity="0.85"/><circle cx="1581.8" cy="363.0" r="1.3" fill="#c0e0ff" opacity="0.67"/><circle cx="1541.7" cy="300.0" r="2.8" fill="#8ab0f0" opacity="0.52"/><circle cx="1578.5" cy="321.9" r="2.1" fill="#ffffff" opacity="0.53"/><circle cx="1578.1" cy="372.3" r="1.1" fill="#6a90e0" opacity="0.83"/><circle cx="1538.6" cy="369.7" r="1.4" fill="#8ab0f0" opacity="0.66"/><circle cx="1586.9" cy="294.4" r="2.4" fill="#8ab0f0" opacity="0.77"/><circle cx="1552.0" cy="304.0" r="1.6" fill="#ffffff" opacity="0.41"/><circle cx="1603.0" cy="367.3" r="2.6" fill="#8ab0f0" opacity="0.83"/><circle cx="1598.2" cy="295.6" r="1.3" fill="#8ab0f0" opacity="0.44"/><circle cx="1536.9" cy="385.2" r="1.2" fill="#ffffff" opacity="0.43"/><circle cx="1587.5" cy="386.8" r="1.1" fill="#c0e0ff" opacity="0.89"/></g></g><path d="M1484,402 C1484,388 1500,384 1520,386 C1550,382 1600,380 1630,384 C1646,388 1650,400 1649,415 C1650,440 1640,468 1612,488 C1588,503 1540,503 1516,488 C1490,470 1480,440 1482,420 C1480,412 1482,406 1484,402 Z" fill="#b0c8d2" filter="url(#b2)"/><g filter="url(#b1)"><circle cx="1640.6" cy="431.3" r="4.9" fill="#98b8cc" opacity="0.85"/><circle cx="1641.1" cy="439.2" r="4.3" fill="#98b8cc" opacity="0.85"/><circle cx="1636.0" cy="446.9" r="5.9" fill="#c0d8e4" opacity="0.85"/><circle cx="1634.3" cy="454.3" r="4.8" fill="#a8c4d4" opacity="0.85"/><circle cx="1627.6" cy="461.2" r="5.6" fill="#a8c4d4" opacity="0.85"/><circle cx="1624.0" cy="467.6" r="5.8" fill="#98b8cc" opacity="0.85"/><circle cx="1616.0" cy="473.4" r="5.6" fill="#c0d8e4" opacity="0.85"/><circle cx="1610.6" cy="478.5" r="5.5" fill="#a8c4d4" opacity="0.85"/><circle cx="1601.8" cy="482.9" r="4.5" fill="#c0d8e4" opacity="0.85"/><circle cx="1594.8" cy="486.4" r="5.5" fill="#a8c4d4" opacity="0.85"/><circle cx="1585.6" cy="489.1" r="4.9" fill="#c0d8e4" opacity="0.85"/><circle cx="1577.5" cy="491.0" r="4.1" fill="#c0d8e4" opacity="0.85"/><circle cx="1568.4" cy="491.9" r="5.4" fill="#a8c4d4" opacity="0.85"/><circle cx="1559.5" cy="491.9" r="5.8" fill="#a8c4d4" opacity="0.85"/><circle cx="1550.9" cy="491.0" r="6.0" fill="#a8c4d4" opacity="0.85"/><circle cx="1541.7" cy="489.1" r="5.1" fill="#98b8cc" opacity="0.85"/><circle cx="1534.1" cy="486.4" r="5.0" fill="#c0d8e4" opacity="0.85"/><circle cx="1525.0" cy="482.9" r="6.2" fill="#c0d8e4" opacity="0.85"/><circle cx="1518.8" cy="478.5" r="5.6" fill="#c0d8e4" opacity="0.85"/><circle cx="1510.3" cy="473.4" r="5.1" fill="#a8c4d4" opacity="0.85"/><circle cx="1505.8" cy="467.6" r="4.7" fill="#a8c4d4" opacity="0.85"/><circle cx="1498.4" cy="461.2" r="6.4" fill="#98b8cc" opacity="0.85"/><circle cx="1495.8" cy="454.3" r="4.7" fill="#c0d8e4" opacity="0.85"/><circle cx="1489.8" cy="446.9" r="5.1" fill="#a8c4d4" opacity="0.85"/><circle cx="1489.2" cy="439.2" r="5.1" fill="#a8c4d4" opacity="0.85"/><circle cx="1485.0" cy="431.3" r="6.4" fill="#c0d8e4" opacity="0.85"/></g><g clip-path="url(#eggG)"><g filter="url(#b1)"><circle cx="1607.3" cy="448.2" r="2.6" fill="#c0d6dc" opacity="0.52"/><circle cx="1513.4" cy="430.1" r="5.5" fill="#e8f4f4" opacity="0.68"/><circle cx="1539.9" cy="504.8" r="5.2" fill="#90b0c6" opacity="0.88"/><circle cx="1630.1" cy="444.8" r="2.9" fill="#c8dce4" opacity="0.61"/><circle cx="1484.5" cy="393.5" r="3.9" fill="#e8f4f4" opacity="0.55"/><circle cx="1576.0" cy="445.2" r="2.5" fill="#90b0c6" opacity="0.79"/><circle cx="1649.2" cy="459.8" r="4.4" fill="#c0d6dc" opacity="0.70"/><circle cx="1643.6" cy="443.5" r="3.8" fill="#d8e8ee" opacity="0.71"/><circle cx="1487.5" cy="412.0" r="3.0" fill="#c8dce4" opacity="0.56"/><circle cx="1548.0" cy="464.1" r="5.0" fill="#e8f4f4" opacity="0.73"/><circle cx="1596.5" cy="470.8" r="3.9" fill="#d8e8ee" opacity="0.51"/><circle cx="1634.3" cy="474.1" r="3.0" fill="#90b0c6" opacity="0.79"/><circle cx="1571.1" cy="405.2" r="3.6" fill="#a0bece" opacity="0.53"/><circle cx="1633.2" cy="482.4" r="3.5" fill="#90b0c6" opacity="0.66"/><circle cx="1539.8" cy="473.3" r="5.2" fill="#c8dce4" opacity="0.57"/><circle cx="1618.0" cy="469.6" r="3.8" fill="#e8f4f4" opacity="0.77"/><circle cx="1528.9" cy="499.8" r="5.7" fill="#c8dce4" opacity="0.77"/><circle cx="1560.6" cy="417.1" r="5.3" fill="#a0bece" opacity="0.71"/><circle cx="1648.8" cy="445.4" r="5.7" fill="#c8dce4" opacity="0.81"/><circle cx="1607.5" cy="424.8" r="4.4" fill="#e8f4f4" opacity="0.71"/><circle cx="1625.5" cy="413.0" r="5.0" fill="#d8e8ee" opacity="0.69"/><circle cx="1625.7" cy="385.8" r="4.9" fill="#c8dce4" opacity="0.62"/><circle cx="1591.0" cy="504.1" r="3.5" fill="#d8e8ee" opacity="0.87"/><circle cx="1513.6" cy="475.2" r="3.7" fill="#e8f4f4" opacity="0.60"/><circle cx="1532.7" cy="468.0" r="3.9" fill="#d8e8ee" opacity="0.82"/><circle cx="1621.1" cy="389.4" r="5.0" fill="#c0d6dc" opacity="0.71"/><circle cx="1605.8" cy="478.0" r="4.4" fill="#e8f4f4" opacity="0.89"/><circle cx="1519.4" cy="389.6" r="4.9" fill="#c0d6dc" opacity="0.59"/><circle cx="1548.9" cy="419.0" r="3.3" fill="#c0d6dc" opacity="0.84"/><circle cx="1606.2" cy="499.4" r="5.7" fill="#e8f4f4" opacity="0.80"/><circle cx="1565.4" cy="500.1" r="6.0" fill="#c8dce4" opacity="0.68"/><circle cx="1566.1" cy="429.7" r="4.4" fill="#e8f4f4" opacity="0.86"/><circle cx="1477.9" cy="401.5" r="5.4" fill="#c8dce4" opacity="0.73"/><circle cx="1536.2" cy="430.7" r="4.4" fill="#e8f4f4" opacity="0.71"/><circle cx="1478.4" cy="465.4" r="3.7" fill="#90b0c6" opacity="0.78"/><circle cx="1523.5" cy="414.0" r="5.9" fill="#c8dce4" opacity="0.88"/><circle cx="1639.4" cy="494.4" r="5.6" fill="#90b0c6" opacity="0.59"/><circle cx="1542.2" cy="478.6" r="3.0" fill="#c8dce4" opacity="0.53"/><circle cx="1584.7" cy="480.7" r="5.5" fill="#90b0c6" opacity="0.81"/><circle cx="1527.6" cy="446.5" r="3.3" fill="#c0d6dc" opacity="0.71"/><circle cx="1537.7" cy="381.3" r="3.0" fill="#c0d6dc" opacity="0.58"/><circle cx="1622.7" cy="398.0" r="3.3" fill="#e8f4f4" opacity="0.70"/><circle cx="1489.2" cy="435.3" r="3.7" fill="#c0d6dc" opacity="0.53"/><circle cx="1521.9" cy="382.6" r="5.1" fill="#90b0c6" opacity="0.62"/><circle cx="1569.5" cy="429.7" r="5.1" fill="#a0bece" opacity="0.75"/><circle cx="1616.0" cy="420.9" r="4.2" fill="#c0d6dc" opacity="0.67"/><circle cx="1649.9" cy="472.5" r="4.3" fill="#c8dce4" opacity="0.55"/><circle cx="1499.2" cy="477.1" r="2.6" fill="#c8dce4" opacity="0.88"/><circle cx="1633.5" cy="385.0" r="5.6" fill="#a0bece" opacity="0.66"/><circle cx="1635.2" cy="389.2" r="5.5" fill="#c8dce4" opacity="0.65"/><circle cx="1599.3" cy="387.2" r="5.8" fill="#d8e8ee" opacity="0.54"/><circle cx="1507.6" cy="405.8" r="5.6" fill="#a0bece" opacity="0.52"/><circle cx="1553.4" cy="447.9" r="4.0" fill="#c8dce4" opacity="0.69"/><circle cx="1628.5" cy="431.9" r="4.5" fill="#d8e8ee" opacity="0.75"/><circle cx="1653.1" cy="483.6" r="3.5" fill="#c8dce4" opacity="0.55"/><circle cx="1530.7" cy="448.4" r="5.3" fill="#c0d6dc" opacity="0.81"/><circle cx="1537.7" cy="408.2" r="5.5" fill="#e8f4f4" opacity="0.79"/><circle cx="1571.1" cy="429.7" r="3.2" fill="#90b0c6" opacity="0.65"/><circle cx="1606.3" cy="384.8" r="4.8" fill="#c0d6dc" opacity="0.78"/><circle cx="1479.2" cy="482.4" r="4.3" fill="#e8f4f4" opacity="0.73"/><circle cx="1487.7" cy="414.7" r="4.5" fill="#c8dce4" opacity="0.79"/><circle cx="1557.6" cy="410.4" r="5.3" fill="#c0d6dc" opacity="0.80"/><circle cx="1603.1" cy="457.2" r="4.7" fill="#e8f4f4" opacity="0.73"/><circle cx="1543.7" cy="477.1" r="3.5" fill="#e8f4f4" opacity="0.76"/><circle cx="1612.7" cy="472.7" r="4.9" fill="#c0d6dc" opacity="0.54"/><circle cx="1570.0" cy="396.4" r="5.2" fill="#e8f4f4" opacity="0.65"/><circle cx="1647.3" cy="409.5" r="3.7" fill="#c8dce4" opacity="0.62"/><circle cx="1615.0" cy="490.7" r="4.5" fill="#d8e8ee" opacity="0.88"/><circle cx="1636.3" cy="391.8" r="5.4" fill="#d8e8ee" opacity="0.62"/><circle cx="1501.4" cy="501.1" r="3.9" fill="#e8f4f4" opacity="0.88"/><circle cx="1485.9" cy="457.0" r="2.6" fill="#e8f4f4" opacity="0.69"/><circle cx="1547.6" cy="393.0" r="5.2" fill="#c8dce4" opacity="0.76"/><circle cx="1507.3" cy="405.4" r="4.5" fill="#90b0c6" opacity="0.59"/><circle cx="1585.2" cy="419.4" r="4.8" fill="#a0bece" opacity="0.76"/><circle cx="1637.7" cy="444.1" r="4.8" fill="#e8f4f4" opacity="0.80"/><circle cx="1626.5" cy="502.6" r="5.4" fill="#a0bece" opacity="0.88"/><circle cx="1635.7" cy="393.0" r="3.0" fill="#90b0c6" opacity="0.73"/><circle cx="1554.1" cy="381.8" r="5.3" fill="#d8e8ee" opacity="0.66"/><circle cx="1613.4" cy="447.2" r="3.0" fill="#90b0c6" opacity="0.61"/><circle cx="1617.0" cy="426.6" r="3.8" fill="#c0d6dc" opacity="0.75"/><circle cx="1642.2" cy="405.5" r="4.5" fill="#c0d6dc" opacity="0.54"/><circle cx="1625.5" cy="490.1" r="5.2" fill="#e8f4f4" opacity="0.63"/><circle cx="1536.6" cy="495.3" r="2.9" fill="#d8e8ee" opacity="0.81"/><circle cx="1547.8" cy="396.9" r="4.6" fill="#a0bece" opacity="0.84"/><circle cx="1524.9" cy="492.2" r="5.5" fill="#d8e8ee" opacity="0.69"/><circle cx="1516.3" cy="378.8" r="5.5" fill="#c0d6dc" opacity="0.74"/><circle cx="1639.3" cy="427.4" r="6.0" fill="#c8dce4" opacity="0.83"/><circle cx="1613.4" cy="442.0" r="2.8" fill="#90b0c6" opacity="0.58"/><circle cx="1586.1" cy="482.6" r="5.4" fill="#c8dce4" opacity="0.52"/><circle cx="1487.9" cy="445.0" r="4.6" fill="#a0bece" opacity="0.53"/><circle cx="1589.4" cy="387.3" r="5.1" fill="#c8dce4" opacity="0.68"/><circle cx="1615.3" cy="487.6" r="4.3" fill="#e8f4f4" opacity="0.88"/><circle cx="1591.6" cy="457.6" r="2.7" fill="#a0bece" opacity="0.59"/><circle cx="1526.4" cy="380.1" r="4.2" fill="#c0d6dc" opacity="0.74"/><circle cx="1546.3" cy="385.4" r="5.8" fill="#d8e8ee" opacity="0.79"/><circle cx="1613.3" cy="430.3" r="3.0" fill="#d8e8ee" opacity="0.64"/><circle cx="1576.0" cy="389.7" r="5.6" fill="#90b0c6" opacity="0.75"/><circle cx="1561.3" cy="426.8" r="2.7" fill="#d8e8ee" opacity="0.73"/><circle cx="1643.8" cy="386.5" r="5.2" fill="#c8dce4" opacity="0.66"/><circle cx="1570.3" cy="445.8" r="2.7" fill="#d8e8ee" opacity="0.58"/><circle cx="1557.7" cy="389.3" r="3.0" fill="#a0bece" opacity="0.64"/><circle cx="1643.5" cy="403.7" r="5.7" fill="#c0d6dc" opacity="0.54"/><circle cx="1574.0" cy="388.1" r="2.5" fill="#d8e8ee" opacity="0.77"/><circle cx="1490.1" cy="398.7" r="3.8" fill="#d8e8ee" opacity="0.80"/><circle cx="1518.8" cy="443.2" r="4.8" fill="#d8e8ee" opacity="0.69"/><circle cx="1574.3" cy="502.0" r="3.8" fill="#d8e8ee" opacity="0.59"/><circle cx="1489.4" cy="462.8" r="3.5" fill="#a0bece" opacity="0.74"/><circle cx="1606.7" cy="399.4" r="4.5" fill="#c8dce4" opacity="0.56"/><circle cx="1547.2" cy="442.8" r="5.9" fill="#c8dce4" opacity="0.67"/><circle cx="1527.3" cy="384.7" r="4.1" fill="#90b0c6" opacity="0.60"/><circle cx="1494.3" cy="437.7" r="2.9" fill="#d8e8ee" opacity="0.86"/><circle cx="1609.4" cy="441.5" r="4.3" fill="#d8e8ee" opacity="0.53"/><circle cx="1626.1" cy="459.2" r="5.6" fill="#e8f4f4" opacity="0.71"/><circle cx="1508.8" cy="457.8" r="3.4" fill="#c0d6dc" opacity="0.57"/><circle cx="1574.3" cy="471.3" r="4.2" fill="#90b0c6" opacity="0.77"/><circle cx="1554.8" cy="474.3" r="5.5" fill="#d8e8ee" opacity="0.85"/><circle cx="1573.1" cy="489.3" r="5.5" fill="#d8e8ee" opacity="0.72"/><circle cx="1655.3" cy="429.9" r="3.7" fill="#e8f4f4" opacity="0.80"/><circle cx="1648.8" cy="380.9" r="5.2" fill="#e8f4f4" opacity="0.72"/><circle cx="1590.6" cy="429.2" r="5.7" fill="#c8dce4" opacity="0.68"/><circle cx="1602.0" cy="429.1" r="5.8" fill="#d8e8ee" opacity="0.86"/><circle cx="1569.3" cy="480.6" r="5.5" fill="#c8dce4" opacity="0.65"/><circle cx="1476.4" cy="446.7" r="2.8" fill="#d8e8ee" opacity="0.57"/><circle cx="1589.3" cy="419.6" r="3.1" fill="#c0d6dc" opacity="0.77"/><circle cx="1594.7" cy="379.9" r="3.7" fill="#c0d6dc" opacity="0.87"/><circle cx="1599.6" cy="429.4" r="3.0" fill="#c8dce4" opacity="0.71"/><circle cx="1614.6" cy="400.1" r="5.9" fill="#d8e8ee" opacity="0.63"/><circle cx="1547.6" cy="436.0" r="4.6" fill="#c8dce4" opacity="0.72"/><circle cx="1572.2" cy="464.6" r="3.3" fill="#e8f4f4" opacity="0.74"/><circle cx="1528.0" cy="447.4" r="2.6" fill="#d8e8ee" opacity="0.55"/><circle cx="1641.3" cy="486.1" r="5.3" fill="#e8f4f4" opacity="0.78"/><circle cx="1517.4" cy="484.9" r="4.0" fill="#90b0c6" opacity="0.74"/><circle cx="1600.5" cy="442.4" r="3.5" fill="#d8e8ee" opacity="0.62"/><circle cx="1585.0" cy="485.5" r="4.6" fill="#e8f4f4" opacity="0.75"/><circle cx="1592.5" cy="414.0" r="4.1" fill="#e8f4f4" opacity="0.70"/><circle cx="1649.2" cy="473.4" r="2.6" fill="#90b0c6" opacity="0.68"/><circle cx="1540.2" cy="400.7" r="5.6" fill="#c0d6dc" opacity="0.68"/><circle cx="1562.0" cy="446.5" r="5.9" fill="#d8e8ee" opacity="0.51"/><circle cx="1586.8" cy="412.9" r="5.2" fill="#e8f4f4" opacity="0.53"/><circle cx="1589.0" cy="501.6" r="4.2" fill="#e8f4f4" opacity="0.70"/><circle cx="1573.6" cy="486.8" r="4.5" fill="#c0d6dc" opacity="0.70"/><circle cx="1605.3" cy="397.5" r="5.4" fill="#a0bece" opacity="0.71"/><circle cx="1511.3" cy="504.3" r="2.6" fill="#90b0c6" opacity="0.71"/><circle cx="1598.7" cy="378.1" r="4.8" fill="#90b0c6" opacity="0.75"/><circle cx="1518.7" cy="384.6" r="3.4" fill="#c8dce4" opacity="0.77"/><circle cx="1632.2" cy="474.0" r="3.9" fill="#90b0c6" opacity="0.75"/><circle cx="1599.4" cy="450.3" r="2.6" fill="#c8dce4" opacity="0.57"/><circle cx="1638.0" cy="400.3" r="5.1" fill="#a0bece" opacity="0.61"/><circle cx="1508.9" cy="444.5" r="4.1" fill="#c0d6dc" opacity="0.58"/><circle cx="1539.5" cy="481.5" r="3.5" fill="#90b0c6" opacity="0.60"/><circle cx="1647.3" cy="464.8" r="5.1" fill="#a0bece" opacity="0.82"/><circle cx="1625.5" cy="406.2" r="5.8" fill="#e8f4f4" opacity="0.88"/><circle cx="1642.3" cy="496.7" r="3.7" fill="#d8e8ee" opacity="0.60"/><circle cx="1599.2" cy="494.3" r="3.2" fill="#a0bece" opacity="0.79"/><circle cx="1643.8" cy="400.6" r="5.8" fill="#c0d6dc" opacity="0.57"/><circle cx="1579.6" cy="429.3" r="4.6" fill="#90b0c6" opacity="0.59"/><circle cx="1571.4" cy="477.3" r="3.8" fill="#d8e8ee" opacity="0.84"/><circle cx="1645.1" cy="391.5" r="5.0" fill="#a0bece" opacity="0.65"/><circle cx="1647.3" cy="440.2" r="3.4" fill="#c0d6dc" opacity="0.88"/><circle cx="1576.6" cy="380.0" r="3.6" fill="#c0d6dc" opacity="0.81"/><circle cx="1527.7" cy="411.2" r="2.5" fill="#a0bece" opacity="0.75"/><circle cx="1497.6" cy="463.8" r="4.3" fill="#e8f4f4" opacity="0.53"/><circle cx="1625.8" cy="494.1" r="4.6" fill="#d8e8ee" opacity="0.52"/><circle cx="1569.9" cy="467.5" r="4.5" fill="#a0bece" opacity="0.82"/><circle cx="1491.5" cy="424.3" r="3.9" fill="#c8dce4" opacity="0.63"/><circle cx="1557.7" cy="419.5" r="3.6" fill="#c8dce4" opacity="0.59"/><circle cx="1507.2" cy="456.7" r="3.3" fill="#c0d6dc" opacity="0.69"/><circle cx="1628.3" cy="444.6" r="3.3" fill="#c0d6dc" opacity="0.68"/><circle cx="1533.1" cy="380.0" r="4.7" fill="#d8e8ee" opacity="0.78"/><circle cx="1591.8" cy="391.9" r="5.8" fill="#c8dce4" opacity="0.51"/><circle cx="1539.7" cy="436.0" r="4.7" fill="#c8dce4" opacity="0.78"/><circle cx="1570.3" cy="449.3" r="4.6" fill="#d8e8ee" opacity="0.80"/><circle cx="1477.2" cy="423.8" r="3.3" fill="#e8f4f4" opacity="0.71"/><circle cx="1630.2" cy="422.2" r="3.1" fill="#d8e8ee" opacity="0.87"/><circle cx="1576.3" cy="493.9" r="5.2" fill="#c0d6dc" opacity="0.52"/><circle cx="1534.4" cy="476.2" r="4.3" fill="#c0d6dc" opacity="0.72"/><circle cx="1526.3" cy="487.5" r="3.0" fill="#90b0c6" opacity="0.64"/><circle cx="1536.7" cy="472.1" r="4.8" fill="#e8f4f4" opacity="0.75"/><circle cx="1607.9" cy="431.6" r="3.8" fill="#a0bece" opacity="0.82"/><circle cx="1627.5" cy="414.6" r="4.3" fill="#a0bece" opacity="0.88"/><circle cx="1639.9" cy="500.9" r="5.3" fill="#c0d6dc" opacity="0.89"/><circle cx="1480.6" cy="496.4" r="2.5" fill="#c8dce4" opacity="0.52"/><circle cx="1620.3" cy="425.3" r="3.3" fill="#90b0c6" opacity="0.85"/><circle cx="1489.1" cy="408.0" r="4.7" fill="#c8dce4" opacity="0.82"/><circle cx="1632.3" cy="386.8" r="2.5" fill="#a0bece" opacity="0.69"/><circle cx="1569.9" cy="458.4" r="4.0" fill="#90b0c6" opacity="0.57"/><circle cx="1494.1" cy="416.5" r="5.5" fill="#e8f4f4" opacity="0.75"/><circle cx="1545.4" cy="456.7" r="5.0" fill="#d8e8ee" opacity="0.70"/><circle cx="1629.1" cy="503.8" r="3.3" fill="#c0d6dc" opacity="0.86"/><circle cx="1618.0" cy="469.4" r="3.5" fill="#c0d6dc" opacity="0.56"/><circle cx="1477.1" cy="424.5" r="4.3" fill="#90b0c6" opacity="0.78"/><circle cx="1641.5" cy="414.6" r="5.8" fill="#c8dce4" opacity="0.71"/><circle cx="1621.0" cy="400.0" r="4.4" fill="#c8dce4" opacity="0.79"/><circle cx="1510.3" cy="386.0" r="3.2" fill="#d8e8ee" opacity="0.85"/><circle cx="1592.1" cy="457.6" r="4.7" fill="#c8dce4" opacity="0.65"/><circle cx="1477.5" cy="389.4" r="3.4" fill="#a0bece" opacity="0.70"/><circle cx="1512.7" cy="448.2" r="3.7" fill="#e8f4f4" opacity="0.57"/><circle cx="1560.9" cy="443.9" r="2.8" fill="#c0d6dc" opacity="0.57"/><circle cx="1508.5" cy="422.5" r="4.1" fill="#a0bece" opacity="0.80"/><circle cx="1541.4" cy="457.7" r="4.2" fill="#c0d6dc" opacity="0.56"/><circle cx="1578.8" cy="382.2" r="3.0" fill="#c8dce4" opacity="0.70"/><circle cx="1615.6" cy="463.1" r="4.1" fill="#90b0c6" opacity="0.72"/><circle cx="1607.3" cy="427.8" r="4.4" fill="#d8e8ee" opacity="0.79"/><circle cx="1648.9" cy="460.0" r="3.1" fill="#c0d6dc" opacity="0.77"/><circle cx="1511.7" cy="478.0" r="5.0" fill="#e8f4f4" opacity="0.76"/><circle cx="1650.0" cy="499.5" r="5.7" fill="#a0bece" opacity="0.57"/><circle cx="1503.9" cy="499.3" r="5.7" fill="#d8e8ee" opacity="0.80"/><circle cx="1634.7" cy="499.3" r="5.1" fill="#a0bece" opacity="0.76"/><circle cx="1581.3" cy="459.3" r="3.3" fill="#e8f4f4" opacity="0.56"/><circle cx="1637.4" cy="419.3" r="3.8" fill="#d8e8ee" opacity="0.82"/><circle cx="1630.0" cy="446.6" r="3.6" fill="#a0bece" opacity="0.61"/><circle cx="1498.0" cy="470.0" r="4.1" fill="#90b0c6" opacity="0.85"/><circle cx="1515.4" cy="480.6" r="3.5" fill="#c8dce4" opacity="0.73"/><circle cx="1523.0" cy="410.2" r="5.3" fill="#c0d6dc" opacity="0.74"/><circle cx="1606.5" cy="400.9" r="4.1" fill="#e8f4f4" opacity="0.68"/><circle cx="1509.6" cy="400.1" r="2.7" fill="#c8dce4" opacity="0.63"/><circle cx="1596.0" cy="453.7" r="5.2" fill="#c0d6dc" opacity="0.79"/><circle cx="1514.6" cy="467.9" r="5.4" fill="#d8e8ee" opacity="0.73"/><circle cx="1576.5" cy="494.2" r="3.4" fill="#d8e8ee" opacity="0.51"/><circle cx="1597.5" cy="501.5" r="3.0" fill="#a0bece" opacity="0.66"/><circle cx="1618.3" cy="487.6" r="4.4" fill="#d8e8ee" opacity="0.52"/><circle cx="1484.0" cy="474.6" r="4.2" fill="#90b0c6" opacity="0.85"/><circle cx="1569.4" cy="442.3" r="4.5" fill="#a0bece" opacity="0.77"/><circle cx="1600.8" cy="469.7" r="5.6" fill="#90b0c6" opacity="0.71"/><circle cx="1509.2" cy="459.0" r="3.9" fill="#c8dce4" opacity="0.82"/><circle cx="1642.1" cy="478.4" r="5.3" fill="#c8dce4" opacity="0.58"/><circle cx="1526.1" cy="416.4" r="5.7" fill="#90b0c6" opacity="0.53"/><circle cx="1579.1" cy="478.9" r="3.6" fill="#c0d6dc" opacity="0.53"/><circle cx="1626.3" cy="398.7" r="3.2" fill="#90b0c6" opacity="0.73"/><circle cx="1643.1" cy="389.9" r="5.2" fill="#90b0c6" opacity="0.73"/><circle cx="1616.3" cy="470.7" r="4.6" fill="#a0bece" opacity="0.77"/><circle cx="1492.6" cy="403.3" r="3.5" fill="#90b0c6" opacity="0.70"/><circle cx="1486.2" cy="482.6" r="5.7" fill="#e8f4f4" opacity="0.67"/><circle cx="1560.6" cy="404.7" r="4.6" fill="#c8dce4" opacity="0.74"/><circle cx="1496.7" cy="428.5" r="4.7" fill="#90b0c6" opacity="0.56"/><circle cx="1513.3" cy="393.0" r="4.9" fill="#90b0c6" opacity="0.88"/><circle cx="1549.8" cy="473.6" r="3.0" fill="#c8dce4" opacity="0.74"/><circle cx="1610.3" cy="389.3" r="2.9" fill="#c0d6dc" opacity="0.54"/><circle cx="1640.4" cy="383.3" r="4.7" fill="#c8dce4" opacity="0.68"/><circle cx="1606.1" cy="462.0" r="5.7" fill="#c0d6dc" opacity="0.87"/><circle cx="1511.6" cy="457.1" r="5.1" fill="#c8dce4" opacity="0.62"/><circle cx="1510.6" cy="426.3" r="3.2" fill="#c8dce4" opacity="0.76"/><circle cx="1558.0" cy="489.4" r="5.3" fill="#e8f4f4" opacity="0.54"/><circle cx="1613.6" cy="413.8" r="2.9" fill="#a0bece" opacity="0.51"/><circle cx="1576.5" cy="428.1" r="4.3" fill="#a0bece" opacity="0.84"/><circle cx="1579.8" cy="419.5" r="3.0" fill="#e8f4f4" opacity="0.61"/><circle cx="1499.2" cy="484.7" r="4.6" fill="#90b0c6" opacity="0.84"/><circle cx="1655.0" cy="422.4" r="3.8" fill="#c8dce4" opacity="0.82"/><circle cx="1608.5" cy="378.2" r="5.8" fill="#90b0c6" opacity="0.77"/><circle cx="1583.3" cy="394.3" r="4.9" fill="#c0d6dc" opacity="0.83"/><circle cx="1615.7" cy="407.1" r="4.1" fill="#d8e8ee" opacity="0.61"/><circle cx="1552.3" cy="423.6" r="3.6" fill="#a0bece" opacity="0.65"/><circle cx="1613.3" cy="394.6" r="5.5" fill="#a0bece" opacity="0.88"/><circle cx="1635.9" cy="476.9" r="2.6" fill="#c0d6dc" opacity="0.87"/><circle cx="1552.0" cy="424.0" r="3.1" fill="#d8e8ee" opacity="0.72"/><circle cx="1526.0" cy="399.1" r="4.7" fill="#c0d6dc" opacity="0.79"/><circle cx="1649.5" cy="432.8" r="5.5" fill="#c8dce4" opacity="0.66"/><circle cx="1499.4" cy="487.2" r="4.4" fill="#c8dce4" opacity="0.64"/><circle cx="1523.0" cy="487.7" r="5.4" fill="#90b0c6" opacity="0.75"/><circle cx="1477.4" cy="467.1" r="5.5" fill="#c8dce4" opacity="0.60"/></g><g filter="url(#b05)"><circle cx="1498.4" cy="456.2" r="1.9" fill="#e0f0ff" opacity="0.98"/><circle cx="1577.6" cy="475.6" r="1.3" fill="#e0f0ff" opacity="0.96"/><circle cx="1531.5" cy="386.2" r="1.3" fill="#c0e0ff" opacity="0.91"/><circle cx="1538.6" cy="414.2" r="1.8" fill="#ffffff" opacity="0.70"/><circle cx="1627.5" cy="395.4" r="1.8" fill="#e0f0ff" opacity="0.77"/><circle cx="1495.9" cy="448.5" r="1.7" fill="#c0e0ff" opacity="0.65"/><circle cx="1513.3" cy="480.4" r="1.7" fill="#e0f0ff" opacity="0.82"/><circle cx="1494.1" cy="428.6" r="1.7" fill="#ffffff" opacity="0.80"/><circle cx="1552.3" cy="383.4" r="0.8" fill="#ffffff" opacity="0.92"/><circle cx="1596.6" cy="434.9" r="1.0" fill="#ffffff" opacity="0.95"/><circle cx="1495.5" cy="421.5" r="0.9" fill="#ffffff" opacity="0.68"/><circle cx="1483.6" cy="435.5" r="1.1" fill="#e0f0ff" opacity="0.89"/><circle cx="1535.8" cy="501.0" r="1.8" fill="#e0f0ff" opacity="0.74"/><circle cx="1571.5" cy="413.0" r="1.2" fill="#e0f0ff" opacity="0.67"/><circle cx="1602.7" cy="381.1" r="1.5" fill="#ffffff" opacity="0.74"/><circle cx="1630.7" cy="463.9" r="1.3" fill="#c0e0ff" opacity="0.77"/><circle cx="1521.7" cy="381.8" r="0.9" fill="#ffffff" opacity="0.73"/><circle cx="1656.0" cy="480.1" r="1.7" fill="#c0e0ff" opacity="0.76"/><circle cx="1624.1" cy="494.8" r="1.3" fill="#e0f0ff" opacity="0.94"/><circle cx="1636.1" cy="433.5" r="1.0" fill="#e0f0ff" opacity="0.83"/><circle cx="1570.4" cy="483.5" r="1.6" fill="#e0f0ff" opacity="0.61"/><circle cx="1486.4" cy="411.8" r="1.3" fill="#ffffff" opacity="0.72"/><circle cx="1535.5" cy="452.8" r="1.7" fill="#ffffff" opacity="0.62"/><circle cx="1581.9" cy="462.7" r="0.9" fill="#e0f0ff" opacity="0.61"/><circle cx="1610.8" cy="411.4" r="1.1" fill="#c0e0ff" opacity="0.63"/><circle cx="1604.7" cy="474.2" r="1.8" fill="#c0e0ff" opacity="0.88"/><circle cx="1579.4" cy="418.0" r="1.6" fill="#c0e0ff" opacity="0.63"/><circle cx="1617.2" cy="383.4" r="1.5" fill="#c0e0ff" opacity="0.62"/><circle cx="1582.1" cy="460.1" r="1.5" fill="#e0f0ff" opacity="0.97"/><circle cx="1547.1" cy="455.0" r="2.0" fill="#c0e0ff" opacity="0.69"/><circle cx="1487.7" cy="436.8" r="1.3" fill="#ffffff" opacity="0.93"/><circle cx="1544.8" cy="448.7" r="1.2" fill="#e0f0ff" opacity="0.96"/><circle cx="1648.0" cy="396.9" r="1.4" fill="#ffffff" opacity="0.79"/><circle cx="1578.8" cy="409.5" r="1.8" fill="#e0f0ff" opacity="0.77"/><circle cx="1514.0" cy="465.5" r="1.4" fill="#c0e0ff" opacity="0.84"/><circle cx="1580.9" cy="493.8" r="2.0" fill="#e0f0ff" opacity="0.92"/><circle cx="1488.1" cy="482.5" r="1.1" fill="#e0f0ff" opacity="0.94"/><circle cx="1648.0" cy="395.7" r="1.1" fill="#ffffff" opacity="0.81"/><circle cx="1623.6" cy="446.6" r="1.0" fill="#ffffff" opacity="0.76"/><circle cx="1627.4" cy="461.9" r="1.6" fill="#c0e0ff" opacity="0.92"/><circle cx="1589.0" cy="390.1" r="1.9" fill="#c0e0ff" opacity="0.98"/><circle cx="1619.9" cy="407.9" r="1.6" fill="#c0e0ff" opacity="0.83"/><circle cx="1583.2" cy="490.4" r="1.7" fill="#e0f0ff" opacity="0.96"/><circle cx="1637.5" cy="388.6" r="1.3" fill="#ffffff" opacity="0.89"/><circle cx="1572.8" cy="457.5" r="2.0" fill="#c0e0ff" opacity="0.80"/><circle cx="1622.8" cy="486.1" r="2.0" fill="#e0f0ff" opacity="0.96"/><circle cx="1530.7" cy="395.6" r="1.7" fill="#e0f0ff" opacity="0.98"/><circle cx="1635.0" cy="444.3" r="1.7" fill="#ffffff" opacity="0.83"/><circle cx="1555.3" cy="442.4" r="1.3" fill="#ffffff" opacity="0.82"/><circle cx="1487.1" cy="381.3" r="1.4" fill="#e0f0ff" opacity="0.79"/><circle cx="1561.2" cy="389.9" r="1.8" fill="#ffffff" opacity="0.75"/><circle cx="1491.3" cy="453.7" r="0.9" fill="#c0e0ff" opacity="0.87"/><circle cx="1644.1" cy="442.9" r="1.4" fill="#c0e0ff" opacity="0.71"/><circle cx="1505.8" cy="463.1" r="1.5" fill="#c0e0ff" opacity="0.66"/><circle cx="1606.7" cy="427.8" r="1.9" fill="#c0e0ff" opacity="0.97"/><circle cx="1561.9" cy="458.7" r="1.1" fill="#c0e0ff" opacity="0.74"/><circle cx="1604.4" cy="410.8" r="1.7" fill="#c0e0ff" opacity="0.77"/><circle cx="1539.8" cy="383.6" r="1.9" fill="#c0e0ff" opacity="0.70"/><circle cx="1563.8" cy="463.6" r="1.8" fill="#c0e0ff" opacity="0.82"/><circle cx="1536.0" cy="425.9" r="0.9" fill="#e0f0ff" opacity="0.83"/><circle cx="1630.6" cy="461.6" r="1.6" fill="#ffffff" opacity="0.72"/><circle cx="1484.1" cy="454.8" r="1.3" fill="#c0e0ff" opacity="0.71"/><circle cx="1585.8" cy="426.7" r="1.1" fill="#e0f0ff" opacity="0.97"/><circle cx="1553.3" cy="411.7" r="1.4" fill="#ffffff" opacity="0.63"/><circle cx="1478.1" cy="449.2" r="0.9" fill="#ffffff" opacity="0.66"/><circle cx="1644.0" cy="451.7" r="1.1" fill="#c0e0ff" opacity="0.76"/><circle cx="1573.7" cy="393.9" r="1.4" fill="#c0e0ff" opacity="0.98"/><circle cx="1616.2" cy="411.8" r="1.3" fill="#c0e0ff" opacity="0.80"/><circle cx="1586.5" cy="489.8" r="1.0" fill="#e0f0ff" opacity="0.76"/><circle cx="1503.2" cy="503.4" r="1.4" fill="#c0e0ff" opacity="0.83"/><circle cx="1552.5" cy="457.2" r="0.9" fill="#e0f0ff" opacity="0.63"/><circle cx="1655.8" cy="392.3" r="1.9" fill="#c0e0ff" opacity="0.70"/><circle cx="1595.0" cy="503.4" r="1.6" fill="#ffffff" opacity="1.00"/><circle cx="1633.2" cy="468.8" r="0.9" fill="#ffffff" opacity="0.79"/><circle cx="1549.4" cy="378.1" r="1.0" fill="#ffffff" opacity="0.62"/><circle cx="1521.8" cy="448.6" r="0.9" fill="#e0f0ff" opacity="0.91"/><circle cx="1602.1" cy="493.6" r="1.2" fill="#e0f0ff" opacity="0.90"/><circle cx="1565.2" cy="411.3" r="1.5" fill="#e0f0ff" opacity="0.73"/><circle cx="1481.7" cy="402.5" r="1.1" fill="#ffffff" opacity="0.92"/><circle cx="1551.0" cy="485.3" r="1.4" fill="#c0e0ff" opacity="0.79"/><circle cx="1640.1" cy="472.9" r="1.7" fill="#ffffff" opacity="0.88"/><circle cx="1583.0" cy="450.8" r="1.5" fill="#ffffff" opacity="0.82"/><circle cx="1648.2" cy="470.6" r="1.8" fill="#e0f0ff" opacity="0.93"/><circle cx="1502.2" cy="412.5" r="1.3" fill="#e0f0ff" opacity="0.81"/><circle cx="1655.1" cy="478.0" r="1.8" fill="#c0e0ff" opacity="0.67"/><circle cx="1547.0" cy="425.8" r="1.1" fill="#e0f0ff" opacity="0.85"/><circle cx="1572.9" cy="480.2" r="1.1" fill="#c0e0ff" opacity="0.76"/><circle cx="1587.3" cy="433.9" r="1.9" fill="#e0f0ff" opacity="0.83"/><circle cx="1600.0" cy="488.1" r="1.2" fill="#c0e0ff" opacity="0.70"/><circle cx="1532.4" cy="461.8" r="0.9" fill="#c0e0ff" opacity="0.65"/><circle cx="1583.8" cy="400.9" r="1.8" fill="#e0f0ff" opacity="1.00"/><circle cx="1520.4" cy="496.0" r="1.9" fill="#ffffff" opacity="0.74"/><circle cx="1488.7" cy="388.0" r="1.6" fill="#ffffff" opacity="0.69"/><circle cx="1583.3" cy="473.6" r="1.5" fill="#e0f0ff" opacity="0.68"/><circle cx="1532.6" cy="430.2" r="1.7" fill="#ffffff" opacity="0.64"/><circle cx="1580.3" cy="419.6" r="1.5" fill="#e0f0ff" opacity="0.79"/><circle cx="1484.8" cy="453.5" r="1.6" fill="#e0f0ff" opacity="0.92"/><circle cx="1529.8" cy="501.4" r="1.1" fill="#ffffff" opacity="0.72"/><circle cx="1543.7" cy="425.6" r="1.8" fill="#c0e0ff" opacity="0.94"/><circle cx="1586.4" cy="432.8" r="1.3" fill="#e0f0ff" opacity="0.92"/><circle cx="1523.2" cy="379.8" r="1.7" fill="#e0f0ff" opacity="0.73"/><circle cx="1631.7" cy="440.2" r="1.3" fill="#c0e0ff" opacity="0.96"/><circle cx="1578.8" cy="477.4" r="1.2" fill="#e0f0ff" opacity="0.99"/><circle cx="1510.6" cy="442.3" r="1.5" fill="#e0f0ff" opacity="0.65"/><circle cx="1630.3" cy="424.9" r="1.8" fill="#e0f0ff" opacity="0.91"/><circle cx="1629.8" cy="401.4" r="1.3" fill="#c0e0ff" opacity="0.72"/><circle cx="1495.5" cy="458.3" r="1.5" fill="#e0f0ff" opacity="0.69"/><circle cx="1485.7" cy="466.2" r="1.6" fill="#ffffff" opacity="0.94"/><circle cx="1497.3" cy="397.3" r="1.0" fill="#e0f0ff" opacity="0.77"/><circle cx="1634.6" cy="466.1" r="1.4" fill="#e0f0ff" opacity="0.65"/><circle cx="1532.9" cy="386.6" r="0.8" fill="#ffffff" opacity="0.67"/><circle cx="1603.6" cy="390.7" r="1.2" fill="#c0e0ff" opacity="0.93"/><circle cx="1521.2" cy="479.2" r="1.6" fill="#ffffff" opacity="0.60"/><circle cx="1638.8" cy="446.2" r="0.9" fill="#c0e0ff" opacity="0.81"/><circle cx="1547.3" cy="468.3" r="2.0" fill="#ffffff" opacity="0.68"/><circle cx="1490.2" cy="451.4" r="1.9" fill="#e0f0ff" opacity="0.78"/><circle cx="1617.4" cy="379.7" r="1.8" fill="#e0f0ff" opacity="0.65"/><circle cx="1605.3" cy="478.7" r="1.8" fill="#c0e0ff" opacity="0.92"/><circle cx="1489.7" cy="470.8" r="1.9" fill="#ffffff" opacity="0.68"/><circle cx="1521.2" cy="471.4" r="1.9" fill="#e0f0ff" opacity="0.69"/><circle cx="1538.2" cy="452.8" r="1.3" fill="#c0e0ff" opacity="0.62"/><circle cx="1575.7" cy="501.7" r="1.6" fill="#e0f0ff" opacity="0.99"/><circle cx="1646.6" cy="400.2" r="1.0" fill="#c0e0ff" opacity="0.82"/><circle cx="1611.2" cy="441.9" r="1.9" fill="#e0f0ff" opacity="0.92"/><circle cx="1652.4" cy="412.1" r="0.8" fill="#e0f0ff" opacity="0.70"/><circle cx="1593.5" cy="414.2" r="1.4" fill="#c0e0ff" opacity="0.66"/><circle cx="1511.4" cy="489.8" r="0.9" fill="#ffffff" opacity="0.66"/><circle cx="1604.3" cy="434.8" r="1.7" fill="#c0e0ff" opacity="0.91"/><circle cx="1607.6" cy="440.4" r="1.9" fill="#c0e0ff" opacity="0.93"/><circle cx="1491.3" cy="433.7" r="1.7" fill="#ffffff" opacity="0.70"/><circle cx="1528.8" cy="459.5" r="1.7" fill="#e0f0ff" opacity="0.67"/><circle cx="1510.5" cy="483.7" r="1.4" fill="#c0e0ff" opacity="0.67"/><circle cx="1489.1" cy="438.3" r="1.7" fill="#c0e0ff" opacity="0.82"/><circle cx="1620.2" cy="386.5" r="1.7" fill="#ffffff" opacity="0.93"/><circle cx="1521.9" cy="468.8" r="1.0" fill="#e0f0ff" opacity="0.84"/><circle cx="1618.7" cy="407.2" r="1.7" fill="#c0e0ff" opacity="0.93"/><circle cx="1524.0" cy="491.5" r="1.2" fill="#ffffff" opacity="0.95"/><circle cx="1478.1" cy="486.9" r="1.8" fill="#c0e0ff" opacity="0.90"/><circle cx="1568.6" cy="468.8" r="1.3" fill="#e0f0ff" opacity="0.80"/><circle cx="1568.6" cy="386.5" r="1.3" fill="#ffffff" opacity="0.71"/><circle cx="1521.8" cy="463.1" r="1.2" fill="#e0f0ff" opacity="0.77"/><circle cx="1624.7" cy="404.7" r="1.4" fill="#e0f0ff" opacity="0.88"/><circle cx="1561.5" cy="456.7" r="1.3" fill="#c0e0ff" opacity="0.64"/><circle cx="1591.5" cy="460.7" r="1.9" fill="#c0e0ff" opacity="0.87"/><circle cx="1519.4" cy="453.7" r="1.0" fill="#e0f0ff" opacity="0.98"/><circle cx="1568.2" cy="410.4" r="1.4" fill="#e0f0ff" opacity="0.92"/><circle cx="1578.2" cy="432.0" r="1.5" fill="#c0e0ff" opacity="0.91"/><circle cx="1635.3" cy="475.1" r="1.5" fill="#e0f0ff" opacity="1.00"/><circle cx="1532.6" cy="451.5" r="1.0" fill="#e0f0ff" opacity="0.64"/><circle cx="1627.2" cy="464.5" r="1.1" fill="#ffffff" opacity="0.61"/><circle cx="1492.1" cy="470.6" r="1.5" fill="#c0e0ff" opacity="0.99"/><circle cx="1603.9" cy="400.2" r="1.0" fill="#ffffff" opacity="0.93"/><circle cx="1592.8" cy="453.2" r="1.0" fill="#ffffff" opacity="0.70"/><circle cx="1618.6" cy="397.2" r="0.9" fill="#c0e0ff" opacity="0.86"/><circle cx="1566.0" cy="427.8" r="1.8" fill="#c0e0ff" opacity="0.68"/><circle cx="1507.0" cy="488.1" r="1.9" fill="#c0e0ff" opacity="0.83"/><circle cx="1642.3" cy="399.3" r="0.9" fill="#ffffff" opacity="0.61"/><circle cx="1517.4" cy="490.9" r="0.8" fill="#c0e0ff" opacity="0.81"/><circle cx="1559.0" cy="426.2" r="0.9" fill="#ffffff" opacity="0.80"/><circle cx="1589.6" cy="463.3" r="1.5" fill="#c0e0ff" opacity="0.79"/></g></g><ellipse cx="1560" cy="395" rx="45" ry="10" fill="#7a9a50" opacity="0.45" filter="url(#b2)"/><line x1="1482.6" y1="390.8" x2="1635.9" y2="383.7" stroke="#fff" stroke-width="3.6" stroke-dasharray="9,5.5"/><rect x="1626.4" y="488.3" width="8.5" height="30.400000000000034" fill="#fff"/><text x="1642" y="314.7" font-size="21" fill="#fff" text-anchor="end" textLength="78.7" lengthAdjust="spacingAndGlyphs">10 days</text><text transform="translate(1477,429.9) rotate(-90)" x="0" y="0" font-size="25" fill="#fff" text-anchor="middle" textLength="159.4" lengthAdjust="spacingAndGlyphs"><tspan style="font-style:italic">LBD11-OE</tspan> est</text></g><g clip-path="url(#cp8)"><rect x="745.5" y="750" width="249.79999999999995" height="257" fill="url(#bgH)"/><path d="M828.0,740.0 C847.7,738.3 937.1,738.4 958.0,740.0 C978.9,741.6 955.0,742.5 953.2,749.9 C951.4,757.2 948.7,774.1 947.4,784.1 C946.1,794.1 947.7,803.7 945.4,809.6 C943.1,815.5 937.9,817.6 933.7,819.3 C929.5,821.0 923.6,820.3 920.0,820.0 C916.4,819.7 916.0,820.8 912.1,817.4 C908.2,814.0 901.7,806.6 896.5,799.8 C891.3,792.9 886.7,782.8 880.8,776.3 C874.9,769.8 868.1,765.0 861.3,760.6 C854.5,756.2 845.5,753.4 840.0,750.0 C834.5,746.6 808.3,741.7 828.0,740.0 Z" fill="#4e8c2a" filter="url(#b05)"/><g clip-path="url(#cpH)"><g filter="url(#b05)"><circle cx="879.4" cy="750.8" r="0.8" fill="#70b040" opacity="0.49"/><circle cx="879.1" cy="756.7" r="0.8" fill="#c8f0a0" opacity="0.85"/><circle cx="867.0" cy="773.0" r="1.0" fill="#a0d080" opacity="0.69"/><circle cx="926.7" cy="806.6" r="1.0" fill="#c8f0a0" opacity="0.50"/><circle cx="869.6" cy="812.4" r="1.3" fill="#a0d080" opacity="0.42"/><circle cx="855.4" cy="805.7" r="0.7" fill="#ffffff" opacity="0.86"/><circle cx="830.4" cy="808.9" r="1.0" fill="#70b040" opacity="0.88"/><circle cx="905.3" cy="781.5" r="0.8" fill="#a0d080" opacity="0.85"/><circle cx="835.9" cy="781.2" r="1.7" fill="#ffffff" opacity="0.61"/><circle cx="841.8" cy="750.9" r="1.4" fill="#70b040" opacity="0.55"/><circle cx="841.1" cy="756.5" r="1.6" fill="#c8f0a0" opacity="0.89"/><circle cx="830.2" cy="782.2" r="1.1" fill="#ffffff" opacity="0.71"/><circle cx="948.1" cy="792.6" r="1.5" fill="#ffffff" opacity="0.42"/><circle cx="908.7" cy="776.4" r="1.3" fill="#c8f0a0" opacity="0.61"/><circle cx="900.2" cy="771.2" r="0.9" fill="#ffffff" opacity="0.48"/><circle cx="907.7" cy="806.5" r="1.3" fill="#ffffff" opacity="0.68"/><circle cx="896.6" cy="795.7" r="0.8" fill="#ffffff" opacity="0.79"/><circle cx="839.3" cy="752.2" r="1.6" fill="#ffffff" opacity="0.49"/><circle cx="888.1" cy="755.6" r="1.2" fill="#ffffff" opacity="0.41"/><circle cx="906.1" cy="759.1" r="1.7" fill="#c8f0a0" opacity="0.62"/><circle cx="919.8" cy="821.2" r="1.2" fill="#c8f0a0" opacity="0.59"/><circle cx="868.7" cy="755.7" r="1.6" fill="#70b040" opacity="0.87"/><circle cx="950.4" cy="806.4" r="1.1" fill="#70b040" opacity="0.89"/><circle cx="845.1" cy="785.0" r="1.0" fill="#a0d080" opacity="0.74"/><circle cx="847.7" cy="771.4" r="1.4" fill="#a0d080" opacity="0.45"/><circle cx="916.1" cy="810.1" r="1.3" fill="#70b040" opacity="0.45"/><circle cx="921.2" cy="779.0" r="0.9" fill="#70b040" opacity="0.49"/><circle cx="848.0" cy="817.9" r="1.1" fill="#a0d080" opacity="0.62"/><circle cx="933.8" cy="813.5" r="1.7" fill="#70b040" opacity="0.76"/><circle cx="876.9" cy="816.0" r="0.8" fill="#70b040" opacity="0.74"/><circle cx="877.7" cy="810.0" r="0.7" fill="#ffffff" opacity="0.79"/><circle cx="846.2" cy="810.8" r="0.9" fill="#70b040" opacity="0.65"/><circle cx="830.0" cy="791.4" r="1.7" fill="#a0d080" opacity="0.43"/><circle cx="881.1" cy="816.6" r="1.7" fill="#ffffff" opacity="0.54"/><circle cx="836.8" cy="762.4" r="1.6" fill="#70b040" opacity="0.82"/><circle cx="890.2" cy="762.8" r="0.9" fill="#70b040" opacity="0.84"/><circle cx="943.3" cy="770.2" r="0.8" fill="#ffffff" opacity="0.66"/><circle cx="951.0" cy="808.8" r="0.9" fill="#70b040" opacity="0.76"/><circle cx="860.8" cy="759.8" r="1.2" fill="#ffffff" opacity="0.87"/><circle cx="899.4" cy="817.0" r="1.5" fill="#a0d080" opacity="0.64"/><circle cx="837.5" cy="775.3" r="1.3" fill="#a0d080" opacity="0.45"/><circle cx="903.5" cy="820.2" r="1.4" fill="#ffffff" opacity="0.84"/><circle cx="844.0" cy="808.8" r="0.8" fill="#c8f0a0" opacity="0.61"/><circle cx="925.7" cy="753.1" r="1.1" fill="#ffffff" opacity="0.43"/><circle cx="902.9" cy="764.4" r="0.7" fill="#a0d080" opacity="0.80"/><circle cx="906.0" cy="799.0" r="0.7" fill="#ffffff" opacity="0.53"/><circle cx="919.7" cy="821.1" r="0.8" fill="#70b040" opacity="0.68"/><circle cx="871.9" cy="771.1" r="1.6" fill="#c8f0a0" opacity="0.80"/><circle cx="896.8" cy="779.8" r="1.3" fill="#c8f0a0" opacity="0.83"/><circle cx="882.8" cy="759.5" r="1.0" fill="#ffffff" opacity="0.78"/><circle cx="882.9" cy="802.8" r="1.8" fill="#c8f0a0" opacity="0.89"/><circle cx="855.9" cy="772.4" r="1.3" fill="#c8f0a0" opacity="0.85"/><circle cx="922.8" cy="755.1" r="1.0" fill="#a0d080" opacity="0.48"/><circle cx="929.2" cy="797.8" r="1.1" fill="#c8f0a0" opacity="0.43"/><circle cx="944.2" cy="765.4" r="1.7" fill="#70b040" opacity="0.62"/><circle cx="897.1" cy="813.5" r="1.0" fill="#c8f0a0" opacity="0.61"/><circle cx="837.7" cy="812.1" r="1.8" fill="#ffffff" opacity="0.42"/><circle cx="884.9" cy="764.0" r="1.3" fill="#70b040" opacity="0.85"/><circle cx="949.2" cy="786.2" r="1.3" fill="#c8f0a0" opacity="0.56"/><circle cx="859.2" cy="816.3" r="1.6" fill="#70b040" opacity="0.60"/><circle cx="847.7" cy="753.4" r="1.1" fill="#ffffff" opacity="0.81"/><circle cx="948.7" cy="800.7" r="1.1" fill="#ffffff" opacity="0.71"/><circle cx="875.1" cy="776.2" r="1.1" fill="#c8f0a0" opacity="0.68"/><circle cx="923.3" cy="750.7" r="0.7" fill="#70b040" opacity="0.85"/><circle cx="871.5" cy="753.1" r="1.4" fill="#70b040" opacity="0.77"/><circle cx="915.3" cy="793.2" r="1.7" fill="#a0d080" opacity="0.88"/><circle cx="957.6" cy="783.3" r="1.3" fill="#ffffff" opacity="0.45"/><circle cx="956.2" cy="751.4" r="1.1" fill="#70b040" opacity="0.75"/><circle cx="887.0" cy="778.0" r="1.5" fill="#c8f0a0" opacity="0.48"/><circle cx="833.0" cy="801.6" r="1.1" fill="#c8f0a0" opacity="0.56"/></g><rect x="830" y="750" width="130" height="25" fill="#3a7a20" opacity="0.4"/></g><path d="M924,838 C905,855 890,870 878,892 C868,912 858,930 838,946 C815,962 790,972 768,988 C758,995 750,1000 740,1008" stroke="#6a7a98" stroke-width="11" fill="none" stroke-linecap="round" opacity="0.35" filter="url(#b2)"/><path d="M924,838 C905,855 890,870 878,892 C868,912 858,930 838,946 C815,962 790,972 768,988 C758,995 750,1000 740,1008" stroke="#98a6c0" stroke-width="7" fill="none" stroke-linecap="round" opacity="0.7" filter="url(#b1)"/><path d="M924,838 C905,855 890,870 878,892 C868,912 858,930 838,946 C815,962 790,972 768,988 C758,995 750,1000 740,1008" stroke="#c8d2e4" stroke-width="2.5" fill="none" stroke-linecap="round" opacity="0.45" filter="url(#b1)"/><path d="M918,825 C905,808 888,797 868,797 C850,798 838,812 836,832 C836,850 845,860 858,866 C845,862 830,858 812,862 C790,866 772,880 762,898 C758,905 756,912 755,918" stroke="#6a7a98" stroke-width="11" fill="none" stroke-linecap="round" opacity="0.35" filter="url(#b2)"/><path d="M918,825 C905,808 888,797 868,797 C850,798 838,812 836,832 C836,850 845,860 858,866 C845,862 830,858 812,862 C790,866 772,880 762,898 C758,905 756,912 755,918" stroke="#98a6c0" stroke-width="7" fill="none" stroke-linecap="round" opacity="0.7" filter="url(#b1)"/><path d="M918,825 C905,808 888,797 868,797 C850,798 838,812 836,832 C836,850 845,860 858,866 C845,862 830,858 812,862 C790,866 772,880 762,898 C758,905 756,912 755,918" stroke="#c8d2e4" stroke-width="2.5" fill="none" stroke-linecap="round" opacity="0.45" filter="url(#b1)"/><g filter="url(#b05)"><circle cx="760.4" cy="991.9" r="0.6" fill="#ffffff" opacity="0.94"/><circle cx="807.3" cy="865.5" r="0.8" fill="#c0d0f0" opacity="0.92"/><circle cx="891.3" cy="876.9" r="1.1" fill="#ffffff" opacity="0.45"/><circle cx="865.1" cy="915.4" r="1.2" fill="#c0d0f0" opacity="0.98"/><circle cx="810.8" cy="859.2" r="0.9" fill="#c0d0f0" opacity="0.42"/><circle cx="758.9" cy="997.7" r="0.6" fill="#f0c0e0" opacity="0.82"/><circle cx="854.9" cy="926.5" r="1.2" fill="#c0d0f0" opacity="0.79"/><circle cx="776.3" cy="978.0" r="0.5" fill="#f0c0e0" opacity="0.57"/><circle cx="793.5" cy="864.0" r="1.1" fill="#ffffff" opacity="0.52"/><circle cx="857.6" cy="866.8" r="0.6" fill="#ffffff" opacity="0.93"/><circle cx="861.0" cy="800.0" r="1.3" fill="#c0d0f0" opacity="0.44"/><circle cx="843.7" cy="859.6" r="0.6" fill="#e8f0ff" opacity="0.99"/><circle cx="916.3" cy="817.9" r="0.6" fill="#c0d0f0" opacity="0.61"/><circle cx="770.8" cy="986.2" r="0.8" fill="#ffffff" opacity="0.62"/><circle cx="884.2" cy="886.1" r="0.9" fill="#ffffff" opacity="0.79"/><circle cx="873.3" cy="796.0" r="1.2" fill="#ffffff" opacity="0.44"/><circle cx="881.9" cy="796.3" r="0.5" fill="#e8f0ff" opacity="1.00"/><circle cx="835.9" cy="840.4" r="1.1" fill="#e8f0ff" opacity="0.80"/><circle cx="857.4" cy="863.3" r="1.1" fill="#c0d0f0" opacity="0.92"/><circle cx="913.3" cy="850.6" r="0.8" fill="#e8f0ff" opacity="0.60"/><circle cx="919.1" cy="846.2" r="1.2" fill="#ffffff" opacity="0.70"/><circle cx="887.3" cy="802.2" r="0.8" fill="#c0d0f0" opacity="0.46"/><circle cx="843.2" cy="858.2" r="1.0" fill="#e8f0ff" opacity="0.53"/><circle cx="787.2" cy="978.4" r="0.6" fill="#ffffff" opacity="0.74"/><circle cx="822.0" cy="859.1" r="1.0" fill="#c0d0f0" opacity="0.55"/><circle cx="822.7" cy="857.6" r="1.2" fill="#c0d0f0" opacity="0.55"/><circle cx="847.4" cy="937.8" r="0.8" fill="#f0c0e0" opacity="0.53"/><circle cx="855.5" cy="928.2" r="1.2" fill="#c0d0f0" opacity="0.97"/><circle cx="842.5" cy="812.5" r="1.0" fill="#f0c0e0" opacity="0.59"/><circle cx="855.0" cy="863.2" r="1.0" fill="#f0c0e0" opacity="0.59"/><circle cx="880.5" cy="798.8" r="0.7" fill="#e8f0ff" opacity="0.88"/><circle cx="786.6" cy="874.8" r="0.9" fill="#ffffff" opacity="0.55"/><circle cx="844.2" cy="811.4" r="0.6" fill="#f0c0e0" opacity="0.47"/><circle cx="910.8" cy="814.0" r="1.1" fill="#ffffff" opacity="0.51"/><circle cx="855.2" cy="798.5" r="1.0" fill="#e8f0ff" opacity="0.44"/><circle cx="840.6" cy="847.2" r="1.2" fill="#ffffff" opacity="0.81"/><circle cx="855.3" cy="864.8" r="0.6" fill="#f0c0e0" opacity="0.53"/><circle cx="891.6" cy="805.8" r="1.1" fill="#c0d0f0" opacity="0.74"/><circle cx="840.6" cy="811.0" r="1.1" fill="#ffffff" opacity="0.63"/><circle cx="839.2" cy="846.4" r="1.3" fill="#c0d0f0" opacity="0.95"/><circle cx="834.1" cy="822.6" r="1.0" fill="#e8f0ff" opacity="0.44"/><circle cx="889.3" cy="801.0" r="1.2" fill="#f0c0e0" opacity="0.94"/><circle cx="836.4" cy="845.7" r="0.7" fill="#ffffff" opacity="0.79"/><circle cx="839.8" cy="846.7" r="0.9" fill="#ffffff" opacity="0.43"/><circle cx="849.6" cy="862.8" r="0.6" fill="#e8f0ff" opacity="0.48"/><circle cx="844.8" cy="941.6" r="0.7" fill="#c0d0f0" opacity="0.79"/><circle cx="765.9" cy="897.9" r="0.9" fill="#ffffff" opacity="0.44"/><circle cx="897.6" cy="806.2" r="1.1" fill="#e8f0ff" opacity="0.84"/><circle cx="762.8" cy="898.1" r="0.7" fill="#ffffff" opacity="0.57"/><circle cx="772.4" cy="881.3" r="0.6" fill="#f0c0e0" opacity="0.70"/><circle cx="859.4" cy="922.0" r="0.8" fill="#e8f0ff" opacity="0.42"/><circle cx="855.3" cy="925.8" r="1.2" fill="#f0c0e0" opacity="0.55"/><circle cx="813.7" cy="963.2" r="0.5" fill="#e8f0ff" opacity="0.96"/><circle cx="849.2" cy="803.2" r="1.2" fill="#ffffff" opacity="0.77"/><circle cx="785.7" cy="977.7" r="0.5" fill="#e8f0ff" opacity="0.99"/><circle cx="873.3" cy="896.9" r="1.0" fill="#ffffff" opacity="0.68"/><circle cx="891.0" cy="801.4" r="1.3" fill="#e8f0ff" opacity="0.47"/><circle cx="905.2" cy="859.2" r="1.1" fill="#c0d0f0" opacity="0.44"/><circle cx="881.2" cy="800.0" r="0.6" fill="#e8f0ff" opacity="0.96"/><circle cx="860.0" cy="797.9" r="0.8" fill="#c0d0f0" opacity="0.98"/><circle cx="867.4" cy="794.0" r="0.9" fill="#ffffff" opacity="0.63"/><circle cx="778.8" cy="877.6" r="1.0" fill="#f0c0e0" opacity="0.62"/><circle cx="886.9" cy="878.7" r="1.1" fill="#c0d0f0" opacity="0.58"/><circle cx="898.2" cy="861.5" r="1.3" fill="#c0d0f0" opacity="0.76"/><circle cx="816.3" cy="956.2" r="0.8" fill="#c0d0f0" opacity="0.79"/><circle cx="891.4" cy="803.5" r="1.2" fill="#f0c0e0" opacity="0.48"/><circle cx="866.9" cy="919.9" r="0.7" fill="#f0c0e0" opacity="0.80"/><circle cx="914.7" cy="816.7" r="0.8" fill="#e8f0ff" opacity="0.46"/><circle cx="839.5" cy="841.5" r="1.3" fill="#f0c0e0" opacity="0.97"/><circle cx="850.9" cy="862.2" r="1.1" fill="#f0c0e0" opacity="0.49"/><circle cx="770.7" cy="981.9" r="1.1" fill="#f0c0e0" opacity="0.56"/><circle cx="802.9" cy="963.7" r="1.2" fill="#c0d0f0" opacity="0.97"/><circle cx="823.0" cy="955.0" r="0.8" fill="#e8f0ff" opacity="0.53"/><circle cx="767.3" cy="989.8" r="0.5" fill="#e8f0ff" opacity="0.45"/><circle cx="779.4" cy="875.5" r="0.9" fill="#f0c0e0" opacity="0.42"/><circle cx="768.5" cy="891.4" r="1.1" fill="#f0c0e0" opacity="0.95"/><circle cx="852.9" cy="861.6" r="1.1" fill="#f0c0e0" opacity="0.75"/><circle cx="769.5" cy="885.7" r="1.1" fill="#c0d0f0" opacity="0.97"/><circle cx="903.1" cy="807.3" r="1.0" fill="#c0d0f0" opacity="0.64"/><circle cx="762.9" cy="891.1" r="1.3" fill="#ffffff" opacity="0.66"/><circle cx="757.9" cy="997.0" r="0.7" fill="#ffffff" opacity="0.72"/><circle cx="915.0" cy="841.4" r="1.2" fill="#c0d0f0" opacity="0.70"/><circle cx="912.9" cy="820.1" r="0.6" fill="#c0d0f0" opacity="0.75"/><circle cx="875.9" cy="800.3" r="0.6" fill="#e8f0ff" opacity="0.41"/><circle cx="759.6" cy="996.7" r="1.1" fill="#ffffff" opacity="0.56"/><circle cx="887.8" cy="802.3" r="0.5" fill="#c0d0f0" opacity="0.79"/><circle cx="855.2" cy="868.2" r="0.6" fill="#f0c0e0" opacity="0.89"/><circle cx="749.2" cy="997.8" r="0.7" fill="#ffffff" opacity="0.67"/><circle cx="868.7" cy="800.4" r="0.7" fill="#ffffff" opacity="0.42"/><circle cx="816.8" cy="859.7" r="1.3" fill="#c0d0f0" opacity="0.95"/><circle cx="852.3" cy="933.2" r="1.1" fill="#f0c0e0" opacity="0.46"/><circle cx="850.4" cy="863.4" r="0.8" fill="#c0d0f0" opacity="0.84"/><circle cx="824.1" cy="954.4" r="1.1" fill="#c0d0f0" opacity="0.56"/><circle cx="791.5" cy="865.5" r="0.5" fill="#f0c0e0" opacity="0.52"/><circle cx="840.6" cy="943.2" r="1.0" fill="#f0c0e0" opacity="0.88"/><circle cx="849.3" cy="938.8" r="0.9" fill="#f0c0e0" opacity="0.64"/><circle cx="740.0" cy="1007.8" r="0.5" fill="#c0d0f0" opacity="0.95"/><circle cx="819.1" cy="857.6" r="1.0" fill="#c0d0f0" opacity="0.89"/><circle cx="852.4" cy="802.1" r="1.2" fill="#c0d0f0" opacity="0.60"/><circle cx="837.8" cy="845.4" r="0.5" fill="#e8f0ff" opacity="0.69"/><circle cx="794.0" cy="869.4" r="0.7" fill="#c0d0f0" opacity="0.68"/><circle cx="813.8" cy="961.6" r="0.7" fill="#ffffff" opacity="0.86"/><circle cx="792.2" cy="970.0" r="1.0" fill="#ffffff" opacity="0.70"/><circle cx="839.5" cy="945.0" r="0.7" fill="#c0d0f0" opacity="0.61"/><circle cx="841.2" cy="940.9" r="1.2" fill="#ffffff" opacity="0.76"/><circle cx="817.6" cy="955.6" r="0.9" fill="#e8f0ff" opacity="0.61"/><circle cx="766.7" cy="890.0" r="1.2" fill="#e8f0ff" opacity="0.95"/><circle cx="850.4" cy="939.0" r="1.1" fill="#f0c0e0" opacity="0.54"/><circle cx="837.9" cy="863.7" r="1.0" fill="#ffffff" opacity="0.57"/><circle cx="837.1" cy="817.4" r="1.1" fill="#e8f0ff" opacity="0.87"/><circle cx="786.8" cy="978.8" r="0.6" fill="#c0d0f0" opacity="0.98"/><circle cx="836.3" cy="820.5" r="0.9" fill="#f0c0e0" opacity="0.43"/><circle cx="818.3" cy="958.9" r="1.3" fill="#e8f0ff" opacity="0.90"/><circle cx="805.3" cy="965.9" r="0.9" fill="#e8f0ff" opacity="0.64"/><circle cx="902.9" cy="808.4" r="1.3" fill="#e8f0ff" opacity="0.94"/><circle cx="849.3" cy="859.0" r="0.6" fill="#ffffff" opacity="0.98"/><circle cx="834.2" cy="828.8" r="0.8" fill="#c0d0f0" opacity="0.72"/><circle cx="764.1" cy="988.3" r="0.8" fill="#c0d0f0" opacity="0.48"/><circle cx="803.0" cy="968.5" r="1.3" fill="#e8f0ff" opacity="0.48"/><circle cx="840.5" cy="944.6" r="1.0" fill="#c0d0f0" opacity="0.55"/></g><ellipse cx="928" cy="828" rx="15" ry="13" fill="#98a898" opacity="0.6" filter="url(#b2)"/><rect x="968.9" y="969.6" width="8.200000000000045" height="18.899999999999977" fill="#fff"/><text x="988.4" y="783.1" font-size="21" fill="#fff" text-anchor="end" textLength="66" lengthAdjust="spacingAndGlyphs">8 days</text><text transform="translate(782,879.5) rotate(-90)" x="0" y="0" font-size="25" fill="#fff" text-anchor="middle" textLength="200.5" lengthAdjust="spacingAndGlyphs"><tspan style="font-style:italic">LBD11-OE</tspan> DMSO</text></g><g clip-path="url(#cp9)"><rect x="744.3" y="1017.8" width="251.60000000000002" height="250.0" fill="url(#bgI)"/><path d="M770.0,1010.0 C789.9,1005.4 895.5,1007.5 918.0,1010.0 C940.5,1012.5 908.9,1020.1 905.0,1025.0 C901.1,1029.9 897.2,1032.0 894.5,1039.3 C891.8,1046.6 890.3,1058.9 888.7,1068.7 C887.1,1078.5 885.8,1087.6 884.8,1098.0 C883.8,1108.4 883.1,1120.6 882.8,1131.3 C882.5,1142.0 880.1,1154.5 883.0,1162.0 C885.9,1169.5 897.2,1171.6 900.4,1176.3 C903.6,1181.0 903.1,1187.0 902.4,1190.0 C901.7,1193.0 896.0,1191.4 896.0,1194.0 C896.0,1196.6 901.7,1200.4 902.4,1205.6 C903.1,1210.8 904.0,1219.8 900.4,1225.2 C896.8,1230.6 886.3,1235.6 880.8,1237.9 C875.3,1240.2 872.1,1239.7 867.2,1238.9 C862.3,1238.1 855.8,1236.9 851.5,1233.0 C847.2,1229.1 843.7,1221.9 841.7,1215.4 C839.8,1208.9 842.7,1200.1 839.8,1193.9 C836.9,1187.7 827.0,1184.4 824.1,1178.2 C821.2,1172.0 822.9,1165.2 822.2,1156.7 C821.6,1148.2 820.9,1138.8 820.2,1127.4 C819.5,1116.0 819.2,1100.3 818.2,1088.2 C817.2,1076.1 817.5,1063.5 814.3,1055.0 C811.0,1046.5 806.1,1044.9 798.7,1037.4 C791.3,1029.9 750.1,1014.6 770.0,1010.0 Z" fill="url(#stemI)" filter="url(#b05)"/><g clip-path="url(#cpI)"><line x1="828.1" y1="1109.6" x2="828.1" y2="1156.4" stroke="#c0e090" stroke-width="1.7" opacity="0.42"/><line x1="871.5" y1="1129.7" x2="871.5" y2="1184.1" stroke="#70a040" stroke-width="1.0" opacity="0.32"/><line x1="847.0" y1="1151.4" x2="847.0" y2="1196.1" stroke="#c0e090" stroke-width="2.0" opacity="0.31"/><line x1="819.2" y1="1082.3" x2="819.2" y2="1135.7" stroke="#d8f0c0" stroke-width="1.6" opacity="0.46"/><line x1="835.8" y1="1156.8" x2="835.8" y2="1181.4" stroke="#d8f0c0" stroke-width="0.9" opacity="0.41"/><line x1="856.8" y1="1036.7" x2="856.8" y2="1066.2" stroke="#70a040" stroke-width="1.4" opacity="0.27"/><line x1="862.5" y1="1068.8" x2="862.5" y2="1093.7" stroke="#c0e090" stroke-width="1.5" opacity="0.20"/><line x1="871.1" y1="1055.2" x2="871.1" y2="1090.6" stroke="#a0d070" stroke-width="1.3" opacity="0.35"/><line x1="839.4" y1="1083.9" x2="839.4" y2="1126.7" stroke="#70a040" stroke-width="1.7" opacity="0.32"/><line x1="841.7" y1="1064.3" x2="841.7" y2="1103.3" stroke="#70a040" stroke-width="1.2" opacity="0.37"/><line x1="882.9" y1="1169.9" x2="882.9" y2="1216.3" stroke="#d8f0c0" stroke-width="1.2" opacity="0.49"/><line x1="837.8" y1="1032.4" x2="837.8" y2="1083.1" stroke="#70a040" stroke-width="1.6" opacity="0.33"/><line x1="816.4" y1="1169.3" x2="816.4" y2="1193.0" stroke="#c0e090" stroke-width="1.7" opacity="0.38"/><line x1="853.3" y1="1099.5" x2="853.3" y2="1151.7" stroke="#a0d070" stroke-width="0.9" opacity="0.44"/><line x1="816.5" y1="1047.0" x2="816.5" y2="1106.1" stroke="#a0d070" stroke-width="1.6" opacity="0.39"/><line x1="870.4" y1="1035.4" x2="870.4" y2="1084.5" stroke="#70a040" stroke-width="0.9" opacity="0.22"/><line x1="832.2" y1="1059.0" x2="832.2" y2="1107.6" stroke="#d8f0c0" stroke-width="1.9" opacity="0.34"/><line x1="863.2" y1="1092.6" x2="863.2" y2="1114.1" stroke="#d8f0c0" stroke-width="1.9" opacity="0.26"/><line x1="829.0" y1="1098.5" x2="829.0" y2="1137.8" stroke="#c0e090" stroke-width="0.9" opacity="0.24"/><line x1="870.4" y1="1128.0" x2="870.4" y2="1149.1" stroke="#d8f0c0" stroke-width="2.0" opacity="0.39"/><line x1="850.7" y1="1058.0" x2="850.7" y2="1103.5" stroke="#70a040" stroke-width="1.0" opacity="0.26"/><line x1="866.2" y1="1120.8" x2="866.2" y2="1156.1" stroke="#a0d070" stroke-width="1.2" opacity="0.49"/><line x1="872.1" y1="1145.7" x2="872.1" y2="1191.2" stroke="#a0d070" stroke-width="1.0" opacity="0.24"/><line x1="828.5" y1="1113.8" x2="828.5" y2="1147.9" stroke="#70a040" stroke-width="0.8" opacity="0.35"/><line x1="847.1" y1="1178.9" x2="847.1" y2="1221.4" stroke="#70a040" stroke-width="1.3" opacity="0.34"/><line x1="875.4" y1="1020.2" x2="875.4" y2="1057.0" stroke="#d8f0c0" stroke-width="1.5" opacity="0.29"/><line x1="861.3" y1="1142.0" x2="861.3" y2="1181.9" stroke="#d8f0c0" stroke-width="1.2" opacity="0.38"/><line x1="893.5" y1="1161.6" x2="893.5" y2="1185.1" stroke="#d8f0c0" stroke-width="1.8" opacity="0.47"/><line x1="851.3" y1="1178.5" x2="851.3" y2="1208.8" stroke="#a0d070" stroke-width="1.2" opacity="0.32"/><line x1="845.0" y1="1131.8" x2="845.0" y2="1170.7" stroke="#d8f0c0" stroke-width="0.8" opacity="0.49"/><line x1="863.0" y1="1118.6" x2="863.0" y2="1177.1" stroke="#a0d070" stroke-width="1.3" opacity="0.46"/><line x1="863.1" y1="1077.3" x2="863.1" y2="1120.1" stroke="#70a040" stroke-width="1.3" opacity="0.26"/><line x1="874.1" y1="1115.0" x2="874.1" y2="1163.7" stroke="#70a040" stroke-width="1.0" opacity="0.23"/><line x1="860.0" y1="1094.0" x2="860.0" y2="1141.0" stroke="#c0e090" stroke-width="1.3" opacity="0.50"/><line x1="887.5" y1="1118.3" x2="887.5" y2="1174.9" stroke="#70a040" stroke-width="1.5" opacity="0.38"/><line x1="844.6" y1="1065.1" x2="844.6" y2="1111.4" stroke="#70a040" stroke-width="1.1" opacity="0.43"/><line x1="889.3" y1="1170.7" x2="889.3" y2="1202.4" stroke="#70a040" stroke-width="1.1" opacity="0.44"/><line x1="882.3" y1="1068.9" x2="882.3" y2="1093.7" stroke="#c0e090" stroke-width="1.5" opacity="0.43"/><line x1="835.6" y1="1132.9" x2="835.6" y2="1187.2" stroke="#d8f0c0" stroke-width="1.1" opacity="0.29"/><line x1="863.9" y1="1063.1" x2="863.9" y2="1099.5" stroke="#c0e090" stroke-width="0.8" opacity="0.24"/><line x1="819.1" y1="1072.5" x2="819.1" y2="1109.3" stroke="#d8f0c0" stroke-width="1.5" opacity="0.42"/><line x1="833.6" y1="1112.1" x2="833.6" y2="1164.8" stroke="#70a040" stroke-width="1.6" opacity="0.23"/><line x1="828.4" y1="1174.8" x2="828.4" y2="1234.7" stroke="#d8f0c0" stroke-width="1.7" opacity="0.24"/><line x1="873.8" y1="1038.4" x2="873.8" y2="1077.6" stroke="#70a040" stroke-width="0.9" opacity="0.29"/><line x1="887.4" y1="1075.6" x2="887.4" y2="1107.1" stroke="#d8f0c0" stroke-width="1.7" opacity="0.31"/><line x1="855.2" y1="1113.7" x2="855.2" y2="1168.1" stroke="#c0e090" stroke-width="1.0" opacity="0.20"/><line x1="840.7" y1="1110.7" x2="840.7" y2="1164.6" stroke="#a0d070" stroke-width="1.3" opacity="0.24"/><line x1="866.9" y1="1110.7" x2="866.9" y2="1163.6" stroke="#70a040" stroke-width="1.0" opacity="0.23"/><line x1="881.2" y1="1052.6" x2="881.2" y2="1107.2" stroke="#d8f0c0" stroke-width="1.2" opacity="0.46"/><line x1="859.9" y1="1115.2" x2="859.9" y2="1142.8" stroke="#d8f0c0" stroke-width="1.5" opacity="0.49"/><line x1="862.2" y1="1088.8" x2="862.2" y2="1141.1" stroke="#c0e090" stroke-width="1.9" opacity="0.48"/><line x1="837.2" y1="1077.7" x2="837.2" y2="1109.6" stroke="#70a040" stroke-width="1.1" opacity="0.32"/><line x1="833.8" y1="1031.6" x2="833.8" y2="1089.0" stroke="#a0d070" stroke-width="1.5" opacity="0.47"/><line x1="840.2" y1="1049.4" x2="840.2" y2="1102.5" stroke="#c0e090" stroke-width="1.0" opacity="0.21"/><line x1="836.1" y1="1069.6" x2="836.1" y2="1101.3" stroke="#c0e090" stroke-width="1.1" opacity="0.40"/><line x1="816.6" y1="1057.1" x2="816.6" y2="1095.1" stroke="#d8f0c0" stroke-width="1.5" opacity="0.43"/><line x1="860.9" y1="1024.5" x2="860.9" y2="1066.6" stroke="#70a040" stroke-width="1.9" opacity="0.41"/><line x1="891.3" y1="1111.1" x2="891.3" y2="1142.3" stroke="#a0d070" stroke-width="1.7" opacity="0.25"/><line x1="883.4" y1="1034.3" x2="883.4" y2="1080.9" stroke="#70a040" stroke-width="1.4" opacity="0.22"/><line x1="837.4" y1="1179.0" x2="837.4" y2="1211.1" stroke="#a0d070" stroke-width="1.8" opacity="0.25"/><g filter="url(#b05)"><circle cx="863.3" cy="1194.1" r="1.1" fill="#ffffff" opacity="0.44"/><circle cx="888.4" cy="1154.1" r="1.0" fill="#e0f8d0" opacity="0.54"/><circle cx="855.4" cy="1094.1" r="1.7" fill="#ffffff" opacity="0.46"/><circle cx="827.0" cy="1238.7" r="1.4" fill="#ffffff" opacity="0.36"/><circle cx="816.5" cy="1092.6" r="1.3" fill="#ffffff" opacity="0.47"/><circle cx="894.0" cy="1070.5" r="0.9" fill="#e0f8d0" opacity="0.57"/><circle cx="854.7" cy="1181.5" r="0.8" fill="#e0f8d0" opacity="0.78"/><circle cx="847.9" cy="1199.5" r="1.2" fill="#e0f8d0" opacity="0.43"/><circle cx="858.1" cy="1154.2" r="1.5" fill="#e0f8d0" opacity="0.49"/><circle cx="882.4" cy="1058.2" r="1.4" fill="#ffffff" opacity="0.38"/><circle cx="899.7" cy="1058.1" r="1.0" fill="#c0e8ff" opacity="0.66"/><circle cx="838.2" cy="1127.3" r="1.0" fill="#ffffff" opacity="0.50"/><circle cx="897.6" cy="1194.3" r="0.8" fill="#c0e8ff" opacity="0.51"/><circle cx="821.1" cy="1233.9" r="1.3" fill="#c0e8ff" opacity="0.79"/><circle cx="897.6" cy="1023.6" r="1.2" fill="#ffffff" opacity="0.88"/><circle cx="874.6" cy="1049.1" r="0.8" fill="#e0f8d0" opacity="0.38"/><circle cx="888.3" cy="1178.9" r="1.7" fill="#e0f8d0" opacity="0.71"/><circle cx="864.2" cy="1180.5" r="1.8" fill="#e0f8d0" opacity="0.70"/><circle cx="877.2" cy="1090.6" r="1.0" fill="#ffffff" opacity="0.69"/><circle cx="889.9" cy="1225.9" r="0.9" fill="#e0f8d0" opacity="0.38"/><circle cx="847.4" cy="1139.2" r="1.3" fill="#e0f8d0" opacity="0.43"/><circle cx="876.0" cy="1158.4" r="1.1" fill="#ffffff" opacity="0.45"/><circle cx="843.5" cy="1028.8" r="1.8" fill="#c0e8ff" opacity="0.54"/><circle cx="850.5" cy="1137.4" r="1.5" fill="#c0e8ff" opacity="0.75"/><circle cx="828.3" cy="1074.4" r="1.0" fill="#ffffff" opacity="0.60"/><circle cx="884.2" cy="1036.8" r="0.9" fill="#ffffff" opacity="0.40"/><circle cx="903.1" cy="1046.2" r="1.2" fill="#c0e8ff" opacity="0.37"/><circle cx="877.7" cy="1236.2" r="1.3" fill="#c0e8ff" opacity="0.69"/><circle cx="875.3" cy="1216.0" r="1.7" fill="#e0f8d0" opacity="0.82"/><circle cx="892.7" cy="1126.6" r="1.5" fill="#c0e8ff" opacity="0.86"/><circle cx="868.8" cy="1097.6" r="1.3" fill="#c0e8ff" opacity="0.69"/><circle cx="877.5" cy="1059.2" r="1.1" fill="#ffffff" opacity="0.62"/><circle cx="830.5" cy="1051.3" r="1.2" fill="#e0f8d0" opacity="0.76"/><circle cx="837.5" cy="1142.7" r="0.9" fill="#ffffff" opacity="0.55"/><circle cx="841.0" cy="1051.8" r="1.1" fill="#e0f8d0" opacity="0.72"/><circle cx="876.7" cy="1077.3" r="1.7" fill="#e0f8d0" opacity="0.82"/><circle cx="832.3" cy="1063.0" r="1.5" fill="#c0e8ff" opacity="0.65"/><circle cx="832.6" cy="1234.8" r="1.0" fill="#e0f8d0" opacity="0.83"/><circle cx="890.0" cy="1087.0" r="1.6" fill="#e0f8d0" opacity="0.63"/><circle cx="867.2" cy="1092.7" r="1.0" fill="#ffffff" opacity="0.79"/><circle cx="815.9" cy="1102.3" r="1.5" fill="#c0e8ff" opacity="0.73"/><circle cx="821.4" cy="1188.5" r="1.0" fill="#c0e8ff" opacity="0.60"/><circle cx="838.2" cy="1174.4" r="0.9" fill="#e0f8d0" opacity="0.70"/><circle cx="833.8" cy="1228.5" r="1.4" fill="#e0f8d0" opacity="0.58"/><circle cx="839.1" cy="1119.5" r="1.2" fill="#e0f8d0" opacity="0.79"/><circle cx="829.4" cy="1098.9" r="0.9" fill="#e0f8d0" opacity="0.39"/><circle cx="850.9" cy="1139.4" r="0.9" fill="#c0e8ff" opacity="0.42"/><circle cx="873.9" cy="1146.0" r="1.7" fill="#ffffff" opacity="0.68"/><circle cx="825.5" cy="1091.0" r="1.7" fill="#e0f8d0" opacity="0.47"/><circle cx="828.6" cy="1089.9" r="1.5" fill="#c0e8ff" opacity="0.67"/><circle cx="835.9" cy="1073.8" r="1.4" fill="#ffffff" opacity="0.71"/><circle cx="830.5" cy="1156.9" r="1.0" fill="#ffffff" opacity="0.37"/><circle cx="848.9" cy="1093.7" r="1.0" fill="#c0e8ff" opacity="0.36"/><circle cx="875.2" cy="1094.7" r="0.9" fill="#c0e8ff" opacity="0.41"/><circle cx="873.9" cy="1187.3" r="0.7" fill="#e0f8d0" opacity="0.67"/><circle cx="891.7" cy="1069.4" r="1.6" fill="#ffffff" opacity="0.80"/><circle cx="822.5" cy="1207.1" r="0.8" fill="#ffffff" opacity="0.78"/><circle cx="848.5" cy="1085.1" r="1.4" fill="#ffffff" opacity="0.74"/><circle cx="863.4" cy="1211.3" r="1.3" fill="#c0e8ff" opacity="0.62"/><circle cx="851.1" cy="1216.6" r="0.8" fill="#c0e8ff" opacity="0.41"/><circle cx="844.4" cy="1142.4" r="0.8" fill="#e0f8d0" opacity="0.89"/><circle cx="882.5" cy="1204.2" r="1.4" fill="#ffffff" opacity="0.79"/><circle cx="831.0" cy="1224.2" r="1.7" fill="#e0f8d0" opacity="0.59"/><circle cx="862.2" cy="1073.8" r="1.0" fill="#e0f8d0" opacity="0.78"/><circle cx="901.4" cy="1160.3" r="1.0" fill="#e0f8d0" opacity="0.76"/><circle cx="884.8" cy="1046.1" r="1.2" fill="#ffffff" opacity="0.47"/><circle cx="874.3" cy="1044.6" r="0.9" fill="#e0f8d0" opacity="0.79"/><circle cx="831.1" cy="1062.5" r="0.7" fill="#c0e8ff" opacity="0.39"/><circle cx="840.6" cy="1154.6" r="1.3" fill="#ffffff" opacity="0.50"/><circle cx="858.7" cy="1132.4" r="1.7" fill="#c0e8ff" opacity="0.83"/><circle cx="823.1" cy="1209.8" r="1.2" fill="#e0f8d0" opacity="0.67"/><circle cx="868.5" cy="1154.9" r="1.3" fill="#c0e8ff" opacity="0.40"/><circle cx="829.5" cy="1173.6" r="0.8" fill="#c0e8ff" opacity="0.36"/><circle cx="834.7" cy="1115.0" r="1.2" fill="#c0e8ff" opacity="0.73"/><circle cx="830.1" cy="1020.5" r="0.7" fill="#ffffff" opacity="0.76"/><circle cx="863.5" cy="1062.5" r="1.1" fill="#ffffff" opacity="0.35"/><circle cx="871.9" cy="1091.9" r="0.9" fill="#ffffff" opacity="0.84"/><circle cx="895.9" cy="1141.0" r="0.7" fill="#e0f8d0" opacity="0.65"/><circle cx="829.6" cy="1111.9" r="1.6" fill="#ffffff" opacity="0.71"/><circle cx="865.8" cy="1154.5" r="0.8" fill="#e0f8d0" opacity="0.64"/><circle cx="853.9" cy="1201.0" r="1.5" fill="#ffffff" opacity="0.82"/><circle cx="831.0" cy="1142.3" r="1.7" fill="#c0e8ff" opacity="0.69"/><circle cx="849.7" cy="1193.7" r="1.8" fill="#ffffff" opacity="0.80"/><circle cx="851.7" cy="1184.3" r="1.3" fill="#c0e8ff" opacity="0.41"/><circle cx="871.8" cy="1139.3" r="1.6" fill="#e0f8d0" opacity="0.45"/><circle cx="855.9" cy="1074.5" r="1.3" fill="#ffffff" opacity="0.35"/><circle cx="821.7" cy="1054.1" r="1.3" fill="#ffffff" opacity="0.46"/><circle cx="835.3" cy="1153.9" r="0.8" fill="#c0e8ff" opacity="0.82"/><circle cx="880.8" cy="1069.2" r="1.7" fill="#e0f8d0" opacity="0.76"/><circle cx="880.5" cy="1033.9" r="1.2" fill="#c0e8ff" opacity="0.87"/></g></g><ellipse cx="900" cy="1110" rx="12" ry="60" fill="#2a4878" opacity="0.35" filter="url(#b8)"/><rect x="966.9" y="1225.2" width="8.800000000000068" height="25.399999999999864" fill="#fff"/><rect x="981" y="1020" width="13" height="1.6" fill="#fff"/><text x="990" y="1046.2" font-size="21" fill="#fff" text-anchor="end" textLength="66" lengthAdjust="spacingAndGlyphs">8 days</text><text transform="translate(777,1158.7) rotate(-90)" x="0" y="0" font-size="25" fill="#fff" text-anchor="middle" textLength="160.4" lengthAdjust="spacingAndGlyphs"><tspan style="font-style:italic">LBD11-OE</tspan> est</text></g><text x="0.0" y="38.5" font-size="40" fill="#000"  style="font-weight:bold" >a</text><text x="1408.0" y="39.3" font-size="40" fill="#000"  style="font-weight:bold" >b</text><text x="0.0" y="701.3" font-size="40" fill="#000"  style="font-weight:bold" >c</text><text x="704.0" y="701.6" font-size="40" fill="#000"  style="font-weight:bold" >d</text><text x="1633.0" y="701.0" font-size="40" fill="#000"  style="font-weight:bold" >e</text><line x1="39.5" y1="65.5" x2="39.5" y2="567.0" stroke="#000" stroke-width="2.5" /><text x="0" y="0" font-size="29" fill="#111" transform="translate(23.0,302.5) rotate(-90)" textLength="243.5" lengthAdjust="spacingAndGlyphs" text-anchor="middle" >Non-touch medium</text><line x1="846.0" y1="70.0" x2="846.0" y2="409.6" stroke="#222" stroke-width="1.5" /><line x1="836.5" y1="70.7" x2="846.0" y2="70.7" stroke="#222" stroke-width="1.5" /><text x="823.7" y="79.0" font-size="23" fill="#111" textLength="27.0" lengthAdjust="spacingAndGlyphs" text-anchor="end" >1.2</text><line x1="836.5" y1="124.4" x2="846.0" y2="124.4" stroke="#222" stroke-width="1.5" /><text x="823.7" y="132.7" font-size="23" fill="#111" textLength="28.0" lengthAdjust="spacingAndGlyphs" text-anchor="end" >1.0</text><line x1="836.5" y1="181.3" x2="846.0" y2="181.3" stroke="#222" stroke-width="1.5" /><text x="823.7" y="189.6" font-size="23" fill="#111" text-anchor="end" >0.8</text><line x1="836.5" y1="238.3" x2="846.0" y2="238.3" stroke="#222" stroke-width="1.5" /><text x="823.7" y="246.6" font-size="23" fill="#111" text-anchor="end" >0.6</text><line x1="836.5" y1="294.4" x2="846.0" y2="294.4" stroke="#222" stroke-width="1.5" /><text x="823.7" y="302.7" font-size="23" fill="#111" text-anchor="end" >0.4</text><line x1="836.5" y1="351.8" x2="846.0" y2="351.8" stroke="#222" stroke-width="1.5" /><text x="823.7" y="360.1" font-size="23" fill="#111" text-anchor="end" >0.2</text><line x1="836.5" y1="409.6" x2="846.0" y2="409.6" stroke="#222" stroke-width="1.5" /><text x="823.7" y="417.9" font-size="23" fill="#111" text-anchor="end" >0</text><line x1="836.0" y1="410.0" x2="1325.0" y2="410.0" stroke="#222" stroke-width="1.5" /><text x="0" y="0" font-size="25.5" fill="#111" transform="translate(766.2,239.0) rotate(-90)" textLength="366.0" lengthAdjust="spacingAndGlyphs" text-anchor="middle" >Normalized callus area (µm<tspan dy="-10" font-size="16">2</tspan><tspan dy="10">)</tspan></text><line x1="903.0" y1="126.0" x2="903.0" y2="189.6" stroke="#2a2a2a" stroke-width="1.5" /><line x1="903.0" y1="289.8" x2="903.0" y2="366.6" stroke="#2a2a2a" stroke-width="1.5" /><line x1="897.0" y1="126.0" x2="909.0" y2="126.0" stroke="#2a2a2a" stroke-width="1.5" /><line x1="897.0" y1="366.6" x2="909.0" y2="366.6" stroke="#2a2a2a" stroke-width="1.5" /><rect x="882.5" y="189.6" width="41.0" height="100.2" fill="#ed7d31" stroke="#111" stroke-width="1.6"/><line x1="882.5" y1="234.7" x2="923.5" y2="234.7" stroke="#221100" stroke-width="1.6" /><line x1="895.1" y1="238.4" x2="910.9" y2="251.6" stroke="#111" stroke-width="1.3" /><line x1="895.1" y1="251.6" x2="910.9" y2="238.4" stroke="#111" stroke-width="1.3" /><line x1="995.3" y1="358.4" x2="995.3" y2="381.8" stroke="#2a2a2a" stroke-width="1.5" /><line x1="995.3" y1="401.9" x2="995.3" y2="407.5" stroke="#2a2a2a" stroke-width="1.5" /><line x1="989.3" y1="358.4" x2="1001.3" y2="358.4" stroke="#2a2a2a" stroke-width="1.5" /><line x1="989.3" y1="407.5" x2="1001.3" y2="407.5" stroke="#2a2a2a" stroke-width="1.5" /><rect x="974.8" y="381.8" width="41.0" height="20.1" fill="#ed7d31" stroke="#111" stroke-width="1.6"/><line x1="974.8" y1="394.0" x2="1015.8" y2="394.0" stroke="#221100" stroke-width="1.6" /><line x1="987.4" y1="382.4" x2="1003.2" y2="395.6" stroke="#111" stroke-width="1.3" /><line x1="987.4" y1="395.6" x2="1003.2" y2="382.4" stroke="#111" stroke-width="1.3" /><line x1="1090.5" y1="384.8" x2="1090.5" y2="393.3" stroke="#2a2a2a" stroke-width="1.5" /><line x1="1090.5" y1="407.2" x2="1090.5" y2="410.0" stroke="#2a2a2a" stroke-width="1.5" /><line x1="1084.5" y1="384.8" x2="1096.5" y2="384.8" stroke="#2a2a2a" stroke-width="1.5" /><line x1="1084.5" y1="410.0" x2="1096.5" y2="410.0" stroke="#2a2a2a" stroke-width="1.5" /><rect x="1070.0" y="393.3" width="41.0" height="13.9" fill="#ed7d31" stroke="#111" stroke-width="1.6"/><line x1="1070.0" y1="402.6" x2="1111.0" y2="402.6" stroke="#221100" stroke-width="1.6" /><line x1="1082.6" y1="394.0" x2="1098.4" y2="407.2" stroke="#111" stroke-width="1.3" /><line x1="1082.6" y1="407.2" x2="1098.4" y2="394.0" stroke="#111" stroke-width="1.3" /><line x1="1189.0" y1="185.3" x2="1189.0" y2="222.2" stroke="#2a2a2a" stroke-width="1.5" /><line x1="1189.0" y1="350.1" x2="1189.0" y2="403.9" stroke="#2a2a2a" stroke-width="1.5" /><line x1="1183.0" y1="185.3" x2="1195.0" y2="185.3" stroke="#2a2a2a" stroke-width="1.5" /><line x1="1183.0" y1="403.9" x2="1195.0" y2="403.9" stroke="#2a2a2a" stroke-width="1.5" /><rect x="1168.5" y="222.2" width="41.0" height="127.9" fill="#ed7d31" stroke="#111" stroke-width="1.6"/><line x1="1168.5" y1="292.8" x2="1209.5" y2="292.8" stroke="#221100" stroke-width="1.6" /><line x1="1181.1" y1="283.4" x2="1196.9" y2="296.6" stroke="#111" stroke-width="1.3" /><line x1="1181.1" y1="296.6" x2="1196.9" y2="283.4" stroke="#111" stroke-width="1.3" /><line x1="1280.0" y1="351.5" x2="1280.0" y2="376.2" stroke="#2a2a2a" stroke-width="1.5" /><line x1="1280.0" y1="403.9" x2="1280.0" y2="408.2" stroke="#2a2a2a" stroke-width="1.5" /><line x1="1274.0" y1="351.5" x2="1286.0" y2="351.5" stroke="#2a2a2a" stroke-width="1.5" /><line x1="1274.0" y1="408.2" x2="1286.0" y2="408.2" stroke="#2a2a2a" stroke-width="1.5" /><rect x="1259.5" y="376.2" width="41.0" height="27.7" fill="#ed7d31" stroke="#111" stroke-width="1.6"/><line x1="1259.5" y1="389.4" x2="1300.5" y2="389.4" stroke="#221100" stroke-width="1.6" /><line x1="1272.1" y1="381.8" x2="1287.9" y2="395.0" stroke="#111" stroke-width="1.3" /><line x1="1272.1" y1="395.0" x2="1287.9" y2="381.8" stroke="#111" stroke-width="1.3" /><text x="994.2" y="342.5" font-size="30" fill="#111" textLength="42.5" lengthAdjust="spacingAndGlyphs" text-anchor="middle" >***</text><text x="1089.2" y="367.3" font-size="30" fill="#111" textLength="42.5" lengthAdjust="spacingAndGlyphs" text-anchor="middle" >***</text><text x="1280.0" y="332.8" font-size="30" fill="#111" textLength="42.3" lengthAdjust="spacingAndGlyphs" text-anchor="middle" >***</text><text x="1191.2" y="180.0" font-size="30" fill="#111" text-anchor="middle" >*</text><text x="0" y="0" font-size="23" fill="#111" transform="translate(1009.5,312.3) rotate(-90)" textLength="138.6" lengthAdjust="spacingAndGlyphs" ><tspan font-style="italic">P</tspan> = 3.0 × 10<tspan dy="-10" font-size="15">−11</tspan></text><text x="0" y="0" font-size="23" fill="#111" transform="translate(1098.5,334.0) rotate(-90)" textLength="131.6" lengthAdjust="spacingAndGlyphs" ><tspan font-style="italic">P</tspan> = 1.7 × 10<tspan dy="-10" font-size="15">−12</tspan></text><text x="0" y="0" font-size="23" fill="#111" transform="translate(1197.2,148.0) rotate(-90)" textLength="113.5" lengthAdjust="spacingAndGlyphs" ><tspan font-style="italic">P</tspan> = 0.0487</text><text x="0" y="0" font-size="23" fill="#111" transform="translate(1291.5,290.9) rotate(-90)" textLength="149.9" lengthAdjust="spacingAndGlyphs" ><tspan font-style="italic">P</tspan> = 3.73 × 10<tspan dy="-10" font-size="15">−12</tspan></text><text x="0" y="0" font-size="28" fill="#111" transform="translate(914.0,438.5) rotate(-45)" textLength="113.0" lengthAdjust="spacingAndGlyphs" text-anchor="end" >Wild type</text><text x="0" y="0" font-size="28" fill="#111" transform="translate(1008.0,438.5) rotate(-45)" textLength="75.0" lengthAdjust="spacingAndGlyphs" text-anchor="end" style="font-style:italic" >lbd1,11</text><text x="0" y="0" font-size="28" fill="#111" transform="translate(1101.0,438.5) rotate(-45)" textLength="122.0" lengthAdjust="spacingAndGlyphs" text-anchor="end" style="font-style:italic" >lbd1,3,4,11</text><text x="0" y="0" font-size="28" fill="#111" transform="translate(1201.5,438.5) rotate(-45)" textLength="94.0" lengthAdjust="spacingAndGlyphs" text-anchor="end" style="font-style:italic" >wox4,14</text><text x="0" y="0" font-size="28" fill="#111" transform="translate(1290.5,438.5) rotate(-45)" textLength="105.0" lengthAdjust="spacingAndGlyphs" text-anchor="end" style="font-style:italic" >wox13,14</text><text x="1980.9" y="23.9" font-size="29.3" fill="#111" textLength="276.0" lengthAdjust="spacingAndGlyphs" text-anchor="middle" >Non-touch medium</text><line x1="1786.5" y1="66.4" x2="1786.5" y2="410.4" stroke="#222" stroke-width="1.5" /><line x1="1777.0" y1="67.1" x2="1786.5" y2="67.1" stroke="#222" stroke-width="1.5" /><text x="1764.2" y="75.4" font-size="23" fill="#111" textLength="27.0" lengthAdjust="spacingAndGlyphs" text-anchor="end" >1.2</text><line x1="1777.0" y1="124.4" x2="1786.5" y2="124.4" stroke="#222" stroke-width="1.5" /><text x="1764.2" y="132.7" font-size="23" fill="#111" textLength="28.0" lengthAdjust="spacingAndGlyphs" text-anchor="end" >1.0</text><line x1="1777.0" y1="181.4" x2="1786.5" y2="181.4" stroke="#222" stroke-width="1.5" /><text x="1764.2" y="189.7" font-size="23" fill="#111" text-anchor="end" >0.8</text><line x1="1777.0" y1="239.7" x2="1786.5" y2="239.7" stroke="#222" stroke-width="1.5" /><text x="1764.2" y="248.0" font-size="23" fill="#111" text-anchor="end" >0.6</text><line x1="1777.0" y1="296.4" x2="1786.5" y2="296.4" stroke="#222" stroke-width="1.5" /><text x="1764.2" y="304.7" font-size="23" fill="#111" text-anchor="end" >0.4</text><line x1="1777.0" y1="353.4" x2="1786.5" y2="353.4" stroke="#222" stroke-width="1.5" /><text x="1764.2" y="361.7" font-size="23" fill="#111" text-anchor="end" >0.2</text><line x1="1777.0" y1="410.4" x2="1786.5" y2="410.4" stroke="#222" stroke-width="1.5" /><text x="1764.2" y="418.7" font-size="23" fill="#111" text-anchor="end" >0</text><line x1="1777.0" y1="410.4" x2="2168.0" y2="410.4" stroke="#222" stroke-width="1.5" /><text x="0" y="0" font-size="26.5" fill="#111" transform="translate(1707.0,236.7) rotate(-90)" textLength="366.0" lengthAdjust="spacingAndGlyphs" text-anchor="middle" >Normalized callus area (µm<tspan dy="-10" font-size="16">2</tspan><tspan dy="10">)</tspan></text><line x1="1839.6" y1="316.0" x2="1839.6" y2="335.1" stroke="#2a2a2a" stroke-width="1.5" /><line x1="1839.6" y1="380.2" x2="1839.6" y2="409.8" stroke="#2a2a2a" stroke-width="1.5" /><line x1="1833.1" y1="316.0" x2="1846.1" y2="316.0" stroke="#2a2a2a" stroke-width="1.5" /><line x1="1833.1" y1="409.8" x2="1846.1" y2="409.8" stroke="#2a2a2a" stroke-width="1.5" /><rect x="1817.8" y="335.1" width="43.5" height="45.1" fill="#ed7d31" stroke="#111" stroke-width="1.6"/><line x1="1817.8" y1="351.5" x2="1861.3" y2="351.5" stroke="#221100" stroke-width="1.6" /><line x1="1832.4" y1="346.7" x2="1846.8" y2="365.3" stroke="#111" stroke-width="1.3" /><line x1="1832.4" y1="365.3" x2="1846.8" y2="346.7" stroke="#111" stroke-width="1.3" /><line x1="1931.0" y1="124.4" x2="1931.0" y2="190.2" stroke="#2a2a2a" stroke-width="1.5" /><line x1="1931.0" y1="304.0" x2="1931.0" y2="369.5" stroke="#2a2a2a" stroke-width="1.5" /><line x1="1924.5" y1="124.4" x2="1937.5" y2="124.4" stroke="#2a2a2a" stroke-width="1.5" /><line x1="1924.5" y1="369.5" x2="1937.5" y2="369.5" stroke="#2a2a2a" stroke-width="1.5" /><rect x="1909.2" y="190.2" width="43.5" height="113.8" fill="#ed7d31" stroke="#111" stroke-width="1.6"/><line x1="1909.2" y1="246.6" x2="1952.8" y2="246.6" stroke="#221100" stroke-width="1.6" /><line x1="1923.8" y1="236.7" x2="1938.2" y2="255.3" stroke="#111" stroke-width="1.3" /><line x1="1923.8" y1="255.3" x2="1938.2" y2="236.7" stroke="#111" stroke-width="1.3" /><line x1="2023.0" y1="311.5" x2="2023.0" y2="326.0" stroke="#2a2a2a" stroke-width="1.5" /><line x1="2023.0" y1="392.1" x2="2023.0" y2="409.8" stroke="#2a2a2a" stroke-width="1.5" /><line x1="2016.5" y1="311.5" x2="2029.5" y2="311.5" stroke="#2a2a2a" stroke-width="1.5" /><line x1="2016.5" y1="409.8" x2="2029.5" y2="409.8" stroke="#2a2a2a" stroke-width="1.5" /><rect x="2001.2" y="326.0" width="43.5" height="66.1" fill="#ed7d31" stroke="#111" stroke-width="1.6"/><line x1="2001.2" y1="355.9" x2="2044.8" y2="355.9" stroke="#221100" stroke-width="1.6" /><line x1="2015.8" y1="352.9" x2="2030.2" y2="371.5" stroke="#111" stroke-width="1.3" /><line x1="2015.8" y1="371.5" x2="2030.2" y2="352.9" stroke="#111" stroke-width="1.3" /><line x1="2113.3" y1="124.4" x2="2113.3" y2="205.0" stroke="#2a2a2a" stroke-width="1.5" /><line x1="2113.3" y1="294.8" x2="2113.3" y2="342.4" stroke="#2a2a2a" stroke-width="1.5" /><line x1="2106.8" y1="124.4" x2="2119.8" y2="124.4" stroke="#2a2a2a" stroke-width="1.5" /><line x1="2106.8" y1="342.4" x2="2119.8" y2="342.4" stroke="#2a2a2a" stroke-width="1.5" /><rect x="2091.6" y="205.0" width="43.5" height="89.8" fill="#ed7d31" stroke="#111" stroke-width="1.6"/><line x1="2091.6" y1="268.0" x2="2135.1" y2="268.0" stroke="#221100" stroke-width="1.6" /><line x1="2106.1" y1="236.4" x2="2120.5" y2="255.0" stroke="#111" stroke-width="1.3" /><line x1="2106.1" y1="255.0" x2="2120.5" y2="236.4" stroke="#111" stroke-width="1.3" /><line x1="1843.0" y1="286.0" x2="1843.0" y2="109.0" stroke="#444" stroke-width="2" stroke-dasharray="8,6"/><line x1="1843.0" y1="109.0" x2="1934.0" y2="109.0" stroke="#444" stroke-width="2" stroke-dasharray="8,6"/><line x1="2022.0" y1="274.0" x2="2022.0" y2="109.0" stroke="#444" stroke-width="2" stroke-dasharray="8,6"/><line x1="2022.0" y1="109.0" x2="2113.0" y2="109.0" stroke="#444" stroke-width="2" stroke-dasharray="8,6"/><text x="1814.3" y="74.5" font-size="22" fill="#111" textLength="147.4" lengthAdjust="spacingAndGlyphs" ><tspan font-style="italic">P</tspan> = 8.84 × 10<tspan dy="-10" font-size="15.5">−8</tspan></text><text x="2002.3" y="76.0" font-size="22" fill="#111" textLength="129.1" lengthAdjust="spacingAndGlyphs" ><tspan font-style="italic">P</tspan> = 4.7 × 10<tspan dy="-10" font-size="15.5">−7</tspan></text><text x="1885.6" y="101.6" font-size="21.5" fill="#111" textLength="32.5" lengthAdjust="spacingAndGlyphs" text-anchor="middle" >***</text><text x="2063.2" y="103.9" font-size="22" fill="#111" textLength="33.2" lengthAdjust="spacingAndGlyphs" text-anchor="middle" >***</text><text x="0" y="0" font-size="29" fill="#111" transform="translate(1851.0,436.0) rotate(-45)" textLength="205.0" lengthAdjust="spacingAndGlyphs" text-anchor="end" ><tspan font-style="italic">LBD11-OE</tspan> DMSO</text><text x="0" y="0" font-size="29" fill="#111" transform="translate(1945.0,436.0) rotate(-45)" textLength="164.0" lengthAdjust="spacingAndGlyphs" text-anchor="end" ><tspan font-style="italic">LBD11-OE</tspan> est</text><text x="0" y="0" font-size="29" fill="#111" transform="translate(2034.0,436.0) rotate(-45)" textLength="210.0" lengthAdjust="spacingAndGlyphs" text-anchor="end" ><tspan font-style="italic">WOX4-OE</tspan> DMSO</text><text x="0" y="0" font-size="29" fill="#111" transform="translate(2126.5,436.0) rotate(-45)" textLength="171.0" lengthAdjust="spacingAndGlyphs" text-anchor="end" ><tspan font-style="italic">WOX4-OE</tspan> est</text><text x="388.1" y="704.2" font-size="28" fill="#111" textLength="245.4" lengthAdjust="spacingAndGlyphs" text-anchor="middle" >Non-touch medium</text><rect x="144.3" y="733.0" width="24.0" height="23.6" fill="#4472c4" /><text x="182.8" y="752.0" font-size="23.5" fill="#111" textLength="59.4" lengthAdjust="spacingAndGlyphs" >DNRR</text><rect x="282.2" y="733.0" width="24.0" height="23.6" fill="#ed7d31" /><text x="321.6" y="752.0" font-size="23.5" fill="#111" textLength="43.0" lengthAdjust="spacingAndGlyphs" >WIC</text><rect x="404.0" y="733.0" width="24.0" height="23.6" fill="#a5a5a5" /><text x="443.0" y="752.0" font-size="23.5" fill="#111" textLength="128.0" lengthAdjust="spacingAndGlyphs" >WIC + DNRR</text><rect x="144.3" y="774.6" width="24.0" height="23.6" fill="#ffc000" /><text x="182.8" y="795.0" font-size="23.5" fill="#111" textLength="174.0" lengthAdjust="spacingAndGlyphs" >No regeneration</text><line x1="112.0" y1="846.6" x2="112.0" y2="1191.8" stroke="#222" stroke-width="1.5" /><line x1="102.5" y1="847.3" x2="112.0" y2="847.3" stroke="#222" stroke-width="1.5" /><text x="89.7" y="855.6" font-size="23" fill="#111" text-anchor="end" >100</text><line x1="102.5" y1="917.0" x2="112.0" y2="917.0" stroke="#222" stroke-width="1.5" /><text x="89.7" y="925.3" font-size="23" fill="#111" text-anchor="end" >80</text><line x1="102.5" y1="984.5" x2="112.0" y2="984.5" stroke="#222" stroke-width="1.5" /><text x="89.7" y="992.8" font-size="23" fill="#111" text-anchor="end" >60</text><line x1="102.5" y1="1054.0" x2="112.0" y2="1054.0" stroke="#222" stroke-width="1.5" /><text x="89.7" y="1062.3" font-size="23" fill="#111" text-anchor="end" >40</text><line x1="102.5" y1="1123.1" x2="112.0" y2="1123.1" stroke="#222" stroke-width="1.5" /><text x="89.7" y="1131.4" font-size="23" fill="#111" text-anchor="end" >20</text><line x1="102.5" y1="1191.8" x2="112.0" y2="1191.8" stroke="#222" stroke-width="1.5" /><text x="89.7" y="1200.1" font-size="23" fill="#111" text-anchor="end" >0</text><line x1="102.5" y1="1191.8" x2="656.0" y2="1191.8" stroke="#222" stroke-width="1.5" /><rect x="147.2" y="847.3" width="43.6" height="344.5" fill="#ed7d31" /><rect x="255.7" y="847.3" width="42.0" height="22.9" fill="#ffc000" /><rect x="255.7" y="870.2" width="42.0" height="44.9" fill="#a5a5a5" /><rect x="255.7" y="915.1" width="42.0" height="276.7" fill="#ed7d31" /><rect x="362.3" y="847.3" width="44.2" height="67.8" fill="#ffc000" /><rect x="362.3" y="915.1" width="44.2" height="10.0" fill="#a5a5a5" /><rect x="362.3" y="925.1" width="44.2" height="54.2" fill="#4472c4" /><rect x="362.3" y="979.3" width="44.2" height="212.5" fill="#ed7d31" /><rect x="471.1" y="847.3" width="42.3" height="45.5" fill="#a5a5a5" /><rect x="471.1" y="892.8" width="42.3" height="12.9" fill="#4472c4" /><rect x="471.1" y="905.7" width="42.3" height="286.1" fill="#ed7d31" /><rect x="578.0" y="847.3" width="43.9" height="42.6" fill="#a5a5a5" /><rect x="578.0" y="889.9" width="43.9" height="96.2" fill="#4472c4" /><rect x="578.0" y="986.1" width="43.9" height="205.7" fill="#ed7d31" /><text x="0" y="0" font-size="26" fill="#111" transform="translate(22.7,1019.2) rotate(-90)" textLength="351.0" lengthAdjust="spacingAndGlyphs" text-anchor="middle" >Regeneration frequency (%)</text><text x="0" y="0" font-size="28" fill="#111" transform="translate(177.0,1220.5) rotate(-45)" textLength="113.0" lengthAdjust="spacingAndGlyphs" text-anchor="end" >Wild type</text><text x="0" y="0" font-size="28" fill="#111" transform="translate(287.5,1220.5) rotate(-45)" textLength="75.0" lengthAdjust="spacingAndGlyphs" text-anchor="end" style="font-style:italic" >lbd1,11</text><text x="0" y="0" font-size="28" fill="#111" transform="translate(396.0,1220.5) rotate(-45)" textLength="122.0" lengthAdjust="spacingAndGlyphs" text-anchor="end" style="font-style:italic" >lbd1,3,4,11</text><text x="0" y="0" font-size="28" fill="#111" transform="translate(504.0,1220.5) rotate(-45)" textLength="94.0" lengthAdjust="spacingAndGlyphs" text-anchor="end" style="font-style:italic" >wox4,14</text><text x="0" y="0" font-size="28" fill="#111" transform="translate(610.5,1220.5) rotate(-45)" textLength="105.0" lengthAdjust="spacingAndGlyphs" text-anchor="end" style="font-style:italic" >wox13,14</text><text x="1330.8" y="704.5" font-size="28" fill="#111" textLength="185.7" lengthAdjust="spacingAndGlyphs" text-anchor="middle" >Touch medium</text><rect x="1171.8" y="733.2" width="24.0" height="23.6" fill="#4472c4" /><text x="1210.6" y="752.2" font-size="23.5" fill="#111" textLength="59.4" lengthAdjust="spacingAndGlyphs" >DNRR</text><rect x="1309.0" y="733.2" width="24.0" height="23.6" fill="#ed7d31" /><text x="1349.0" y="752.2" font-size="23.5" fill="#111" textLength="43.0" lengthAdjust="spacingAndGlyphs" >WIC</text><rect x="1171.8" y="774.8" width="24.0" height="23.6" fill="#ffc000" /><text x="1210.6" y="795.2" font-size="23.5" fill="#111" textLength="174.0" lengthAdjust="spacingAndGlyphs" >No regeneration</text><line x1="1142.2" y1="824.7" x2="1142.2" y2="1193.0" stroke="#222" stroke-width="1.5" /><line x1="1132.7" y1="825.4" x2="1142.2" y2="825.4" stroke="#222" stroke-width="1.5" /><text x="1119.9" y="833.7" font-size="23" fill="#111" text-anchor="end" >100</text><line x1="1132.7" y1="898.3" x2="1142.2" y2="898.3" stroke="#222" stroke-width="1.5" /><text x="1119.9" y="906.6" font-size="23" fill="#111" text-anchor="end" >80</text><line x1="1132.7" y1="972.3" x2="1142.2" y2="972.3" stroke="#222" stroke-width="1.5" /><text x="1119.9" y="980.6" font-size="23" fill="#111" text-anchor="end" >60</text><line x1="1132.7" y1="1045.0" x2="1142.2" y2="1045.0" stroke="#222" stroke-width="1.5" /><text x="1119.9" y="1053.3" font-size="23" fill="#111" text-anchor="end" >40</text><line x1="1132.7" y1="1118.7" x2="1142.2" y2="1118.7" stroke="#222" stroke-width="1.5" /><text x="1119.9" y="1127.0" font-size="23" fill="#111" text-anchor="end" >20</text><line x1="1132.7" y1="1193.0" x2="1142.2" y2="1193.0" stroke="#222" stroke-width="1.5" /><text x="1119.9" y="1201.3" font-size="23" fill="#111" text-anchor="end" >0</text><line x1="1132.7" y1="1193.0" x2="1588.0" y2="1193.0" stroke="#222" stroke-width="1.5" /><rect x="1185.0" y="826.0" width="43.6" height="18.6" fill="#ffc000" /><rect x="1185.0" y="844.6" width="43.6" height="348.4" fill="#4472c4" /><rect x="1293.0" y="824.6" width="42.8" height="368.4" fill="#ed7d31" /><rect x="1401.1" y="824.6" width="42.8" height="56.3" fill="#ffc000" /><rect x="1401.1" y="880.9" width="42.8" height="312.1" fill="#4472c4" /><rect x="1509.4" y="824.6" width="42.8" height="18.9" fill="#4472c4" /><rect x="1509.4" y="843.5" width="42.8" height="349.5" fill="#ed7d31" /><text x="0" y="0" font-size="26" fill="#111" transform="translate(1055.0,1009.0) rotate(-90)" textLength="351.0" lengthAdjust="spacingAndGlyphs" text-anchor="middle" >Regeneration frequency (%)</text><text x="0" y="0" font-size="29" fill="#111" transform="translate(1219.0,1219.0) rotate(-45)" textLength="205.0" lengthAdjust="spacingAndGlyphs" text-anchor="end" ><tspan font-style="italic">LBD11-OE</tspan> DMSO</text><text x="0" y="0" font-size="29" fill="#111" transform="translate(1327.0,1219.0) rotate(-45)" textLength="164.0" lengthAdjust="spacingAndGlyphs" text-anchor="end" ><tspan font-style="italic">LBD11-OE</tspan> est</text><text x="0" y="0" font-size="29" fill="#111" transform="translate(1433.5,1219.0) rotate(-45)" textLength="210.0" lengthAdjust="spacingAndGlyphs" text-anchor="end" ><tspan font-style="italic">WOX4-OE</tspan> DMSO</text><text x="0" y="0" font-size="29" fill="#111" transform="translate(1544.0,1219.0) rotate(-45)" textLength="171.0" lengthAdjust="spacingAndGlyphs" text-anchor="end" ><tspan font-style="italic">WOX4-OE</tspan> est</text><text x="1904.0" y="704.9" font-size="28" fill="#111" textLength="245.0" lengthAdjust="spacingAndGlyphs" text-anchor="middle" >Non-touch medium</text><rect x="1741.0" y="733.1" width="24.0" height="23.6" fill="#4472c4" /><text x="1779.5" y="752.1" font-size="23.5" fill="#111" textLength="59.4" lengthAdjust="spacingAndGlyphs" >DNRR</text><rect x="1879.0" y="733.1" width="24.0" height="23.6" fill="#ed7d31" /><text x="1917.4" y="752.1" font-size="23.5" fill="#111" textLength="43.0" lengthAdjust="spacingAndGlyphs" >WIC</text><rect x="2000.8" y="733.1" width="24.0" height="23.6" fill="#a5a5a5" /><text x="2039.8" y="752.1" font-size="23.5" fill="#111" textLength="128.0" lengthAdjust="spacingAndGlyphs" >WIC + DNRR</text><rect x="1741.0" y="774.9" width="24.0" height="23.6" fill="#ffc000" /><text x="1779.5" y="795.3" font-size="23.5" fill="#111" textLength="174.0" lengthAdjust="spacingAndGlyphs" >No regeneration</text><line x1="1744.1" y1="821.3" x2="1744.1" y2="1191.0" stroke="#222" stroke-width="1.5" /><line x1="1734.6" y1="822.0" x2="1744.1" y2="822.0" stroke="#222" stroke-width="1.5" /><text x="1721.8" y="830.3" font-size="23" fill="#111" text-anchor="end" >100</text><line x1="1734.6" y1="895.9" x2="1744.1" y2="895.9" stroke="#222" stroke-width="1.5" /><text x="1721.8" y="904.2" font-size="23" fill="#111" text-anchor="end" >80</text><line x1="1734.6" y1="970.3" x2="1744.1" y2="970.3" stroke="#222" stroke-width="1.5" /><text x="1721.8" y="978.6" font-size="23" fill="#111" text-anchor="end" >60</text><line x1="1734.6" y1="1044.4" x2="1744.1" y2="1044.4" stroke="#222" stroke-width="1.5" /><text x="1721.8" y="1052.7" font-size="23" fill="#111" text-anchor="end" >40</text><line x1="1734.6" y1="1118.5" x2="1744.1" y2="1118.5" stroke="#222" stroke-width="1.5" /><text x="1721.8" y="1126.8" font-size="23" fill="#111" text-anchor="end" >20</text><line x1="1734.6" y1="1191.0" x2="1744.1" y2="1191.0" stroke="#222" stroke-width="1.5" /><text x="1721.8" y="1199.3" font-size="23" fill="#111" text-anchor="end" >0</text><line x1="1734.6" y1="1191.0" x2="2094.0" y2="1191.0" stroke="#222" stroke-width="1.5" /><rect x="1796.9" y="822.8" width="43.4" height="37.2" fill="#ffc000" /><rect x="1796.9" y="860.0" width="43.4" height="331.0" fill="#ed7d31" /><rect x="1905.1" y="822.8" width="43.6" height="19.0" fill="#ffc000" /><rect x="1905.1" y="841.8" width="43.6" height="294.9" fill="#4472c4" /><rect x="1905.1" y="1136.7" width="43.6" height="54.3" fill="#ed7d31" /><rect x="2013.6" y="822.8" width="43.4" height="91.1" fill="#a5a5a5" /><rect x="2013.6" y="913.9" width="43.4" height="277.1" fill="#ed7d31" /><text x="0" y="0" font-size="26" fill="#111" transform="translate(1656.0,1006.5) rotate(-90)" textLength="351.0" lengthAdjust="spacingAndGlyphs" text-anchor="middle" >Regeneration frequency (%)</text><text x="0" y="0" font-size="28" fill="#111" transform="translate(1826.5,1220.0) rotate(-45)" textLength="113.0" lengthAdjust="spacingAndGlyphs" text-anchor="end" >Wild type</text><text x="0" y="0" font-size="28" fill="#111" transform="translate(1940.0,1221.5) rotate(-45)" textLength="125.0" lengthAdjust="spacingAndGlyphs" text-anchor="end" ><tspan font-style="italic">WOX11-OE</tspan></text><text x="0" y="0" font-size="28" fill="#111" transform="translate(2049.7,1221.5) rotate(-45)" textLength="124.0" lengthAdjust="spacingAndGlyphs" text-anchor="end" ><tspan font-style="italic">LBD16-OE</tspan></text><text x="0" y="0" font-size="29" fill="#111" transform="translate(1432.0,279.0) rotate(-90)" textLength="242.0" lengthAdjust="spacingAndGlyphs" text-anchor="middle" >Non-touch medium</text><text x="0" y="0" font-size="28.5" fill="#111" transform="translate(727.8,1009.7) rotate(-90)" textLength="187.4" lengthAdjust="spacingAndGlyphs" text-anchor="middle" >Touch medium</text></svg></body></html>
